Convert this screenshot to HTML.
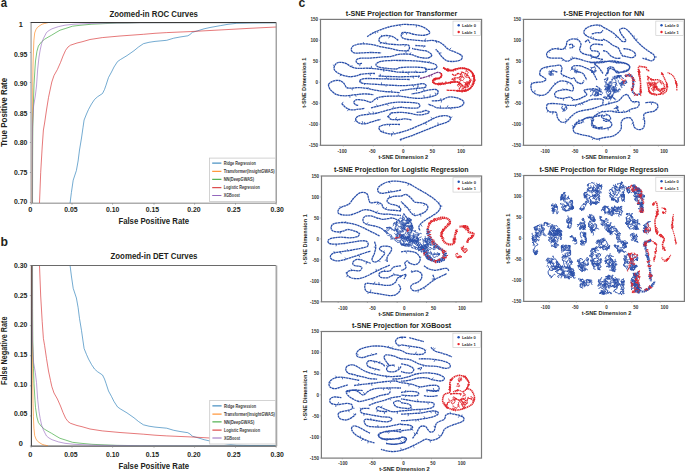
<!DOCTYPE html>
<html><head><meta charset="utf-8"><style>
html,body{margin:0;padding:0;background:#fff;width:685px;height:471px;overflow:hidden;}
svg{display:block;}
text{font-family:"Liberation Sans",sans-serif;}
</style></head><body>
<svg width="685" height="471" viewBox="0 0 685 471" font-family="Liberation Sans, sans-serif">
<rect width="685" height="471" fill="#fff"/>
<text transform="translate(0.7,6.9) scale(0.84,1)" font-size="13.6" font-weight="bold" fill="#231f20">a</text>
<text transform="translate(0.5,245.8) scale(0.9,1)" font-size="13.6" font-weight="bold" fill="#231f20">b</text>
<text transform="translate(298.4,7.0) scale(0.9,1)" font-size="13.6" font-weight="bold" fill="#231f20">c</text>
<line x1="31.1" y1="22.5" x2="31.1" y2="203.2" stroke="#b5b5b5" stroke-width="1.6"/>
<line x1="30.9" y1="203.2" x2="276.2" y2="203.2" stroke="#adadad" stroke-width="1.5"/>
<clipPath id="ca"><rect x="30.9" y="22.5" width="245.29999999999998" height="180.5"/></clipPath>
<g clip-path="url(#ca)">
<g>
<polyline points="69.0,215.0 70.1,202.8 71.4,192.5 73.2,180.2 76.4,170.5 78.1,161.0 79.5,150.0 81.5,138.0 83.0,127.5 84.1,120.0 86.5,114.0 88.5,109.5 91.5,104.0 94.5,99.5 97.5,96.8 102.5,93.5 104.5,89.5 106.0,85.2 108.5,77.5 111.5,72.0 114.0,67.0 117.5,61.6 120.5,59.5 127.0,55.6 134.0,50.7 138.5,47.0 143.4,43.7 149.0,42.3 155.0,41.4 166.7,40.3 173.7,38.2 180.0,37.0 187.8,35.8 190.0,34.5 192.4,32.3 197.0,31.0 204.1,28.8 210.0,27.5 220.5,25.6 228.0,24.3 236.8,23.3 250.0,23.0 276.5,22.8" fill="none" stroke="#1f77b4" stroke-width="1.0" stroke-linejoin="round" stroke-opacity="0.62"/>
<polyline points="32.2,215.0 32.4,150.0 32.7,87.8 33.0,65.0 33.4,52.0 33.9,40.3 34.7,32.9 36.0,29.5 37.5,27.3 40.0,25.5 42.1,24.2 44.5,23.5 46.6,23.0 48.0,22.6" fill="none" stroke="#ff7f0e" stroke-width="1.0" stroke-linejoin="round" stroke-opacity="0.62"/>
<polyline points="32.5,215.0 32.6,160.0 32.8,128.0 33.5,100.0 34.0,85.0 35.0,68.0 35.5,61.0 36.9,51.5 38.4,46.0 41.4,42.0 44.5,39.3 48.0,37.2 51.6,35.2 56.0,32.5 60.0,30.2 65.1,28.6 72.5,26.2 80.0,25.3 91.9,24.2 105.0,23.6 117.0,23.1 128.0,23.0 140.0,22.7 276.0,22.6" fill="none" stroke="#2ca02c" stroke-width="1.0" stroke-linejoin="round" stroke-opacity="0.62"/>
<polyline points="39.3,215.0 39.5,202.8 40.7,172.5 42.2,147.0 43.4,130.0 44.6,123.0 46.5,110.0 48.5,97.5 50.5,88.0 51.8,82.0 54.0,75.5 57.4,69.5 60.5,62.5 63.0,56.0 65.6,50.3 68.0,47.0 70.5,45.2 77.0,43.0 82.0,41.8 90.0,39.5 102.3,37.6 120.0,36.0 143.4,34.3 155.0,33.3 166.7,32.6 190.1,31.6 210.0,30.5 225.0,29.7 250.0,28.3 276.5,27.0" fill="none" stroke="#d62728" stroke-width="1.0" stroke-linejoin="round" stroke-opacity="0.62"/>
<polyline points="32.3,215.0 32.4,150.0 32.6,125.0 33.6,106.0 35.3,96.0 36.5,86.0 37.7,69.0 39.0,57.0 40.2,50.0 41.6,43.5 43.5,38.3 46.5,32.5 49.0,30.5 52.0,28.8 58.5,26.6 65.0,25.2 74.0,24.2 92.0,23.4 110.0,23.1 128.0,23.0 140.0,22.8 276.0,22.6" fill="none" stroke="#9467bd" stroke-width="1.0" stroke-linejoin="round" stroke-opacity="0.62"/>
</g></g>
<line x1="30.9" y1="22.5" x2="276.2" y2="22.5" stroke="#3a3a3a" stroke-width="1.1"/>
<line x1="276.2" y1="22.5" x2="276.2" y2="203.2" stroke="#858585" stroke-width="1.1"/>
<text x="153.7" y="17.2" font-size="8.6" font-weight="bold" text-anchor="middle" textLength="88.5" lengthAdjust="spacingAndGlyphs" fill="#231f20">Zoomed-in ROC Curves</text>
<text x="20.7" y="27.1" font-size="7.4" font-weight="bold" text-anchor="middle" fill="#231f20">1</text>
<line x1="29.9" y1="22.5" x2="30.9" y2="22.5" stroke="#888" stroke-width="0.8"/>
<text x="20.7" y="56.6" font-size="7.4" font-weight="bold" text-anchor="middle" textLength="13.4" lengthAdjust="spacingAndGlyphs" fill="#231f20">0.95</text>
<line x1="29.9" y1="52.5" x2="30.9" y2="52.5" stroke="#888" stroke-width="0.8"/>
<text x="20.7" y="86.1" font-size="7.4" font-weight="bold" text-anchor="middle" textLength="13.4" lengthAdjust="spacingAndGlyphs" fill="#231f20">0.90</text>
<line x1="29.9" y1="82.5" x2="30.9" y2="82.5" stroke="#888" stroke-width="0.8"/>
<text x="20.7" y="115.6" font-size="7.4" font-weight="bold" text-anchor="middle" textLength="13.4" lengthAdjust="spacingAndGlyphs" fill="#231f20">0.85</text>
<line x1="29.9" y1="112.5" x2="30.9" y2="112.5" stroke="#888" stroke-width="0.8"/>
<text x="20.7" y="145.1" font-size="7.4" font-weight="bold" text-anchor="middle" textLength="13.4" lengthAdjust="spacingAndGlyphs" fill="#231f20">0.80</text>
<line x1="29.9" y1="142.5" x2="30.9" y2="142.5" stroke="#888" stroke-width="0.8"/>
<text x="20.7" y="174.6" font-size="7.4" font-weight="bold" text-anchor="middle" textLength="13.4" lengthAdjust="spacingAndGlyphs" fill="#231f20">0.75</text>
<line x1="29.9" y1="172.5" x2="30.9" y2="172.5" stroke="#888" stroke-width="0.8"/>
<text x="20.7" y="204.1" font-size="7.4" font-weight="bold" text-anchor="middle" textLength="13.4" lengthAdjust="spacingAndGlyphs" fill="#231f20">0.70</text>
<line x1="29.9" y1="202.5" x2="30.9" y2="202.5" stroke="#888" stroke-width="0.8"/>
<text x="30.4" y="211.9" font-size="7.4" font-weight="bold" text-anchor="middle" fill="#231f20">0</text>
<line x1="31.1" y1="203.2" x2="31.1" y2="204.6" stroke="#888" stroke-width="0.8"/>
<text x="70.9" y="211.9" font-size="7.4" font-weight="bold" text-anchor="middle" textLength="13.4" lengthAdjust="spacingAndGlyphs" fill="#231f20">0.05</text>
<line x1="72.0" y1="203.2" x2="72.0" y2="204.6" stroke="#888" stroke-width="0.8"/>
<text x="112.6" y="211.9" font-size="7.4" font-weight="bold" text-anchor="middle" textLength="13.4" lengthAdjust="spacingAndGlyphs" fill="#231f20">0.10</text>
<line x1="112.6" y1="203.2" x2="112.6" y2="204.6" stroke="#888" stroke-width="0.8"/>
<text x="152.5" y="211.9" font-size="7.4" font-weight="bold" text-anchor="middle" textLength="13.4" lengthAdjust="spacingAndGlyphs" fill="#231f20">0.15</text>
<line x1="154.0" y1="203.2" x2="154.0" y2="204.6" stroke="#888" stroke-width="0.8"/>
<text x="194.0" y="211.9" font-size="7.4" font-weight="bold" text-anchor="middle" textLength="13.4" lengthAdjust="spacingAndGlyphs" fill="#231f20">0.20</text>
<line x1="194.6" y1="203.2" x2="194.6" y2="204.6" stroke="#888" stroke-width="0.8"/>
<text x="233.8" y="211.9" font-size="7.4" font-weight="bold" text-anchor="middle" textLength="13.4" lengthAdjust="spacingAndGlyphs" fill="#231f20">0.25</text>
<line x1="235.5" y1="203.2" x2="235.5" y2="204.6" stroke="#888" stroke-width="0.8"/>
<text x="277.1" y="211.9" font-size="7.4" font-weight="bold" text-anchor="middle" textLength="13.4" lengthAdjust="spacingAndGlyphs" fill="#231f20">0.30</text>
<line x1="276.2" y1="203.2" x2="276.2" y2="204.6" stroke="#888" stroke-width="0.8"/>
<text x="153.8" y="223.5" font-size="8.2" font-weight="bold" text-anchor="middle" textLength="70.8" lengthAdjust="spacingAndGlyphs" fill="#231f20">False Positive Rate</text>
<text transform="translate(7.0,112.3) rotate(-90)" font-size="8.2" font-weight="bold" text-anchor="middle" textLength="69" lengthAdjust="spacingAndGlyphs" fill="#231f20">True Positive Rate</text>
<rect x="209.5" y="158.1" width="66.0" height="43.30000000000001" fill="#fff" stroke="#c8c8c8" stroke-width="0.8"/>
<line x1="212.2" y1="163.1" x2="221.4" y2="163.1" stroke="#1f77b4" stroke-width="1.0"/>
<text x="223.7" y="164.75" font-size="4.7" font-weight="bold" text-anchor="start" textLength="32.1" lengthAdjust="spacingAndGlyphs" fill="#3a3a3a">Ridge Regression</text>
<line x1="212.2" y1="171.3" x2="221.4" y2="171.3" stroke="#ff7f0e" stroke-width="1.0"/>
<text x="223.7" y="172.95000000000002" font-size="4.7" font-weight="bold" text-anchor="start" textLength="51.0" lengthAdjust="spacingAndGlyphs" fill="#3a3a3a">Transformer(InsightGWAS)</text>
<line x1="212.2" y1="179.3" x2="221.4" y2="179.3" stroke="#2ca02c" stroke-width="1.0"/>
<text x="223.7" y="180.95000000000002" font-size="4.7" font-weight="bold" text-anchor="start" textLength="30.4" lengthAdjust="spacingAndGlyphs" fill="#3a3a3a">NN(DeepGWAS)</text>
<line x1="212.2" y1="187.7" x2="221.4" y2="187.7" stroke="#d62728" stroke-width="1.0"/>
<text x="223.7" y="189.35" font-size="4.7" font-weight="bold" text-anchor="start" textLength="36.1" lengthAdjust="spacingAndGlyphs" fill="#3a3a3a">Logistic Regression</text>
<line x1="212.2" y1="195.5" x2="221.4" y2="195.5" stroke="#9467bd" stroke-width="1.0"/>
<text x="223.7" y="197.15" font-size="4.7" font-weight="bold" text-anchor="start" textLength="16.1" lengthAdjust="spacingAndGlyphs" fill="#3a3a3a">XGBoost</text>
<line x1="31.4" y1="265.5" x2="31.4" y2="446.2" stroke="#444" stroke-width="1.1"/>
<line x1="30.9" y1="446.2" x2="276.2" y2="446.2" stroke="#555" stroke-width="1.3"/>
<clipPath id="cb"><rect x="30.9" y="265.5" width="245.29999999999998" height="180.5"/></clipPath>
<g clip-path="url(#cb)">
<g transform="translate(0,468.5) scale(1,-1)">
<polyline points="69.0,215.0 70.1,202.8 71.4,192.5 73.2,180.2 76.4,170.5 78.1,161.0 79.5,150.0 81.5,138.0 83.0,127.5 84.1,120.0 86.5,114.0 88.5,109.5 91.5,104.0 94.5,99.5 97.5,96.8 102.5,93.5 104.5,89.5 106.0,85.2 108.5,77.5 111.5,72.0 114.0,67.0 117.5,61.6 120.5,59.5 127.0,55.6 134.0,50.7 138.5,47.0 143.4,43.7 149.0,42.3 155.0,41.4 166.7,40.3 173.7,38.2 180.0,37.0 187.8,35.8 190.0,34.5 192.4,32.3 197.0,31.0 204.1,28.8 210.0,27.5 220.5,25.6 228.0,24.3 236.8,23.3 250.0,23.0 276.5,22.8" fill="none" stroke="#1f77b4" stroke-width="1.0" stroke-linejoin="round" stroke-opacity="0.62"/>
<polyline points="32.2,215.0 32.4,150.0 32.7,87.8 33.0,65.0 33.4,52.0 33.9,40.3 34.7,32.9 36.0,29.5 37.5,27.3 40.0,25.5 42.1,24.2 44.5,23.5 46.6,23.0 48.0,22.6" fill="none" stroke="#ff7f0e" stroke-width="1.0" stroke-linejoin="round" stroke-opacity="0.62"/>
<polyline points="32.5,215.0 32.6,160.0 32.8,128.0 33.5,100.0 34.0,85.0 35.0,68.0 35.5,61.0 36.9,51.5 38.4,46.0 41.4,42.0 44.5,39.3 48.0,37.2 51.6,35.2 56.0,32.5 60.0,30.2 65.1,28.6 72.5,26.2 80.0,25.3 91.9,24.2 105.0,23.6 117.0,23.1 128.0,23.0 140.0,22.7 276.0,22.6" fill="none" stroke="#2ca02c" stroke-width="1.0" stroke-linejoin="round" stroke-opacity="0.62"/>
<polyline points="39.3,215.0 39.5,202.8 40.7,172.5 42.2,147.0 43.4,130.0 44.6,123.0 46.5,110.0 48.5,97.5 50.5,88.0 51.8,82.0 54.0,75.5 57.4,69.5 60.5,62.5 63.0,56.0 65.6,50.3 68.0,47.0 70.5,45.2 77.0,43.0 82.0,41.8 90.0,39.5 102.3,37.6 120.0,36.0 143.4,34.3 155.0,33.3 166.7,32.6 190.1,31.6 210.0,30.5 225.0,29.7 250.0,28.3 276.5,27.0" fill="none" stroke="#d62728" stroke-width="1.0" stroke-linejoin="round" stroke-opacity="0.62"/>
<polyline points="32.3,215.0 32.4,150.0 32.6,125.0 33.6,106.0 35.3,96.0 36.5,86.0 37.7,69.0 39.0,57.0 40.2,50.0 41.6,43.5 43.5,38.3 46.5,32.5 49.0,30.5 52.0,28.8 58.5,26.6 65.0,25.2 74.0,24.2 92.0,23.4 110.0,23.1 128.0,23.0 140.0,22.8 276.0,22.6" fill="none" stroke="#9467bd" stroke-width="1.0" stroke-linejoin="round" stroke-opacity="0.62"/>
</g></g>
<line x1="30.9" y1="265.5" x2="276.2" y2="265.5" stroke="#6a6a6a" stroke-width="1.1"/>
<line x1="276.4" y1="265.5" x2="276.4" y2="446.2" stroke="#a8a8a8" stroke-width="1.8"/>
<text x="154.0" y="259.3" font-size="8.6" font-weight="bold" text-anchor="middle" textLength="87" lengthAdjust="spacingAndGlyphs" fill="#231f20">Zoomed-in DET Curves</text>
<text x="20.7" y="268.4" font-size="7.4" font-weight="bold" text-anchor="middle" textLength="13.4" lengthAdjust="spacingAndGlyphs" fill="#231f20">0.30</text>
<line x1="29.9" y1="265.5" x2="30.9" y2="265.5" stroke="#888" stroke-width="0.8"/>
<text x="20.7" y="297.92999999999995" font-size="7.4" font-weight="bold" text-anchor="middle" textLength="13.4" lengthAdjust="spacingAndGlyphs" fill="#231f20">0.25</text>
<line x1="29.9" y1="295.58" x2="30.9" y2="295.58" stroke="#888" stroke-width="0.8"/>
<text x="20.7" y="327.46" font-size="7.4" font-weight="bold" text-anchor="middle" textLength="13.4" lengthAdjust="spacingAndGlyphs" fill="#231f20">0.20</text>
<line x1="29.9" y1="325.65999999999997" x2="30.9" y2="325.65999999999997" stroke="#888" stroke-width="0.8"/>
<text x="20.7" y="356.99" font-size="7.4" font-weight="bold" text-anchor="middle" textLength="13.4" lengthAdjust="spacingAndGlyphs" fill="#231f20">0.15</text>
<line x1="29.9" y1="355.74" x2="30.9" y2="355.74" stroke="#888" stroke-width="0.8"/>
<text x="20.7" y="386.52" font-size="7.4" font-weight="bold" text-anchor="middle" textLength="13.4" lengthAdjust="spacingAndGlyphs" fill="#231f20">0.10</text>
<line x1="29.9" y1="385.82" x2="30.9" y2="385.82" stroke="#888" stroke-width="0.8"/>
<text x="20.7" y="416.04999999999995" font-size="7.4" font-weight="bold" text-anchor="middle" textLength="13.4" lengthAdjust="spacingAndGlyphs" fill="#231f20">0.05</text>
<line x1="29.9" y1="415.9" x2="30.9" y2="415.9" stroke="#888" stroke-width="0.8"/>
<text x="20.7" y="445.58" font-size="7.4" font-weight="bold" text-anchor="middle" fill="#231f20">0</text>
<line x1="29.9" y1="445.98" x2="30.9" y2="445.98" stroke="#888" stroke-width="0.8"/>
<text x="30.4" y="456.6" font-size="7.4" font-weight="bold" text-anchor="middle" fill="#231f20">0</text>
<line x1="31.1" y1="446.2" x2="31.1" y2="447.6" stroke="#888" stroke-width="0.8"/>
<text x="70.9" y="456.6" font-size="7.4" font-weight="bold" text-anchor="middle" textLength="13.4" lengthAdjust="spacingAndGlyphs" fill="#231f20">0.05</text>
<line x1="72.0" y1="446.2" x2="72.0" y2="447.6" stroke="#888" stroke-width="0.8"/>
<text x="112.6" y="456.6" font-size="7.4" font-weight="bold" text-anchor="middle" textLength="13.4" lengthAdjust="spacingAndGlyphs" fill="#231f20">0.10</text>
<line x1="112.6" y1="446.2" x2="112.6" y2="447.6" stroke="#888" stroke-width="0.8"/>
<text x="152.5" y="456.6" font-size="7.4" font-weight="bold" text-anchor="middle" textLength="13.4" lengthAdjust="spacingAndGlyphs" fill="#231f20">0.15</text>
<line x1="154.0" y1="446.2" x2="154.0" y2="447.6" stroke="#888" stroke-width="0.8"/>
<text x="194.0" y="456.6" font-size="7.4" font-weight="bold" text-anchor="middle" textLength="13.4" lengthAdjust="spacingAndGlyphs" fill="#231f20">0.20</text>
<line x1="194.6" y1="446.2" x2="194.6" y2="447.6" stroke="#888" stroke-width="0.8"/>
<text x="233.8" y="456.6" font-size="7.4" font-weight="bold" text-anchor="middle" textLength="13.4" lengthAdjust="spacingAndGlyphs" fill="#231f20">0.25</text>
<line x1="235.5" y1="446.2" x2="235.5" y2="447.6" stroke="#888" stroke-width="0.8"/>
<text x="277.1" y="456.6" font-size="7.4" font-weight="bold" text-anchor="middle" textLength="13.4" lengthAdjust="spacingAndGlyphs" fill="#231f20">0.30</text>
<line x1="276.2" y1="446.2" x2="276.2" y2="447.6" stroke="#888" stroke-width="0.8"/>
<text x="153.8" y="468.5" font-size="8.2" font-weight="bold" text-anchor="middle" textLength="70.8" lengthAdjust="spacingAndGlyphs" fill="#231f20">False Positive Rate</text>
<text transform="translate(7.0,350.7) rotate(-90)" font-size="8.2" font-weight="bold" text-anchor="middle" textLength="68.5" lengthAdjust="spacingAndGlyphs" fill="#231f20">False Negative Rate</text>
<rect x="209.7" y="400.4" width="65.80000000000001" height="43.60000000000002" fill="#fff" stroke="#c8c8c8" stroke-width="0.8"/>
<line x1="212.39999999999998" y1="405.9" x2="221.6" y2="405.9" stroke="#1f77b4" stroke-width="1.0"/>
<text x="223.89999999999998" y="407.54999999999995" font-size="4.7" font-weight="bold" text-anchor="start" textLength="32.1" lengthAdjust="spacingAndGlyphs" fill="#3a3a3a">Ridge Regression</text>
<line x1="212.39999999999998" y1="414.1" x2="221.6" y2="414.1" stroke="#ff7f0e" stroke-width="1.0"/>
<text x="223.89999999999998" y="415.75" font-size="4.7" font-weight="bold" text-anchor="start" textLength="51.0" lengthAdjust="spacingAndGlyphs" fill="#3a3a3a">Transformer(InsightGWAS)</text>
<line x1="212.39999999999998" y1="421.9" x2="221.6" y2="421.9" stroke="#2ca02c" stroke-width="1.0"/>
<text x="223.89999999999998" y="423.54999999999995" font-size="4.7" font-weight="bold" text-anchor="start" textLength="30.4" lengthAdjust="spacingAndGlyphs" fill="#3a3a3a">NN(DeepGWAS)</text>
<line x1="212.39999999999998" y1="430.1" x2="221.6" y2="430.1" stroke="#d62728" stroke-width="1.0"/>
<text x="223.89999999999998" y="431.75" font-size="4.7" font-weight="bold" text-anchor="start" textLength="36.1" lengthAdjust="spacingAndGlyphs" fill="#3a3a3a">Logistic Regression</text>
<line x1="212.39999999999998" y1="438.0" x2="221.6" y2="438.0" stroke="#9467bd" stroke-width="1.0"/>
<text x="223.89999999999998" y="439.65" font-size="4.7" font-weight="bold" text-anchor="start" textLength="16.1" lengthAdjust="spacingAndGlyphs" fill="#3a3a3a">XGBoost</text>
<path d="M367.1,36.6 C368.2,36.0 371.2,33.9 373.5,32.7 C375.8,31.5 378.6,30.6 381.1,29.6 C383.7,28.7 385.7,27.8 388.8,27.0 C391.9,26.2 396.9,25.2 400.0,24.8 C403.1,24.4 404.8,24.4 407.6,24.5 C410.4,24.6 413.8,24.6 416.6,25.1 C419.4,25.6 422.1,26.5 424.2,27.6 C426.3,28.7 428.6,30.4 429.3,31.5 C430.1,32.6 429.8,33.4 428.7,34.0 C427.6,34.6 425.1,35.2 422.9,35.3 C420.7,35.4 417.9,35.0 415.3,34.6 C412.8,34.2 409.7,33.0 407.6,32.7 C405.5,32.4 403.6,32.2 402.5,32.7 C401.4,33.2 401.1,34.9 401.3,35.9 C401.5,36.9 402.3,37.9 403.8,38.5 C405.3,39.1 407.9,39.4 410.2,39.7 C412.5,40.0 415.2,40.2 417.8,40.4 C420.4,40.6 423.2,41.0 425.5,41.0 C427.8,41.0 429.7,40.3 431.8,40.4 C433.9,40.5 436.3,41.0 438.2,41.7 C440.1,42.4 441.6,43.5 443.3,44.8 C445.0,46.1 446.3,48.0 448.4,49.3 C450.5,50.6 453.9,51.4 456.1,52.5 C458.3,53.6 461.0,54.5 461.8,55.7 C462.6,56.9 462.3,58.5 461.1,59.5 C459.9,60.5 457.1,61.2 454.8,61.4 C452.5,61.6 449.2,61.5 447.1,60.8 C445.0,60.0 443.5,58.4 442.0,56.9 C440.5,55.4 439.2,53.1 438.2,51.8 C437.1,50.5 436.1,49.7 435.7,49.3 M398.3,40.4 C397.4,39.8 394.6,37.4 392.6,36.6 C390.6,35.8 388.1,35.5 386.2,35.5 C384.3,35.5 382.3,35.9 381.1,36.6 C379.9,37.3 379.0,38.8 378.9,39.7 C378.8,40.7 379.3,41.6 380.5,42.3 C381.7,42.9 384.0,43.2 386.2,43.6 C388.4,44.0 391.6,44.3 393.9,44.5 C396.2,44.7 397.7,44.8 400.0,44.8 C402.3,44.8 406.0,44.4 407.6,44.8 C409.2,45.2 409.5,46.4 409.5,47.4 C409.5,48.4 409.2,50.1 407.6,50.6 C406.0,51.1 402.7,50.9 400.0,50.6 C397.3,50.3 394.4,49.3 391.3,48.7 C388.2,48.1 384.1,47.4 381.1,46.8 C378.1,46.1 376.0,45.3 373.5,44.8 C371.0,44.3 368.4,44.0 365.9,43.9 C363.3,43.8 360.3,43.8 358.2,44.2 C356.1,44.6 354.3,45.2 353.1,46.1 C351.9,47.0 351.0,48.8 351.2,49.9 C351.4,51.0 352.6,52.4 354.4,52.9 C356.2,53.4 359.2,53.0 362.0,52.9 C364.8,52.8 367.8,52.5 371.0,52.5 C374.2,52.5 379.4,52.8 381.1,52.9 M362.0,63.3 C361.5,63.4 359.8,64.1 358.9,63.9 C357.9,63.7 356.6,62.7 356.3,62.0 C356.0,61.3 356.1,60.1 356.9,59.5 C357.6,58.9 358.9,58.4 360.8,58.2 C362.7,58.0 365.8,58.3 368.4,58.2 C370.9,58.1 373.6,57.8 376.1,57.6 C378.7,57.4 381.2,57.1 383.7,56.9 C386.2,56.7 388.6,56.8 391.3,56.3 C394.0,55.8 396.9,54.5 400.0,54.2 C403.1,53.9 407.0,53.9 410.2,54.4 C413.4,54.9 416.1,56.6 419.1,57.2 C422.1,57.8 425.9,58.4 428.0,58.0 C430.1,57.6 432.0,56.1 431.8,55.0 C431.6,53.9 428.9,52.1 426.8,51.2 C424.7,50.4 421.6,50.4 419.1,49.9 C416.6,49.4 413.2,48.7 412.0,48.5 M415.3,45.5 L425.5,46.1 M425.0,69.5 C426.6,69.4 432.4,69.5 434.4,69.0 C436.4,68.5 436.9,67.3 436.9,66.5 C436.9,65.7 436.3,64.8 434.4,64.0 C432.5,63.2 429.1,62.5 425.5,62.0 C421.9,61.5 416.9,61.0 412.7,60.8 C408.4,60.5 403.6,60.5 400.0,60.5 C396.4,60.5 394.4,60.4 391.3,60.5 C388.2,60.6 383.5,60.9 381.1,61.4 C378.7,61.9 377.5,62.7 376.7,63.3 C375.9,63.9 375.8,64.6 376.1,65.2 C376.4,65.8 376.9,66.6 378.6,67.1 C380.3,67.6 383.2,67.9 386.2,68.2 C389.2,68.5 394.1,69.1 396.4,69.0 C398.7,68.9 397.3,67.9 400.0,67.6 C402.7,67.3 408.7,67.1 412.7,67.1 C416.7,67.1 421.8,67.4 424.2,67.8 C426.6,68.2 426.8,69.0 426.8,69.7 C426.8,70.4 426.6,71.8 424.2,72.2 C421.8,72.6 416.7,72.2 412.7,72.2 C408.7,72.2 403.6,72.4 400.0,72.2 C396.4,72.0 394.4,71.5 391.3,71.0 C388.2,70.5 384.1,69.9 381.1,69.5 C378.1,69.1 376.0,68.8 373.5,68.6 C371.0,68.4 368.4,68.2 365.9,68.2 C363.3,68.2 360.5,68.6 358.2,68.4 C355.9,68.2 353.7,67.8 351.8,67.1 C349.9,66.3 348.5,64.7 346.8,63.9 C345.1,63.1 343.4,62.4 341.7,62.3 C340.0,62.2 337.9,62.4 336.6,63.3 C335.3,64.2 334.1,66.4 334.0,67.8 C333.9,69.2 334.6,70.4 335.9,71.6 C337.2,72.8 339.5,73.9 341.7,74.8 C343.9,75.7 347.0,76.5 349.3,76.7 C351.6,76.9 353.6,76.4 355.7,76.0 C357.8,75.6 359.7,74.5 362.0,74.1 C364.3,73.7 367.5,73.6 369.7,73.5 C371.9,73.4 374.1,73.5 375.0,73.5 M378.6,76.0 C380.5,76.1 386.4,76.4 390.0,76.5 C393.6,76.6 396.3,76.8 400.0,76.8 C403.7,76.8 408.7,76.6 412.0,76.5 C415.3,76.4 418.7,76.2 420.0,76.2 M359.5,80.5 C360.4,80.2 361.2,78.9 364.6,78.6 C368.0,78.3 374.1,78.7 380.0,78.8 C385.9,78.9 395.0,79.2 400.0,79.3 C405.0,79.4 408.3,79.5 410.0,79.5 M359.5,80.5 C359.9,80.9 359.0,82.4 362.0,83.1 C365.0,83.8 371.0,84.0 377.3,84.4 C383.6,84.8 394.1,85.5 400.0,85.6 C405.9,85.7 408.9,85.3 412.7,85.0 C416.5,84.7 420.7,83.6 422.9,83.7 C425.1,83.8 425.9,84.9 426.1,85.6 C426.3,86.2 426.4,87.1 424.2,87.6 C422.0,88.1 416.7,88.3 412.7,88.8 C408.7,89.3 402.1,90.4 400.0,90.7 M328.3,84.4 C329.0,83.9 330.9,81.9 332.7,81.2 C334.5,80.5 337.3,80.2 339.1,80.5 C340.9,80.8 342.3,81.9 343.6,83.1 C344.9,84.3 345.4,86.8 346.8,87.6 C348.2,88.4 349.9,88.2 351.8,88.2 C353.7,88.2 355.9,87.6 358.2,87.6 C360.5,87.6 363.1,87.8 365.9,88.2 C368.7,88.6 371.8,89.6 374.8,90.1 C377.8,90.6 379.5,91.0 383.7,91.4 C387.9,91.8 397.3,92.4 400.0,92.6 M328.3,84.4 C328.6,85.2 328.8,87.8 330.2,89.5 C331.6,91.2 334.1,93.5 336.6,94.6 C339.2,95.6 342.3,95.8 345.5,95.8 C348.7,95.8 352.5,94.9 355.7,94.6 C358.9,94.3 361.6,93.9 364.6,93.9 C367.6,93.9 372.0,94.5 373.5,94.6 M358.2,105.4 C357.8,105.3 356.4,105.3 355.7,104.8 C355.0,104.3 353.6,103.0 353.8,102.2 C354.0,101.4 355.1,100.0 356.9,99.7 C358.7,99.4 362.2,99.9 364.6,100.3 C367.0,100.7 369.1,102.5 371.0,102.2 C372.9,101.9 374.0,99.4 376.1,98.4 C378.2,97.5 379.7,96.9 383.7,96.5 C387.7,96.1 395.6,96.0 400.0,96.2 C404.4,96.4 407.0,97.3 410.2,97.7 C413.4,98.1 415.9,98.5 419.1,98.4 C422.3,98.3 426.5,97.6 429.3,97.1 C432.1,96.6 434.2,96.0 435.7,95.2 C437.2,94.4 438.2,93.0 438.2,92.0 C438.2,91.0 437.4,89.8 435.7,89.5 C434.0,89.2 430.8,89.6 428.0,90.1 C425.2,90.6 421.9,92.0 419.1,92.6 C416.4,93.2 412.8,93.7 411.5,93.9 M341.7,103.5 C342.3,104.1 344.0,106.2 345.5,107.3 C347.0,108.3 348.5,109.5 350.6,109.8 C352.7,110.1 355.9,109.5 358.2,109.2 C360.5,109.0 363.5,108.5 364.6,108.3 M371.0,107.9 C372.7,107.5 377.7,106.2 381.1,105.4 C384.5,104.6 388.2,103.3 391.3,102.8 C394.4,102.3 396.0,102.2 400.0,102.2 C404.0,102.2 412.0,102.4 415.3,102.8 C418.6,103.2 419.3,103.9 419.7,104.8 C420.1,105.7 419.8,107.4 417.8,107.9 C415.8,108.4 410.6,108.0 407.6,107.9 C404.6,107.8 403.1,107.0 400.0,107.3 C396.9,107.6 392.6,108.8 388.8,109.8 C385.0,110.8 380.7,112.2 377.3,113.0 C373.9,113.8 371.4,113.9 368.4,114.3 C365.4,114.7 361.6,114.8 359.5,115.6 C357.4,116.3 355.9,117.6 355.7,118.8 C355.5,120.0 356.7,121.8 358.2,122.6 C359.7,123.4 362.1,124.1 364.6,123.9 C367.2,123.7 370.9,122.0 373.5,121.3 C376.1,120.5 379.3,119.7 380.5,119.4 M431.8,100.9 C433.3,100.8 438.0,100.9 440.8,100.3 C443.6,99.7 445.8,97.5 448.4,97.1 C450.9,96.7 453.8,97.2 456.1,97.7 C458.4,98.2 461.1,99.3 462.4,100.3 C463.7,101.3 464.1,102.4 463.7,103.5 C463.3,104.6 462.0,106.0 459.9,106.7 C457.8,107.4 454.6,107.7 451.0,107.9 C447.4,108.1 441.2,108.2 438.2,107.9 C435.2,107.6 434.8,106.6 433.1,106.0 C431.4,105.4 428.9,104.4 428.0,104.1 M387.3,117.0 C387.8,116.6 389.3,115.2 390.0,114.5 C390.7,113.8 389.6,113.3 391.3,113.0 C393.0,112.7 397.3,112.4 400.0,112.4 C402.7,112.4 404.4,112.6 407.6,113.0 C410.8,113.4 415.9,114.8 419.1,114.9 C422.3,115.0 425.1,114.2 426.8,113.7 C428.5,113.2 429.5,112.3 429.3,111.8 C429.1,111.3 426.8,110.5 425.5,110.5 C424.2,110.5 423.2,111.5 421.7,111.8 C420.2,112.1 417.5,112.3 416.6,112.4 M388.2,116.2 C388.7,116.7 389.3,118.9 391.3,119.4 C393.3,120.0 397.7,119.6 400.0,119.5 C402.3,119.4 403.2,118.7 405.1,118.8 C407.0,118.9 410.4,119.8 411.5,120.0 M400.0,124.5 C397.7,124.5 389.6,124.2 386.2,124.5 C382.8,124.8 381.1,125.7 379.9,126.4 C378.7,127.2 378.8,128.1 379.2,129.0 C379.6,129.9 380.4,131.3 382.4,132.1 C384.4,132.9 388.4,133.9 391.3,134.0 C394.2,134.1 396.9,133.3 400.0,132.5 C403.1,131.7 405.8,131.0 410.0,129.3 C414.2,127.7 421.2,124.6 425.5,122.6 C429.8,120.6 432.5,118.7 435.7,117.5 C438.9,116.3 442.3,115.7 444.6,115.6 C446.9,115.5 448.8,116.3 449.7,116.9 C450.6,117.5 450.7,118.6 450.3,119.4 C449.9,120.2 449.1,121.0 447.1,122.0 C445.1,123.0 441.8,123.7 438.2,125.1 C434.6,126.5 429.8,128.5 425.5,130.2 C421.2,131.9 416.1,134.0 412.7,135.3 C409.3,136.6 407.3,137.2 405.1,137.9 C402.9,138.7 400.4,139.5 399.5,139.8" fill="none" stroke="#2b50aa" stroke-width="1.3" stroke-dasharray="2.4 0.4" stroke-linecap="butt" stroke-linejoin="round"/>
<path d="M375.0,32.6 l0.3,0.8 M377.3,31.7 l0.4,0.8 M399.8,25.4 l0.6,0.8 M416.6,25.6 l-0.3,1.4 M406.5,33.2 l0.0,1.0 M403.3,33.2 l-0.6,1.2 M424.8,40.4 l0.8,-1.6 M436.4,41.8 l0.3,0.9 M449.7,49.3 l1.2,-1.2 M439.7,53.0 l1.4,-0.1 M389.6,36.6 l-0.8,1.4 M381.9,35.9 l-0.5,-0.7 M380.4,42.8 l-0.1,0.9 M386.0,43.0 l-0.1,-0.9 M405.3,45.3 l-0.4,1.0 M408.1,50.7 l0.8,0.5 M406.3,51.1 l-0.4,1.6 M363.2,43.5 l0.2,-1.0 M360.0,64.2 l-0.2,1.6 M410.1,53.9 l0.7,-1.1 M424.0,46.5 l-0.3,0.7 M428.8,62.2 l0.6,-0.9 M384.2,68.4 l-0.7,1.3 M416.0,71.7 l-0.2,-0.8 M407.7,72.7 l0.8,1.6 M403.1,71.7 l-0.1,-0.9 M383.4,70.3 l0.4,1.1 M371.4,68.0 l-0.0,-1.7 M351.7,66.4 l0.3,-0.9 M334.5,65.9 l-1.3,-0.8 M341.1,75.0 l-1.0,0.8 M370.0,74.0 l0.4,1.5 M380.5,75.6 l-0.3,-1.4 M413.0,77.0 l0.5,1.2 M418.1,76.8 l0.7,1.0 M360.5,80.7 l0.4,1.3 M386.3,78.5 l0.4,-1.4 M364.8,83.8 l-0.4,0.8 M381.4,84.1 l0.1,-1.3 M385.8,85.3 l0.2,0.9 M413.1,85.4 l0.5,1.4 M418.0,84.8 l-0.2,1.5 M417.5,87.8 l0.7,-1.6 M416.3,88.9 l0.3,1.7 M351.9,88.7 l0.4,1.2 M367.7,88.1 l0.6,-0.7 M391.0,91.4 l0.6,-0.9 M350.0,95.8 l-0.1,1.6 M355.6,95.1 l0.4,1.2 M377.1,98.7 l0.5,0.9 M398.3,95.7 l-0.0,-0.9 M424.2,97.2 l-0.3,-1.7 M430.0,96.4 l0.2,-1.6 M435.7,94.4 l-0.5,-1.4 M423.9,90.7 l-0.2,-1.7 M342.2,103.3 l0.8,-1.1 M348.6,109.4 l-1.0,1.4 M377.2,105.9 l-0.6,-1.1 M387.2,104.4 l0.9,1.2 M393.0,108.3 l0.4,-1.6 M373.5,113.0 l-0.4,-1.1 M369.9,113.6 l-1.0,-1.5 M355.9,120.0 l-1.0,1.4 M362.8,123.0 l-0.5,-1.5 M364.6,123.4 l0.0,-1.1 M440.2,99.8 l0.6,-1.3 M441.6,100.5 l-0.3,1.7 M450.5,108.4 l0.5,0.9 M447.0,107.4 l0.8,-1.6 M440.5,107.4 l-0.1,-1.5 M395.6,118.9 l0.8,-1.4 M397.9,120.0 l-0.5,0.8 M389.4,125.0 l0.2,1.0 M383.2,131.8 l-0.0,-1.0 M391.6,134.5 l0.0,1.4 M393.7,133.1 l-0.5,-1.1 M425.5,123.2 l0.8,1.4 M432.5,118.5 l-1.4,-1.0 M450.5,118.0 l1.5,-1.0 M438.2,124.6 l-0.3,-1.7 M400.9,139.9 l-0.1,0.8" fill="none" stroke="#2b50aa" stroke-width="0.8" stroke-linecap="round"/>
<path d="M420.0,78.4 C420.9,78.2 423.2,77.8 425.3,77.1 C427.4,76.4 430.3,75.2 432.3,74.4 C434.3,73.6 436.1,72.5 437.5,72.3 C438.9,72.1 440.4,73.0 441.0,73.1" fill="none" stroke="#7a3a8a" stroke-width="1.3" stroke-dasharray="2.4 0.4" stroke-linecap="butt" stroke-linejoin="round"/>
<path d="M429.1,76.2 l0.3,0.8 M431.2,75.4 l0.4,0.8" fill="none" stroke="#7a3a8a" stroke-width="0.8" stroke-linecap="round"/>
<path d="M443.2,67.4 C443.7,67.8 444.9,69.1 446.3,69.6 C447.7,70.1 449.8,70.6 451.5,70.5 C453.2,70.4 454.8,69.2 456.8,68.8 C458.9,68.4 461.6,68.0 463.8,68.3 C466.0,68.6 468.3,69.4 469.9,70.5 C471.5,71.6 472.7,73.3 473.4,74.9 C474.1,76.5 474.4,78.3 474.3,80.1 C474.2,81.8 473.5,83.8 472.5,85.4 C471.5,87.0 469.9,88.8 468.2,89.8 C466.4,90.8 463.9,91.0 462.0,91.1 C460.1,91.2 459.4,90.8 456.8,90.6 C454.2,90.4 448.1,90.3 446.3,90.2 M441.0,73.1 C441.1,73.5 441.8,74.9 441.5,75.8 C441.2,76.7 440.4,77.9 439.3,78.4 C438.2,78.9 436.0,78.4 434.9,78.8 C433.8,79.2 432.8,80.3 432.7,81.0 C432.6,81.7 432.9,82.7 434.0,83.2 C435.1,83.7 437.2,84.1 439.3,84.1 C441.4,84.1 444.3,83.5 446.3,83.2 C448.3,82.9 449.8,82.5 451.5,82.3 C453.2,82.1 455.3,81.7 456.8,81.9 C458.3,82.1 459.3,82.9 460.3,83.6 C461.3,84.3 462.1,85.2 463.0,86.0 C463.9,86.8 465.5,88.1 466.0,88.5 M452.0,74.0 C452.5,74.2 454.0,75.6 455.0,75.5 C456.0,75.4 457.0,73.6 458.0,73.5 C459.0,73.4 460.8,74.3 461.0,75.0 C461.2,75.7 460.0,77.0 459.0,77.5 C458.0,78.0 456.2,77.7 455.0,78.0 C453.8,78.3 451.8,79.2 452.0,79.5 C452.2,79.8 455.3,79.9 456.0,80.0 M462.0,72.0 C462.7,72.3 464.8,73.2 466.0,74.0 C467.2,74.8 468.3,75.8 469.0,77.0 C469.7,78.2 470.2,79.7 470.0,81.0 C469.8,82.3 468.8,84.0 468.0,85.0 C467.2,86.0 465.5,86.7 465.0,87.0 M458.0,84.0 C458.5,84.4 460.8,85.8 461.0,86.5 C461.2,87.2 459.3,88.2 459.0,88.5" fill="none" stroke="#e0242a" stroke-width="1.3" stroke-dasharray="2.4 0.4" stroke-linecap="butt" stroke-linejoin="round"/>
<path d="M453.1,70.5 l0.3,0.8 M455.5,69.8 l0.3,0.8 M473.7,79.8 l-0.8,0.6 M459.3,90.3 l0.0,-1.5 M442.5,83.2 l-0.1,-0.9 M445.5,82.8 l0.4,-1.3 M460.3,74.1 l1.3,-1.2 M453.8,80.2 l0.4,0.8 M469.0,84.1 l1.1,1.3" fill="none" stroke="#e0242a" stroke-width="0.8" stroke-linecap="round"/>
<path d="M467.4,82.9 L468.3,83.1 L469.6,83.4 L470.3,82.6 L470.6,81.8 L470.1,80.8 L469.2,80.7 L468.7,81.8 L468.3,82.7 L467.6,83.2 L467.1,82.8 L467.1,81.9 M465.5,71.7 L466.3,71.5 L466.2,70.3 L466.6,70.9 L467.3,71.2 L467.8,71.8 L468.3,72.9 L467.7,73.5 L467.2,74.3 L467.2,75.1 L466.6,75.2 L466.3,76.2 L466.9,76.7 M467.8,87.7 L468.1,86.8 L467.9,86.0 L467.0,85.3 L466.4,84.8 L466.7,83.7 L467.9,83.4 L468.5,82.3 L469.3,82.1 L470.0,81.4 L470.7,81.0 L471.7,80.3 M459.7,77.4 L460.4,78.5 L461.5,78.0 L461.8,77.2 L462.4,77.1 L462.7,76.3 L462.2,75.6 L462.3,74.6 L461.4,73.9 L461.8,72.9 L461.3,72.2 L461.3,71.4 M463.3,81.9 L464.3,82.4 L465.1,82.8 L466.2,83.3 L466.3,84.2 L465.9,84.7 L465.3,84.5 L465.5,83.2 L466.0,82.1 L466.5,81.8 L467.8,81.8 L468.4,82.3 M458.6,86.8 L457.9,85.8 L457.4,85.5 L457.6,84.6 L458.2,84.2 L459.3,83.6 L459.4,82.3 L459.8,81.3 L460.8,80.7 L460.9,79.7 L460.4,79.2 L459.2,78.8 M471.5,79.2 L470.7,79.4 L470.0,79.2 L469.3,78.2 L468.7,77.6 L468.0,77.7 L467.5,77.1 L466.5,77.5 L465.4,77.0 L465.2,76.3 L464.8,75.5 L464.5,74.4 M465.2,83.6 L466.2,84.2 L467.3,84.6 L467.1,85.7 L468.0,86.2 L468.7,86.6 L468.0,86.0 L467.6,85.0 L467.1,83.9 L466.7,83.3 L467.2,82.3 M465.8,85.5 L465.2,85.1 L465.1,84.4 L465.6,83.8 L466.4,84.3 L466.1,85.0 L465.3,84.9 L464.9,85.7 L464.7,86.6 L465.6,87.4 L466.5,87.2 L467.0,87.0 L467.8,87.0 M458.9,79.7 L460.1,79.6 L460.7,80.4 L461.6,80.3 L462.7,80.6 L463.2,79.9 L463.6,79.4 L464.2,78.3 L463.9,77.5 L462.9,77.3 L462.3,76.4 L461.2,76.6 M464.1,88.4 L463.0,88.7 L462.6,89.2 L461.6,89.2 L462.7,88.8 L463.0,87.6 L462.8,86.4 L463.0,85.6 L462.6,85.2 L461.8,84.9 L461.0,84.2 L460.7,83.2" fill="none" stroke="#e0242a" stroke-width="0.85" stroke-linejoin="round"/>
<path d="M443.2,67.4 C443.7,67.8 444.9,69.1 446.3,69.6 C447.7,70.1 449.8,70.6 451.5,70.5 C453.2,70.4 454.8,69.2 456.8,68.8 C458.9,68.4 461.6,68.0 463.8,68.3 C466.0,68.6 468.3,69.4 469.9,70.5 C471.5,71.6 472.7,73.3 473.4,74.9 C474.1,76.5 474.4,78.3 474.3,80.1 C474.2,81.8 473.5,83.8 472.5,85.4 C471.5,87.0 469.9,88.8 468.2,89.8 C466.4,90.8 463.9,91.0 462.0,91.1 C460.1,91.2 457.7,90.7 456.8,90.6" fill="none" stroke="#e0242a" stroke-width="1.87" stroke-dasharray="1.3 0.5" stroke-linejoin="round"/>
<path d="M457.3,91.2 L457.1,91.9 L457.3,90.8 L458.3,90.5 L459.1,90.9 L460.3,91.1 L461.2,90.3 L462.2,90.7 L462.9,91.2 L462.5,92.2 L461.4,92.0 M472.8,78.9 L474.0,78.3 L474.1,77.6 L474.2,77.0 L474.3,76.3 L474.3,75.0 L473.5,75.2 L472.9,75.1 L472.6,75.7 L472.2,76.4 L472.4,76.9 L472.3,76.3 L473.0,75.9 L473.6,76.1 M447.2,71.2 L448.1,71.1 L449.1,71.2 L449.1,70.3 L448.1,69.8 L448.2,69.2 L447.5,68.5 L447.8,69.5 L448.4,70.2 L448.1,70.8 L448.9,70.2 L449.1,69.6 L449.3,68.9 M466.2,91.3 L465.7,90.9 L464.7,91.3 L464.8,90.6 L465.4,90.2 L465.6,89.1 L465.6,89.8 L466.1,90.6 L467.1,90.4 L467.3,89.4 L468.1,88.6 L468.1,89.8 M474.2,79.3 L474.6,80.2 L475.5,80.1 L474.8,80.2 L474.7,81.1 L473.7,80.9 L473.5,81.5 L472.8,81.4 L473.4,82.0 L472.9,82.6 L472.4,83.6 L471.6,84.0 L472.2,84.6 M464.4,90.2 L464.0,89.6 L463.9,90.2 L464.4,90.9 L464.9,91.6 L465.1,90.7 L464.7,90.2 L464.0,90.7 L463.1,90.2 L463.9,90.6 L465.1,90.6 L465.9,89.9 L465.5,89.3 M469.3,70.2 L470.0,70.9 L470.6,71.5 L471.8,71.8 L472.3,72.3 L472.4,73.0 L472.8,73.6 L473.0,74.3 L472.3,74.8 L472.8,75.7 L473.9,76.4 L474.7,76.0 M448.1,70.4 L447.3,70.6 L448.3,69.7 L448.7,68.8 L447.6,68.7 L447.0,69.3 L446.9,70.6 L447.6,70.8 L446.9,70.1 L447.2,69.4 L446.7,68.8 L447.2,69.5" fill="none" stroke="#e0242a" stroke-width="0.85" stroke-linejoin="round"/>
<path d="M441.0,73.1 C441.1,73.5 441.8,74.9 441.5,75.8 C441.2,76.7 440.4,77.9 439.3,78.4 C438.2,78.9 436.0,78.4 434.9,78.8 C433.8,79.2 432.8,80.3 432.7,81.0 C432.6,81.7 432.9,82.7 434.0,83.2 C435.1,83.7 437.2,84.1 439.3,84.1 C441.4,84.1 444.3,83.5 446.3,83.2 C448.3,82.9 449.8,82.5 451.5,82.3 C453.2,82.1 455.3,81.7 456.8,81.9 C458.3,82.1 459.7,83.3 460.3,83.6" fill="none" stroke="#e0242a" stroke-width="1.73" stroke-dasharray="1.3 0.5" stroke-linejoin="round"/>
<path d="M435.5,79.0 L435.5,79.9 L434.7,80.0 L434.3,79.4 L434.4,78.6 L434.9,77.9 L434.3,78.9 L434.5,79.5 L434.5,80.2 L433.8,81.3 L434.0,82.0 L434.6,82.9 L434.1,83.4 M440.6,84.9 L439.6,84.8 L439.3,84.2 L438.7,84.4 L438.0,83.7 L438.7,82.7 L439.0,84.0 L439.7,84.3 L440.3,84.8 L440.0,84.0 L440.5,83.4 L439.9,82.8 L439.6,83.9 M435.1,79.8 L435.7,79.9 L436.4,79.5 L435.2,79.6 L435.2,78.5 L436.0,77.6 L436.6,78.2 L437.2,78.2 L438.1,78.0 L439.1,77.9 L439.8,78.1 L440.0,77.3 L440.4,76.4 M445.5,84.4 L444.6,84.0 L444.2,84.4 L443.3,83.9 L442.7,84.1 L442.2,83.5 L441.6,83.1 L440.6,82.9 L440.2,83.5 L439.5,84.3 L438.7,85.1 L438.1,84.7 L437.1,84.6 M454.5,81.9 L453.7,82.0 L452.8,82.3 L452.2,81.9 L451.3,81.4 L450.3,81.9 L450.1,83.0 L450.7,83.8 L450.4,83.1 L449.6,82.5 L449.0,82.1 L448.6,82.5 L448.0,82.9" fill="none" stroke="#e0242a" stroke-width="0.85" stroke-linejoin="round"/>
<text x="401.55" y="15.7" font-size="7.7" font-weight="bold" text-anchor="middle" textLength="111.5" lengthAdjust="spacingAndGlyphs" fill="#231f20">t-SNE Projection for Transformer</text>
<rect x="320.5" y="19.4" width="161.10000000000002" height="125.9" fill="none" stroke="#7a7a7a" stroke-width="1.2"/>
<text x="318.1" y="21.099999999999998" font-size="4.6" font-weight="bold" text-anchor="end" fill="#333">150</text>
<line x1="319.3" y1="19.4" x2="320.5" y2="19.4" stroke="#888" stroke-width="0.6"/>
<text x="318.1" y="42.083333333333336" font-size="4.6" font-weight="bold" text-anchor="end" fill="#333">100</text>
<line x1="319.3" y1="40.38333333333333" x2="320.5" y2="40.38333333333333" stroke="#888" stroke-width="0.6"/>
<text x="318.1" y="63.06666666666667" font-size="4.6" font-weight="bold" text-anchor="end" fill="#333">50</text>
<line x1="319.3" y1="61.36666666666667" x2="320.5" y2="61.36666666666667" stroke="#888" stroke-width="0.6"/>
<text x="318.1" y="84.05000000000001" font-size="4.6" font-weight="bold" text-anchor="end" fill="#333">0</text>
<line x1="319.3" y1="82.35000000000001" x2="320.5" y2="82.35000000000001" stroke="#888" stroke-width="0.6"/>
<text x="318.1" y="105.03333333333335" font-size="4.6" font-weight="bold" text-anchor="end" fill="#333">-50</text>
<line x1="319.3" y1="103.33333333333334" x2="320.5" y2="103.33333333333334" stroke="#888" stroke-width="0.6"/>
<text x="318.1" y="126.01666666666667" font-size="4.6" font-weight="bold" text-anchor="end" fill="#333">-100</text>
<line x1="319.3" y1="124.31666666666666" x2="320.5" y2="124.31666666666666" stroke="#888" stroke-width="0.6"/>
<text x="318.1" y="147.0" font-size="4.6" font-weight="bold" text-anchor="end" fill="#333">-150</text>
<line x1="319.3" y1="145.3" x2="320.5" y2="145.3" stroke="#888" stroke-width="0.6"/>
<text x="342.2" y="152.70000000000002" font-size="4.6" font-weight="bold" text-anchor="middle" fill="#333">-100</text>
<line x1="343.4" y1="145.3" x2="343.4" y2="146.5" stroke="#888" stroke-width="0.6"/>
<text x="372.3" y="152.70000000000002" font-size="4.6" font-weight="bold" text-anchor="middle" fill="#333">-50</text>
<line x1="373.4" y1="145.3" x2="373.4" y2="146.5" stroke="#888" stroke-width="0.6"/>
<text x="403.3" y="152.70000000000002" font-size="4.6" font-weight="bold" text-anchor="middle" fill="#333">0</text>
<line x1="403.3" y1="145.3" x2="403.3" y2="146.5" stroke="#888" stroke-width="0.6"/>
<text x="432.4" y="152.70000000000002" font-size="4.6" font-weight="bold" text-anchor="middle" fill="#333">50</text>
<line x1="432.8" y1="145.3" x2="432.8" y2="146.5" stroke="#888" stroke-width="0.6"/>
<text x="461.2" y="152.70000000000002" font-size="4.6" font-weight="bold" text-anchor="middle" fill="#333">100</text>
<line x1="463.2" y1="145.3" x2="463.2" y2="146.5" stroke="#888" stroke-width="0.6"/>
<text x="403.3" y="158.8" font-size="5.6" font-weight="bold" text-anchor="middle" textLength="49.8" lengthAdjust="spacingAndGlyphs" fill="#231f20">t-SNE Dimension 2</text>
<text transform="translate(306.4,82.65) rotate(-90)" font-size="5.6" font-weight="bold" text-anchor="middle" textLength="50.2" lengthAdjust="spacingAndGlyphs" fill="#231f20">t-SNE Dimension 1</text>
<rect x="453.0" y="21.099999999999998" width="27.5" height="14.4" fill="#fff" stroke="#cfcfcf" stroke-width="0.7"/>
<circle cx="458.70000000000005" cy="25.2" r="1.2" fill="#1f4fb4"/>
<circle cx="458.70000000000005" cy="32.0" r="1.2" fill="#e8232a"/>
<text x="462.0" y="26.9" font-size="4.4" font-weight="bold" text-anchor="start" textLength="14.0" lengthAdjust="spacingAndGlyphs" fill="#333">Lable 0</text>
<text x="462.0" y="33.7" font-size="4.4" font-weight="bold" text-anchor="start" textLength="14.0" lengthAdjust="spacingAndGlyphs" fill="#333">Lable 1</text>
<path d="M603.0,40.4 C601.5,40.2 597.0,39.9 594.3,39.1 C591.6,38.4 588.4,37.0 586.7,35.9 C585.0,34.8 584.1,33.9 583.9,32.7 C583.7,31.5 584.1,30.1 585.4,28.9 C586.7,27.7 589.5,26.3 591.8,25.7 C594.1,25.1 597.5,24.9 599.4,25.1 C601.3,25.3 601.6,26.2 603.0,27.0 C604.4,27.8 606.3,28.6 608.0,29.6 C609.7,30.6 611.5,31.7 613.2,33.0 C614.9,34.3 616.8,36.1 618.3,37.5 C619.8,38.9 621.2,41.0 622.5,41.5 C623.8,42.0 626.0,41.4 625.9,40.4 C625.8,39.4 623.1,37.0 622.1,35.3 C621.1,33.6 619.6,31.4 619.6,30.2 C619.6,29.0 621.1,28.5 622.1,28.3 C623.1,28.1 624.4,27.9 625.9,28.9 C627.4,29.8 629.3,32.1 631.0,34.0 C632.7,35.9 634.4,38.5 636.1,40.4 C637.8,42.3 639.3,43.8 641.2,45.5 C643.1,47.2 645.6,49.1 647.6,50.6 C649.6,52.1 652.1,53.1 653.3,54.4 C654.5,55.7 654.9,57.1 654.6,58.2 C654.3,59.3 653.0,60.7 651.4,60.8 C649.8,60.9 646.5,59.3 645.0,58.9 C643.5,58.5 642.9,58.3 642.5,58.2 M591.8,34.0 C592.6,33.8 595.4,32.9 596.9,32.7 C598.4,32.5 599.7,33.1 600.7,32.7 C601.7,32.3 602.6,30.6 603.0,30.2 M603.0,59.5 C602.0,59.3 599.0,58.8 596.9,58.2 C594.8,57.6 593.0,56.6 590.5,55.7 C588.0,54.9 584.0,54.2 582.2,53.1 C580.4,52.0 579.9,50.8 579.7,49.3 C579.5,47.8 581.3,45.8 581.0,44.2 C580.7,42.6 579.4,40.6 577.8,39.7 C576.2,38.9 573.2,38.8 571.4,39.1 C569.6,39.4 567.9,40.6 567.0,41.7 C566.1,42.8 567.0,44.2 566.3,45.5 C565.5,46.8 564.4,48.8 562.5,49.3 C560.6,49.8 557.1,48.4 554.8,48.7 C552.5,49.0 549.9,50.2 548.5,51.2 C547.1,52.2 546.6,53.3 546.6,54.4 C546.6,55.5 547.1,57.0 548.5,57.6 C549.9,58.2 552.7,58.1 554.8,58.2 C556.9,58.3 559.5,57.8 561.2,58.2 C562.9,58.6 563.7,60.4 565.0,60.8 C566.3,61.2 567.4,61.2 568.9,60.8 C570.4,60.4 572.1,58.4 574.0,58.2 C575.9,58.0 578.2,59.0 580.3,59.5 C582.4,60.0 584.4,60.9 586.7,61.4 C589.0,61.9 591.6,62.5 594.3,62.7 C597.0,62.9 600.3,62.8 603.0,62.5 C605.7,62.2 607.8,60.9 610.6,60.8 C613.4,60.7 616.8,61.5 619.6,62.0 C622.4,62.5 625.5,63.0 627.2,63.9 C628.9,64.8 629.8,65.9 629.8,67.1 C629.8,68.3 628.7,70.2 627.2,71.0 C625.7,71.8 622.7,72.2 620.8,72.2 C618.9,72.2 617.4,71.6 615.7,71.0 C614.0,70.4 611.9,68.4 610.6,68.4 C609.3,68.4 609.0,69.7 608.1,71.0 C607.2,72.3 605.9,75.2 605.5,76.0 M568.9,44.8 C569.4,44.7 571.4,43.8 572.0,44.2 C572.6,44.6 573.1,46.8 572.7,47.4 C572.3,48.0 570.0,47.9 569.5,48.0 M603.0,39.1 C603.9,39.5 606.4,40.6 608.1,41.7 C609.8,42.8 611.5,44.5 613.2,45.5 C614.9,46.5 617.0,46.7 618.3,48.0 C619.6,49.3 619.9,51.6 620.8,53.1 C621.6,54.6 623.0,56.3 623.4,56.9 M603.0,44.8 C601.5,44.7 596.4,43.9 594.3,44.2 C592.2,44.5 590.9,45.7 590.5,46.8 C590.1,47.9 590.7,49.9 591.8,50.6 C592.9,51.3 595.6,50.7 596.9,51.2 C598.2,51.7 599.4,52.8 599.4,53.8 C599.4,54.8 598.2,56.4 596.9,56.9 C595.6,57.4 592.9,57.3 591.8,56.9 C590.7,56.5 590.7,54.8 590.5,54.4 M623.4,48.7 C624.2,48.8 626.8,48.8 628.5,49.3 C630.2,49.8 632.4,50.8 633.6,51.8 C634.8,52.8 635.7,54.0 635.5,55.0 C635.3,56.0 633.7,57.3 632.3,57.6 C630.9,57.9 628.7,57.2 627.2,56.9 C625.7,56.6 624.0,55.9 623.4,55.7 M603.0,50.6 C603.6,50.8 605.5,50.9 606.8,51.8 C608.1,52.6 609.1,54.6 610.6,55.7 C612.1,56.8 614.0,57.8 615.7,58.2 C617.4,58.6 619.9,58.2 620.8,58.2 M539.6,74.8 C539.8,74.0 539.8,71.0 540.8,69.7 C541.8,68.4 543.8,67.7 545.9,67.1 C548.0,66.5 551.3,66.2 553.6,65.9 C555.9,65.6 558.5,64.8 559.9,65.2 C561.3,65.6 561.7,67.0 561.9,68.4 C562.1,69.8 560.7,72.2 561.2,73.5 C561.7,74.8 563.3,75.2 565.0,76.0 C566.7,76.8 569.9,78.3 571.4,78.6 C572.9,78.9 573.1,77.5 574.0,78.0 C574.9,78.5 575.2,80.8 576.5,81.8 C577.8,82.8 580.3,83.9 581.6,83.7 C582.9,83.5 583.7,81.0 584.1,80.5 M549.8,72.2 C550.4,72.0 552.3,71.0 553.6,71.0 C554.9,71.0 556.8,72.0 557.4,72.2 M571.4,68.4 C571.8,68.0 572.5,66.3 574.0,65.9 C575.5,65.5 578.2,65.5 580.3,65.9 C582.4,66.3 584.8,67.6 586.7,68.4 C588.6,69.2 590.5,69.9 591.8,71.0 C593.1,72.1 593.4,73.3 594.3,74.8 C595.1,76.3 596.5,79.1 596.9,80.0 M571.4,68.4 C572.2,68.8 574.6,70.2 576.5,71.0 C578.4,71.8 581.2,72.0 582.9,73.5 C584.6,75.0 586.1,78.9 586.7,80.0 M594.3,63.3 C595.1,64.2 597.9,66.7 599.4,68.4 C600.9,70.1 602.4,72.7 603.0,73.5 M539.6,74.8 C540.6,75.5 545.5,78.1 545.9,79.3 C546.3,80.5 543.8,81.3 542.1,81.8 C540.4,82.3 537.5,82.1 535.7,82.5 C533.9,82.9 531.9,83.0 531.3,84.4 C530.7,85.8 530.9,89.0 531.9,90.7 C532.9,92.4 535.1,93.8 537.0,94.6 C538.9,95.3 541.5,95.6 543.4,95.2 C545.3,94.8 546.8,93.6 548.5,92.0 C550.2,90.4 551.7,87.4 553.6,85.6 C555.5,83.8 557.6,81.8 559.9,81.2 C562.2,80.6 565.5,81.1 567.6,81.8 C569.7,82.5 571.9,84.1 572.7,85.6 C573.6,87.1 573.8,90.0 572.7,90.7 C571.6,91.4 568.6,89.5 566.3,89.5 C564.0,89.5 560.6,90.1 558.7,90.7 C556.8,91.3 555.2,92.2 554.8,93.3 C554.4,94.4 554.8,96.2 556.1,97.1 C557.4,97.9 560.2,98.4 562.5,98.4 C564.8,98.4 568.2,96.9 570.1,97.1 C572.0,97.3 572.5,99.4 574.0,99.7 C575.5,100.0 577.5,99.4 579.0,99.0 C580.5,98.6 581.6,97.8 582.9,97.1 C584.2,96.4 586.5,95.7 586.7,94.6 C586.9,93.5 584.1,91.5 584.1,90.7 C584.1,89.9 585.3,89.8 587.0,89.5 C588.7,89.2 592.2,88.6 594.3,88.8 C596.4,89.0 597.9,90.0 599.4,90.7 C600.9,91.5 602.4,92.9 603.0,93.3 M547.2,104.1 C548.1,104.0 550.0,103.5 552.3,103.5 C554.6,103.5 558.4,103.8 561.2,104.1 C564.0,104.4 566.4,105.3 568.9,105.4 C571.4,105.5 574.0,105.3 576.5,104.8 C579.0,104.3 581.8,103.0 584.1,102.2 C586.4,101.4 588.4,100.2 590.5,99.7 C592.6,99.2 594.8,99.0 596.9,99.0 C599.0,99.0 602.0,98.7 603.0,99.7 C604.0,100.7 601.9,104.2 603.0,104.8 C604.1,105.4 606.9,104.2 609.4,103.5 C611.9,102.8 616.0,102.2 618.3,100.9 C620.6,99.6 621.9,96.8 623.4,95.8 C624.9,94.8 626.1,94.2 627.2,94.6 C628.3,95.0 628.9,97.2 629.8,98.4 C630.6,99.6 631.0,101.1 632.3,101.6 C633.6,102.1 636.2,101.3 637.4,101.6 C638.6,101.9 639.3,102.5 639.3,103.5 C639.3,104.5 638.8,106.3 637.4,107.3 C636.0,108.2 632.9,108.5 631.0,109.2 C629.1,110.0 628.0,111.3 625.9,111.8 C623.8,112.3 620.8,112.5 618.3,112.4 C615.8,112.3 613.1,111.2 610.6,111.1 C608.1,111.0 604.3,111.7 603.0,111.8 M547.2,104.1 C547.1,104.8 546.2,107.3 546.6,108.6 C547.0,109.9 548.2,111.2 549.8,111.8 C551.4,112.4 554.8,111.5 556.1,112.4 C557.4,113.4 556.5,115.9 557.4,117.5 C558.2,119.1 559.7,121.4 561.2,122.0 C562.7,122.6 564.6,122.3 566.3,121.3 C568.0,120.3 569.7,117.7 571.4,116.2 C573.1,114.7 574.6,113.4 576.5,112.4 C578.4,111.5 580.6,111.0 582.9,110.5 C585.2,110.0 588.2,109.7 590.5,109.2 C592.8,108.7 594.8,108.0 596.9,107.3 C599.0,106.6 602.0,105.2 603.0,104.8 M603.0,111.1 C602.4,111.4 600.9,112.2 599.4,113.0 C597.9,113.8 595.6,114.8 594.3,116.2 C593.0,117.6 591.8,119.6 591.8,121.3 C591.8,123.0 593.0,125.3 594.3,126.4 C595.6,127.5 597.9,127.6 599.4,127.7 C600.9,127.8 602.4,127.1 603.0,127.0 M603.0,114.9 C602.0,115.1 599.0,115.8 596.9,116.2 C594.8,116.6 592.6,117.1 590.5,117.5 C588.4,117.9 585.6,118.0 584.1,118.8 C582.6,119.6 582.9,121.8 581.6,122.6 C580.3,123.4 577.8,123.1 576.5,123.9 C575.2,124.8 574.6,127.0 574.0,127.7 C573.4,128.4 573.0,127.3 573.1,128.1 C573.2,128.9 573.1,131.4 574.6,132.5 C576.1,133.6 579.5,134.1 581.9,134.7 C584.3,135.3 586.8,135.5 589.2,136.2 C591.6,136.9 594.1,138.9 596.5,139.1 C598.9,139.3 601.1,138.1 603.8,137.6 C606.5,137.1 610.2,137.0 612.6,136.2 C615.0,135.3 617.0,133.8 618.4,132.5 C619.8,131.2 620.8,129.8 621.3,128.1 C621.8,126.4 620.8,123.9 621.3,122.3 C621.8,120.7 622.7,119.3 624.2,118.6 C625.7,117.9 628.6,117.3 630.1,117.9 C631.6,118.5 632.3,120.7 633.0,122.3 C633.7,123.9 633.5,126.2 634.5,127.4 C635.5,128.6 637.3,129.5 638.8,129.6 C640.2,129.7 642.2,129.3 643.2,128.1 C644.2,126.9 644.6,124.5 644.7,122.3 C644.8,120.1 643.3,116.6 643.8,114.9 C644.3,113.2 645.9,113.0 647.6,112.4 C649.3,111.8 652.3,111.9 654.0,111.1 C655.7,110.2 657.4,108.6 657.8,107.3 C658.2,106.0 657.6,104.3 656.5,103.5 C655.4,102.7 653.3,102.3 651.4,102.2 C649.5,102.1 646.1,102.7 645.0,102.8 M573.1,128.1 C573.6,127.2 574.4,124.5 576.1,123.0 C577.8,121.5 581.2,120.4 583.4,119.4 C585.6,118.4 587.5,117.2 589.2,117.2 C590.9,117.2 593.2,118.3 593.6,119.4 C594.0,120.5 591.4,122.5 591.4,123.8 C591.4,125.1 592.0,126.6 593.6,127.4 C595.2,128.2 598.2,128.9 600.9,128.9 C603.6,128.9 607.8,128.2 609.6,127.4 C611.4,126.6 612.0,125.0 611.8,123.8 C611.6,122.6 609.8,121.1 608.2,120.1 C606.6,119.1 603.4,118.8 602.3,117.9 C601.2,117.1 601.7,115.5 601.6,115.0 M603.0,116.2 C603.9,116.0 606.8,114.5 608.1,114.9 C609.4,115.3 610.8,117.7 610.6,118.8 C610.4,119.9 608.1,121.1 606.8,121.3 C605.5,121.5 603.6,120.2 603.0,120.0 M590.0,62.6 C591.5,62.5 595.9,62.0 598.8,61.8 C601.7,61.6 604.6,61.2 607.5,61.3 C610.4,61.4 613.4,62.2 616.3,62.6 C619.2,63.0 622.8,62.9 625.0,63.5 C627.2,64.1 628.8,65.1 629.4,66.1 C630.0,67.1 629.5,68.7 628.5,69.6 C627.5,70.5 625.0,70.8 623.3,71.4 C621.5,72.0 619.3,73.1 618.0,73.1 C616.7,73.1 616.1,72.3 615.4,71.4 C614.7,70.5 614.5,68.6 613.6,67.9 C612.7,67.2 611.1,66.8 610.1,67.0 C609.1,67.2 607.8,67.9 607.5,68.8 C607.2,69.7 608.7,71.3 608.4,72.3 C608.1,73.3 606.2,74.5 605.8,74.9 M604.0,80.0 C604.7,79.7 607.7,77.5 608.0,78.0 C608.3,78.5 605.7,81.7 606.0,83.0 C606.3,84.3 609.8,84.8 610.0,86.0 C610.2,87.2 606.8,89.0 607.0,90.0 C607.2,91.0 610.8,91.0 611.0,92.0 C611.2,93.0 609.0,94.8 608.0,96.0 C607.0,97.2 605.5,98.5 605.0,99.0 M596.0,86.0 C596.7,86.5 599.7,87.8 600.0,89.0 C600.3,90.2 597.7,92.0 598.0,93.0 C598.3,94.0 601.3,94.7 602.0,95.0 M612.8,86.3 C613.1,87.0 614.5,89.1 614.5,90.6 C614.5,92.0 613.4,93.7 612.8,95.0 C612.2,96.3 611.3,97.9 611.0,98.5 M603.0,97.0 C603.8,97.3 606.5,99.0 608.0,99.0 C609.5,99.0 610.7,96.8 612.0,97.0 C613.3,97.2 615.3,99.5 616.0,100.0 M585.0,42.0 C585.5,41.7 587.2,39.8 588.0,40.0 C588.8,40.2 589.7,42.5 590.0,43.0" fill="none" stroke="#2b50aa" stroke-width="1.3" stroke-dasharray="2.4 0.4" stroke-linecap="butt" stroke-linejoin="round"/>
<path d="M593.1,38.1 l0.3,-0.8 M590.9,37.1 l0.3,-0.8 M599.1,25.6 l0.5,0.8 M616.4,36.5 l-0.9,1.2 M633.8,36.7 l0.7,-0.6 M635.9,39.4 l1.3,-0.3 M654.7,56.9 l1.8,0.1 M646.3,58.8 l-0.2,-0.9 M601.5,59.7 l-0.9,1.4 M576.5,39.1 l0.8,-1.1 M564.9,47.6 l0.7,1.5 M558.3,48.5 l-0.2,-0.8 M552.5,49.1 l-0.5,-0.8 M548.9,51.6 l0.6,0.7 M563.0,60.0 l-0.9,0.6 M571.1,59.1 l-0.4,-0.9 M572.6,58.4 l-0.4,-1.6 M617.3,62.2 l-0.4,1.0 M573.0,46.2 l1.6,0.1 M591.9,57.4 l-0.7,1.2 M547.1,67.4 l-0.2,0.8 M563.9,75.9 l-0.8,0.7 M571.8,69.2 l-1.1,1.0 M532.1,83.5 l-0.5,-0.7 M534.7,92.2 l0.3,-1.7 M539.4,95.3 l-0.0,0.9 M555.5,83.6 l-1.1,-0.5 M567.2,82.3 l-0.0,1.7 M563.3,89.5 l-0.4,-0.9 M563.2,98.8 l0.2,1.5 M573.4,99.9 l-1.1,0.7 M592.2,89.5 l0.6,1.4 M599.2,90.1 l0.1,-1.5 M575.0,105.4 l0.6,1.2 M579.9,104.2 l0.9,0.8 M582.5,103.3 l0.4,1.3 M608.8,103.1 l0.1,-1.4 M635.2,102.1 l-0.4,0.8 M629.2,110.7 l0.5,1.2 M624.0,111.4 l-0.3,-0.8 M548.1,110.8 l-0.8,1.3 M553.1,112.6 l-0.5,1.4 M566.1,121.8 l-0.7,1.6 M566.7,120.2 l-1.3,-1.2 M599.1,112.6 l-0.9,-0.9 M594.4,125.5 l0.9,0.1 M583.1,121.2 l0.5,1.0 M593.2,138.3 l-0.8,1.3 M598.9,139.1 l0.5,1.2 M632.8,123.3 l-0.9,0.6 M643.8,119.2 l-0.9,0.1 M651.3,102.7 l0.2,1.7 M573.3,126.8 l-0.9,-1.3 M578.7,121.2 l0.1,-1.5 M592.3,120.9 l-1.4,-1.0 M601.0,128.4 l-0.4,-1.3 M608.2,128.2 l-0.0,1.8 M606.7,114.7 l-0.6,-1.0 M607.8,120.1 l-1.2,-0.9 M615.7,71.0 l1.7,-0.0 M605.9,82.0 l-1.2,-0.2 M608.3,85.3 l-0.3,1.7 M606.2,97.1 l-1.6,-0.7 M600.0,90.0 l1.6,-0.1 M599.4,91.3 l0.8,0.7 M609.3,97.8 l0.1,-1.4 M610.7,98.2 l-0.1,1.8" fill="none" stroke="#2b50aa" stroke-width="0.8" stroke-linecap="round"/>
<path d="M550.7,75.6 L549.8,74.9 L550.1,74.2 L551.0,73.9 L551.2,72.8 L550.4,71.9 L549.4,72.2 L548.6,71.9 L549.5,71.1 L550.4,71.5 L551.2,72.0 M553.7,73.9 L552.6,73.6 L551.5,72.9 L550.8,73.1 L550.3,73.3 L549.6,73.6 L550.3,74.0 L550.8,74.6 L551.0,75.2 L551.7,75.1 L552.5,75.1 L552.8,74.7 L553.5,74.9 L552.8,74.5 M552.8,69.6 L551.8,70.2 L551.7,70.8 L552.0,71.6 L551.6,72.2 L551.6,73.1 L551.8,74.2 L551.4,74.8 L550.5,75.0 L549.5,75.0 L549.1,74.3 L549.0,73.4 L549.0,74.0" fill="none" stroke="#2b50aa" stroke-width="0.85" stroke-linejoin="round"/>
<path d="M594.1,66.6 L595.0,67.5 L595.5,68.4 L595.2,69.4 L594.8,70.0 L595.3,71.0 L596.5,70.8 L595.9,71.4 L595.1,71.0 L594.0,71.2 L593.3,71.5 M594.4,64.4 L595.0,64.2 L595.3,65.3 L595.1,66.1 L594.6,66.5 L594.2,67.6 L593.1,67.4 L591.9,67.7 L590.7,67.5 L591.5,68.0 L591.6,68.8 L591.0,69.8 M592.5,70.6 L592.4,71.9 L592.4,72.7 L592.8,72.1 L592.6,71.5 L591.5,71.2 L591.3,70.5 L591.7,71.2 L592.4,71.1 L593.1,71.5 L593.5,71.9 L592.5,71.4 L591.8,71.3 M596.0,70.6 L595.3,70.7 L594.6,71.8 L595.0,72.3 L594.1,72.3 L593.5,72.4 L592.3,72.0 L591.1,72.2 L592.2,72.2 L592.5,71.3 L591.6,70.8 L592.5,70.8" fill="none" stroke="#2b50aa" stroke-width="0.85" stroke-linejoin="round"/>
<path d="M595.7,93.0 L596.2,91.9 L597.2,91.8 L597.2,91.0 L597.3,89.7 L596.2,89.4 L596.9,89.4 L597.7,89.1 L597.2,89.5 L596.7,89.7 L595.9,90.8 L594.7,90.6 M596.4,91.6 L596.7,92.5 L597.5,92.4 L598.3,92.0 L597.7,92.4 L598.1,93.4 L597.7,94.0 L597.9,95.0 L598.4,95.6 L597.3,95.5 L596.5,95.9 L596.0,96.0 L595.0,95.8 M595.9,94.7 L596.3,95.9 L596.9,95.3 L597.7,94.9 L598.5,94.3 L597.3,94.7 L596.6,95.3 L595.6,95.0 L595.9,93.8 L596.5,93.2 L596.6,92.5 L595.9,91.5 M595.4,91.5 L595.4,92.2 L595.7,93.4 L595.2,94.3 L595.1,95.0 L594.5,95.4 L594.9,96.0 L593.9,95.6 L594.2,94.4 L595.2,93.7 L596.1,93.7 L596.7,93.5 M595.6,89.3 L594.8,89.4 L594.7,90.4 L594.3,91.4 L593.7,91.6 L593.4,90.8 L592.7,89.9 L591.4,89.7 L591.5,90.4 L590.4,90.7 L590.6,91.3 L590.3,92.0 M598.7,94.9 L598.0,95.1 L597.1,96.0 L598.0,95.2 L597.5,94.6 L597.3,93.3 L598.2,92.5 L597.9,93.0 L598.2,93.6 L598.6,94.2 L598.0,94.9 L598.2,95.5 M591.4,95.8 L590.2,96.1 L590.8,95.3 L591.7,95.1 L592.5,94.8 L592.7,93.8 L592.5,93.2 L593.1,92.6 L592.7,92.0 L593.4,91.4 L593.8,90.5 L594.6,90.8 L594.9,91.5" fill="none" stroke="#2b50aa" stroke-width="0.85" stroke-linejoin="round"/>
<path d="M565.9,107.0 L566.3,105.9 L566.1,106.6 L566.6,107.6 L567.1,108.2 L566.5,108.1 L565.6,107.6 L564.7,107.8 L564.5,108.9 L564.6,109.9 L564.4,110.5 L564.6,111.4 M561.7,106.1 L562.7,106.2 L562.0,107.1 L561.4,108.0 L562.3,108.8 L562.9,109.4 L563.5,110.5 L562.9,111.6 L563.3,110.8 L563.4,110.1 L563.7,109.6 L564.4,109.5 M565.6,107.0 L566.6,107.1 L566.8,108.2 L566.5,109.4 L565.8,110.2 L564.7,110.5 L563.9,109.9 L563.1,109.7 L563.3,108.7 L562.9,108.2 L561.8,108.6" fill="none" stroke="#2b50aa" stroke-width="0.85" stroke-linejoin="round"/>
<path d="M615.7,110.5 L616.3,111.4 L616.9,110.9 L617.9,110.2 L618.9,110.5 L617.9,111.2 L618.7,110.9 L618.0,110.2 L617.2,109.5 L616.3,108.6 L616.6,107.6 M618.1,109.5 L617.8,108.7 L617.4,107.5 L617.2,106.4 L616.7,105.6 L617.1,106.5 L618.2,106.9 L617.1,107.2 L616.9,108.4 L616.1,108.7 L615.4,107.8 M613.7,108.7 L614.9,108.5 L615.5,107.9 L616.4,108.1 L617.5,107.9 L618.4,107.3 L617.9,106.7 L617.0,106.5 L616.5,107.6 L615.8,107.6 L615.0,108.5" fill="none" stroke="#2b50aa" stroke-width="0.85" stroke-linejoin="round"/>
<path d="M575.2,67.5 L575.0,68.2 L575.0,69.4 L575.3,70.6 L576.0,70.7 L576.0,71.3 L576.5,71.9 L577.6,71.3 L578.4,72.2 L578.0,72.9 L578.0,71.7 L577.6,71.2 M575.3,72.6 L574.3,72.0 L574.8,71.1 L575.8,71.0 L576.2,71.8 L576.0,72.6 L576.3,73.2 L576.1,71.9 L576.9,71.3 L576.9,70.2 L577.2,69.5 L577.6,69.0" fill="none" stroke="#2b50aa" stroke-width="0.85" stroke-linejoin="round"/>
<path d="M617.3,76.6 L617.8,75.8 L618.4,76.2 L619.2,77.0 L620.3,76.8 L620.7,76.1 L620.9,75.3 L620.3,75.8 L619.1,75.9 L618.2,75.5 L617.6,75.9 L617.8,76.8 M617.1,84.1 L616.2,83.2 L615.9,82.3 L615.9,81.3 L615.8,80.1 L614.8,79.3 L614.0,78.9 L614.2,78.3 L615.3,78.3 L615.8,77.7 L616.5,77.5 L616.7,76.7 M617.4,85.5 L616.7,85.2 L615.9,84.2 L616.4,83.8 L616.0,82.6 L614.7,82.6 L613.8,82.3 L613.4,82.7 L612.5,83.0 L611.6,83.1 L610.8,82.3 L610.4,81.5 M620.3,90.3 L620.2,89.4 L619.2,89.3 L618.6,90.4 L619.0,91.2 L618.3,92.1 L617.6,91.7 L616.4,92.1 L615.6,91.7 L615.0,90.7 L613.8,90.7 M614.4,89.2 L614.0,88.1 L613.9,87.3 L613.2,87.3 L612.1,87.5 L611.5,87.0 L610.4,87.2 L610.1,87.7 L609.4,88.1 L609.3,89.3 L608.6,89.4 L608.1,88.8 L607.3,89.0 M610.8,86.3 L609.8,86.1 L608.6,86.0 L608.1,87.1 L608.3,88.1 L607.9,89.0 L607.0,89.6 L606.1,89.8 L605.7,88.7 L605.2,88.0 L606.1,88.3 M613.4,89.1 L614.2,89.2 L614.6,89.8 L614.5,90.9 L614.4,92.1 L614.8,92.6 L615.6,92.6 L615.9,91.7 L616.4,91.1 L615.9,90.1 L616.0,89.4 L615.9,88.6 L616.6,88.1 M615.5,78.5 L615.8,77.8 L617.1,77.7 L617.7,77.5 L618.1,76.8 L617.9,75.9 L618.8,75.3 L618.5,76.1 L618.5,77.2 L617.9,77.7 L617.4,78.2 L616.9,78.7 L616.2,78.4 M606.8,85.6 L606.2,86.6 L606.7,87.4 L607.6,87.9 L608.7,88.1 L609.0,87.0 L608.8,86.4 L607.9,86.5 L607.8,87.3 L608.4,87.5 L609.1,86.4 L610.1,86.3 M615.6,87.1 L615.0,86.7 L614.3,87.4 L614.7,88.0 L615.3,89.0 L615.9,89.9 L616.4,90.3 L617.6,90.4 L618.6,89.9 L618.4,89.3 L619.2,88.8 L620.3,89.3 M627.3,82.4 L626.1,82.3 L625.3,81.2 L624.5,81.6 L623.9,81.3 L623.2,81.3 L622.1,81.9 L621.5,82.9 L620.3,83.2 L620.1,83.8 L619.0,83.9 M619.5,77.7 L619.8,77.0 L618.9,76.3 L617.7,76.4 L617.0,75.4 L616.9,76.3 L617.8,76.8 L618.5,76.0 L618.7,75.4 L617.9,76.3 L617.1,77.3 M612.4,85.0 L611.7,84.9 L611.3,85.8 L610.5,85.7 L609.7,86.7 L609.1,87.1 L608.2,87.3 L607.1,87.6 L607.0,88.5 L608.2,88.9 L608.5,90.2 M623.3,82.3 L622.5,82.4 L621.8,82.3 L621.1,82.9 L621.5,83.5 L621.8,84.4 L622.2,85.3 L621.7,86.0 L620.9,86.0 L620.7,84.7 L621.2,83.8 L620.3,83.1 M617.1,77.8 L617.3,76.7 L617.6,75.6 L618.6,75.7 L619.3,76.0 L620.3,75.5 L621.3,75.5 L621.5,76.5 L622.0,77.7 L623.2,78.1 L623.8,78.9 M611.6,87.7 L611.5,88.5 L612.4,89.1 L613.5,89.8 L614.3,89.9 L615.3,90.3 L616.3,89.6 L616.9,89.6 L617.0,90.9 L617.9,91.4 L618.6,90.5 M611.8,91.5 L611.0,90.6 L610.2,90.4 L609.5,90.8 L609.1,90.3 L608.5,89.6 L609.1,88.4 L608.7,87.4 L608.8,86.5 L608.8,85.5 L607.8,85.2 L607.2,84.6 M612.4,77.0 L613.2,77.6 L613.9,76.8 L614.6,76.8 L615.1,75.8 L614.8,77.0 L614.8,77.9 L614.2,78.3 L612.9,78.3 L612.8,79.4 L612.3,79.7 L611.2,79.7 M609.4,90.2 L609.7,89.1 L609.5,88.4 L609.8,87.3 L609.3,86.3 L609.9,85.9 L610.4,85.4 L611.1,84.7 L611.2,83.9 L611.0,83.0 L610.0,82.3 L609.2,83.3 M620.0,79.1 L620.0,78.4 L619.5,77.3 L619.4,76.3 L619.6,75.6 L619.0,76.5 L617.7,76.4 L617.2,77.1 L615.9,77.0 L614.8,76.8 L614.3,76.3 L613.6,76.9 M607.9,85.4 L608.4,84.5 L608.8,83.4 L609.1,82.2 L609.7,81.8 L610.3,81.6 L611.1,82.2 L611.9,81.7 L611.8,80.9 L612.4,80.2 L612.5,79.4 L611.8,79.1 M622.6,82.4 L623.4,82.8 L623.3,83.5 L622.2,83.9 L621.2,84.0 L620.3,83.6 L619.4,83.7 L619.1,82.9 L618.8,82.4 L618.3,81.5 L618.4,80.6 L617.5,79.7 M609.4,82.7 L609.8,83.3 L609.8,84.1 L608.8,84.5 L608.7,85.3 L608.1,86.0 L607.8,86.6 L607.1,87.5 L606.6,88.4 L606.2,89.2 L605.3,89.8 L606.3,89.6 M624.9,86.0 L624.1,85.1 L622.9,84.9 L622.3,83.8 L623.1,82.9 L623.7,82.9 L623.8,82.1 L623.2,81.2 L622.1,81.2 L621.7,82.4 L622.3,83.1 M622.4,87.4 L621.7,87.7 L621.3,86.9 L621.1,86.3 L620.9,85.5 L621.3,84.6 L621.9,84.6 L622.7,83.6 L623.6,84.0 L624.1,83.6 L624.7,83.2 L625.2,83.4 L626.3,83.1 L626.7,82.4 M607.8,83.8 L607.2,84.2 L606.6,84.8 L605.8,84.6 L605.0,85.3 L604.6,86.6 L605.8,86.4 L606.3,86.8 L606.0,87.9 L605.4,88.7 L604.8,89.1 L604.9,90.3 M613.2,88.6 L613.3,89.6 L613.7,90.1 L613.7,91.1 L612.7,91.5 L612.2,90.6 L613.1,90.0 L613.9,90.6 L614.4,90.2 L613.8,89.3 L612.8,88.9 L611.7,88.8 M611.7,94.7 L611.9,95.6 L612.2,96.3 L612.7,97.0 L611.6,96.3 L610.8,97.2 L609.5,97.2 L610.7,97.8 L610.2,97.0 L609.9,96.3 L608.7,96.6 M615.9,88.3 L616.2,87.7 L615.5,86.6 L615.7,85.7 L616.3,84.9 L615.6,84.2 L615.0,84.6 L615.5,85.5 L615.4,86.3 L614.6,86.7 L614.0,86.9 L613.4,86.5 L613.0,85.9 M608.0,87.0 L609.1,87.6 L609.6,88.7 L610.8,89.1 L612.0,89.5 L612.6,89.7 L612.9,90.9 L613.9,91.1 L614.9,90.9 L615.7,90.4 L616.8,91.1 M608.8,96.7 L608.1,96.5 L607.7,95.8 L607.3,94.6 L607.1,93.8 L607.0,93.2 L606.4,92.7 L606.0,92.1 L606.3,91.4 L607.0,91.3 L607.7,91.4 L608.8,91.9 L608.6,92.5 L608.1,92.7 M613.2,96.1 L612.2,96.5 L611.6,95.9 L610.6,96.4 L609.7,96.9 L609.6,95.8 L609.9,94.7 L609.5,94.0 L608.7,94.3 L608.3,94.7 L608.6,95.3 L608.3,96.3 M621.8,82.6 L622.5,82.1 L623.6,81.8 L624.2,81.2 L625.0,81.2 L626.0,80.4 L626.6,80.9 L626.3,82.1 L626.2,83.1 L625.6,83.5 L624.9,83.2 L625.0,82.4" fill="none" stroke="#2b50aa" stroke-width="0.85" stroke-linejoin="round"/>
<path d="M650.9,88.4 L652.1,88.8 L652.9,89.5 L653.8,89.8 L654.8,89.0 L654.4,88.1 L655.0,87.3 L654.5,86.9 L654.6,86.1 L655.7,86.0 L656.4,86.4 L656.4,87.2 M662.4,90.2 L663.0,89.7 L662.5,88.9 L663.2,88.0 L664.1,88.1 L663.5,88.4 L662.4,88.6 L661.3,89.3 L661.4,89.9 L660.7,90.8 L660.4,91.8 L661.2,92.8 M654.6,81.8 L654.6,82.5 L655.5,83.3 L655.5,84.0 L655.2,84.9 L653.9,84.8 L653.7,85.4 L653.1,85.6 L651.9,86.0 L651.5,85.3 L651.0,84.7 L650.1,84.3 L649.1,84.3 M653.5,91.8 L653.7,90.6 L654.3,90.3 L654.9,89.9 L655.8,90.1 L656.2,89.5 L657.2,89.9 L657.7,90.5 L658.8,90.6 L659.0,89.8 L659.8,89.7 L660.1,88.9 L659.8,88.4 M650.0,85.6 L650.9,84.8 L652.0,84.5 L653.1,85.1 L653.7,84.4 L653.8,83.4 L653.6,82.5 L654.6,82.0 L655.4,82.9 L655.0,83.5 L654.1,83.9 M650.6,86.7 L650.7,86.0 L650.0,85.8 L649.4,85.2 L649.9,84.5 L650.3,83.8 L651.1,84.2 L651.5,83.6 L652.1,83.2 L652.9,84.2 L653.6,84.7 L654.8,85.0 L655.5,84.9 M657.5,89.5 L657.2,88.3 L657.8,87.9 L658.6,88.8 L658.8,90.0 L658.8,91.0 L659.7,91.4 L660.4,90.5 L661.2,89.7 L661.4,88.9 L662.7,88.7 M650.8,85.4 L650.1,84.9 L649.7,84.0 L649.7,83.2 L648.9,82.9 L649.8,83.3 L650.8,83.9 L650.8,84.6 L651.2,85.7 L650.6,86.5 L649.8,86.7 L649.6,87.9 M661.6,84.5 L661.7,83.6 L660.6,83.2 L660.4,81.9 L659.6,81.7 L659.0,82.2 L658.4,82.0 L657.2,82.3 L657.3,83.0 L657.0,83.6 L656.1,84.4 L655.3,85.2 M649.1,83.9 L648.5,83.7 L648.5,82.8 L648.1,82.2 L649.4,82.2 L650.5,82.6 L651.6,82.1 L652.6,82.4 L652.6,83.2 L651.9,84.0 L650.9,84.1 L650.0,83.9 M656.7,89.1 L656.6,88.0 L656.2,87.4 L655.9,86.6 L654.7,86.3 L654.1,87.2 L654.2,87.8 L653.8,88.2 L653.8,89.1 L653.9,89.8 L653.2,90.0 L652.3,90.4 L651.6,89.7 M653.2,88.2 L653.3,87.3 L654.2,87.3 L654.9,87.3 L655.3,86.1 L654.7,85.7 L654.2,85.3 L653.7,84.3 L654.2,83.8 L654.9,83.2 L655.4,83.6 L656.4,83.5 L656.7,82.8 M659.3,91.1 L660.1,91.1 L660.8,91.0 L661.0,90.4 L661.8,89.8 L662.6,89.7 L663.6,89.0 L663.5,88.4 L662.6,88.3 L661.5,88.6 L661.3,89.6 L662.2,90.5 M654.0,86.5 L652.9,86.7 L652.8,87.7 L653.7,88.0 L654.3,87.7 L654.6,87.0 L655.3,87.1 L655.3,87.8 L656.4,88.2 L657.3,87.4 L657.1,86.8 L656.2,86.5 L656.0,85.2 M654.5,87.5 L655.6,87.4 L656.9,87.4 L657.3,86.7 L656.3,85.9 L655.7,86.0 L655.8,86.7 L655.6,87.7 L656.5,88.3 L657.0,89.1 L658.0,89.3 L658.4,90.0 M648.1,78.1 L649.0,77.4 L648.5,76.8 L648.4,77.6 L648.3,78.3 L647.7,78.6 L647.8,79.8 L648.1,80.4 L648.0,79.2 L648.3,78.6 L648.2,77.6 L647.9,76.8 L648.7,77.5" fill="none" stroke="#e0242a" stroke-width="0.85" stroke-linejoin="round"/>
<path d="M624.5,84.1 L623.5,83.2 L623.6,82.0 L624.5,81.7 L624.9,80.7 L625.5,79.8 L624.5,80.2 L623.5,80.4 L622.8,80.3 L621.7,79.7 L622.0,78.5" fill="none" stroke="#e0242a" stroke-width="0.85" stroke-linejoin="round"/>
<path d="M647.1,76.1 C647.9,76.7 650.2,79.2 652.1,79.8 C654.0,80.4 656.4,79.2 658.3,79.8 C660.2,80.4 662.3,81.8 663.3,83.5 C664.3,85.2 664.9,88.0 664.5,89.7 C664.1,91.4 662.4,92.7 660.8,93.5 C659.1,94.3 656.5,94.9 654.6,94.7 C652.7,94.5 650.6,93.4 649.6,92.2 C648.6,91.0 648.8,89.0 648.4,87.3 C648.0,85.6 647.3,83.1 647.1,82.3" fill="none" stroke="#e0242a" stroke-width="1.44" stroke-dasharray="1.3 0.5" stroke-linejoin="round"/>
<path d="M655.1,94.7 L654.4,94.3 L653.9,93.6 L653.2,93.2 L652.4,93.8 L651.5,93.9 L651.2,93.2 L650.2,92.4 L649.5,92.0 L649.1,91.2 L648.3,91.4 L648.7,90.7 L648.6,89.5 M654.2,80.3 L653.5,79.5 L652.9,79.7 L652.2,79.4 L651.6,80.2 L650.5,79.8 L650.6,78.8 L651.7,78.7 L652.0,79.8 L652.3,80.3 L653.0,79.6 L653.8,79.5 M649.3,87.8 L649.3,88.6 L648.3,88.5 L648.3,89.2 L649.1,90.0 L649.8,90.9 L650.0,91.6 L649.5,92.6 L649.7,93.2 L650.9,93.2 L651.2,94.0 L652.3,93.7 M660.1,94.6 L661.0,94.3 L660.0,94.1 L659.3,94.7 L660.2,94.1 L660.6,94.5 L661.3,94.0 L661.2,92.8 L661.9,91.7 L663.1,91.7 L663.8,91.4 L664.3,90.8 M656.6,94.8 L656.6,95.4 L655.9,94.8 L656.2,94.2 L655.6,93.9 L654.9,93.6 L654.3,93.4 L653.5,93.6 L652.9,94.1 L652.3,93.9 L651.7,93.7 L651.7,92.9 L651.1,92.4 L649.9,92.1 L648.7,92.1" fill="none" stroke="#e0242a" stroke-width="0.85" stroke-linejoin="round"/>
<path d="M624.8,76.1 C625.3,75.9 627.0,75.1 628.0,75.0 C629.0,74.9 630.1,74.7 631.0,75.5 C631.9,76.3 633.2,78.0 633.5,79.8 C633.8,81.5 633.1,84.1 632.9,86.0 C632.7,87.9 631.8,89.5 632.3,91.0 C632.8,92.5 634.6,94.3 636.0,94.7 C637.4,95.1 640.1,93.7 640.9,93.5" fill="none" stroke="#2b50aa" stroke-width="1.87" stroke-dasharray="1.3 0.5" stroke-linejoin="round"/>
<path d="M633.0,87.8 L633.6,86.7 L633.9,85.8 L633.3,85.1 L633.5,84.4 L634.4,84.4 L633.3,84.3 L632.4,83.6 L632.7,82.9 L633.3,82.7 L633.5,82.1 L632.8,81.7 L632.1,81.8 M630.0,76.5 L629.5,75.3 L628.9,74.8 L628.2,74.3 L627.6,75.3 L627.2,76.4 L626.1,76.4 L625.0,76.7 L626.1,76.2 L627.0,75.8 L627.8,75.2 M632.3,78.5 L633.3,79.3 L632.8,80.4 L633.3,79.4 L632.6,78.4 L633.1,77.6 L632.3,76.9 L631.5,76.2 L630.7,75.8 L630.1,76.5 L629.0,76.0" fill="none" stroke="#2b50aa" stroke-width="0.85" stroke-linejoin="round"/>
<path d="M626.4,75.9 l0.3,0.9 M630.3,76.1 l0.5,-1.2 M635.3,94.3 l-0.2,-0.6 M632.4,89.6 l0.4,-1.1 M632.4,78.9 l-0.6,-0.4 M633.6,77.6 l-0.9,0.1 M635.0,94.9 l-0.8,0.7 M631.4,89.7 l0.3,1.1 M634.4,80.3 l0.9,1.0 M640.6,94.6 l0.2,1.1 M634.1,92.3 l0.6,1.1 M633.0,83.4 l0.8,0.6 M626.8,75.7 l0.8,-0.4 M629.8,74.3 l-0.8,-1.1 M634.1,78.8 l0.5,0.6 M631.9,76.8 l-0.7,0.7 M633.3,83.7 l-0.6,-0.6 M633.2,86.6 l0.3,0.9 M632.3,80.1 l0.6,-1.1 M631.8,89.1 l-0.8,-0.7 M632.5,81.0 l1.1,-0.5 M637.0,95.5 l0.5,-1.2 M633.1,89.8 l-1.3,-0.6 M637.3,95.2 l-0.6,-0.4 M628.7,76.2 l-0.6,-0.3 M625.7,74.6 l-0.3,0.5 M632.9,84.7 l0.1,-1.1" fill="none" stroke="#e0242a" stroke-width="0.95" stroke-linecap="round"/>
<path d="M640.9,93.5 C640.8,91.2 640.7,84.1 640.3,79.8 C639.9,75.5 638.2,69.6 638.5,67.4 C638.8,65.2 641.0,66.8 642.2,66.8 C643.4,66.8 645.1,66.9 645.9,67.4 C646.7,67.9 646.5,69.3 647.1,69.9 C647.7,70.5 649.2,70.9 649.6,71.1" fill="none" stroke="#e0242a" stroke-width="1.58" stroke-dasharray="1.3 0.5" stroke-linejoin="round"/>
<path d="M639.9,71.3 L639.3,70.2 L638.8,69.4 L638.0,69.6 L638.9,70.5 L639.0,71.3 L638.4,71.5 L638.3,72.1 L639.0,72.6 L639.7,72.2 L638.5,72.5 L638.0,71.9 L638.0,71.2 M638.8,73.0 L638.6,72.4 L638.1,71.3 L638.7,70.7 L639.6,71.0 L639.5,72.1 L639.0,72.7 L638.3,72.8 L638.9,72.5 L639.6,72.7 L640.4,72.3 L639.5,72.7 L638.4,73.4 M639.6,92.6 L640.2,93.1 L640.7,92.7 L641.1,91.6 L640.0,91.0 L640.2,90.0 L640.0,88.7 L640.1,87.9 L640.8,87.5 L639.8,87.1 L640.7,86.2 M640.1,91.1 L640.8,90.7 L641.4,90.4 L640.3,90.3 L641.0,91.2 L641.5,91.6 L641.8,92.2 L640.8,91.7 L639.6,91.4 L640.0,92.3 L641.0,91.9 L640.5,91.2 M640.3,75.0 L639.2,74.2 L638.6,75.0 L638.6,74.3 L638.8,75.3 L638.9,76.3 L639.5,77.4 L639.2,78.0 L639.7,78.4 L639.8,79.5 L639.2,80.3 L639.9,79.9" fill="none" stroke="#e0242a" stroke-width="0.85" stroke-linejoin="round"/>
<path d="M661.4,72.4 C661.9,73.4 663.6,76.5 664.5,78.6 C665.4,80.7 666.7,82.7 667.0,84.8 C667.3,86.9 667.2,89.3 666.4,91.0 C665.6,92.7 662.7,94.1 662.0,94.7" fill="none" stroke="#e0242a" stroke-width="1.30" stroke-dasharray="1.3 0.5" stroke-linejoin="round"/>
<path d="M667.3,83.5 L666.6,84.2 L665.8,84.2 L666.3,83.8 L667.5,84.1 L666.5,84.7 L666.9,85.7 L667.8,86.1 L667.7,87.4 L667.1,86.2 L666.7,85.5 M666.5,91.6 L666.2,91.0 L666.6,89.8 L666.2,89.0 L665.7,88.3 L666.1,87.5 L666.8,86.6 L667.8,86.4 L667.1,86.6 L666.5,86.6 L666.2,85.6 L666.9,85.1 L666.8,83.9 M661.4,73.2 L661.8,73.9 L661.4,74.4 L662.5,74.5 L663.2,74.2 L662.6,74.2 L662.5,73.5 L661.6,73.3 L662.5,73.4 L662.8,74.3 L663.4,74.5 L662.2,74.5 L662.1,73.8" fill="none" stroke="#e0242a" stroke-width="0.85" stroke-linejoin="round"/>
<path d="M667.6,72.4 C668.5,73.0 671.8,74.2 673.2,76.1 C674.7,77.9 675.7,81.0 676.3,83.5 C676.9,86.0 676.8,89.8 676.9,91.0" fill="none" stroke="#e0242a" stroke-width="1.15" stroke-dasharray="1.3 0.5" stroke-linejoin="round"/>
<path d="M676.3,82.1 L675.7,82.1 L676.3,81.4 L675.9,82.2 L676.2,83.3 L677.0,83.3 L676.3,84.1 L677.1,85.0 L676.7,84.3 L675.9,83.9 L676.1,82.6 L676.4,81.8 M676.9,85.8 L676.5,86.6 L677.1,86.1 L677.2,85.5 L676.8,84.5 L677.1,83.6 L675.9,83.5 L675.6,84.0 L676.2,83.7 L675.7,82.6 L675.9,81.7 L675.4,81.3 L675.3,80.1" fill="none" stroke="#e0242a" stroke-width="0.85" stroke-linejoin="round"/>
<text x="603.9" y="15.5" font-size="7.7" font-weight="bold" text-anchor="middle" textLength="80.8" lengthAdjust="spacingAndGlyphs" fill="#231f20">t-SNE Projection for NN</text>
<rect x="523.5" y="19.4" width="160.89999999999998" height="125.9" fill="none" stroke="#7a7a7a" stroke-width="1.2"/>
<text x="521.1" y="21.099999999999998" font-size="4.6" font-weight="bold" text-anchor="end" fill="#333">150</text>
<line x1="522.3" y1="19.4" x2="523.5" y2="19.4" stroke="#888" stroke-width="0.6"/>
<text x="521.1" y="42.083333333333336" font-size="4.6" font-weight="bold" text-anchor="end" fill="#333">100</text>
<line x1="522.3" y1="40.38333333333333" x2="523.5" y2="40.38333333333333" stroke="#888" stroke-width="0.6"/>
<text x="521.1" y="63.06666666666667" font-size="4.6" font-weight="bold" text-anchor="end" fill="#333">50</text>
<line x1="522.3" y1="61.36666666666667" x2="523.5" y2="61.36666666666667" stroke="#888" stroke-width="0.6"/>
<text x="521.1" y="84.05000000000001" font-size="4.6" font-weight="bold" text-anchor="end" fill="#333">0</text>
<line x1="522.3" y1="82.35000000000001" x2="523.5" y2="82.35000000000001" stroke="#888" stroke-width="0.6"/>
<text x="521.1" y="105.03333333333335" font-size="4.6" font-weight="bold" text-anchor="end" fill="#333">-50</text>
<line x1="522.3" y1="103.33333333333334" x2="523.5" y2="103.33333333333334" stroke="#888" stroke-width="0.6"/>
<text x="521.1" y="126.01666666666667" font-size="4.6" font-weight="bold" text-anchor="end" fill="#333">-100</text>
<line x1="522.3" y1="124.31666666666666" x2="523.5" y2="124.31666666666666" stroke="#888" stroke-width="0.6"/>
<text x="521.1" y="147.0" font-size="4.6" font-weight="bold" text-anchor="end" fill="#333">-150</text>
<line x1="522.3" y1="145.3" x2="523.5" y2="145.3" stroke="#888" stroke-width="0.6"/>
<text x="545.2" y="153.0" font-size="4.6" font-weight="bold" text-anchor="middle" fill="#333">-100</text>
<line x1="545.8" y1="145.3" x2="545.8" y2="146.5" stroke="#888" stroke-width="0.6"/>
<text x="575.0" y="153.0" font-size="4.6" font-weight="bold" text-anchor="middle" fill="#333">-50</text>
<line x1="573.8" y1="145.3" x2="573.8" y2="146.5" stroke="#888" stroke-width="0.6"/>
<text x="606.4" y="153.0" font-size="4.6" font-weight="bold" text-anchor="middle" fill="#333">0</text>
<line x1="602.4" y1="145.3" x2="602.4" y2="146.5" stroke="#888" stroke-width="0.6"/>
<text x="635.7" y="153.0" font-size="4.6" font-weight="bold" text-anchor="middle" fill="#333">50</text>
<line x1="630.4" y1="145.3" x2="630.4" y2="146.5" stroke="#888" stroke-width="0.6"/>
<text x="664.1" y="153.0" font-size="4.6" font-weight="bold" text-anchor="middle" fill="#333">100</text>
<line x1="658.4" y1="145.3" x2="658.4" y2="146.5" stroke="#888" stroke-width="0.6"/>
<text x="606.2" y="158.60000000000002" font-size="5.6" font-weight="bold" text-anchor="middle" textLength="48.8" lengthAdjust="spacingAndGlyphs" fill="#231f20">t-SNE Dimension 2</text>
<text transform="translate(509.4,82.65) rotate(-90)" font-size="5.6" font-weight="bold" text-anchor="middle" textLength="50.2" lengthAdjust="spacingAndGlyphs" fill="#231f20">t-SNE Dimension 1</text>
<rect x="655.8" y="21.099999999999998" width="27.5" height="14.4" fill="#fff" stroke="#cfcfcf" stroke-width="0.7"/>
<circle cx="661.5" cy="25.2" r="1.2" fill="#1f4fb4"/>
<circle cx="661.5" cy="32.0" r="1.2" fill="#e8232a"/>
<text x="664.8" y="26.9" font-size="4.4" font-weight="bold" text-anchor="start" textLength="14.0" lengthAdjust="spacingAndGlyphs" fill="#333">Lable 0</text>
<text x="664.8" y="33.7" font-size="4.4" font-weight="bold" text-anchor="start" textLength="14.0" lengthAdjust="spacingAndGlyphs" fill="#333">Lable 1</text>
<path d="M401.0,190.0 C400.0,190.2 397.2,190.9 394.9,191.3 C392.6,191.7 389.5,192.3 387.2,192.6 C384.9,192.9 382.5,193.5 380.9,193.2 C379.3,192.9 378.0,191.7 377.7,190.6 C377.4,189.5 377.8,188.1 379.0,186.8 C380.2,185.5 382.5,183.9 384.7,183.0 C386.9,182.1 389.6,181.3 392.3,181.1 C395.0,180.9 398.3,181.3 401.0,181.7 C403.7,182.1 405.8,182.4 408.6,183.6 C411.4,184.8 414.6,187.0 417.6,188.7 C420.6,190.4 423.8,192.1 426.5,193.8 C429.2,195.5 432.0,197.2 434.1,198.9 C436.2,200.6 438.1,202.6 439.2,204.0 C440.3,205.4 440.7,205.9 440.5,207.2 C440.3,208.5 439.2,210.3 437.9,211.7 C436.6,213.1 434.7,214.2 432.8,215.5 C430.9,216.8 428.4,218.0 426.5,219.3 C424.6,220.6 422.7,221.8 421.4,223.1 C420.1,224.4 419.0,225.7 418.8,227.0 C418.6,228.3 419.9,230.2 420.1,230.8 M401.0,210.4 C400.8,210.0 400.8,208.7 400.0,207.8 C399.2,207.0 397.8,205.9 396.2,205.3 C394.6,204.7 391.9,204.6 390.4,204.0 C388.9,203.4 387.5,202.4 387.2,201.5 C386.9,200.6 387.4,199.2 388.5,198.3 C389.6,197.5 391.5,196.8 393.6,196.4 C395.7,196.0 398.9,196.3 401.0,196.0 C403.1,195.7 404.4,194.1 406.1,194.5 C407.8,194.9 409.7,197.0 411.2,198.3 C412.7,199.6 413.3,201.3 415.0,202.1 C416.7,202.8 419.5,202.4 421.4,202.8 C423.3,203.2 425.4,203.9 426.5,204.7 C427.6,205.5 428.0,206.6 427.8,207.8 C427.6,209.0 426.5,210.6 425.2,211.7 C423.9,212.8 421.8,213.6 420.1,214.2 C418.4,214.8 416.5,215.7 415.0,215.5 C413.5,215.3 412.5,214.2 411.2,212.9 C409.9,211.6 408.7,209.3 407.4,207.8 C406.1,206.3 404.6,205.1 403.5,204.0 C402.4,202.9 401.4,201.9 401.0,201.5 M401.0,211.0 C400.0,210.9 397.0,210.6 394.9,210.4 C392.8,210.2 390.4,210.2 388.5,209.8 C386.6,209.4 384.6,208.8 383.4,207.8 C382.2,206.8 382.6,204.9 381.5,204.0 C380.4,203.1 378.9,202.3 377.1,202.1 C375.3,201.9 372.1,203.2 370.7,202.8 C369.3,202.4 369.4,201.1 368.8,199.6 C368.2,198.1 368.3,195.0 366.9,193.8 C365.5,192.6 362.6,191.9 360.5,192.6 C358.4,193.2 356.0,195.8 354.1,197.7 C352.2,199.6 350.9,202.5 349.0,204.0 C347.1,205.5 344.4,205.8 342.7,206.6 C341.0,207.4 339.6,208.0 338.8,209.1 C338.1,210.2 337.6,211.9 338.2,212.9 C338.8,213.9 340.7,214.6 342.7,214.9 C344.7,215.2 347.8,215.3 350.3,214.9 C352.8,214.5 355.6,213.2 357.9,212.3 C360.2,211.5 362.2,210.1 364.3,209.8 C366.4,209.5 368.6,209.9 370.7,210.4 C372.8,210.9 375.0,212.3 377.1,212.9 C379.2,213.5 381.5,214.0 383.4,214.2 C385.3,214.4 386.6,214.1 388.5,214.2 C390.4,214.3 392.8,214.7 394.9,214.9 C397.0,215.1 400.0,215.4 401.0,215.5 M397.4,220.0 C396.5,219.7 394.6,218.1 392.3,218.0 C390.0,217.9 385.9,219.3 383.4,219.3 C380.9,219.3 379.0,218.5 377.1,218.0 C375.2,217.5 373.9,216.4 372.0,216.1 C370.1,215.8 367.1,215.6 365.6,216.1 C364.1,216.6 363.2,218.1 363.0,219.3 C362.8,220.5 363.2,222.2 364.3,223.1 C365.4,224.0 367.5,224.5 369.4,225.0 C371.3,225.5 373.9,225.8 375.8,226.3 C377.7,226.8 379.2,227.2 380.9,228.2 C382.6,229.1 385.1,231.4 386.0,232.0 M379.6,236.0 C378.8,235.6 376.2,234.2 374.5,233.3 C372.8,232.4 371.3,231.8 369.4,230.8 C367.5,229.9 365.1,228.6 363.0,227.6 C360.9,226.6 359.0,225.8 356.7,225.0 C354.4,224.2 351.6,223.5 349.0,223.1 C346.4,222.7 343.9,222.4 341.4,222.5 C338.8,222.6 335.4,223.1 333.7,223.8 C332.0,224.6 331.4,225.8 331.2,227.0 C331.0,228.2 331.2,230.0 332.5,230.8 C333.8,231.6 336.9,232.0 338.8,232.0 C340.7,232.0 342.4,231.2 343.9,230.8 C345.4,230.4 346.1,229.5 347.8,229.5 C349.5,229.5 352.2,230.2 354.1,230.8 C356.0,231.4 358.4,232.8 359.2,233.3 C360.0,233.8 359.4,233.5 359.2,234.0 C359.0,234.5 359.4,235.9 357.9,236.5 C356.4,237.1 353.1,237.7 350.3,237.8 C347.6,237.9 344.2,237.2 341.4,237.2 C338.6,237.2 335.8,237.4 333.7,237.8 C331.6,238.2 329.5,238.8 328.6,239.7 C327.8,240.5 327.8,242.2 328.6,242.9 C329.5,243.7 331.4,244.1 333.7,244.2 C336.0,244.3 339.7,243.9 342.7,243.6 C345.7,243.3 348.9,242.7 351.6,242.3 C354.4,241.9 356.9,241.2 359.2,241.0 C361.5,240.8 364.1,240.6 365.6,241.0 C367.1,241.4 367.9,242.7 368.1,243.6 C368.3,244.5 368.4,245.9 366.9,246.7 C365.4,247.5 362.2,247.9 359.2,248.6 C356.2,249.2 352.2,250.1 349.0,250.6 C345.8,251.1 342.7,251.4 340.1,251.8 C337.6,252.2 335.3,252.4 333.7,253.1 C332.1,253.8 331.0,254.8 330.6,255.7 C330.2,256.6 330.2,257.9 331.2,258.8 C332.1,259.7 334.4,260.6 336.3,260.8 C338.2,261.0 340.6,260.5 342.7,260.1 C344.8,259.7 346.7,258.9 349.0,258.2 C351.3,257.5 354.1,256.6 356.7,255.7 C359.2,254.8 362.0,253.8 364.3,253.1 C366.6,252.3 369.6,251.5 370.7,251.2 M374.5,241.6 C374.7,242.4 375.8,244.8 375.8,246.7 C375.8,248.6 375.1,251.0 374.5,253.1 C373.9,255.2 372.0,258.0 372.0,259.5 C372.0,261.0 373.4,261.8 374.5,262.0 C375.6,262.2 377.0,261.7 378.3,260.8 C379.6,259.9 381.0,258.2 382.1,256.9 C383.2,255.6 384.9,254.1 384.7,253.1 C384.5,252.1 381.8,251.4 380.9,250.6 C380.0,249.8 379.2,248.8 379.6,248.0 C380.0,247.2 381.7,246.3 383.4,246.1 C385.1,245.9 388.4,246.2 389.8,246.7 C391.2,247.2 391.7,248.2 391.7,249.3 C391.7,250.4 390.6,251.8 389.8,253.1 C389.1,254.4 387.6,255.4 387.2,256.9 C386.8,258.4 387.2,261.1 387.2,262.0 M370.7,263.3 C368.8,262.7 362.0,259.9 359.2,259.5 C356.4,259.1 355.2,260.1 354.1,260.8 C353.0,261.5 352.6,263.1 352.8,263.9 C353.0,264.7 354.1,265.4 355.4,265.8 C356.7,266.2 359.4,266.1 360.5,266.5 C361.6,266.9 362.0,267.7 361.8,268.4 C361.6,269.1 360.7,270.6 359.2,270.9 C357.7,271.2 354.7,270.2 352.8,270.3 C350.9,270.4 348.8,270.9 347.8,271.6 C346.9,272.4 346.5,273.7 347.1,274.8 C347.7,275.9 349.6,277.4 351.6,278.0 C353.6,278.6 356.6,278.9 359.2,278.6 C361.8,278.3 364.3,277.1 366.9,276.0 C369.4,274.9 372.0,273.5 374.5,272.2 C377.0,270.9 379.6,269.6 382.1,268.4 C384.7,267.2 388.5,265.7 389.8,265.2 M401.0,265.8 C399.8,266.0 395.5,266.2 393.6,267.1 C391.7,268.0 391.7,270.1 389.8,270.9 C387.9,271.6 383.9,271.1 382.1,271.6 C380.3,272.1 379.2,273.2 379.0,274.1 C378.8,275.1 379.5,276.7 380.9,277.3 C382.3,277.9 385.5,278.1 387.2,277.9 C388.9,277.7 389.8,276.5 391.1,276.0 C392.4,275.5 393.2,274.8 394.9,274.8 C396.5,274.8 400.0,275.8 401.0,276.0 M401.6,276.1 C400.9,276.5 398.5,277.2 397.5,278.2 C396.5,279.2 396.8,281.1 395.4,282.3 C394.0,283.5 392.4,285.0 389.3,285.3 C386.2,285.6 380.8,284.6 377.0,284.3 C373.2,284.0 368.8,283.0 366.8,283.3 C364.8,283.6 364.8,285.0 364.8,286.4 C364.8,287.8 364.8,290.3 366.8,291.5 C368.8,292.7 372.9,292.8 377.0,293.5 C381.1,294.2 387.9,295.6 391.3,295.6 C394.7,295.6 395.9,294.7 397.5,293.5 C399.1,292.3 400.4,289.9 400.6,288.4 C400.8,286.9 398.9,285.0 398.5,284.3 M401.0,251.8 C402.3,251.7 406.1,251.0 408.6,251.2 C411.2,251.4 414.4,251.9 416.3,253.1 C418.2,254.3 419.7,256.6 420.1,258.2 C420.5,259.8 419.7,261.6 418.8,262.7 C417.9,263.8 416.5,264.5 415.0,264.6 C413.5,264.7 411.2,263.9 409.9,263.3 C408.6,262.7 408.2,260.8 407.4,260.8 C406.5,260.8 405.0,262.2 404.8,263.3 C404.6,264.4 406.3,266.0 406.1,267.1 C405.9,268.2 404.4,269.2 403.5,269.7 C402.6,270.2 401.4,270.2 401.0,270.3 M411.2,272.2 C412.1,272.0 414.6,270.7 416.3,270.9 C418.0,271.1 420.5,272.2 421.4,273.5 C422.2,274.8 422.0,277.1 421.4,278.6 C420.8,280.1 419.1,281.4 417.6,282.4 C416.1,283.3 413.7,283.4 412.5,284.3 C411.3,285.2 410.4,286.4 410.6,287.5 C410.8,288.6 412.3,290.3 413.7,290.7 C415.1,291.1 417.1,290.5 418.8,290.0 C420.5,289.5 422.2,288.6 423.9,287.5 C425.6,286.4 427.3,285.0 429.0,283.7 C430.7,282.4 432.4,281.0 434.1,279.9 C435.8,278.8 437.5,278.1 439.2,277.3 C440.9,276.5 443.0,275.4 444.3,274.8 C445.6,274.2 446.5,273.7 446.9,273.5 M423.9,265.8 C424.8,266.3 427.1,268.2 429.0,269.0 C430.9,269.8 433.3,270.3 435.4,270.3 C437.5,270.3 439.9,269.3 441.8,269.0 C443.7,268.7 445.7,268.1 446.9,268.4 C448.1,268.7 448.5,270.5 448.8,270.9 M432.8,274.8 C433.0,275.4 434.1,277.6 434.1,278.6 C434.1,279.7 433.0,280.7 432.8,281.1 M401.0,276.0 C401.8,275.8 405.5,274.0 406.0,274.5 C406.5,275.0 404.3,278.2 404.0,279.0 M403.4,213.5 C404.1,214.4 406.2,217.0 407.6,218.8 C409.0,220.6 411.2,223.2 411.9,224.1" fill="none" stroke="#2b50aa" stroke-width="1.3" stroke-dasharray="2.4 0.4" stroke-linecap="butt" stroke-linejoin="round"/>
<path d="M390.9,191.5 l-0.1,-0.8 M388.6,191.9 l-0.2,-0.9 M389.5,182.3 l0.6,0.7 M408.5,184.1 l-0.6,1.3 M438.6,202.7 l0.7,-0.7 M440.5,206.0 l1.4,0.1 M420.9,224.7 l1.0,1.5 M399.4,206.8 l0.0,-0.9 M389.5,197.4 l0.0,-1.7 M424.8,204.6 l-1.1,0.8 M420.6,214.5 l0.2,1.7 M414.1,214.3 l0.2,-0.8 M409.7,210.1 l0.6,-0.6 M405.3,206.5 l-0.4,0.8 M385.9,208.2 l0.7,-0.8 M379.2,203.6 l-0.4,0.8 M377.9,203.0 l-1.0,1.3 M340.4,207.5 l-0.4,-1.0 M376.6,212.2 l1.0,-1.2 M367.0,223.6 l1.0,-0.8 M345.4,222.3 l0.3,-0.7 M340.3,232.2 l-0.1,1.1 M336.5,244.5 l-0.4,1.4 M347.7,250.3 l-0.3,-0.8 M340.2,252.3 l1.0,1.5 M334.3,252.5 l-0.3,-0.9 M345.9,258.6 l-0.9,-0.8 M359.0,255.4 l0.6,1.5 M375.2,247.1 l-1.0,0.0 M379.1,260.7 l1.0,1.1 M383.4,251.7 l1.1,-0.7 M386.7,259.8 l-1.5,0.4 M366.3,262.4 l-0.1,1.5 M351.7,270.1 l-0.7,-1.1 M347.1,272.3 l-1.1,0.4 M347.5,275.7 l-0.8,1.1 M376.4,270.7 l-0.3,-1.4 M384.3,270.9 l0.3,-0.9 M394.0,274.6 l-0.3,-1.3 M400.1,276.3 l0.1,0.9 M379.1,284.0 l-0.2,-1.5 M374.3,283.5 l0.5,-1.4 M369.0,292.4 l-1.2,1.3 M370.6,291.7 l0.2,-1.8 M406.1,251.9 l0.4,1.2 M420.0,257.3 l0.9,-0.1 M411.3,271.6 l0.3,-1.0 M418.2,290.6 l-0.1,1.6 M423.9,288.0 l0.8,1.0 M433.2,279.2 l-1.0,-0.2 M409.8,220.7 l0.7,-0.6" fill="none" stroke="#2b50aa" stroke-width="0.8" stroke-linecap="round"/>
<path d="M400.6,243.0 L400.7,243.9 L401.5,244.4 L402.3,244.2 L403.1,244.9 L404.1,245.1 L404.9,245.0 L405.7,245.7 L405.2,246.3 L404.5,245.9 L405.3,245.0 L405.8,245.4 M408.7,220.6 L409.1,220.1 L410.1,220.1 L411.0,220.1 L410.8,219.1 L410.7,219.8 L410.9,220.5 L410.1,221.1 L409.4,221.2 L408.7,222.1 L408.1,222.8 L407.3,223.4 L406.3,223.5 M396.3,227.8 L395.7,228.2 L394.7,228.6 L393.9,229.4 L394.7,230.4 L395.2,230.0 L396.4,230.4 L396.7,229.6 L397.8,229.4 L397.9,228.4 L398.0,227.4 M408.5,246.6 L409.3,246.6 L409.5,245.5 L410.0,245.1 L410.7,244.9 L411.3,246.0 L411.1,246.5 L411.4,247.2 L411.8,247.9 L412.9,247.5 L413.3,248.3 L412.4,247.8 L411.8,247.3 M402.9,224.0 L403.0,223.4 L403.8,223.2 L404.9,222.9 L405.2,223.4 L405.6,224.0 L405.0,224.7 L405.0,225.7 L404.2,225.9 L403.7,226.3 L403.5,227.3 L403.8,228.3 L404.7,229.1 M424.2,251.9 L423.9,252.5 L424.0,253.3 L424.9,252.6 L425.0,251.9 L424.0,251.6 L424.1,250.6 L424.4,249.7 L424.3,248.6 L424.2,248.0 L423.5,247.2 L422.7,246.7 M399.5,226.9 L399.0,226.2 L398.3,226.4 L397.9,225.3 L397.2,224.9 L397.2,224.1 L396.5,223.4 L396.8,222.9 L397.1,221.8 L396.4,221.5 L396.5,222.4 L397.5,222.9 L398.7,223.2 M432.3,255.0 L433.4,255.1 L434.1,254.2 L435.3,254.0 L436.4,254.4 L437.5,254.1 L438.6,254.0 L438.6,253.3 L437.8,253.6 L437.5,252.8 L437.3,252.1 M388.1,226.9 L388.0,227.5 L387.4,227.5 L386.2,227.6 L387.5,227.6 L388.4,227.8 L388.9,227.1 L389.9,227.4 L391.1,227.4 L391.6,228.5 L392.1,229.2 L391.7,230.3 M410.1,232.5 L411.1,231.8 L411.6,231.4 L411.6,230.3 L410.9,229.7 L410.2,229.1 L409.3,228.5 L408.7,228.1 L408.7,227.0 L409.0,226.4 L410.2,226.1 L411.1,225.4 M396.4,229.8 L395.5,229.1 L394.5,229.8 L394.8,230.8 L394.1,231.1 L393.5,230.1 L392.5,229.8 L392.2,228.8 L391.1,228.8 L390.1,228.2 L389.2,228.2 M427.1,252.7 L426.0,252.8 L425.2,252.6 L424.5,253.1 L425.5,252.4 L426.3,253.1 L426.7,253.7 L427.9,253.6 L428.2,254.7 L428.8,255.5 L429.5,255.6 L430.6,255.3 M431.7,244.7 L431.1,244.6 L430.0,244.9 L429.3,244.6 L428.6,244.8 L427.7,244.9 L426.8,244.2 L425.6,244.3 L425.3,244.9 L425.4,245.5 L426.2,245.9 L425.9,246.5 L425.0,246.3 M386.8,232.6 L386.7,231.4 L385.8,230.5 L385.3,230.0 L385.5,230.7 L385.3,231.3 L386.3,231.1 L386.7,231.8 L387.1,232.9 L386.6,233.9 L387.4,233.3 L388.1,234.0 M418.5,247.4 L418.1,248.3 L417.2,248.1 L416.7,247.4 L415.6,248.0 L415.0,248.4 L415.3,249.3 L415.3,248.1 L416.0,247.7 L415.8,246.8 L414.9,246.9 L413.6,246.7 M409.6,218.1 L410.3,219.0 L410.7,219.5 L411.3,219.6 L411.4,220.5 L410.6,220.4 L409.6,221.0 L408.5,220.6 L407.6,220.5 L407.4,219.5 L408.3,218.8 L409.3,219.0 M433.4,253.5 L434.2,252.8 L435.1,253.5 L434.7,254.1 L433.8,254.5 L432.7,255.2 L431.9,254.3 L431.8,253.6 L431.3,253.3 L431.3,252.5 L430.8,251.6 L430.2,251.3 M398.1,219.5 L399.2,219.3 L399.9,218.6 L399.8,218.0 L400.7,217.9 L401.4,218.1 L402.1,218.8 L403.1,218.8 L403.3,219.8 L402.5,220.7 L401.6,220.7 L400.8,221.4 M439.2,254.7 L439.7,254.1 L439.6,253.5 L438.9,254.4 L438.6,255.6 L437.8,256.3 L436.5,256.1 L435.6,256.6 L435.1,257.5 L434.2,257.3 L433.4,257.2 L433.0,256.1 M409.8,218.4 L409.0,218.3 L408.2,217.8 L407.5,218.4 L407.1,219.3 L406.2,220.1 L406.3,220.9 L407.4,221.5 L407.3,222.5 L406.4,222.6 L405.8,222.4 L405.2,222.2 M428.3,249.8 L427.1,249.9 L426.4,249.8 L425.4,249.5 L424.7,248.8 L425.1,248.1 L426.1,247.8 L426.2,246.9 L425.7,246.4 L425.1,245.6 L424.5,245.3 L424.6,244.7 L423.6,244.5 M429.8,252.5 L429.9,253.4 L430.5,254.1 L431.8,254.1 L431.9,253.4 L430.9,252.6 L430.1,252.9 L429.3,253.2 L428.7,252.5 L427.9,252.1 L427.1,251.9 L426.3,251.9 M399.5,234.8 L400.2,233.8 L400.6,233.1 L401.1,232.3 L401.9,231.7 L402.5,231.0 L402.7,230.1 L403.5,229.9 L403.9,229.5 L404.7,229.5 L404.8,228.5 L404.9,227.6 L405.6,227.4 M403.3,240.3 L403.4,241.1 L403.6,242.0 L403.9,243.1 L403.6,244.2 L404.2,244.8 L404.3,245.6 L403.1,245.4 L403.0,244.5 L402.2,244.1 L401.2,244.8 L402.2,245.1 M414.7,248.5 L414.9,247.6 L414.4,247.1 L414.2,246.4 L413.6,245.8 L413.1,245.5 L412.3,244.8 L411.6,245.2 L410.8,245.2 L410.1,244.6 L409.1,244.5 L408.0,243.8 L407.2,244.7 M412.3,240.6 L411.5,241.2 L410.9,241.4 L409.9,241.8 L409.9,243.0 L409.9,244.1 L409.7,245.1 L408.8,245.9 L407.6,245.7 L407.1,245.1 L407.2,244.0 M401.1,227.8 L401.8,227.6 L402.3,228.1 L403.0,227.6 L404.1,227.9 L404.7,228.1 L404.5,229.2 L405.4,229.8 L406.1,230.6 L406.9,230.6 L407.3,231.3 L407.6,232.5 M412.4,226.6 L411.8,227.3 L411.2,227.2 L411.0,227.9 L410.4,228.9 L409.5,229.0 L409.4,228.2 L409.7,227.4 L409.6,226.8 L410.3,226.2 L411.1,226.0 L412.0,226.3 L413.1,226.3 M397.2,229.3 L396.4,229.9 L395.7,229.1 L395.6,228.4 L395.2,227.7 L395.4,226.8 L396.2,225.8 L396.3,224.9 L396.1,223.7 L396.2,222.6 L396.9,222.2 L397.4,222.9 M397.7,236.2 L396.8,236.5 L396.7,237.4 L397.1,238.0 L398.0,237.7 L398.1,236.7 L397.6,235.8 L396.8,235.6 L396.6,236.2 L397.5,236.8 L397.1,237.7 L396.7,238.8 M393.8,237.6 L394.3,237.9 L395.1,238.9 L394.9,239.9 L395.1,240.7 L396.3,240.9 L396.9,241.9 L397.9,242.7 L398.7,242.4 L399.7,241.7 L400.5,241.8 M396.4,235.0 L396.1,234.4 L396.8,233.6 L398.0,233.2 L399.2,232.8 L399.6,232.3 L398.9,231.4 L398.2,230.6 L397.6,230.2 L396.7,231.1 L396.3,232.3 M410.3,225.9 L410.8,226.5 L410.4,227.4 L409.2,227.1 L408.4,226.4 L407.8,225.9 L406.6,226.4 L405.6,226.0 L405.1,225.2 L405.0,224.6 L405.8,224.0 L406.7,223.9 M439.9,254.8 L438.8,254.6 L438.8,253.7 L439.6,253.6 L439.5,254.4 L439.1,255.0 L438.3,254.4 L437.6,254.5 L436.8,254.1 L435.9,253.9 L435.2,254.6 L434.3,254.6 L434.0,254.0 M431.9,245.8 L431.6,245.3 L430.9,244.5 L431.0,243.6 L430.9,242.8 L430.1,242.7 L429.2,242.5 L428.6,243.1 L427.4,242.7 L426.4,242.3 L426.2,241.6 L425.4,241.4 L424.4,242.1 M406.2,237.3 L405.6,237.7 L404.8,237.8 L403.8,237.6 L403.4,236.8 L402.9,235.7 L402.0,235.6 L401.4,235.2 L400.5,236.2 L400.4,237.1 L400.4,238.0 L399.1,238.2 M402.7,230.4 L402.1,230.2 L401.8,231.0 L401.0,231.5 L399.8,231.2 L399.1,230.5 L398.3,229.6 L397.6,228.9 L396.8,229.2 L396.4,230.4 L396.9,231.0 L397.3,232.1 M398.0,220.0 L399.2,220.4 L400.1,221.0 L400.1,221.8 L399.7,222.5 L399.9,223.7 L401.0,224.1 L401.8,224.4 L403.0,224.6 L404.2,224.8 L405.1,225.1 M404.6,237.4 L404.8,238.0 L403.9,238.7 L403.3,238.3 L402.7,238.7 L401.9,237.7 L401.3,237.2 L400.0,237.2 L399.5,236.4 L399.7,235.3 L400.9,234.9 L401.6,234.2 M430.5,242.2 L429.8,242.4 L429.4,241.9 L429.9,241.3 L429.6,240.6 L429.9,240.0 L429.2,239.1 L428.1,238.5 L428.3,237.7 L427.3,238.2 L427.5,239.0 L427.5,239.7 L428.4,239.8 M420.4,249.4 L420.0,248.4 L419.4,248.0 L418.4,248.5 L418.5,249.7 L419.0,250.7 L419.6,249.7 L420.2,249.9 L421.4,249.8 L422.3,248.9 L422.0,248.3 M404.7,244.9 L405.3,244.3 L404.8,243.6 L404.1,243.6 L403.2,243.8 L403.0,244.6 L402.9,245.3 L403.1,244.6 L402.5,244.3 L401.5,244.7 L400.8,243.8 L400.6,242.6 L399.4,242.6 M412.0,241.5 L411.3,241.3 L411.5,240.1 L411.0,239.6 L410.0,239.8 L409.5,240.9 L409.9,241.9 L409.4,242.9 L408.5,242.6 L408.0,242.9 L408.1,244.2 L408.7,244.5 M404.0,225.1 L402.8,225.0 L402.4,224.5 L402.9,224.0 L403.1,223.3 L402.2,222.3 L401.3,221.5 L401.4,220.3 L402.6,220.0 L403.6,219.7 L404.1,219.3 L404.9,218.6 M396.1,238.2 L396.6,239.3 L397.0,239.8 L397.7,240.7 L398.7,240.8 L399.8,240.9 L400.3,240.3 L401.0,239.5 L402.1,239.9 L402.6,240.8 L403.4,240.7 M416.9,243.1 L416.9,242.4 L416.8,241.6 L416.8,240.7 L416.7,239.5 L417.7,239.1 L418.5,238.9 L418.9,239.9 L418.4,240.2 L417.8,240.7 L418.2,241.8 L418.6,242.9 M405.1,230.3 L405.5,229.1 L405.0,228.7 L404.1,227.9 L403.0,228.1 L402.5,229.0 L402.0,229.6 L401.1,229.0 L400.7,228.1 L399.7,227.3 L400.0,226.2 M425.6,242.2 L426.7,242.7 L427.4,242.9 L427.9,243.6 L427.3,244.5 L427.5,245.1 L428.0,246.0 L428.4,246.9 L427.9,247.4 L427.1,247.2 L426.0,246.7 L426.0,245.5 M415.5,234.3 L414.9,234.7 L414.3,234.0 L413.9,233.5 L413.3,233.6 L413.3,234.8 L414.3,235.6 L415.4,235.1 L416.2,235.0 L417.3,234.5 L417.9,234.8 L418.7,235.6 M405.5,223.5 L406.2,223.4 L407.2,223.6 L407.6,223.1 L408.7,223.1 L408.8,222.5 L408.0,222.2 L407.7,222.9 L408.0,223.7 L409.0,223.7 L409.5,223.2 L410.0,222.6 L410.3,221.9 L411.3,221.8 M402.0,244.9 L403.3,244.9 L403.4,244.2 L402.8,244.0 L402.2,244.6 L401.9,245.4 L401.0,244.4 L401.5,243.8 L401.3,242.9 L400.9,242.3 L400.5,241.6 L400.6,240.3 M403.7,220.9 L402.6,220.3 L402.7,219.4 L402.7,218.2 L402.6,217.1 L402.6,216.4 L403.0,215.5 L402.9,216.5 L403.5,217.1 L403.8,218.1 L405.0,218.2 M414.9,231.6 L414.4,231.2 L413.3,230.7 L412.2,230.1 L411.3,230.4 L410.6,230.3 L410.0,230.9 L409.0,231.0 L407.9,231.0 L407.2,230.0 L407.2,229.2 L407.8,228.4 M403.8,239.3 L404.2,238.7 L405.3,239.2 L406.5,239.1 L406.6,238.4 L406.9,237.4 L406.9,236.6 L407.8,236.3 L408.1,236.9 L408.1,237.6 L408.1,238.4 L407.2,238.7 L406.1,238.1 M424.7,249.3 L424.2,248.9 L423.9,248.3 L422.9,247.5 L422.2,247.7 L421.7,248.3 L420.9,248.9 L420.7,249.5 L420.0,249.5 L418.8,249.9 L417.9,249.2 L416.8,249.4 L415.8,249.3 M415.0,240.5 L415.4,241.3 L416.7,241.3 L417.3,241.3 L418.0,240.5 L418.8,240.2 L418.7,239.0 L418.2,238.5 L417.6,238.4 L416.7,238.6 L416.4,237.7 L417.0,237.4 L418.1,238.1 M423.3,247.5 L422.3,246.8 L422.2,246.1 L423.4,245.8 L424.3,246.0 L425.2,246.3 L425.9,247.1 L425.7,248.0 L424.9,248.5 L425.1,249.4 L425.8,250.5 M420.6,239.0 L420.4,240.1 L419.7,240.4 L419.0,239.7 L418.4,239.8 L417.6,239.9 L417.2,241.0 L416.4,241.5 L415.8,241.2 L414.8,241.7 L414.1,241.1 L414.3,239.8 M410.2,230.3 L410.4,229.1 L411.3,228.9 L411.7,227.7 L412.3,227.0 L412.6,225.9 L412.4,225.2 L412.1,225.9 L411.2,226.4 L410.6,226.6 L409.5,226.8 L409.1,228.0 M391.1,236.5 L390.7,237.4 L391.3,238.2 L392.3,238.8 L393.4,238.8 L394.7,238.8 L395.3,238.6 L396.6,238.7 L397.5,237.8 L398.6,238.2 L399.5,237.4 M400.6,225.3 L401.7,225.0 L402.8,225.5 L404.0,225.7 L404.2,224.5 L404.4,223.7 L405.1,223.8 L406.4,223.9 L406.7,222.9 L407.8,222.9 L408.3,223.5 M401.8,240.8 L402.6,240.8 L403.2,241.1 L403.7,241.7 L404.8,242.1 L405.5,241.5 L406.2,241.0 L406.4,239.9 L406.9,239.0 L406.5,237.8 L405.4,238.0 L405.4,238.6 M409.8,237.8 L409.4,236.9 L408.4,237.1 L407.8,236.3 L408.2,235.5 L408.8,234.5 L409.2,233.5 L408.9,232.8 L408.1,232.7 L407.3,233.7 L407.0,234.6 L406.4,234.9 M409.2,244.3 L408.0,244.1 L407.7,244.8 L408.2,245.8 L407.9,246.5 L408.0,245.7 L408.2,244.7 L407.5,244.4 L407.0,244.8 L406.1,244.3 L405.5,244.5 L404.7,245.2 L404.0,245.2 M435.6,249.1 L434.6,248.4 L434.0,247.7 L434.4,246.8 L434.9,246.3 L434.9,247.4 L433.9,247.8 L432.9,248.3 L433.1,249.5 L434.2,249.7 L435.0,248.9 M425.4,247.8 L424.4,247.3 L424.5,246.4 L425.4,246.4 L425.9,246.9 L426.6,247.8 L427.2,248.1 L427.9,248.7 L428.8,248.1 L429.7,247.6 L430.9,247.5 L431.7,248.3 M410.5,226.0 L411.4,226.2 L412.1,225.8 L412.2,224.9 L411.1,225.2 L410.4,224.9 L409.4,225.4 L408.2,225.6 L407.1,226.1 L406.6,226.5 L405.7,225.8 L405.0,225.6 M417.9,248.9 L417.6,248.4 L418.3,247.4 L419.3,247.6 L420.0,247.3 L420.6,248.1 L421.3,247.7 L421.4,247.0 L422.3,246.3 L423.3,246.9 L423.4,247.6 L423.8,248.2 L424.8,248.4 M420.6,251.4 L421.6,251.4 L421.7,252.4 L421.8,251.6 L420.9,251.1 L421.3,249.9 L421.0,249.1 L420.2,249.3 L419.8,249.9 L419.4,250.5 L418.3,250.8 L418.9,250.4 M423.0,245.3 L422.8,246.4 L423.0,247.1 L423.5,247.5 L424.1,247.2 L424.4,246.2 L424.4,245.5 L425.2,244.8 L426.2,244.8 L426.4,244.1 L426.9,243.8 L428.0,244.5 L428.7,244.8 M423.8,241.1 L423.5,242.2 L423.2,243.2 L423.3,244.4 L423.9,245.3 L425.1,245.6 L425.9,245.6 L426.6,245.4 L427.2,244.6 L427.2,243.4 L427.6,242.5 M400.8,224.4 L401.3,223.6 L402.0,223.1 L402.8,223.1 L403.5,222.6 L402.9,221.7 L402.2,221.8 L401.0,222.4 L400.4,221.9 L399.5,221.1 L398.6,220.6 L397.7,221.1 M390.3,239.1 L391.3,239.0 L391.9,239.2 L392.6,238.6 L393.1,237.6 L392.5,237.1 L391.4,237.1 L390.5,236.4 L389.6,235.7 L388.9,235.9 L388.6,235.3 L387.4,235.3 M430.4,245.8 L430.4,245.0 L430.2,244.3 L429.8,243.6 L429.5,242.5 L428.6,241.8 L427.9,241.0 L427.3,241.3 L426.3,241.5 L425.2,241.4 L424.8,240.8 L424.2,240.2 M430.7,240.2 L429.9,240.0 L429.6,238.9 L428.8,239.5 L427.7,240.1 L426.9,240.5 L426.4,239.8 L425.9,239.4 L424.9,239.0 L425.0,237.9 L425.5,237.3 L425.1,236.2 M415.2,231.9 L414.4,231.5 L414.9,230.4 L415.6,230.5 L415.6,231.3 L415.4,232.0 L416.2,232.9 L417.3,232.8 L418.3,233.0 L418.2,234.1 L418.7,235.1 L418.2,236.1 M400.3,226.4 L401.3,226.7 L401.9,226.4 L402.8,226.1 L403.4,225.7 L404.4,226.4 L404.9,227.3 L405.1,227.9 L404.2,228.6 L403.5,228.7 L402.7,228.0 L402.1,227.4 L401.3,226.6 M404.9,239.4 L404.3,239.9 L403.4,239.1 L402.2,238.8 L401.7,237.8 L402.1,237.0 L401.5,236.0 L401.1,235.4 L400.4,235.8 L399.3,235.2 L399.3,234.6 L400.3,234.1 M430.5,247.9 L431.3,248.4 L431.4,249.0 L430.6,249.7 L429.8,249.4 L428.6,249.9 L428.5,250.6 L427.4,250.5 L426.3,250.6 L425.2,251.3 L424.4,251.2 L423.8,250.5 M385.0,232.0 L385.7,232.3 L386.1,232.7 L386.9,233.1 L387.8,232.7 L388.1,233.2 L388.7,233.7 L389.3,234.3 L390.0,234.2 L390.5,234.9 L391.5,235.1 L391.3,236.3 L392.1,236.6 M395.4,236.0 L396.3,236.3 L397.0,235.8 L397.7,235.0 L397.9,234.1 L397.7,233.3 L398.2,232.7 L397.5,231.9 L397.3,231.1 L396.8,230.2 L396.0,230.2 L395.9,229.3 M408.7,226.5 L407.9,226.4 L406.9,225.7 L406.2,225.0 L404.9,225.0 L404.1,225.2 L403.1,225.6 L402.8,226.2 L403.3,227.0 L404.2,226.7 L404.9,226.8 L405.5,225.9 M404.7,241.4 L405.0,240.6 L405.6,239.8 L406.7,239.4 L407.4,238.4 L408.1,238.4 L409.0,237.7 L409.3,236.6 L409.9,235.8 L409.8,234.9 L410.6,234.2 M427.8,243.4 L426.9,242.7 L426.3,243.1 L425.6,242.5 L425.4,241.8 L425.8,241.1 L425.1,240.3 L425.4,239.2 L426.5,238.7 L427.2,238.2 L426.3,238.6 L425.2,238.7 M403.9,230.6 L403.6,231.2 L403.3,232.1 L402.7,232.1 L402.2,231.7 L402.7,230.8 L403.0,229.7 L403.0,228.5 L401.7,228.5 L401.5,227.7 L401.1,227.1 L400.8,226.4 L401.6,225.7 M404.3,234.1 L405.6,233.7 L405.5,232.9 L405.8,232.2 L406.2,231.6 L406.1,230.7 L406.6,230.3 L407.4,230.4 L408.0,230.7 L409.0,230.4 L409.2,229.8 L409.9,229.3 L410.7,228.9 M433.5,247.7 L433.6,246.5 L433.0,245.7 L433.6,245.0 L433.5,243.8 L433.9,244.7 L434.9,245.3 L434.4,245.9 L434.8,247.0 L434.9,247.9 L435.6,247.8 L436.1,248.5 M410.2,240.0 L411.2,240.1 L411.6,241.0 L412.2,240.9 L412.7,241.5 L413.6,241.0 L413.2,239.8 L413.6,239.2 L413.2,238.1 L413.2,237.0 L413.9,236.0 L413.1,235.3 M413.4,235.4 L412.7,236.4 L413.2,237.2 L412.9,237.9 L412.2,238.7 L411.9,239.2 L412.5,240.2 L412.4,241.2 L413.2,242.1 L413.2,243.0 L412.4,243.8 L411.8,244.7 M405.8,242.9 L406.2,243.5 L406.2,244.3 L407.0,244.8 L406.7,245.5 L406.4,246.4 L405.6,245.9 L404.4,245.4 L405.4,245.4 L405.6,244.2 L406.3,243.8 L407.2,244.4 M389.6,227.6 L389.3,228.6 L389.1,229.4 L388.9,230.1 L387.7,230.4 L386.8,229.6 L387.0,228.9 L387.3,228.2 L387.9,228.0 L389.0,227.7 L389.4,227.2 L390.5,227.9 M406.7,232.3 L407.2,231.9 L407.7,232.3 L408.7,232.5 L409.9,232.8 L410.7,232.3 L411.2,231.5 L411.5,230.6 L412.1,229.9 L412.3,229.2 L413.0,228.4 L413.3,227.4 M410.2,236.6 L409.7,237.1 L410.2,237.9 L411.3,238.3 L411.6,237.7 L410.9,237.2 L410.3,236.5 L409.5,236.2 L409.4,235.6 L408.4,234.9 L408.4,234.3 L408.0,233.4 L407.7,232.8 M421.7,233.8 L420.9,233.3 L419.7,233.5 L419.5,234.3 L418.4,234.6 L417.3,235.3 L417.4,236.3 L417.5,237.2 L417.3,238.0 L416.3,238.7 L415.4,239.6 M416.3,238.8 L416.9,238.2 L417.0,237.0 L416.6,236.4 L415.6,236.3 L414.4,236.7 L413.6,236.9 L413.6,237.9 L413.8,238.6 L414.2,239.1 L415.0,239.9 L415.0,240.8 M400.9,230.7 L400.0,231.5 L400.2,232.6 L399.8,233.3 L399.4,233.8 L399.3,234.9 L398.4,235.1 L397.2,235.3 L396.6,234.4 L395.9,234.6 L395.2,234.2 L394.4,233.3 M410.1,234.9 L409.9,234.3 L409.1,234.2 L409.0,235.1 L409.5,235.6 L410.3,235.6 L411.1,236.1 L411.6,235.7 L412.3,235.6 L413.2,236.0 L414.0,235.8 L414.9,236.8 L414.9,237.4 L414.1,237.7 M415.9,243.4 L416.9,242.9 L416.9,241.7 L417.5,241.0 L417.0,240.0 L417.8,239.0 L418.7,238.2 L419.8,237.6 L420.9,237.2 L421.6,236.8 M404.4,219.4 L404.8,220.6 L405.5,220.7 L405.8,220.1 L406.9,220.5 L407.6,220.2 L408.1,219.5 L409.2,219.1 L409.5,218.2 L409.8,219.4 L409.2,220.1 L408.8,220.8 M412.3,231.1 L412.0,229.8 L411.6,228.9 L411.9,228.2 L412.1,227.3 L412.6,226.7 L411.9,227.1 L411.2,227.0 L410.8,226.0 L411.3,225.4 L412.0,224.6 L411.0,224.9 M394.3,223.8 L394.8,224.2 L395.5,224.8 L396.3,224.1 L396.2,223.0 L396.3,222.1 L396.9,221.0 L398.1,220.6 L398.8,221.0 L399.7,221.9 L400.2,222.6 M407.7,237.9 L407.2,237.2 L406.6,237.4 L405.9,237.8 L405.3,237.2 L404.9,236.4 L405.0,235.3 L404.0,234.9 L403.3,234.1 L402.5,234.5 L402.2,235.4 L403.2,236.0 M428.0,254.2 L428.1,253.4 L427.6,252.5 L428.0,251.6 L428.4,250.5 L428.0,249.8 L427.2,249.5 L426.6,250.1 L426.4,251.4 L425.9,252.4 L425.3,252.2 L424.0,252.1 M427.9,245.7 L427.1,246.2 L426.2,246.7 L426.8,247.8 L426.0,248.4 L425.2,248.4 L424.7,247.9 L423.5,247.9 L423.4,249.2 L423.1,250.2 L423.3,251.5 M422.4,238.5 L422.2,239.1 L423.2,239.8 L423.9,239.7 L424.6,239.0 L425.5,239.0 L425.8,240.0 L425.5,240.7 L426.5,241.3 L427.4,240.4 L427.5,239.5 L428.2,239.4 M395.9,226.9 L396.4,225.8 L396.1,224.5 L395.3,224.0 L394.4,223.1 L395.0,222.3 L394.9,223.0 L393.7,223.1 L393.4,224.4 L393.5,225.5 L392.7,226.1 M430.0,240.3 L430.1,241.0 L430.1,241.7 L429.7,242.7 L429.1,242.7 L428.8,243.5 L428.0,244.1 L428.2,245.0 L428.1,245.6 L428.2,246.7 L427.3,247.6 L426.5,248.3 L426.2,249.0 M413.4,241.6 L413.0,241.1 L413.2,240.3 L412.3,239.6 L413.0,238.6 L413.5,237.6 L414.4,237.7 L415.0,238.0 L415.9,238.1 L417.0,238.2 L418.2,238.1 L418.5,238.6 M422.3,241.1 L423.2,240.5 L424.0,240.5 L424.7,241.0 L425.7,241.0 L426.4,241.1 L426.7,241.6 L427.3,241.7 L428.0,240.8 L428.0,239.9 L428.6,238.8 L429.3,238.7 L430.1,239.6 M398.2,231.1 L397.7,232.1 L397.9,233.1 L398.3,234.0 L399.3,234.6 L400.4,234.5 L401.3,234.6 L402.2,235.0 L401.9,235.6 L401.5,236.1 L401.6,237.3 L400.7,237.9 M406.4,216.8 L406.7,217.8 L407.2,218.3 L407.6,219.0 L407.6,219.9 L407.2,220.5 L406.5,221.3 L407.1,222.2 L408.1,221.8 L409.3,221.6 L409.9,221.3 L410.1,220.4 M410.8,234.2 L410.8,233.2 L411.8,232.4 L411.7,231.3 L411.4,230.4 L411.7,229.3 L412.6,228.9 L412.7,227.9 L412.7,226.9 L412.1,226.0 L411.1,225.6 M414.8,239.3 L415.4,240.1 L415.7,241.0 L416.7,240.7 L417.7,241.5 L418.4,241.4 L418.9,242.0 L419.5,242.4 L420.5,242.9 L420.5,243.6 L421.0,244.6 L421.9,244.4 M421.5,248.7 L421.5,247.8 L422.5,247.6 L423.0,248.7 L422.8,249.6 L422.1,249.8 L421.2,249.2 L421.3,248.0 L422.0,247.0 L422.1,246.4 L422.5,245.8 L423.6,245.8" fill="none" stroke="#2b50aa" stroke-width="0.85" stroke-linejoin="round"/>
<path d="M399.9,234.4 L400.0,235.2 L399.5,236.4 L399.1,237.6 L398.1,237.6 L397.0,238.1 L396.4,237.2 L395.4,237.7 L395.7,238.6 L395.9,237.7 L396.8,237.6 M406.7,231.4 L407.9,231.3 L408.3,230.5 L407.9,230.0 L406.8,229.7 L406.9,228.6 L407.6,228.0 L408.2,228.5 L408.7,229.5 L408.4,230.1 L407.9,230.6 L407.1,230.8" fill="none" stroke="#e0242a" stroke-width="0.85" stroke-linejoin="round"/>
<path d="M462.3,250.1 L462.6,250.9 L463.0,250.4 L462.2,249.6 L461.5,249.4 L461.7,250.0 L462.2,249.0 L462.8,247.9 L462.2,247.4 L461.7,247.1 L461.0,247.8 L461.4,248.4 L461.1,249.0 M461.6,248.7 L462.3,248.3 L462.4,247.1 L463.5,246.7 L463.4,245.8 L463.6,246.6 L463.0,247.3 L462.9,248.0 L463.8,248.4 L463.9,249.3 L463.6,250.1 L463.2,250.6 L462.6,251.2 M467.2,251.1 L466.6,250.2 L466.0,249.5 L465.1,250.0 L464.2,250.2 L463.7,250.6 L463.3,251.2 L463.5,251.9 L464.5,252.1 L465.2,252.4 L464.6,252.8 L464.1,252.2 L463.3,251.4 M465.6,251.8 L465.0,252.0 L465.5,252.3 L464.5,252.5 L465.3,252.1 L466.1,251.9 L466.9,250.9 L467.2,249.9 L467.0,249.3 L466.5,248.4 L465.4,248.6 L464.2,248.9" fill="none" stroke="#e0242a" stroke-width="0.85" stroke-linejoin="round"/>
<path d="M459.2,257.1 L458.8,255.9 L459.3,255.5 L459.8,255.9 L460.8,255.8 L461.1,256.4 L460.7,257.4 L459.6,257.2 L458.3,257.1 L458.1,258.2 L457.3,257.5 L457.9,257.4 M459.7,256.0 L459.4,256.6 L458.6,257.3 L457.5,257.7 L457.5,256.9 L458.0,256.7 L458.6,256.9 L459.4,257.4 L460.3,257.0 L460.9,256.3 L461.9,256.9 L460.7,257.1 M458.8,256.4 L458.0,256.9 L457.0,257.1 L456.1,257.0 L456.1,256.2 L456.1,255.4 L455.7,254.8 L456.1,253.6 L457.3,253.4 L457.8,253.0 L457.4,253.8 L458.1,254.9" fill="none" stroke="#e0242a" stroke-width="0.85" stroke-linejoin="round"/>
<path d="M466.0,226.0 L465.7,227.1 L465.2,227.5 L464.6,227.7 L464.6,228.6 L465.3,228.2 L465.9,228.4 L465.9,229.3 L465.3,229.8 L466.5,229.7 L467.0,229.3 L467.4,228.2 L468.1,227.6 M465.1,225.9 L464.3,226.3 L463.0,226.4 L462.9,227.0 L463.5,227.1 L464.6,227.4 L465.2,227.2 L465.8,227.2 L466.5,228.2 L467.3,228.4 L467.4,229.2 L467.9,228.1 L468.7,228.2" fill="none" stroke="#e0242a" stroke-width="0.85" stroke-linejoin="round"/>
<path d="M427.6,229.1 C427.8,230.2 428.0,233.4 428.9,235.5 C429.8,237.6 431.2,239.9 432.7,241.8 C434.2,243.7 436.1,245.4 437.8,246.9 C439.5,248.4 441.6,249.5 442.9,250.8 C444.2,252.1 445.5,253.1 445.5,254.6 C445.5,256.1 444.2,258.5 442.9,259.7 C441.6,260.9 439.7,261.6 437.8,261.6 C435.9,261.6 433.2,260.4 431.5,259.7 C429.8,258.9 428.9,258.6 427.6,257.1 C426.4,255.7 424.8,252.5 424.0,251.0 C423.2,249.5 422.9,248.5 422.7,248.0" fill="none" stroke="#2b50aa" stroke-width="2.88" stroke-dasharray="1.3 0.5" stroke-linejoin="round"/>
<path d="M425.4,254.7 L425.1,256.0 L426.0,255.9 L427.1,256.5 L428.2,256.7 L428.8,257.3 L429.9,257.3 L430.9,257.3 L430.5,256.7 L429.8,256.4 L429.0,257.3 M431.1,257.8 L430.6,257.2 L429.8,257.7 L428.7,258.3 L429.0,259.2 L429.4,259.7 L430.2,259.2 L431.2,259.3 L431.8,260.2 L432.4,261.0 L433.5,261.5 L434.6,261.7 M438.1,259.3 L438.9,259.5 L439.7,259.8 L440.7,260.4 L441.8,260.2 L442.5,259.6 L442.6,258.4 L443.5,258.3 L444.0,258.8 L444.5,259.6 L444.5,260.9 M429.4,256.5 L429.8,257.4 L430.8,257.2 L431.1,257.8 L431.8,257.9 L432.7,258.7 L432.7,259.5 L432.0,259.8 L431.9,260.8 L431.2,261.1 L430.5,260.6 L430.3,259.8 L429.5,259.5 M429.1,260.3 L428.9,259.5 L428.2,259.0 L427.7,259.6 L428.9,259.5 L429.7,259.0 L430.1,259.6 L430.8,259.9 L431.4,259.2 L430.8,258.3 L430.1,257.8 L430.0,257.1 L429.3,256.4 M442.6,256.1 L442.9,257.3 L442.7,258.2 L441.6,258.5 L440.8,259.0 L440.9,259.7 L440.0,259.9 L439.1,260.4 L438.0,260.3 L437.4,260.1 L436.5,260.9 L435.4,260.7 M426.4,256.9 L427.5,256.8 L428.0,256.3 L428.2,255.6 L427.6,254.9 L427.0,253.9 L427.4,253.2 L426.8,253.1 L425.7,253.0 L425.4,252.4 L424.2,252.7 L424.1,253.4 L423.2,253.9 M430.3,232.5 L429.2,232.5 L428.4,232.0 L427.4,232.5 L426.7,233.3 L426.8,234.2 L427.3,233.1 L427.9,232.6 L428.6,232.1 L429.3,231.5 L429.9,231.6 L430.0,232.5 M429.2,257.2 L428.4,257.9 L427.5,258.2 L426.7,258.0 L426.1,257.3 L426.4,256.6 L427.1,256.1 L427.8,256.7 L427.9,257.3 L427.2,257.5 L427.3,258.3 L427.2,259.1 L427.1,258.4 L426.2,257.9 M441.8,260.4 L442.5,259.7 L443.2,259.0 L442.7,258.0 L441.6,257.7 L440.7,258.3 L439.5,258.7 L439.3,259.4 L439.7,259.9 L439.3,260.8 L438.4,261.4 M444.7,254.8 L443.8,255.1 L443.3,254.2 L442.7,253.5 L443.4,253.7 L443.8,254.7 L443.1,255.4 L444.2,254.9 L445.0,254.2 L445.9,253.8 L446.9,253.3 M438.9,247.7 L438.2,248.6 L438.7,249.5 L439.4,248.8 L439.0,248.2 L438.2,247.8 L437.1,247.8 L436.2,247.4 L436.7,246.3 L437.5,246.4 L438.2,246.3 L438.8,246.5" fill="none" stroke="#2b50aa" stroke-width="0.85" stroke-linejoin="round"/>
<path d="M426.0,252.4 l0.6,-0.4 M438.8,260.5 l-0.7,-1.2 M432.2,239.7 l0.9,-0.1 M439.9,249.7 l0.7,-0.8 M431.0,259.9 l0.0,-0.9 M442.5,251.2 l-0.0,1.1 M446.7,256.1 l1.1,-0.8 M444.4,258.3 l0.6,-0.3 M443.5,253.7 l-0.7,-0.7 M445.1,257.8 l0.7,-0.7 M432.8,244.7 l-0.0,-0.9 M433.3,241.8 l-0.5,0.5 M429.0,232.1 l-1.2,0.6 M443.7,256.7 l-0.7,0.5 M429.5,234.5 l1.3,-0.0 M433.8,261.4 l0.3,-0.7 M424.1,253.7 l0.7,-0.7 M428.4,255.9 l-1.4,0.0 M444.3,252.4 l-1.2,0.1 M436.7,244.1 l0.7,0.4 M434.9,261.8 l0.8,-0.8 M424.2,252.6 l-0.3,0.6 M423.5,249.4 l-0.8,0.3 M443.9,250.5 l0.8,0.0 M435.2,261.8 l0.4,0.6 M443.5,250.8 l0.8,-0.3 M444.6,258.0 l-0.5,-0.8 M445.4,257.1 l1.2,0.7 M436.3,246.1 l-0.6,1.0 M439.7,260.2 l-0.4,-1.3 M433.0,241.7 l-0.6,-0.5 M429.1,257.8 l-0.4,0.8 M424.2,253.9 l-0.2,1.3 M436.2,260.8 l-1.1,-0.4 M427.8,235.6 l1.1,-0.2 M429.9,231.0 l1.3,-0.4 M437.2,260.4 l-1.1,0.1 M428.0,231.8 l-0.1,-1.0 M432.1,242.1 l-0.2,1.1 M439.2,248.3 l-0.5,-0.5 M442.2,251.6 l0.8,0.0 M430.4,237.1 l-0.6,-0.2 M431.5,259.2 l-0.3,1.1 M431.1,236.9 l0.0,1.3 M442.3,250.5 l0.3,-1.3 M442.8,255.6 l0.9,-0.9 M434.6,243.7 l0.1,0.7 M434.1,241.4 l0.6,0.8 M433.6,240.9 l0.6,-0.4 M445.0,251.5 l1.1,-0.3 M442.0,257.6 l1.3,0.1 M444.4,258.7 l-0.6,-0.3 M435.8,263.0 l-0.1,-0.9 M431.6,241.3 l0.6,-0.4" fill="none" stroke="#e0242a" stroke-width="0.95" stroke-linecap="round"/>
<path d="M422.7,248.0 C421.6,247.2 418.4,244.5 416.0,243.0 C413.6,241.5 410.5,240.1 408.0,239.0 C405.5,237.9 402.2,236.9 401.0,236.5" fill="none" stroke="#2b50aa" stroke-width="3.60" stroke-dasharray="1.3 0.5" stroke-linejoin="round"/>
<path d="M408.1,237.2 L409.1,236.5 L408.4,236.6 L407.5,236.3 L408.2,237.1 L407.6,238.0 L406.9,238.6 L406.5,239.3 L407.3,240.2 L407.4,241.5 L408.4,242.1 M412.1,243.7 L411.6,243.0 L410.8,243.4 L410.3,242.9 L410.3,242.0 L409.9,241.2 L410.4,240.1 L409.8,239.5 L409.9,238.9 L409.2,238.6 L408.8,237.6 L409.4,236.6 L409.3,237.7 M401.6,237.3 L402.0,236.5 L402.9,235.8 L403.4,235.3 L403.8,234.8 L403.2,234.3 L402.8,235.3 L401.9,236.0 L402.3,236.5 L401.5,237.3 L401.4,238.5 L401.6,239.1 L400.7,238.9 M415.9,243.6 L416.2,242.6 L415.9,242.0 L416.4,240.9 L415.6,240.0 L414.6,240.2 L414.0,240.7 L413.2,241.3 L412.0,241.0 L411.0,240.5 L410.8,239.3 M416.5,245.1 L417.5,245.6 L418.6,246.3 L418.3,247.3 L417.9,248.0 L418.6,247.4 L418.6,246.8 L419.2,246.0 L419.3,245.3 L418.3,244.8 L417.2,245.0 L417.1,246.1 M414.7,241.6 L414.7,240.3 L413.6,240.2 L412.9,239.6 L412.4,239.8 L411.6,240.1 L410.4,239.8 L409.5,239.6 L408.9,239.7 L408.6,241.0 L407.9,240.9 L407.2,241.3" fill="none" stroke="#2b50aa" stroke-width="0.85" stroke-linejoin="round"/>
<path d="M427.6,229.1 C428.0,228.0 428.9,224.3 430.2,222.7 C431.5,221.1 433.4,220.4 435.3,219.6 C437.2,218.8 439.6,217.7 441.7,217.6 C443.8,217.5 446.6,218.1 448.0,218.9 C449.4,219.8 450.1,221.4 449.9,222.7 C449.7,224.0 448.0,225.3 446.8,226.6 C445.6,227.9 443.8,228.9 442.9,230.4 C442.0,231.9 441.5,233.6 441.7,235.5 C441.9,237.4 442.9,240.3 444.2,241.8 C445.5,243.3 447.7,244.2 449.3,244.4 C450.9,244.6 452.9,244.6 453.8,243.1 C454.8,241.6 454.5,237.8 455.0,235.5 C455.5,233.2 456.6,230.2 456.9,229.1" fill="none" stroke="#e0242a" stroke-width="2.16" stroke-dasharray="1.3 0.5" stroke-linejoin="round"/>
<path d="M431.9,221.0 L431.2,220.6 L430.6,220.8 L431.2,220.6 L431.6,221.7 L431.0,222.1 L430.7,222.7 L430.2,223.3 L429.0,223.1 L428.2,223.3 L429.1,223.1 L430.3,223.3 L431.0,224.1 M444.0,238.6 L443.7,237.7 L442.7,237.9 L442.4,237.2 L442.1,236.3 L441.6,235.2 L441.1,234.1 L440.7,233.0 L441.0,232.0 L441.9,231.5 L442.7,232.0 M441.7,231.8 L442.2,232.2 L442.6,233.3 L442.1,233.8 L441.4,233.9 L441.4,234.6 L441.3,235.5 L441.5,236.4 L441.2,237.0 L440.8,236.1 L440.1,235.6 L440.8,236.7 L441.4,237.1 M435.8,220.5 L437.0,220.7 L437.6,219.9 L438.7,219.4 L439.3,219.7 L440.4,219.7 L440.8,219.2 L441.7,219.3 L442.2,218.4 L443.0,218.7 L444.3,218.6 L444.5,217.4 M454.8,238.3 L455.4,238.3 L456.0,238.5 L456.0,239.5 L455.2,239.1 L454.5,238.8 L454.0,239.2 L452.8,239.1 L453.5,239.3 L454.1,239.7 L454.7,239.5 L454.7,238.6 L453.6,238.5 L454.7,239.1 M434.4,220.4 L434.3,219.6 L433.3,219.0 L433.8,219.4 L434.4,219.1 L434.7,218.2 L435.0,219.2 L434.8,220.1 L434.5,220.6 L434.3,221.2 L434.1,221.8 L434.1,220.9 L433.6,220.0 M450.7,221.4 L450.3,222.1 L450.2,223.2 L450.3,224.0 L449.7,224.4 L449.0,225.0 L448.4,224.5 L447.6,223.6 L447.1,224.6 L448.0,224.0 L447.9,223.3 L448.7,222.7 M443.7,230.8 L443.8,230.0 L443.0,229.5 L442.5,229.2 L443.0,229.9 L443.0,230.8 L443.6,231.3 L442.7,230.9 L441.7,231.7 L441.1,232.2 L441.9,232.6 L442.4,233.0 L442.9,233.6 M455.9,233.4 L456.6,233.5 L455.6,233.0 L455.5,232.1 L456.4,231.4 L457.0,231.9 L457.8,231.6 L456.9,231.5 L456.8,230.8 L455.6,230.4 L456.2,230.7 L456.7,231.1 L456.2,232.2 M455.0,241.5 L455.2,242.3 L454.1,242.5 L453.3,242.6 L453.1,241.6 L453.8,240.8 L454.4,240.9 L454.6,242.0 L454.0,240.8 L452.9,240.6 L453.4,240.0 L453.0,239.3 M446.1,226.3 L444.8,226.5 L445.2,227.6 L445.3,228.3 L444.8,228.8 L444.2,229.3 L443.5,230.2 L442.8,229.8 L442.3,229.3 L443.4,229.7 L443.5,230.4 L444.6,230.3" fill="none" stroke="#e0242a" stroke-width="0.85" stroke-linejoin="round"/>
<path d="M459.5,226.6 C460.8,226.6 465.6,225.8 467.1,226.6 C468.6,227.4 467.3,230.5 468.4,231.7 C469.5,232.9 472.9,232.8 473.5,233.6 C474.1,234.4 473.1,235.9 472.2,236.8 C471.3,237.8 469.2,238.2 468.4,239.3 C467.5,240.4 467.3,242.5 467.1,243.1" fill="none" stroke="#e0242a" stroke-width="2.16" stroke-dasharray="1.3 0.5" stroke-linejoin="round"/>
<path d="M464.4,225.5 L464.7,226.6 L464.5,227.8 L463.8,227.7 L463.0,227.5 L462.7,226.3 L462.9,225.6 L463.8,226.3 L464.4,225.8 L465.5,225.6 L466.2,225.7 L465.0,225.8 M463.7,225.7 L463.8,226.7 L464.6,227.2 L465.3,227.0 L466.1,227.5 L466.7,227.1 L467.4,227.8 L468.3,228.0 L469.1,228.9 L469.0,229.6 L468.5,230.7 L468.1,231.3 M471.7,237.9 L471.4,237.2 L471.6,236.2 L471.4,235.4 L472.3,235.5 L472.9,236.6 L472.7,235.7 L471.7,235.5 L471.1,235.7 L471.8,236.6 L471.8,237.6 L472.3,238.1 M468.7,242.0 L468.0,241.8 L467.4,241.9 L466.7,241.3 L467.8,241.2 L468.4,240.9 L468.1,240.0 L467.4,240.0 L468.5,239.8 L469.0,239.4 L469.9,239.2 L470.6,238.7 L471.1,238.1 L472.0,238.7" fill="none" stroke="#e0242a" stroke-width="0.85" stroke-linejoin="round"/>
<text x="401.25" y="172.0" font-size="7.7" font-weight="bold" text-anchor="middle" textLength="134.7" lengthAdjust="spacingAndGlyphs" fill="#231f20">t-SNE Projection for Logistic Regression</text>
<rect x="321.5" y="176.0" width="160.10000000000002" height="125.80000000000001" fill="none" stroke="#7a7a7a" stroke-width="1.2"/>
<text x="319.1" y="177.7" font-size="4.6" font-weight="bold" text-anchor="end" fill="#333">150</text>
<line x1="320.3" y1="176.0" x2="321.5" y2="176.0" stroke="#888" stroke-width="0.6"/>
<text x="319.1" y="198.66666666666666" font-size="4.6" font-weight="bold" text-anchor="end" fill="#333">100</text>
<line x1="320.3" y1="196.96666666666667" x2="321.5" y2="196.96666666666667" stroke="#888" stroke-width="0.6"/>
<text x="319.1" y="219.63333333333333" font-size="4.6" font-weight="bold" text-anchor="end" fill="#333">50</text>
<line x1="320.3" y1="217.93333333333334" x2="321.5" y2="217.93333333333334" stroke="#888" stroke-width="0.6"/>
<text x="319.1" y="240.6" font-size="4.6" font-weight="bold" text-anchor="end" fill="#333">0</text>
<line x1="320.3" y1="238.9" x2="321.5" y2="238.9" stroke="#888" stroke-width="0.6"/>
<text x="319.1" y="261.56666666666666" font-size="4.6" font-weight="bold" text-anchor="end" fill="#333">-50</text>
<line x1="320.3" y1="259.8666666666667" x2="321.5" y2="259.8666666666667" stroke="#888" stroke-width="0.6"/>
<text x="319.1" y="282.5333333333333" font-size="4.6" font-weight="bold" text-anchor="end" fill="#333">-100</text>
<line x1="320.3" y1="280.8333333333333" x2="321.5" y2="280.8333333333333" stroke="#888" stroke-width="0.6"/>
<text x="319.1" y="303.5" font-size="4.6" font-weight="bold" text-anchor="end" fill="#333">-150</text>
<line x1="320.3" y1="301.8" x2="321.5" y2="301.8" stroke="#888" stroke-width="0.6"/>
<text x="342.9" y="309.5" font-size="4.6" font-weight="bold" text-anchor="middle" fill="#333">-100</text>
<line x1="338.2" y1="301.8" x2="338.2" y2="303.0" stroke="#888" stroke-width="0.6"/>
<text x="372.6" y="309.5" font-size="4.6" font-weight="bold" text-anchor="middle" fill="#333">-50</text>
<line x1="367.4" y1="301.8" x2="367.4" y2="303.0" stroke="#888" stroke-width="0.6"/>
<text x="404.2" y="309.5" font-size="4.6" font-weight="bold" text-anchor="middle" fill="#333">0</text>
<line x1="397.2" y1="301.8" x2="397.2" y2="303.0" stroke="#888" stroke-width="0.6"/>
<text x="433.5" y="309.5" font-size="4.6" font-weight="bold" text-anchor="middle" fill="#333">50</text>
<line x1="426.5" y1="301.8" x2="426.5" y2="303.0" stroke="#888" stroke-width="0.6"/>
<text x="462.0" y="309.5" font-size="4.6" font-weight="bold" text-anchor="middle" fill="#333">100</text>
<line x1="456.0" y1="301.8" x2="456.0" y2="303.0" stroke="#888" stroke-width="0.6"/>
<text x="403.55" y="315.8" font-size="5.6" font-weight="bold" text-anchor="middle" textLength="50.3" lengthAdjust="spacingAndGlyphs" fill="#231f20">t-SNE Dimension 2</text>
<text transform="translate(307.4,239.20000000000002) rotate(-90)" font-size="5.6" font-weight="bold" text-anchor="middle" textLength="50.2" lengthAdjust="spacingAndGlyphs" fill="#231f20">t-SNE Dimension 1</text>
<rect x="453.0" y="177.7" width="27.5" height="14.4" fill="#fff" stroke="#cfcfcf" stroke-width="0.7"/>
<circle cx="458.70000000000005" cy="181.8" r="1.2" fill="#1f4fb4"/>
<circle cx="458.70000000000005" cy="188.6" r="1.2" fill="#e8232a"/>
<text x="462.0" y="183.5" font-size="4.4" font-weight="bold" text-anchor="start" textLength="14.0" lengthAdjust="spacingAndGlyphs" fill="#333">Lable 0</text>
<text x="462.0" y="190.3" font-size="4.4" font-weight="bold" text-anchor="start" textLength="14.0" lengthAdjust="spacingAndGlyphs" fill="#333">Lable 1</text>
<path d="M571.8,206.8 L571.5,207.7 L571.4,208.8 L571.9,209.6 L571.7,208.8 L572.2,207.9 L571.9,206.7 L573.0,206.3 L573.5,206.9 L573.6,208.2 L573.1,209.0 M561.3,200.2 L561.8,199.0 L562.1,197.8 L561.6,196.8 L561.5,196.2 L561.8,195.3 L562.9,195.1 L562.7,194.2 L563.4,193.7 L563.9,192.7 L565.1,193.0 M571.2,200.4 L572.2,200.4 L572.4,201.1 L572.6,202.1 L572.6,203.3 L572.4,204.6 L572.0,205.5 L571.8,206.5 L571.8,207.5 L572.3,208.0 L573.4,207.9 L572.6,208.8 M571.8,209.6 L572.6,209.3 L572.2,208.2 L572.9,207.5 L573.7,208.1 L573.1,208.3 L572.2,208.3 L571.1,207.8 L570.0,208.2 L570.0,209.0 L569.3,209.5 L568.7,209.3 M562.0,205.5 L563.0,206.1 L563.9,206.7 L564.6,206.0 L565.5,205.5 L566.1,204.9 L566.6,205.3 L567.5,204.3 L567.4,203.7 L566.4,203.1 L566.5,202.5 L566.5,201.8 M563.6,195.8 L562.9,195.5 L562.4,195.2 L561.4,196.0 L561.4,196.9 L560.7,197.8 L561.5,198.8 L562.5,198.3 L563.2,198.7 L564.2,198.6 L564.9,198.3 L565.7,197.9 M567.9,201.7 L568.0,202.9 L568.7,203.6 L569.5,202.9 L569.8,202.3 L569.6,201.5 L570.3,201.1 L570.7,200.4 L571.7,200.6 L572.7,201.2 L572.2,200.8 L571.4,201.0 L570.8,201.9 M565.2,209.2 L564.4,209.0 L563.7,208.4 L563.5,207.8 L563.2,207.1 L562.2,207.0 L561.2,207.0 L561.8,207.6 L562.7,208.3 L562.4,209.4 L563.3,210.4 L563.7,209.2 M565.6,205.1 L566.0,206.1 L567.1,205.7 L567.8,205.5 L567.9,204.5 L568.7,204.3 L569.0,204.9 L568.5,205.6 L568.9,206.2 L569.7,207.0 L569.5,207.7 L569.1,208.7 M564.8,209.1 L565.4,209.3 L566.0,210.0 L565.3,211.0 L564.7,210.9 L564.1,209.9 L564.1,208.8 L565.0,208.4 L565.7,207.7 L565.5,206.7 L564.8,206.7 L563.8,207.3 M570.0,198.2 L569.4,198.6 L568.9,198.0 L568.0,197.5 L567.1,197.6 L566.7,198.1 L567.0,199.1 L567.9,199.1 L568.6,198.6 L568.5,197.4 L568.2,196.2 L569.0,196.0 M566.7,205.6 L566.1,206.5 L564.9,206.4 L564.1,206.0 L564.5,205.0 L564.0,204.6 L563.8,204.0 L563.0,204.1 L562.0,204.1 L561.0,204.2 L560.2,203.8 L561.1,203.1 M566.0,198.6 L566.1,199.7 L565.2,200.1 L564.6,200.0 L563.8,200.2 L563.9,201.5 L564.4,201.9 L565.2,201.7 L565.9,201.7 L566.2,203.0 L567.0,203.2 L567.8,204.2 M566.9,210.0 L566.5,210.9 L565.9,211.3 L566.8,210.4 L567.9,210.9 L568.3,210.3 L568.1,209.2 L568.9,208.6 L570.1,208.6 L570.3,207.9 L570.9,207.8 L571.2,207.3 M564.6,194.6 L564.8,195.8 L565.0,197.1 L565.1,198.0 L564.7,199.1 L563.5,199.6 L562.3,199.2 L561.5,199.7 L560.3,200.0 L561.1,199.4 M571.9,207.6 L571.3,207.9 L570.6,208.3 L570.9,209.5 L570.1,209.8 L569.3,210.6 L568.5,210.7 L568.1,210.1 L567.3,210.5 L566.2,211.0 L565.2,210.8 L565.6,209.9 M565.4,192.3 L565.1,192.8 L564.5,193.6 L564.9,194.5 L565.6,195.0 L565.8,196.0 L564.9,196.5 L564.1,197.1 L563.8,197.7 L562.9,198.3 L562.2,198.1 L562.2,197.0 M572.8,209.1 L573.3,208.3 L572.6,207.7 L572.4,206.8 L572.8,206.3 L572.0,205.3 L571.2,204.4 L571.9,203.5 L572.4,203.0 L572.0,201.9 L572.8,201.1 M569.7,199.9 L570.4,200.5 L571.1,201.5 L570.5,202.2 L571.1,203.2 L571.0,203.8 L571.0,204.9 L572.2,205.1 L572.2,206.2 L572.8,206.4 L573.4,206.4 L572.6,205.5 M562.8,195.5 L563.3,195.0 L562.8,194.3 L561.9,194.8 L561.3,194.4 L561.8,194.9 L561.3,195.6 L560.9,196.3 L561.4,196.8 L561.1,197.3 L560.5,197.8 L560.7,198.6 L561.6,199.2 L562.5,199.2 M560.9,199.9 L560.6,199.3 L561.4,198.9 L562.3,197.9 L561.8,197.2 L560.9,196.5 L561.8,196.1 L562.5,197.0 L563.4,197.3 L564.2,198.1 L564.9,198.7 L565.0,199.6 M563.4,200.6 L563.5,199.6 L564.0,198.8 L563.7,198.3 L564.0,197.2 L563.2,197.0 L562.7,196.1 L562.5,195.4 L562.8,194.5 L563.6,193.7 L563.7,192.6 L564.9,192.4 M567.3,203.2 L567.5,203.9 L568.4,204.6 L568.1,205.6 L569.2,206.1 L570.0,206.0 L570.8,206.0 L571.0,206.7 L571.4,207.3 L571.9,208.2 L572.1,209.2 L571.3,208.3" fill="none" stroke="#2b50aa" stroke-width="0.95" stroke-linejoin="round"/>
<path d="M556.9,205.1 L555.8,205.3 L555.3,204.8 L554.4,205.6 L553.8,206.5 L554.5,207.1 L554.6,207.9 L553.5,208.4 L553.6,209.0 L553.8,210.2 L554.2,210.9 L554.6,211.4 M552.7,207.6 L552.2,208.2 L552.3,209.1 L552.7,209.6 L552.4,210.5 L551.9,211.1 L552.7,210.7 L553.8,210.8 L553.9,211.7 L553.0,212.4 L552.8,213.4 L553.8,213.2 L553.8,212.5 M557.1,207.3 L557.5,208.3 L557.3,209.2 L557.3,210.1 L556.6,210.8 L556.2,211.6 L556.6,212.0 L557.0,213.2 L557.0,214.1 L557.5,213.1 L558.2,212.1 L557.9,211.1 M554.5,205.3 L554.6,204.7 L555.6,204.0 L556.5,204.6 L556.6,205.5 L556.5,206.4 L557.7,206.8 L556.9,206.3 L556.0,206.2 L555.0,206.0 L554.3,205.5 L553.8,206.1 M552.4,209.7 L553.5,209.7 L554.0,210.4 L553.5,211.3 L554.0,211.7 L554.8,211.0 L554.9,210.3 L555.3,209.6 L554.8,209.1 L554.3,208.6 L553.2,208.4 L552.4,208.4 L551.8,208.4 M554.0,207.4 L555.2,207.4 L556.0,207.4 L557.1,207.8 L557.3,207.3 L556.7,206.4 L555.6,206.4 L554.8,205.9 L553.6,206.3 L552.8,205.8 L551.7,206.1 M554.0,209.6 L553.6,210.0 L553.3,211.2 L552.5,211.4 L551.9,210.8 L552.6,209.9 L552.9,209.1 L551.8,208.6 L552.7,209.0 L553.7,208.4 L554.4,209.3 L554.9,210.0 M553.7,204.4 L553.2,203.8 L552.2,204.1 L551.6,204.9 L551.4,206.1 L551.8,205.3 L552.9,205.7 L553.6,205.6 L554.7,206.0 L554.6,206.8 L553.6,207.2 L552.4,207.7" fill="none" stroke="#2b50aa" stroke-width="0.95" stroke-linejoin="round"/>
<path d="M599.7,198.9 L598.8,198.4 L598.1,197.7 L597.2,197.9 L596.3,198.5 L595.5,197.4 L595.1,196.6 L594.5,196.4 L594.0,197.2 L594.0,198.0 L593.2,198.4 L592.4,198.6 M585.6,193.4 L586.3,193.8 L586.1,195.0 L585.2,195.8 L584.1,195.7 L584.5,196.3 L584.3,197.4 L584.3,196.2 L584.4,195.0 L583.9,193.9 L584.6,193.2 M594.3,203.4 L594.2,202.6 L593.4,201.8 L592.2,202.0 L591.4,203.0 L591.2,204.2 L590.6,204.9 L591.3,204.5 L591.5,203.6 L592.5,203.5 L592.8,202.4 M597.5,203.1 L597.3,203.7 L596.7,204.2 L595.8,203.8 L595.7,203.1 L594.7,202.4 L593.7,202.0 L593.2,202.7 L593.7,203.7 L595.0,203.5 L595.0,202.4 L594.2,202.3 M599.2,184.9 L599.1,185.8 L600.3,186.2 L600.8,185.8 L601.2,184.9 L601.8,184.6 L601.3,185.6 L600.1,186.0 L599.0,185.5 L598.6,184.7 L597.5,184.5 M589.3,183.6 L588.8,183.1 L589.1,183.7 L588.5,184.2 L587.6,184.5 L587.9,185.5 L588.5,185.6 L588.8,185.0 L588.1,184.2 L587.4,185.3 L587.6,186.2 L588.4,186.8 L589.1,187.7 M597.2,187.3 L596.6,187.5 L596.8,188.4 L597.9,188.6 L598.4,188.2 L598.5,187.5 L597.7,186.8 L597.1,186.3 L596.7,185.7 L597.5,184.7 L598.4,184.6 L599.4,184.4 L599.5,183.5 M593.5,185.5 L593.5,186.3 L593.5,187.6 L593.3,188.3 L592.4,188.2 L592.1,189.2 L592.7,189.7 L592.6,190.8 L593.4,191.0 L594.4,191.0 L595.0,190.2 L594.6,189.6 M590.4,203.7 L590.6,204.4 L590.7,205.3 L590.4,204.7 L591.1,203.9 L590.5,203.1 L590.6,202.0 L590.8,201.2 L590.8,200.0 L590.2,199.2 L589.4,198.3 L589.6,197.1 M599.7,188.3 L599.8,189.1 L600.2,190.1 L599.4,190.7 L598.8,190.5 L597.5,190.7 L597.2,191.6 L597.7,191.9 L597.4,193.2 L597.0,193.7 L596.9,194.5 L596.3,195.4 M591.7,193.8 L592.6,194.7 L592.6,195.4 L592.5,196.5 L593.2,197.4 L594.0,198.2 L595.1,198.9 L595.3,199.8 L596.2,200.1 L596.6,199.2 L597.4,199.2 M593.2,192.8 L591.9,192.7 L591.2,192.2 L591.5,191.4 L592.5,191.0 L593.6,191.5 L594.6,191.1 L595.4,190.4 L596.2,191.1 L596.8,190.5 L598.1,190.4 M596.0,200.8 L596.1,201.9 L595.9,203.2 L595.2,203.3 L594.4,202.6 L593.3,202.8 L592.5,202.7 L592.2,202.1 L591.9,201.3 L591.1,200.7 L590.4,200.4 L590.6,199.7 L589.8,199.4 M599.7,197.0 L599.7,196.0 L599.3,195.3 L599.0,194.7 L597.9,194.9 L597.5,196.0 L596.6,196.3 L595.5,196.0 L595.3,195.4 L594.5,195.1 L593.7,195.0 L593.4,195.9 M593.7,190.4 L593.1,189.8 L592.8,188.9 L592.5,187.7 L591.3,187.7 L590.4,188.2 L589.4,187.9 L588.2,187.8 L587.8,188.8 L587.8,189.8 L586.7,190.3 M595.5,188.6 L595.7,189.3 L596.7,190.1 L597.7,189.5 L598.3,188.9 L598.4,188.2 L598.4,187.5 L598.3,186.7 L599.4,186.1 L600.2,185.4 L600.9,185.9 L601.5,185.5 M586.7,197.5 L586.3,198.6 L586.8,199.7 L586.9,200.5 L588.0,201.1 L588.9,201.6 L588.7,202.7 L589.5,203.5 L590.4,202.9 L590.9,202.1 L590.4,201.0 M590.0,192.6 L590.0,191.4 L589.4,191.1 L588.5,191.1 L588.1,190.0 L588.5,189.2 L588.9,188.5 L589.8,188.5 L590.6,187.9 L590.5,187.1 L591.1,186.8 L591.2,186.1 L590.6,185.4 M587.9,189.4 L588.7,190.1 L589.5,190.3 L589.8,190.9 L591.0,190.9 L592.1,190.7 L592.4,189.8 L593.2,189.6 L594.1,190.1 L595.3,190.4 L596.3,190.3 L597.0,190.5 M599.7,195.6 L598.7,194.8 L599.4,193.8 L599.7,192.9 L600.0,192.4 L599.2,191.4 L598.0,191.7 L596.8,191.3 L596.3,191.9 L595.7,192.0 L595.5,192.7 M596.4,183.3 L597.0,183.5 L597.1,184.3 L597.2,185.2 L598.1,185.5 L598.5,184.9 L599.7,185.2 L600.7,185.6 L600.8,186.3 L600.8,187.0 L601.5,187.1 L602.0,186.8 L602.1,185.9 L601.1,185.8 M593.1,203.3 L594.3,203.1 L595.0,203.3 L595.8,203.2 L596.6,202.8 L597.5,202.1 L598.5,202.4 L599.3,202.6 L598.2,202.4 L597.4,201.6 L596.7,202.2 L596.6,202.9 M594.6,196.7 L594.5,195.6 L594.4,195.0 L595.2,194.1 L596.2,194.2 L596.4,193.5 L595.6,192.8 L595.1,192.3 L595.9,191.3 L596.8,191.5 L597.5,191.2 L598.3,191.8 M594.3,191.1 L593.4,191.0 L592.9,190.6 L592.6,189.8 L593.2,189.4 L593.5,188.4 L593.6,187.5 L594.3,187.3 L595.2,187.9 L595.3,188.8 L595.6,189.6 L595.8,190.3 L596.7,190.6 M586.8,192.5 L586.0,192.5 L584.9,192.3 L584.0,192.9 L584.8,193.2 L585.8,192.7 L586.1,192.1 L586.9,192.1 L587.6,191.7 L587.9,190.7 L587.7,189.8 L587.3,188.7 M595.1,190.2 L596.1,191.0 L596.5,191.8 L596.0,192.9 L596.4,193.6 L595.5,194.5 L595.7,195.6 L594.8,196.1 L593.8,196.0 L593.3,196.6 L593.8,197.5 M585.7,196.1 L584.9,197.1 L584.5,198.0 L585.6,197.9 L585.7,196.8 L585.6,195.9 L584.6,195.7 L585.6,196.2 L585.9,196.9 L586.8,196.7 L586.9,196.0 L586.7,195.1 M595.3,196.7 L595.3,195.8 L594.3,195.4 L593.6,195.3 L592.6,195.7 L591.5,196.3 L591.0,197.0 L590.0,196.6 L589.3,197.5 L588.9,198.7 L588.1,199.5 M600.9,193.4 L600.9,192.6 L601.4,192.2 L600.3,191.6 L599.6,192.3 L598.8,192.6 L597.8,193.3 L597.9,193.9 L597.6,195.2 L596.6,195.6 L596.0,196.6 L596.5,197.1 M598.7,202.8 L598.2,202.4 L597.8,201.8 L597.1,201.8 L596.9,202.6 L596.7,203.4 L596.3,203.9 L595.7,204.7 L595.1,204.0 L594.5,203.4 L595.1,202.6 L595.6,201.8 L596.2,200.7 M599.0,196.8 L599.1,197.4 L599.5,197.9 L599.7,199.2 L599.4,200.1 L599.7,201.0 L599.0,200.7 L598.5,199.6 L598.9,198.7 L598.3,198.2 L598.4,196.9 L598.6,195.9 M596.7,187.1 L596.0,186.1 L595.2,185.4 L594.7,184.5 L593.9,183.6 L593.9,182.7 L593.2,183.4 L592.6,183.0 L592.0,182.2 L591.5,182.9 L590.5,183.6 M596.9,189.9 L596.8,189.2 L597.1,188.2 L597.2,187.2 L598.4,187.2 L599.5,186.8 L600.4,186.7 L601.5,187.1 L601.6,188.2 L601.2,189.0 L601.9,189.5 M590.2,195.7 L589.1,195.2 L588.5,195.2 L587.6,194.9 L587.6,194.0 L587.0,193.8 L586.6,194.7 L586.0,195.0 L585.5,195.7 L584.2,195.4 L584.0,194.4 L584.0,193.6 L584.3,193.0 M589.0,201.2 L588.6,200.4 L587.7,200.0 L587.1,199.5 L587.3,198.2 L586.7,197.7 L586.8,196.6 L586.2,195.8 L585.0,195.7 L584.1,195.4 L584.7,194.8 L584.6,194.1" fill="none" stroke="#2b50aa" stroke-width="0.95" stroke-linejoin="round"/>
<path d="M581.4,206.5 L580.5,207.0 L580.7,207.6 L580.1,208.1 L580.1,209.4 L580.0,208.4 L580.1,209.3 L581.1,209.0 L581.9,209.7 L581.5,210.5 L582.2,209.5 M583.4,207.4 L583.2,208.2 L583.3,209.2 L583.1,210.4 L582.5,210.0 L582.8,208.7 L583.8,208.6 L584.5,209.0 L584.0,208.5 L584.5,207.3 L583.6,206.5 L582.9,206.2 M582.0,209.0 L581.4,208.2 L580.4,208.6 L581.2,209.1 L580.8,209.8 L581.6,210.5 L582.2,210.1 L582.8,209.3 L582.6,208.7 L583.1,208.1 L584.2,208.7 L583.2,208.5 M585.1,206.6 L585.5,205.8 L585.9,204.7 L585.5,204.0 L586.3,203.5 L586.8,203.2 L587.6,202.5 L587.0,201.7 L586.8,201.0 L586.3,201.7 L585.2,201.9 L585.3,202.6 L584.7,203.7 M581.6,205.4 L582.3,205.0 L583.1,204.8 L584.0,204.2 L583.6,203.3 L584.2,204.3 L585.0,204.4 L586.0,204.4 L586.4,203.7 L586.2,202.5 L585.9,201.3 L586.8,202.2" fill="none" stroke="#2b50aa" stroke-width="0.95" stroke-linejoin="round"/>
<path d="M567.8,215.6 L567.9,216.3 L568.4,217.4 L567.9,218.4 L568.2,219.3 L568.8,219.7 L569.4,219.3 L570.3,220.0 L570.3,221.2 L571.0,221.7 L571.5,222.6 L570.9,223.7 M566.9,222.7 L567.2,223.2 L567.8,222.7 L568.7,223.3 L568.5,224.4 L568.4,225.3 L568.0,226.1 L568.5,226.8 L568.2,227.4 L569.1,228.0 L570.1,227.9 L570.9,227.8 L570.5,227.1 M570.3,218.1 L569.5,218.2 L568.3,218.2 L568.1,218.8 L568.5,219.8 L568.6,220.6 L569.0,221.2 L569.4,221.7 L569.6,222.9 L568.5,223.2 L568.2,222.7 L567.0,222.2 M571.3,219.9 L570.7,220.4 L570.2,220.9 L569.6,222.0 L569.7,222.6 L570.4,222.7 L570.9,223.4 L571.5,223.7 L571.3,224.5 L571.7,225.0 L571.0,225.0 L570.7,225.9 L571.2,227.0 M567.1,221.6 L566.9,220.3 L566.8,219.6 L567.3,220.2 L566.7,221.2 L567.4,221.5 L567.5,222.2 L568.7,222.5 L569.9,223.0 L571.1,223.1 L572.1,223.7 M571.1,221.1 L572.2,220.8 L571.3,220.3 L571.0,219.3 L571.6,218.6 L571.1,219.7 L570.4,219.5 L570.6,218.3 L570.9,217.7 L571.6,217.9 L571.5,219.0 L572.2,219.2 M570.4,222.2 L571.1,221.9 L570.8,220.7 L569.6,220.9 L569.3,222.0 L568.1,222.5 L567.0,222.8 L566.8,221.6 L567.5,220.9 L567.9,220.5 L567.3,219.6 M569.4,226.3 L568.6,226.6 L567.8,226.3 L567.2,227.3 L568.0,227.3 L568.6,228.0 L569.5,228.1 L568.5,227.7 L568.5,226.8 L568.1,225.6 L568.5,225.1 L569.2,225.2" fill="none" stroke="#2b50aa" stroke-width="0.95" stroke-linejoin="round"/>
<path d="M582.9,228.4 L584.0,228.4 L584.1,229.0 L584.2,227.8 L583.4,227.4 L582.5,227.6 L581.9,227.7 L581.4,228.3 L580.3,227.9 L579.4,228.6 L579.6,229.6 L580.2,229.8 M583.4,220.9 L584.7,221.1 L584.8,221.9 L584.2,222.0 L583.4,222.6 L584.0,223.5 L584.7,223.9 L584.9,224.8 L585.5,225.5 L585.5,226.2 L584.9,226.3 L583.9,225.7 L583.2,226.6 M580.2,226.1 L580.4,225.4 L581.2,225.4 L582.0,226.4 L581.5,227.1 L581.4,228.0 L580.8,228.4 L579.7,228.2 L579.5,227.6 L580.0,227.3 L580.6,226.4 L581.4,226.6 L581.5,227.5 M579.7,222.4 L580.4,222.3 L581.6,222.9 L582.1,222.5 L582.7,223.2 L583.4,223.7 L584.1,224.6 L584.8,225.1 L585.2,226.0 L584.8,226.6 L583.6,227.0 L582.5,226.8 M577.6,224.1 L577.3,224.8 L578.5,224.5 L579.4,224.1 L580.3,224.4 L581.1,224.1 L581.3,223.3 L582.5,223.4 L583.4,223.8 L584.1,223.8 L584.9,223.0 L584.6,221.9 M583.6,227.3 L583.2,226.3 L582.4,225.8 L582.2,224.7 L581.3,223.8 L580.9,222.9 L580.0,223.2 L579.4,224.1 L578.9,225.1 L578.0,225.8 L577.5,226.8 M584.0,229.6 L582.8,229.5 L581.8,228.7 L582.2,227.8 L582.6,227.2 L583.8,227.2 L584.9,227.1 L585.9,227.7 L584.8,227.9 L583.9,228.3 L582.9,227.9 M583.8,218.4 L582.8,218.4 L583.5,218.6 L583.5,219.3 L584.0,219.7 L583.4,218.9 L582.1,218.9 L582.0,219.7 L582.4,220.5 L583.6,220.4 L584.2,220.1 L583.3,220.1 L582.1,219.8 M584.8,223.9 L585.1,224.9 L585.2,226.1 L584.2,226.4 L583.2,227.1 L583.6,227.7 L584.0,228.6 L585.0,228.7 L585.3,229.5 L584.1,229.0 L582.9,228.9 M585.8,226.3 L584.9,226.4 L584.1,226.7 L583.7,225.8 L582.9,225.4 L582.0,226.0 L581.5,226.6 L580.3,226.5 L580.2,227.5 L580.8,228.6 L580.6,229.3 L580.8,230.0" fill="none" stroke="#2b50aa" stroke-width="0.95" stroke-linejoin="round"/>
<path d="M556.4,233.5 L556.0,233.9 L555.1,234.2 L554.4,233.8 L554.1,233.1 L554.8,232.2 L555.1,231.2 L555.7,230.8 L556.7,230.2 L557.1,229.1 L558.0,228.4 L558.3,227.8 M556.6,233.2 L556.6,234.0 L556.3,234.7 L555.3,234.5 L554.5,235.2 L555.5,235.3 L556.4,235.9 L555.6,235.8 L554.8,235.6 L554.2,235.2 L554.4,234.2 L553.6,233.6 M542.3,224.7 L542.1,225.4 L541.0,225.5 L541.0,226.6 L541.8,226.7 L542.0,227.7 L542.6,228.3 L543.3,228.6 L543.0,229.2 L542.9,230.3 L543.1,231.6 L544.1,232.4 M559.3,231.4 L560.1,230.5 L559.0,230.5 L558.4,230.7 L557.7,230.4 L556.6,230.0 L556.1,230.3 L556.3,231.3 L556.7,232.0 L557.5,232.9 L558.4,233.0 L558.7,234.0 M541.1,228.6 L540.7,229.4 L541.0,230.5 L541.7,231.3 L541.0,232.3 L540.7,233.3 L540.9,234.1 L541.2,235.2 L540.5,235.7 L539.9,235.8 L539.4,235.4 L539.1,234.6 M560.7,233.9 L559.8,234.1 L558.9,233.4 L558.1,232.8 L557.4,233.3 L557.5,234.3 L557.3,235.0 L556.9,235.6 L556.2,234.6 L555.9,233.5 L554.7,233.3 L554.2,234.2 M559.9,234.7 L560.6,233.9 L561.3,234.0 L561.6,235.2 L561.2,234.5 L561.3,233.8 L560.8,235.0 L561.7,235.8 L560.5,236.0 L561.3,235.4 L561.9,235.1 L561.3,233.9 M553.7,226.7 L554.0,227.4 L554.2,228.3 L554.4,228.9 L555.3,228.9 L555.5,228.0 L554.9,227.5 L554.0,227.8 L553.4,228.3 L553.3,229.2 L552.5,229.5 L552.2,230.3 L552.7,231.2 M556.2,229.9 L556.9,230.5 L557.7,230.9 L557.3,231.8 L556.5,232.5 L555.3,232.7 L554.5,233.4 L554.0,232.9 L553.6,232.1 L553.0,232.2 L552.5,231.8 L552.2,231.1 L551.8,230.7 M549.1,233.0 L549.0,234.2 L549.6,235.0 L548.7,234.4 L548.1,234.7 L547.8,234.1 L548.5,233.2 L549.5,232.8 L550.3,232.9 L551.0,232.8 L551.7,233.8 L551.5,234.5 M550.6,225.5 L551.6,224.8 L552.7,224.8 L553.1,225.3 L553.4,225.9 L553.9,226.4 L553.6,226.9 L552.3,226.6 L551.2,226.6 L551.0,227.3 L551.6,227.5 L552.1,226.4 L551.4,225.7 M541.2,223.8 L541.1,225.0 L541.3,226.0 L541.4,227.1 L541.4,227.9 L542.6,228.3 L543.4,227.8 L544.3,228.2 L544.1,229.3 L544.0,230.0 L543.6,230.8 M558.4,229.4 L559.0,228.6 L558.3,229.7 L557.1,229.5 L556.4,229.8 L556.3,230.7 L555.5,231.0 L555.8,231.8 L556.8,231.8 L557.7,232.7 L558.5,232.3 L558.5,231.1 M557.7,229.2 L558.8,229.0 L559.7,228.7 L560.1,229.9 L560.2,231.1 L559.7,232.1 L560.3,232.6 L559.6,232.5 L558.9,232.4 L558.1,231.6 L556.9,232.3 M543.5,224.1 L544.1,223.8 L544.3,222.8 L545.4,222.4 L544.4,222.5 L544.5,223.8 L544.2,225.0 L544.4,225.5 L543.9,226.0 L543.2,225.4 L542.6,225.9 L541.7,225.8 M557.7,227.2 L557.1,226.2 L556.6,225.5 L555.8,226.0 L555.2,225.7 L554.6,225.5 L553.9,226.1 L554.3,226.7 L554.1,227.9 L552.9,227.8 L552.1,228.0 L551.3,228.0 L550.1,227.9 M546.5,235.7 L545.3,235.7 L544.4,235.2 L545.0,234.4 L544.7,233.8 L544.0,234.1 L543.5,234.6 L544.2,235.5 L543.4,234.8 L543.0,234.3 L543.4,233.5 L543.1,232.9 L543.6,232.4 M544.5,229.6 L543.9,229.9 L543.0,230.5 L542.0,230.7 L541.5,231.6 L540.6,231.2 L539.9,230.3 L539.1,230.2 L539.1,229.4 L538.9,228.5 L539.8,228.2 L540.3,228.7 M541.3,231.1 L540.6,231.6 L540.8,232.3 L541.3,233.1 L542.1,233.2 L542.2,232.4 L541.8,231.6 L541.7,230.4 L542.2,229.4 L542.1,228.5 L542.7,227.4 L542.5,226.9 M534.7,229.2 L534.4,228.1 L534.6,226.9 L535.2,226.7 L535.8,227.2 L536.5,226.7 L537.1,226.4 L537.4,225.8 L538.0,225.4 L537.1,225.9 L536.4,226.3 L535.7,226.4 L535.4,227.0 L534.9,227.5 M539.7,226.9 L539.1,226.1 L538.7,225.4 L539.5,224.7 L539.1,225.2 L537.9,225.6 L537.3,226.3 L537.2,227.5 L537.5,228.3 L537.3,229.2 L536.4,229.2 L535.6,229.0 M550.5,228.6 L550.3,229.2 L549.8,230.2 L549.5,231.0 L549.2,232.2 L550.3,232.7 L551.1,233.2 L551.5,234.2 L550.9,235.3 L551.1,234.1 L551.1,233.4 M550.4,223.5 L549.5,224.0 L548.4,224.5 L547.1,224.6 L546.6,224.0 L546.7,223.1 L547.8,223.0 L548.1,223.5 L547.3,223.8 L546.7,223.1 L545.5,222.9 L545.1,223.5 M539.7,235.7 L540.0,234.6 L540.5,233.9 L540.1,232.8 L540.1,231.9 L539.0,231.2 L538.0,230.4 L537.6,229.4 L536.4,229.7 L536.0,229.2 L535.0,229.7 M552.8,224.6 L552.6,225.4 L551.9,226.1 L550.8,226.1 L550.7,226.9 L550.5,227.7 L550.2,228.2 L550.8,229.0 L551.6,229.0 L552.6,228.8 L553.5,229.1 L554.4,229.3 L554.7,230.5 M559.5,235.2 L558.4,235.0 L557.7,235.4 L557.3,235.8 L557.1,234.9 L557.7,234.0 L557.7,232.9 L557.5,232.1 L557.1,231.4 L555.8,231.4 L554.8,231.1 L554.0,230.6 M535.1,229.4 L535.2,230.2 L536.0,231.2 L535.8,231.8 L535.9,232.6 L536.6,233.0 L536.1,234.1 L536.5,235.2 L537.5,235.3 L538.0,234.4 L538.9,233.5 M550.1,234.8 L549.9,235.5 L550.1,234.7 L551.1,234.4 L551.9,233.8 L552.5,234.0 L553.4,234.9 L553.8,235.8 L554.1,234.7 L553.7,234.1 L553.9,233.2 L552.9,232.6 M534.4,227.2 L533.7,227.6 L534.7,227.8 L535.7,227.7 L536.5,227.8 L536.7,228.4 L535.9,228.9 L535.3,229.2 L534.6,229.7 L534.7,229.0 L535.5,228.9 L536.5,229.3 L536.7,229.8 L536.7,231.0 M559.1,231.7 L559.6,230.8 L559.4,230.1 L558.3,230.4 L557.1,230.1 L556.5,230.4 L555.7,231.4 L555.8,232.6 L555.5,233.7 L556.3,234.5 L557.4,234.9 M549.8,225.7 L549.3,226.4 L548.6,226.8 L548.1,226.1 L547.2,225.9 L546.6,225.3 L547.0,224.7 L547.9,223.9 L548.1,223.1 L546.9,223.5 L546.3,223.3 L546.3,222.6 L545.4,222.5" fill="none" stroke="#2b50aa" stroke-width="0.95" stroke-linejoin="round"/>
<path d="M534.4,235.2 L533.5,235.6 L533.0,236.0 L532.5,236.4 L532.1,236.9 L532.6,237.7 L532.3,238.3 L532.8,239.2 L532.0,239.9 L532.7,240.0 L533.1,239.3 L533.9,239.3 L534.9,239.6 L535.8,239.4 M532.4,232.9 L532.1,233.7 L532.4,234.7 L532.8,235.4 L532.3,236.4 L532.6,237.4 L532.9,238.5 L532.6,239.3 L531.9,239.0 L532.4,238.3 L532.4,239.3 L533.4,239.4 M536.4,243.2 L537.2,243.5 L537.7,244.0 L537.8,245.0 L536.7,245.3 L536.1,246.0 L535.6,246.2 L534.9,246.5 L535.0,247.2 L534.5,247.7 L534.5,248.6 L534.0,248.9 L533.2,249.4 L533.1,250.2 M535.1,240.7 L535.7,241.1 L536.4,240.8 L536.8,240.0 L537.3,239.4 L536.7,238.8 L535.8,238.4 L536.0,237.3 L536.2,236.3 L536.7,235.8 L537.7,236.3 L537.8,237.4 M534.9,241.7 L535.2,242.3 L536.0,242.1 L536.2,241.3 L535.7,241.0 L535.1,241.3 L534.7,241.8 L533.7,241.6 L533.2,242.2 L533.0,243.0 L533.9,243.8 L533.4,244.5 L533.0,245.1 L533.5,245.8 M533.9,252.9 L535.1,252.4 L535.8,252.2 L536.4,252.1 L537.6,251.9 L536.8,251.7 L536.0,252.5 L535.1,253.2 L534.8,253.9 L535.5,254.7 L535.0,253.9 L534.5,253.6 M532.1,238.6 L532.7,237.5 L533.9,237.9 L534.6,237.9 L535.1,237.4 L534.9,236.3 L536.0,235.7 L536.8,235.1 L537.5,235.3 L538.3,236.2 L538.3,237.3 M535.6,236.0 L535.3,234.8 L536.1,234.5 L537.0,233.7 L537.8,233.6 L538.1,233.0 L539.2,233.1 L538.3,232.6 L537.3,232.6 L537.0,233.2 L536.0,232.9 L534.8,232.4 M535.2,254.1 L534.9,253.3 L534.3,252.9 L533.8,252.4 L533.2,252.0 L533.4,251.2 L533.5,250.1 L534.4,249.9 L534.9,250.7 L535.3,251.6 L536.2,251.3 L536.3,250.7 L537.0,250.4 L538.0,249.9 M536.2,239.8 L535.1,239.5 L534.5,240.3 L534.5,241.1 L533.9,241.8 L533.0,242.5 L532.2,242.0 L532.9,242.8 L533.5,243.5 L534.4,244.4 L534.7,245.6 M539.2,238.1 L539.3,236.9 L538.8,236.5 L538.2,236.2 L537.5,236.4 L536.4,236.2 L536.3,235.6 L536.7,234.6 L536.0,233.6 L536.5,233.1 L537.3,233.5 L538.4,234.2 M538.3,235.5 L537.5,235.8 L537.3,236.6 L536.8,237.0 L536.0,237.4 L536.3,238.2 L536.3,239.1 L537.5,239.5 L538.0,240.7 L538.8,240.7 L539.0,239.5 L538.6,238.9 M535.2,255.1 L534.9,254.4 L535.8,253.8 L536.4,253.8 L536.7,252.8 L536.7,252.1 L537.7,251.9 L537.8,251.3 L537.1,252.0 L536.4,251.6 L535.7,252.2 L535.6,252.8 L536.0,253.3 L536.8,253.1 M534.2,251.1 L534.1,251.8 L534.2,252.4 L534.7,252.8 L534.9,253.7 L535.8,254.1 L535.7,254.7 L536.8,254.2 L537.4,253.5 L536.5,254.3 L535.5,254.4 L535.4,253.7 L534.3,253.6 M533.9,235.6 L533.9,236.8 L533.5,237.5 L533.7,238.2 L534.0,238.9 L534.4,239.6 L533.5,240.4 L532.9,240.9 L532.3,240.3 L533.2,240.3 L533.9,240.3 L534.6,240.3 L535.1,239.9" fill="none" stroke="#2b50aa" stroke-width="0.95" stroke-linejoin="round"/>
<path d="M550.3,243.0 L551.5,242.8 L552.0,241.8 L552.3,241.0 L552.6,240.3 L553.2,240.1 L553.5,239.6 L553.4,238.7 L554.1,238.3 L554.0,237.5 L554.7,237.4 L555.5,237.5 L556.2,238.0 M558.2,239.2 L558.7,238.4 L558.4,237.8 L559.1,237.2 L559.0,235.9 L559.2,234.8 L560.0,234.6 L560.9,233.8 L560.6,232.7 L559.6,232.6 L558.6,231.7 M560.3,239.3 L561.3,239.5 L561.1,238.6 L561.5,237.9 L561.3,237.3 L560.7,236.7 L560.0,236.3 L560.0,235.1 L559.3,234.6 L558.3,235.0 L557.9,234.3 L558.1,233.6 L557.0,233.2 M553.3,233.1 L553.0,234.0 L552.8,234.9 L552.4,235.6 L552.9,236.1 L553.8,235.7 L554.6,234.9 L555.4,234.1 L555.9,234.5 L556.4,234.1 L556.9,233.2 L557.6,232.8 L558.0,233.3 M560.2,233.9 L559.5,232.8 L559.7,231.6 L560.0,230.9 L560.8,231.1 L561.4,230.3 L561.7,230.9 L561.9,231.8 L561.2,230.9 L560.6,230.3 L560.8,231.4 L560.3,232.3 M548.8,236.7 L548.9,238.0 L549.6,237.8 L550.1,237.0 L551.1,236.6 L550.8,235.6 L551.8,235.0 L552.7,235.8 L553.5,235.7 L554.8,235.7 L556.0,235.2 M560.4,239.6 L561.0,238.6 L561.0,237.4 L560.3,236.9 L560.8,235.8 L560.7,235.0 L561.0,233.9 L561.8,232.9 L561.0,232.8 L560.1,232.8 L558.9,232.7 M552.3,231.3 L551.6,230.6 L550.5,231.1 L550.1,231.8 L549.2,231.9 L549.6,231.2 L550.7,231.5 L551.1,232.2 L550.6,233.1 L549.8,233.2 L548.9,232.5 L549.4,233.7 M550.4,241.3 L549.5,241.4 L548.9,240.3 L549.3,239.8 L550.4,239.2 L551.2,239.2 L551.3,237.9 L552.3,237.6 L553.2,236.7 L554.3,236.9 L555.0,237.3 M552.7,236.6 L552.3,237.2 L551.5,237.5 L551.4,238.3 L551.5,239.2 L551.1,239.7 L551.2,240.5 L552.2,241.0 L552.7,240.6 L553.6,240.0 L554.5,240.4 L555.7,240.3 L556.5,240.9 M556.4,247.3 L555.7,246.7 L554.6,247.0 L554.9,246.0 L554.9,244.7 L555.2,243.5 L556.3,243.5 L556.5,244.4 L557.1,245.4 L557.5,246.1 L556.5,245.6 M555.5,248.0 L555.5,247.2 L554.7,246.6 L554.6,245.4 L554.8,244.7 L554.8,244.1 L554.4,242.9 L553.6,242.2 L553.3,241.6 L553.4,240.9 L552.6,240.2 L551.4,240.7 M554.5,241.7 L554.7,240.4 L553.7,240.0 L552.9,239.1 L551.7,238.6 L551.1,237.9 L550.3,238.0 L549.6,238.4 L548.9,239.3 L548.6,240.3 L549.3,240.6 M552.9,230.6 L553.3,231.3 L553.6,232.1 L553.5,233.2 L552.6,233.9 L551.8,234.2 L551.2,233.7 L551.3,232.8 L551.8,232.0 L552.6,231.5 L553.6,231.2 L554.4,230.5 M554.9,238.7 L554.0,239.3 L554.0,240.0 L553.4,240.4 L552.3,240.1 L551.5,240.6 L551.1,241.8 L551.6,242.4 L552.5,241.9 L552.7,241.1 L553.8,241.2 L554.5,241.9 M557.5,230.2 L557.9,231.4 L559.2,231.0 L559.2,230.0 L558.4,231.0 L557.6,230.8 L557.1,231.3 L555.8,231.4 L555.0,231.1 L554.2,230.5 L553.1,230.6 M551.3,230.5 L552.3,230.9 L553.1,230.5 L553.9,230.6 L554.9,230.8 L555.6,230.7 L556.6,231.3 L557.6,230.8 L558.8,230.8 L559.5,231.5 L559.5,232.3 L559.2,232.9 M553.3,239.4 L554.6,239.2 L555.3,240.2 L555.6,241.2 L555.9,241.9 L555.4,242.8 L555.7,243.5 L556.8,243.7 L557.4,244.1 L557.9,245.0 L558.7,245.3 L558.3,244.4 M554.1,244.2 L555.2,244.7 L555.8,245.4 L556.1,246.3 L556.4,247.5 L555.7,247.7 L554.5,247.3 L553.8,246.6 L552.9,246.3 L552.1,245.8 L551.0,246.5 M552.4,240.1 L552.3,240.8 L552.7,241.6 L553.5,242.1 L554.3,241.7 L555.3,242.1 L554.9,243.4 L554.7,244.3 L553.7,244.9 L552.7,245.4 L551.8,245.2 L550.9,245.1 M554.8,238.8 L554.3,238.2 L554.9,237.4 L556.0,237.0 L557.0,237.3 L556.9,238.3 L556.9,239.0 L557.9,239.6 L557.9,240.4 L557.6,241.5 L557.3,242.2 L556.3,242.0" fill="none" stroke="#2b50aa" stroke-width="0.95" stroke-linejoin="round"/>
<path d="M558.8,264.5 L558.6,265.1 L558.1,266.2 L558.8,266.9 L559.1,267.4 L560.0,268.1 L560.9,268.7 L561.6,268.4 L561.5,267.4 L562.5,267.1 L563.3,267.5 L563.5,268.1 L564.4,268.7 M547.4,262.0 L548.3,262.7 L549.5,262.4 L549.9,262.9 L550.7,263.4 L551.3,262.7 L551.9,262.9 L552.5,263.3 L553.3,264.2 L553.9,264.2 L554.1,263.2 L553.5,263.0 L552.4,262.5 M557.5,265.1 L556.6,265.5 L556.3,266.5 L555.7,266.4 L554.7,266.2 L554.2,266.8 L553.1,266.0 L552.2,266.6 L551.7,266.0 L551.4,265.4 L550.7,264.6 L550.1,263.6 M547.3,263.9 L548.1,263.4 L548.9,262.4 L549.4,262.0 L550.2,262.2 L550.9,262.2 L551.8,262.1 L552.0,261.1 L551.0,260.4 L550.2,261.3 L549.3,261.2 L548.7,260.7 M556.9,264.5 L557.2,263.5 L556.5,262.6 L555.9,262.5 L555.9,261.8 L557.1,261.5 L557.7,261.5 L557.7,262.6 L556.9,262.7 L556.5,263.6 L557.0,264.1 L557.6,265.0 M546.7,266.4 L547.1,265.7 L547.8,265.7 L548.7,266.5 L548.4,267.4 L548.9,267.8 L549.4,268.3 L549.7,268.9 L549.4,269.6 L550.0,270.0 L550.9,270.3 L551.6,270.4 L552.9,270.4 M561.0,278.3 L561.2,277.3 L561.6,276.2 L560.8,275.6 L560.2,275.0 L560.0,273.9 L558.9,273.7 L558.0,273.6 L557.4,273.4 L556.8,272.7 L557.1,272.0 L558.2,271.8 M563.8,276.7 L564.7,277.2 L565.1,278.0 L565.8,277.8 L566.5,277.9 L566.8,277.1 L567.1,276.1 L566.0,275.7 L564.9,275.8 L564.9,277.0 L564.5,278.3 M574.8,275.7 L574.4,275.0 L573.8,274.9 L573.0,275.9 L572.2,275.5 L571.9,274.6 L571.7,273.8 L571.8,273.0 L571.3,272.2 L570.3,272.1 L570.2,271.5 L569.1,271.3 L568.8,272.0 M570.7,270.1 L571.5,270.2 L572.5,269.6 L573.2,270.5 L572.6,271.6 L571.3,271.5 L571.3,270.8 L570.8,270.2 L570.5,269.3 L569.7,268.4 L569.0,268.1 L568.1,268.3 M563.3,269.3 L563.1,270.1 L563.3,270.8 L563.4,271.5 L562.9,272.5 L563.5,273.3 L564.3,273.8 L565.1,274.6 L564.6,275.6 L565.1,276.5 L565.6,276.8 L566.3,277.5 M570.1,267.9 L570.4,268.7 L570.5,269.3 L571.7,269.2 L571.8,268.5 L571.3,268.1 L570.8,268.9 L569.9,268.8 L569.3,269.7 L569.2,270.5 L569.5,271.3 L570.5,271.5 L570.7,272.5 M571.1,271.9 L571.9,272.0 L572.5,271.3 L573.2,271.1 L573.9,270.2 L573.4,271.4 L574.1,271.8 L574.3,272.8 L573.5,273.4 L572.8,273.1 L571.8,273.5 L570.9,274.1 M575.2,278.2 L575.0,277.5 L574.4,278.4 L573.5,278.0 L573.7,276.7 L572.9,276.4 L572.9,275.3 L573.6,275.1 L572.5,275.1 L572.5,274.4 L571.3,274.2 L570.6,273.9 M548.7,262.7 L549.8,262.6 L551.1,262.4 L551.1,261.7 L550.2,261.2 L549.2,261.6 L548.2,261.9 L547.4,261.2 L547.6,260.5 L547.7,259.3 L547.5,258.5 M570.6,270.9 L570.2,271.8 L570.5,272.7 L569.8,273.2 L570.1,273.9 L571.1,273.7 L571.9,272.9 L571.9,272.3 L571.8,271.6 L571.3,271.0 L570.2,271.2 L569.9,270.4 L569.9,269.5 M572.6,268.9 L573.1,269.5 L573.6,269.2 L572.6,269.1 L572.2,268.6 L571.6,268.9 L570.7,269.1 L570.1,268.5 L570.7,269.2 L570.4,269.7 L569.6,269.5 L568.9,269.3 L568.4,268.5 L568.6,267.8 M571.6,275.4 L570.8,275.1 L570.2,275.0 L570.1,274.1 L570.8,274.0 L572.0,274.2 L572.7,274.7 L573.3,274.0 L573.8,272.9 L573.9,272.1 L573.1,271.9 L572.9,272.5 L572.5,273.2 M550.4,276.9 L549.8,276.4 L549.6,275.2 L548.8,274.8 L548.2,274.0 L548.4,273.0 L547.9,272.0 L548.3,271.2 L548.9,270.3 L549.3,269.8 L549.7,268.7 L550.2,268.3 M559.3,269.7 L558.6,270.5 L557.6,270.8 L557.2,269.9 L556.4,270.2 L555.8,270.0 L555.8,269.0 L556.3,268.5 L555.6,267.5 L555.1,266.8 L554.5,265.8 L553.5,265.1 M559.3,276.8 L558.2,277.4 L557.7,276.8 L557.9,275.8 L558.5,275.5 L559.2,274.9 L560.0,275.1 L560.4,274.5 L561.6,274.3 L562.2,274.3 L563.0,275.3 L563.9,275.5 M553.6,256.8 L553.0,256.5 L553.0,255.8 L552.9,256.7 L553.6,257.5 L552.9,258.4 L552.3,259.1 L551.8,260.1 L552.0,260.9 L551.7,261.6 L550.7,261.4 L550.2,261.8 L549.6,262.1 M559.9,270.0 L560.0,269.0 L560.6,268.7 L561.1,267.6 L561.2,266.4 L560.6,266.1 L559.6,266.2 L558.9,266.5 L557.9,267.1 L557.1,266.5 L556.1,266.5 L555.8,267.0 M549.6,275.3 L550.3,275.3 L550.7,276.3 L551.4,276.4 L551.5,277.1 L551.0,278.1 L551.4,277.4 L551.9,277.0 L552.5,276.5 L553.1,275.4 L553.8,274.6 L554.3,274.3 L555.4,274.8 M567.5,268.1 L568.2,268.4 L568.9,267.9 L568.5,267.3 L567.9,267.4 L567.4,267.7 L566.4,268.3 L565.7,268.3 L565.2,267.7 L565.3,266.7 L564.6,266.6 L565.3,266.7 L565.9,267.5 L566.8,267.7 M568.7,268.8 L568.1,269.3 L568.7,270.2 L568.1,271.2 L567.0,271.7 L566.3,271.0 L565.3,271.1 L564.3,271.5 L563.9,272.0 L564.0,272.7 L563.4,273.6 L563.0,274.3 M558.4,266.9 L557.6,266.7 L556.7,266.0 L555.6,266.6 L555.8,267.3 L555.3,267.8 L555.2,268.7 L553.9,268.8 L553.3,269.7 L552.3,269.6 L551.7,270.0 L551.8,270.6 M557.3,264.3 L558.4,263.9 L558.8,262.9 L558.1,263.2 L557.5,262.6 L556.8,262.6 L556.6,263.5 L556.7,264.2 L556.7,265.0 L557.6,265.1 L558.1,264.5 L559.0,264.4 L559.8,263.8 M567.1,270.7 L567.9,270.9 L567.8,271.6 L568.3,272.0 L569.1,272.4 L570.1,272.4 L571.0,272.1 L572.2,272.2 L572.3,273.1 L572.8,274.3 L572.1,275.3 L572.5,276.0 M557.6,263.0 L557.3,262.2 L556.9,261.5 L556.7,260.5 L556.1,260.2 L555.7,259.1 L555.1,258.6 L554.2,259.1 L553.0,259.5 L552.0,259.2 L551.0,258.5 L551.2,257.8 M548.4,258.6 L549.0,259.8 L549.4,260.8 L549.4,261.8 L549.7,263.1 L550.2,263.5 L551.2,262.8 L552.3,263.1 L552.7,263.8 L553.3,264.3 L553.1,264.9 L553.5,265.9 M548.1,259.6 L548.2,260.2 L547.6,260.8 L546.7,261.1 L546.2,260.6 L546.5,259.9 L546.8,258.9 L547.5,258.3 L548.1,258.2 L549.1,258.3 L549.7,258.5 L550.1,259.1 L550.7,258.9 L551.0,259.5 M563.0,273.4 L562.6,272.3 L562.0,272.5 L561.5,273.3 L560.9,273.5 L560.5,274.3 L560.6,275.0 L561.0,275.4 L562.0,274.7 L562.4,273.7 L562.0,272.7 L562.4,272.2 L563.5,271.7 M567.0,273.8 L567.1,274.8 L568.1,275.4 L568.0,276.1 L568.0,277.1 L569.0,277.2 L569.1,278.0 L569.3,279.2 L569.0,278.0 L568.4,277.4 L567.2,277.6 M562.7,266.6 L561.7,266.6 L561.1,267.5 L561.2,268.1 L560.6,268.4 L559.6,267.8 L558.6,267.5 L557.9,267.8 L557.1,267.1 L557.0,266.2 L555.9,266.1 L555.8,265.3 M574.0,272.7 L574.6,273.6 L574.1,274.7 L573.2,275.5 L572.2,276.1 L571.3,275.8 L570.6,275.7 L569.7,275.0 L569.1,274.8 L568.5,273.9 L568.4,273.2 L569.3,272.6 M553.0,268.4 L553.1,269.1 L554.1,269.6 L555.1,269.2 L555.8,269.3 L556.1,268.2 L557.3,268.0 L557.4,267.2 L557.5,266.6 L558.6,266.2 L559.2,267.3 L558.8,268.0 M564.6,276.6 L565.0,275.4 L564.1,274.6 L563.3,274.4 L562.1,274.4 L561.5,274.2 L561.3,273.4 L562.0,272.7 L562.9,272.9 L564.2,272.7 L564.5,273.7 M560.6,270.1 L559.5,269.6 L558.2,269.4 L557.1,268.9 L557.1,268.1 L556.2,267.8 L555.4,267.4 L554.6,267.4 L554.3,268.2 L553.9,269.0 L553.0,269.1 L552.1,268.4 M560.1,266.8 L559.6,267.8 L558.5,267.5 L558.6,266.5 L558.6,265.2 L558.9,264.6 L560.0,264.6 L560.4,265.4 L560.5,266.4 L560.2,267.6 L560.3,268.7 M570.8,272.2 L571.0,273.1 L571.7,273.4 L572.6,273.8 L572.5,274.8 L571.7,275.4 L572.1,276.2 L573.2,276.1 L574.0,275.5 L574.2,274.9 L573.7,273.7 L573.2,272.8 M561.2,266.7 L561.9,265.9 L562.8,266.0 L562.2,266.3 L561.8,267.2 L561.8,267.9 L562.1,269.1 L562.1,270.2 L561.1,270.3 L560.7,269.3 L561.3,268.4 L562.2,268.9 M555.0,271.3 L556.1,271.8 L556.8,271.2 L557.1,270.2 L557.9,270.0 L558.5,270.0 L559.1,269.4 L560.3,268.9 L561.0,269.6 L562.1,269.7 L562.7,270.7 M565.1,270.8 L564.3,271.1 L563.1,271.0 L562.1,271.4 L562.1,272.1 L562.8,272.5 L563.6,272.8 L563.6,273.5 L562.9,273.8 L562.4,274.6 L562.1,275.5 L562.9,276.1 L563.4,275.5 M553.3,267.9 L552.7,267.9 L551.9,268.0 L550.9,267.6 L550.9,266.3 L551.7,266.2 L552.4,266.2 L553.5,266.5 L554.5,267.2 L555.4,267.4 L555.5,268.6 L556.3,269.0 M569.6,277.2 L568.6,277.4 L568.2,278.5 L568.5,279.1 L568.9,278.5 L568.3,277.8 L567.6,277.1 L568.1,276.4 L568.8,276.4 L570.0,276.5 L570.5,277.5 L571.8,277.3" fill="none" stroke="#2b50aa" stroke-width="0.95" stroke-linejoin="round"/>
<path d="M567.8,256.0 L566.7,256.5 L565.8,255.9 L564.9,256.3 L564.5,256.9 L563.3,256.4 L562.6,257.4 L561.9,257.9 L562.1,256.9 L562.5,256.3 L563.7,256.1 M572.3,261.2 L571.5,261.1 L570.4,261.4 L569.7,262.2 L569.4,262.7 L568.5,263.6 L568.7,264.3 L569.0,264.8 L569.6,265.9 L569.6,266.8 L569.0,267.2 L568.2,267.5 L567.5,267.5 M570.1,246.7 L569.6,247.9 L569.5,248.7 L569.9,249.4 L570.0,250.1 L569.3,250.9 L568.2,250.7 L567.3,250.6 L566.7,250.6 L566.0,250.2 L565.4,250.2 L564.4,250.3 L563.3,250.9 M568.9,250.8 L568.8,249.8 L568.9,249.2 L568.9,248.3 L568.8,247.4 L568.8,246.4 L568.8,245.7 L569.1,246.3 L570.0,245.9 L569.9,245.3 L569.7,246.2 L569.7,247.1 L569.6,248.0 M569.6,269.1 L569.0,268.2 L569.4,267.7 L569.3,266.7 L569.8,265.7 L570.5,264.8 L571.2,263.9 L572.0,264.3 L571.3,263.5 L572.0,262.4 L572.0,261.4 M562.8,260.7 L562.9,259.8 L562.3,259.5 L562.9,260.6 L563.5,261.5 L563.5,262.5 L563.8,263.5 L563.9,264.3 L564.3,265.2 L564.4,265.9 L564.2,267.1 L564.2,266.2 M562.2,245.5 L562.3,246.7 L562.1,247.4 L561.4,248.1 L561.9,247.4 L562.9,247.3 L563.7,247.0 L564.7,246.5 L565.9,246.9 L567.0,246.8 L567.3,248.1 M569.5,245.8 L570.1,245.9 L569.1,245.6 L568.4,245.9 L568.3,246.5 L567.2,247.2 L567.0,248.3 L566.3,248.3 L565.4,248.1 L565.4,246.9 L564.7,246.7 L564.4,245.8 M567.2,266.7 L568.0,266.6 L568.1,265.5 L567.2,265.2 L567.0,264.3 L567.1,263.6 L566.3,263.0 L566.6,261.7 L565.4,261.3 L564.6,260.9 L563.6,260.8 L563.0,261.1 M571.2,263.8 L570.9,262.5 L569.8,262.1 L569.6,261.3 L569.6,260.3 L568.8,259.8 L567.7,260.3 L567.5,261.4 L567.0,262.5 L566.1,262.8 L565.6,263.2 M561.8,252.7 L561.7,252.0 L562.0,251.2 L561.2,250.2 L561.9,249.6 L561.9,248.9 L561.6,247.9 L561.2,246.8 L561.7,246.3 L562.7,246.6 L563.6,246.7 L563.9,247.5 M562.6,247.0 L562.0,246.4 L561.7,245.2 L562.1,246.2 L562.2,246.8 L563.3,247.0 L563.7,247.5 L564.0,248.4 L564.1,249.3 L564.8,249.7 L564.5,250.4 L563.5,250.4 L563.2,251.6 M569.6,254.0 L570.0,253.5 L569.8,252.7 L570.4,252.1 L570.4,251.1 L570.6,250.2 L569.8,251.1 L569.3,250.7 L568.7,250.6 L567.6,250.5 L566.5,250.0 L566.0,249.6 L565.1,249.5 M565.1,245.0 L565.7,245.2 L566.4,245.0 L566.5,245.9 L567.1,246.1 L567.9,245.3 L569.1,245.5 L570.0,245.8 L570.1,246.9 L569.7,247.8 L570.0,248.5 L569.9,249.4 M571.1,254.5 L570.3,254.5 L569.9,254.0 L569.7,253.4 L569.8,252.4 L570.9,252.1 L570.6,251.5 L570.1,250.8 L569.7,250.1 L568.7,250.1 L567.8,249.6 L568.1,248.6 L567.4,247.8 M562.7,256.8 L563.5,256.2 L564.1,255.3 L565.3,255.1 L565.9,255.4 L565.4,256.6 L565.1,257.6 L564.0,258.0 L563.3,257.8 L562.9,258.5 L562.5,259.2 L563.3,258.6 M564.0,248.4 L563.0,248.0 L562.3,247.1 L561.2,246.4 L561.7,245.5 L562.8,245.1 L563.5,245.1 L564.3,245.4 L564.4,246.1 L565.1,246.1 L565.6,245.4 L565.6,246.1 M566.8,254.0 L567.6,254.5 L567.8,255.6 L568.9,255.7 L570.1,255.6 L570.5,254.4 L570.6,253.8 L570.6,252.6 L569.7,252.3 L569.4,252.8 L568.4,252.8 L567.2,252.5 M569.9,267.8 L569.9,267.2 L571.0,267.2 L569.9,267.2 L569.1,267.3 L568.2,267.4 L567.4,268.1 L566.5,267.6 L565.9,268.3 L566.2,267.7 L566.3,266.9 L566.8,266.6 L567.9,266.1 M561.6,248.6 L562.5,247.9 L562.1,247.1 L561.3,247.3 L561.5,248.4 L561.7,249.2 L562.3,250.1 L562.9,250.3 L563.5,249.4 L564.1,249.0 L565.2,248.4 L566.2,247.8 M565.2,259.5 L565.9,258.7 L566.0,258.1 L566.2,257.0 L565.8,255.9 L565.6,255.3 L565.4,254.4 L564.9,253.8 L565.6,253.1 L566.3,253.0 L566.9,253.4 L567.6,253.8 L568.8,254.0 M571.0,257.8 L570.0,258.6 L568.9,258.5 L568.9,257.4 L568.1,256.6 L567.3,256.8 L566.6,256.5 L565.9,256.4 L565.1,256.5 L564.1,255.9 L563.1,255.4 L562.7,254.3 M570.4,262.4 L571.0,261.6 L571.7,261.6 L572.6,262.2 L571.6,262.8 L570.8,262.4 L570.9,261.2 L571.2,260.0 L570.5,259.1 L569.6,259.0 L568.7,258.9" fill="none" stroke="#2b50aa" stroke-width="0.95" stroke-linejoin="round"/>
<path d="M572.2,241.0 L573.0,240.4 L573.7,240.2 L574.7,239.9 L575.3,240.3 L575.9,240.3 L576.6,241.2 L576.0,240.3 L575.8,239.6 L574.8,239.8 L574.7,240.5 L575.1,241.0 L575.8,241.6 M576.2,240.4 L575.5,239.6 L574.9,239.1 L575.7,238.1 L575.1,238.4 L574.7,239.0 L573.9,239.2 L573.3,238.6 L573.9,237.6 L573.3,237.1 L572.5,237.0 L572.0,237.9 M575.5,237.3 L575.2,238.4 L575.8,239.1 L576.3,239.6 L576.4,240.3 L576.2,241.0 L576.1,241.7 L576.9,242.8 L576.7,243.5 L575.9,243.6 L574.8,244.2 L574.0,243.4 M571.0,237.6 L571.7,236.9 L571.7,235.9 L570.9,236.4 L569.8,236.7 L570.9,236.7 L571.4,236.2 L572.7,236.1 L571.7,235.9 L571.0,236.0 L570.9,237.2 M573.7,237.6 L573.6,238.2 L574.1,239.0 L573.7,239.9 L574.0,241.1 L574.5,241.4 L575.4,241.2 L575.4,240.5 L575.1,239.5 L574.2,239.5 L573.8,238.2 L574.0,237.2" fill="none" stroke="#2b50aa" stroke-width="0.95" stroke-linejoin="round"/>
<path d="M582.5,267.6 L581.9,267.7 L581.2,268.0 L580.3,267.4 L579.6,266.7 L579.4,266.0 L579.1,265.4 L579.6,264.9 L580.2,265.0 L580.8,265.6 L581.9,266.1 L582.3,265.6 L583.2,265.8 L583.9,264.7 M588.5,258.7 L588.5,259.5 L588.3,260.1 L587.8,260.5 L587.8,261.7 L588.1,262.5 L588.1,263.5 L588.4,264.0 L588.0,265.3 L587.0,265.1 L586.2,265.4 L585.1,265.1 M577.9,260.7 L577.2,261.5 L578.0,261.7 L578.8,261.8 L579.7,261.8 L580.1,262.3 L580.5,262.9 L580.6,263.5 L581.1,264.1 L581.3,264.7 L581.6,265.4 L582.4,265.9 L582.1,266.8 L581.4,266.7 M588.2,262.8 L587.8,264.0 L588.5,264.3 L588.0,264.0 L587.3,264.8 L586.2,264.1 L585.7,263.8 L584.6,263.8 L584.0,262.9 L583.1,262.6 L582.0,262.5 L581.0,263.1 M587.9,259.5 L587.1,259.6 L586.7,258.8 L586.8,257.7 L587.9,257.8 L588.4,258.3 L588.2,259.1 L588.6,259.9 L587.8,260.5 L586.5,260.8 L586.1,259.7 L585.5,258.9 M587.9,269.8 L587.1,269.8 L586.4,269.1 L585.5,269.8 L584.5,269.2 L584.7,268.0 L585.0,266.9 L584.9,266.2 L584.4,265.5 L585.2,264.7 L586.0,264.1 M578.1,265.6 L577.6,265.0 L577.9,265.6 L578.7,265.6 L579.6,266.3 L580.3,267.4 L580.7,267.7 L581.5,268.3 L582.5,267.9 L583.0,267.3 L583.3,266.1 L582.5,265.8 M580.1,260.1 L579.7,261.3 L579.3,262.3 L579.9,263.0 L580.4,264.2 L581.2,264.5 L581.3,265.7 L582.1,266.3 L582.1,267.2 L581.7,268.2 L580.8,267.9 M585.1,262.6 L584.6,261.8 L583.9,261.4 L583.2,261.8 L582.5,262.2 L582.8,263.3 L583.8,264.1 L584.3,264.8 L583.6,265.9 L583.7,266.6 L583.2,267.7 L582.4,268.5 M581.7,267.0 L581.9,267.8 L582.4,268.6 L582.1,269.3 L582.5,269.9 L581.7,270.5 L582.2,271.6 L582.5,270.5 L582.3,269.9 L583.1,269.0 L583.0,267.8 L582.2,267.8 M578.6,268.6 L579.0,269.2 L580.1,269.6 L580.6,270.1 L581.0,271.0 L580.9,269.8 L580.9,268.8 L580.8,267.7 L580.4,266.9 L580.0,265.9 L578.9,265.3 M582.7,270.9 L583.6,270.3 L584.3,269.7 L585.3,269.2 L585.9,269.5 L586.3,269.1 L586.1,268.5 L585.3,268.8 L585.3,269.8 L584.8,271.0 L583.7,270.8 L583.7,270.1 L582.8,269.3 M582.5,260.2 L582.4,259.2 L581.8,258.7 L580.9,259.1 L580.1,258.0 L580.3,258.8 L579.5,259.3 L578.9,259.4 L578.2,260.1 L577.1,260.2 L578.2,260.6 L578.1,261.5 M579.0,267.1 L578.2,267.2 L578.1,266.3 L579.2,265.9 L579.7,265.2 L579.0,264.3 L578.8,263.6 L578.7,262.6 L578.8,261.7 L578.4,261.0 L579.1,260.5 L579.9,260.1 M578.7,263.4 L579.3,264.0 L580.5,264.4 L581.3,264.1 L582.2,264.3 L583.2,264.5 L583.7,263.5 L583.2,262.9 L583.5,261.7 L584.0,261.2 L584.5,260.5 L585.2,260.5 M579.0,267.3 L578.6,266.5 L579.3,265.9 L580.0,266.5 L580.7,266.9 L581.1,268.0 L582.0,268.4 L582.4,269.3 L582.4,270.3 L581.9,271.0 L581.8,271.6 L582.8,270.8" fill="none" stroke="#2b50aa" stroke-width="0.95" stroke-linejoin="round"/>
<path d="M581.8,285.4 L582.2,284.8 L582.1,284.1 L581.1,283.5 L580.3,284.0 L580.2,284.8 L580.2,286.0 L580.0,286.6 L580.3,287.2 L581.5,287.3 L582.3,288.2 L583.2,287.9 M589.4,284.2 L588.8,284.8 L588.6,285.5 L587.6,286.0 L587.0,285.1 L586.6,284.1 L585.5,284.0 L584.8,284.0 L584.3,284.9 L584.4,285.8 L584.3,286.6 L585.0,287.2 M581.4,280.8 L581.8,281.3 L582.2,282.5 L582.9,283.4 L582.5,283.9 L582.9,285.0 L582.3,285.8 L582.7,286.6 L581.9,287.6 L581.2,287.5 L580.8,286.8 L580.9,286.1 M588.9,280.6 L588.3,279.7 L589.1,279.8 L589.5,280.4 L590.5,280.2 L591.5,280.1 L591.7,280.7 L591.6,281.5 L592.1,282.4 L591.1,283.1 L591.6,283.8 L592.2,284.9 M585.7,283.2 L585.1,283.0 L584.0,282.4 L583.7,281.7 L583.9,280.5 L583.4,279.7 L582.7,279.2 L582.0,279.3 L581.4,279.6 L581.0,280.1 L580.0,280.1 L579.9,281.3 L580.7,281.9 M586.3,281.8 L586.2,282.5 L585.6,282.8 L585.0,282.4 L584.1,282.4 L584.0,283.1 L584.3,284.0 L583.3,284.8 L583.8,285.7 L585.0,285.6 L586.0,284.9 L586.6,284.6 L586.3,283.9 M591.1,279.9 L590.3,280.3 L589.7,280.1 L589.0,280.7 L588.2,280.3 L587.4,279.7 L588.0,280.0 L588.9,280.8 L589.5,281.3 L589.0,282.0 L589.4,282.5 L590.4,282.0 L590.3,280.9 M590.2,282.7 L590.4,281.6 L589.9,280.6 L589.1,280.6 L589.0,279.7 L589.5,280.1 L589.2,281.3 L589.7,282.3 L589.3,283.1 L588.2,282.6 L587.5,282.2 L586.4,281.9 M586.0,280.4 L585.5,280.9 L585.0,281.3 L584.3,281.1 L583.7,281.8 L583.5,283.0 L583.4,284.0 L582.7,284.3 L581.7,284.0 L580.5,283.9 L580.2,285.1 L581.1,285.9 M580.2,278.9 L580.5,279.9 L581.3,280.4 L581.8,279.6 L582.7,279.4 L581.9,279.8 L581.1,279.0 L579.9,279.5 L579.2,278.6 L578.3,279.2 L579.1,278.5 M585.6,286.3 L586.1,285.2 L586.5,284.3 L586.8,283.1 L586.8,281.8 L586.3,280.9 L587.0,280.1 L587.3,279.5 L586.2,279.8 L586.8,280.6 L586.8,281.3 M581.1,279.9 L581.3,281.2 L582.3,281.8 L583.1,281.8 L583.2,282.4 L583.9,282.6 L584.3,281.8 L584.0,281.1 L583.0,281.4 L583.0,282.2 L582.8,283.4 L582.2,284.3" fill="none" stroke="#2b50aa" stroke-width="0.95" stroke-linejoin="round"/>
<path d="M584.0,245.6 L583.9,244.8 L584.3,244.0 L584.9,243.8 L585.4,242.7 L585.5,241.9 L586.3,241.3 L586.1,240.3 L586.4,239.6 L586.2,240.2 L585.2,239.4 L584.3,238.9 M585.7,241.4 L586.3,242.3 L585.9,241.4 L585.0,241.2 L584.1,241.9 L583.5,242.3 L582.9,242.1 L582.3,242.3 L581.7,242.0 L581.1,241.7 L580.1,241.3 L580.9,241.7 L581.4,242.1 M582.7,233.9 L583.2,234.2 L584.1,233.6 L584.7,233.4 L585.9,233.7 L584.7,233.4 L584.0,233.8 L583.8,234.8 L583.8,235.6 L584.0,236.2 L585.0,237.0 L585.4,237.7 M586.2,235.9 L585.6,236.4 L584.9,236.1 L584.0,236.5 L583.5,235.9 L583.5,235.0 L583.8,234.0 L585.0,234.1 L586.2,234.2 L585.7,233.3 L585.9,232.6 L585.0,233.4 M582.6,235.6 L583.3,236.0 L583.6,236.6 L584.5,236.8 L585.3,237.2 L585.5,238.0 L586.0,238.7 L585.7,239.7 L586.4,240.5 L585.7,240.1 L585.9,239.1 L586.1,238.5 L586.1,237.7 M582.6,245.5 L582.0,244.6 L582.6,243.9 L582.1,242.8 L581.2,241.8 L581.7,240.8 L582.3,240.8 L582.7,241.5 L583.6,241.4 L584.2,241.5 L585.3,241.6 L586.3,241.6 M580.9,241.3 L581.2,240.0 L582.4,239.9 L582.9,240.7 L583.5,241.3 L583.1,241.8 L583.8,242.9 L583.4,243.9 L582.4,243.7 L582.1,242.8 L582.6,242.4 L583.2,241.6 M585.1,237.0 L585.9,236.5 L585.9,235.9 L585.2,236.5 L585.4,237.3 L586.1,237.6 L586.2,238.4 L585.6,238.1 L585.0,237.2 L584.9,236.0 L584.6,235.3 L585.0,234.4 L585.6,234.0 M581.9,241.5 L581.0,241.9 L580.2,241.6 L580.9,241.4 L581.6,241.5 L581.9,242.3 L581.1,242.9 L581.2,243.8 L580.9,244.7 L581.5,245.1 L581.4,244.5 L580.5,244.1 L580.6,243.2 M582.1,237.9 L581.3,237.7 L581.0,236.8 L580.2,235.9 L580.8,235.3 L580.3,234.6 L580.6,234.0 L580.2,232.9 L580.8,232.3 L581.3,232.0 L582.2,232.2 L582.7,233.2 M585.3,234.0 L584.4,234.3 L583.6,233.9 L583.0,233.6 L583.1,232.5 L583.7,232.2 L584.3,232.4 L585.0,232.7 L585.0,233.3 L585.0,234.3 L585.3,234.8 L585.2,236.1 L585.6,237.3" fill="none" stroke="#2b50aa" stroke-width="0.95" stroke-linejoin="round"/>
<path d="M621.2,184.5 L621.2,183.3 L621.9,182.3 L622.6,182.7 L621.9,183.1 L621.8,184.3 L620.7,184.7 L620.2,185.9 L619.9,186.5 L619.6,187.4 L620.4,188.0 M614.5,193.5 L615.4,193.5 L616.0,194.6 L616.6,195.7 L617.3,195.4 L617.5,194.2 L618.3,193.4 L618.4,192.5 L619.1,192.3 L619.1,191.7 L619.2,190.5 L619.4,189.6 M617.0,185.0 L617.6,184.5 L617.9,183.3 L618.5,184.0 L619.6,183.4 L620.5,183.7 L621.1,183.0 L621.6,182.0 L621.1,182.3 L622.0,182.0 L622.1,182.6 L621.4,183.3 M616.3,198.0 L616.0,197.3 L615.4,197.3 L614.5,197.9 L614.0,198.6 L613.1,199.2 L612.3,199.4 L611.4,198.7 L611.8,197.5 L610.8,197.1 L609.9,197.2 L610.8,196.3 M614.0,200.9 L613.3,200.4 L612.7,199.6 L612.1,199.3 L611.0,199.9 L611.6,199.6 L612.3,198.7 L613.0,198.1 L613.8,198.4 L613.9,199.0 L613.5,199.6 L612.5,200.2 L611.5,200.3 M617.9,197.4 L617.9,198.4 L617.9,199.1 L617.8,200.0 L618.7,200.7 L618.8,201.5 L617.7,202.2 L616.8,202.3 L617.0,201.0 L615.8,200.5 L615.2,199.6 M609.9,195.1 L609.6,196.2 L610.3,196.6 L611.3,196.0 L611.0,195.1 L610.4,194.1 L609.6,193.5 L608.9,192.9 L609.5,193.6 L610.5,194.3 L610.1,195.0 M614.0,200.6 L614.3,199.7 L613.5,199.3 L612.4,198.9 L611.3,198.8 L611.9,199.2 L611.6,200.0 L612.0,199.2 L611.8,198.5 L612.2,197.6 L613.0,196.9 L613.8,196.8 M623.5,190.9 L622.7,191.9 L623.3,192.9 L623.3,193.7 L622.9,194.9 L623.6,195.7 L624.3,195.7 L624.6,197.0 L624.3,198.1 L624.3,199.0 L623.9,200.1 M620.6,191.3 L619.6,190.7 L619.6,189.6 L619.2,188.8 L619.9,188.3 L620.6,188.2 L620.8,187.5 L621.4,187.0 L622.0,186.9 L623.1,187.2 L623.8,186.9 L624.2,186.1 L623.8,185.4 M622.4,201.4 L623.2,200.8 L624.1,200.1 L623.1,199.4 L622.3,200.2 L622.3,201.1 L622.2,200.1 L621.7,199.4 L621.5,198.1 L621.2,197.6 L621.9,196.6 M623.1,194.9 L623.4,196.1 L623.7,196.7 L623.7,197.4 L624.1,198.3 L623.7,199.0 L624.0,199.8 L623.7,200.4 L624.1,201.1 L624.6,201.5 L623.9,200.6 L623.2,199.8 L623.1,198.8 M615.0,186.3 L616.3,185.9 L616.9,186.9 L617.1,187.8 L618.2,188.2 L619.2,187.4 L619.9,187.7 L619.8,188.8 L619.3,189.2 L619.1,189.9 L618.3,189.8 L617.2,189.9 M615.2,194.8 L614.0,194.3 L613.4,193.4 L613.4,192.4 L612.4,191.6 L612.7,191.0 L612.7,190.3 L611.8,189.8 L611.1,189.7 L610.0,189.4 L609.4,190.3 L609.9,191.3 M614.0,184.8 L613.3,185.3 L613.6,186.0 L614.6,186.4 L615.6,186.5 L615.9,187.6 L615.3,188.2 L615.7,188.9 L615.2,189.5 L615.5,190.1 L614.9,190.4 L615.1,191.3 L616.2,191.2 M620.4,190.3 L619.2,190.3 L618.2,189.9 L617.2,190.7 L616.5,190.0 L615.6,189.8 L615.0,189.1 L614.3,188.0 L614.3,187.1 L615.4,186.8 L615.3,185.9 M613.5,187.7 L612.5,187.5 L611.9,187.9 L612.0,188.7 L611.9,189.7 L612.0,190.6 L612.9,191.6 L613.7,191.6 L614.8,192.2 L615.8,192.4 L616.3,192.1 L616.7,192.6 M621.7,181.8 L621.2,182.9 L620.5,183.2 L620.7,184.3 L620.1,185.4 L620.7,186.3 L620.9,187.5 L620.1,188.2 L619.5,188.0 L619.7,187.0 L620.3,186.9 M617.3,200.4 L618.5,200.5 L618.7,199.8 L618.1,198.8 L618.3,197.9 L619.2,197.7 L619.7,196.5 L620.8,195.9 L621.7,196.2 L621.7,196.9 L622.5,197.0 L622.6,197.6 M621.6,192.8 L622.7,192.7 L623.8,192.3 L623.7,191.3 L624.3,190.8 L624.5,189.8 L623.8,189.1 L624.2,188.3 L623.6,187.3 L622.5,187.5 L621.4,188.1 M619.8,194.0 L620.4,194.5 L620.6,195.3 L621.2,195.7 L621.8,195.5 L622.5,194.8 L623.6,195.0 L624.8,194.7 L623.9,195.3 L623.0,195.8 L622.9,196.6 L623.3,197.4 M612.6,193.4 L613.5,193.6 L614.1,194.0 L614.6,194.8 L614.1,195.3 L613.7,196.4 L612.5,196.2 L612.3,195.3 L611.6,194.9 L611.0,194.1 L610.4,193.6 L610.6,192.8 L610.0,191.8 M621.9,195.7 L622.5,194.8 L622.8,194.2 L623.4,194.2 L624.0,194.8 L623.9,196.0 L623.5,196.4 L622.8,196.1 L621.5,196.4 L621.0,196.0 L621.2,195.2 L621.9,194.2 L621.4,193.7 M613.7,199.5 L614.9,199.5 L615.3,200.6 L615.9,200.6 L616.7,201.1 L617.5,201.8 L617.6,202.6 L617.2,202.1 L616.6,201.7 L615.7,201.8 L615.0,201.0 L615.6,200.4 L615.1,199.4 M623.8,192.1 L623.6,192.8 L623.5,193.8 L622.8,194.7 L623.3,195.5 L623.7,196.2 L624.4,196.0 L624.0,195.4 L623.8,194.7 L623.0,194.6 L621.8,194.7 L620.8,195.4 M622.0,189.8 L622.1,189.2 L622.1,188.1 L622.4,187.6 L621.6,187.0 L621.9,186.1 L622.6,185.8 L622.7,184.9 L623.3,184.8 L623.2,186.0 L624.0,186.8 L624.3,187.4 L625.1,187.6 M615.6,183.9 L615.4,184.8 L615.1,185.5 L615.2,186.2 L615.5,186.8 L616.8,186.5 L617.0,187.1 L616.5,187.7 L615.7,188.3 L616.1,189.1 L616.7,189.8 L617.1,190.6 L617.4,191.2" fill="none" stroke="#2b50aa" stroke-width="0.95" stroke-linejoin="round"/>
<path d="M630.6,221.6 L629.9,222.1 L629.1,222.3 L628.5,222.2 L627.8,222.5 L627.6,223.6 L628.2,224.6 L627.6,225.1 L626.5,224.5 L626.2,224.0 L625.6,223.2 L626.3,223.0 L627.0,223.4 M631.5,224.4 L631.8,223.9 L632.9,224.5 L633.1,225.4 L633.7,225.8 L634.6,225.8 L634.9,224.7 L635.4,224.3 L636.3,224.7 L636.2,225.6 L635.5,226.1 L634.5,226.4 L634.6,227.1 M628.7,220.2 L627.9,220.9 L627.4,221.6 L626.7,222.7 L625.7,222.8 L626.3,222.5 L626.3,221.9 L626.9,220.8 L626.2,220.0 L626.8,219.1 L626.4,218.1 L625.7,217.8 M625.5,222.4 L625.7,222.9 L626.3,223.9 L626.7,224.3 L627.4,224.0 L628.6,223.9 L629.3,223.9 L629.9,223.3 L629.6,222.6 L628.8,221.7 L627.6,221.6 L627.3,220.7 L626.7,220.4 M635.0,227.7 L634.9,226.8 L634.1,226.8 L633.5,227.3 L634.0,228.5 L634.8,229.0 L635.4,229.7 L635.1,229.1 L634.9,228.1 L635.2,227.3 L635.6,226.2 L636.2,225.9 L636.6,225.3 M635.7,220.2 L635.6,221.1 L634.9,221.9 L635.1,222.7 L634.9,223.4 L634.3,223.4 L633.6,223.3 L633.7,222.2 L633.0,221.5 L633.3,220.3 L634.0,219.6 L635.3,219.4 M632.8,224.0 L633.0,223.2 L633.5,222.5 L634.6,222.1 L635.0,222.7 L636.1,222.0 L637.3,222.2 L638.0,223.3 L638.7,223.3 L639.7,223.7 L639.8,224.4 L639.9,225.2 M626.6,214.4 L627.3,213.6 L628.5,213.6 L629.6,213.3 L629.6,214.0 L630.0,214.7 L629.7,215.5 L630.4,215.8 L631.2,214.8 L631.7,213.8 L632.3,213.1 L632.2,214.4 M630.4,224.6 L629.9,224.1 L629.4,224.3 L628.5,225.2 L627.7,226.2 L628.3,227.3 L629.5,227.5 L630.2,226.8 L631.4,226.3 L632.3,225.5 L631.7,224.4 M632.9,222.6 L633.6,221.9 L634.3,221.5 L634.4,220.6 L633.7,219.7 L633.2,219.3 L632.8,218.2 L632.8,217.4 L632.1,216.3 L631.4,215.5 L630.3,216.0 M629.8,224.6 L630.3,224.9 L631.3,224.2 L632.1,223.2 L632.7,222.2 L632.3,221.0 L632.1,220.4 L631.5,220.3 L630.2,220.2 L630.0,219.0 L629.6,217.9 M636.1,227.8 L636.9,228.6 L637.6,228.8 L638.4,228.8 L638.9,229.3 L638.3,229.2 L638.2,228.6 L638.0,227.7 L637.4,227.8 L636.8,228.5 L637.2,229.3 L637.1,228.5 L636.5,228.1 L635.2,227.8 M634.7,226.6 L635.7,226.9 L636.2,226.3 L637.3,226.8 L637.3,227.6 L636.5,228.4 L636.1,229.1 L635.7,230.0 L636.1,229.2 L636.3,228.2 L636.6,227.2 L636.8,226.6 M625.9,217.7 L627.0,217.1 L627.4,216.3 L628.2,215.6 L628.3,214.7 L627.1,214.4 L626.9,213.3 L627.5,213.5 L626.6,213.8 L626.4,214.8 L627.1,213.7 M629.3,221.2 L630.1,221.3 L630.8,221.1 L630.7,220.2 L630.0,219.9 L629.9,219.2 L629.2,219.1 L628.6,218.7 L627.6,218.9 L626.5,218.3 L625.9,218.9 L626.5,219.5 L626.6,220.4 M631.6,218.4 L632.4,219.3 L632.9,220.4 L632.9,221.1 L634.0,221.7 L634.9,222.4 L635.8,223.2 L636.5,223.2 L637.1,222.3 L637.9,221.7 L638.0,220.8 M629.5,214.7 L630.5,215.4 L631.6,215.7 L631.9,216.4 L631.0,217.0 L631.2,217.7 L632.3,217.6 L632.6,217.0 L631.9,216.4 L630.9,216.3 L630.2,217.2 L629.4,217.6 M639.4,223.5 L638.7,223.9 L637.9,223.8 L637.4,224.6 L637.1,225.2 L637.4,226.4 L636.8,227.1 L635.8,227.3 L635.3,228.1 L636.0,228.9 L636.5,229.4 L636.9,230.0 L637.4,229.6 M634.0,222.8 L634.3,222.2 L634.3,221.4 L635.3,220.7 L636.4,220.5 L637.1,220.1 L638.0,219.5 L637.8,220.2 L637.4,221.4 L637.5,222.2 L637.6,223.5 L636.8,224.2 M628.9,223.9 L628.1,223.5 L627.0,224.1 L626.0,224.1 L626.9,224.6 L627.7,223.9 L628.2,223.1 L629.0,223.0 L629.7,222.0 L629.6,220.8 L630.3,220.6 M633.5,229.8 L633.3,229.1 L632.9,228.0 L631.9,228.4 L631.4,229.0 L630.5,228.9 L629.2,228.8 L629.7,227.9 L628.8,227.0 L628.0,226.4 L628.5,225.6" fill="none" stroke="#2b50aa" stroke-width="0.95" stroke-linejoin="round"/>
<path d="M612.0,214.8 L612.8,213.9 L613.8,213.6 L613.9,213.0 L613.6,211.9 L612.9,211.4 L611.7,211.3 L611.5,210.4 L612.2,210.3 L613.1,211.0 L614.1,210.7 L615.4,210.4 M604.3,211.7 L605.0,211.5 L605.0,210.2 L604.9,208.9 L603.8,208.4 L603.6,207.2 L602.7,207.3 L602.6,208.4 L602.9,209.6 L603.7,210.5 M620.7,208.2 L620.8,207.3 L620.6,206.5 L619.9,207.1 L619.3,207.5 L618.0,207.5 L617.3,208.0 L616.5,207.3 L615.9,207.4 L615.3,206.8 L614.7,206.3 L615.2,206.6 L614.8,207.8 M616.1,210.1 L617.1,209.8 L617.7,209.4 L617.8,208.7 L617.2,208.3 L617.3,207.3 L618.3,206.6 L618.9,206.8 L618.9,207.5 L618.0,208.3 L617.1,208.5 L617.1,209.1 L616.8,209.8 M612.3,208.6 L613.3,209.0 L614.1,209.3 L615.1,209.6 L615.9,210.0 L615.7,211.1 L616.1,211.8 L617.0,211.8 L617.2,210.7 L617.6,209.9 L618.4,209.9 L619.6,210.2 M612.9,212.5 L612.0,211.9 L611.2,211.8 L610.3,211.5 L609.6,211.2 L608.7,210.5 L608.6,209.6 L608.3,208.7 L608.1,207.8 L607.4,207.8 L607.2,206.7 L607.9,207.0 M611.9,213.5 L613.2,213.7 L614.4,214.2 L615.2,213.3 L615.8,213.5 L616.9,213.8 L617.8,213.3 L618.8,214.0 L619.4,214.2 L620.1,214.5 L620.7,214.9 L621.7,215.1 M619.5,216.7 L618.5,216.1 L618.6,215.5 L619.1,214.9 L619.2,214.0 L619.4,213.3 L619.6,212.5 L619.0,212.0 L618.8,211.2 L618.0,210.9 L616.9,211.6 L616.2,211.3 L615.3,211.6 M612.2,210.0 L611.8,209.4 L611.5,208.8 L611.2,208.0 L611.8,207.0 L612.6,207.3 L613.2,207.7 L613.5,208.8 L613.8,209.6 L613.5,210.6 L612.7,210.9 L612.4,211.6 L612.7,212.2 M602.1,211.2 L601.4,210.6 L601.4,209.8 L602.1,209.2 L602.9,209.9 L604.1,209.9 L604.4,210.9 L605.0,211.1 L605.4,212.2 L605.3,213.3 L604.7,213.8 L605.5,213.4 M605.8,206.4 L605.2,206.0 L604.5,205.9 L605.2,206.6 L605.8,207.0 L607.1,207.0 L607.4,208.1 L608.0,208.4 L609.2,208.5 L609.4,209.2 L609.2,210.0 L609.2,210.8 L608.4,211.6 M622.5,211.1 L621.8,211.0 L621.4,210.0 L620.6,209.6 L619.5,209.2 L619.0,208.6 L619.8,207.6 L620.7,207.8 L621.6,208.0 L621.6,208.9 L620.9,209.0 L620.9,210.0 M604.0,208.5 L604.5,207.7 L604.1,207.1 L603.9,206.3 L604.9,206.4 L605.3,206.8 L605.8,207.7 L605.1,208.5 L605.1,209.5 L603.9,210.0 L603.3,209.7 L602.4,209.6 M607.2,214.2 L607.1,213.6 L607.6,213.1 L608.1,212.6 L608.5,211.7 L609.1,211.9 L609.8,211.8 L610.4,212.2 L611.5,212.0 L611.5,210.7 L610.6,209.8 L610.0,210.0 L609.2,210.3 M615.1,209.0 L615.6,209.4 L616.2,208.7 L617.2,208.9 L618.1,208.7 L619.1,209.3 L619.9,208.6 L620.3,207.4 L621.1,206.8 L622.2,206.7 L621.6,206.4 L620.5,206.6 M605.6,208.2 L604.9,208.4 L603.8,207.9 L603.7,206.9 L604.3,207.2 L605.2,206.8 L605.4,205.9 L605.2,206.6 L605.8,206.8 L606.8,206.5 L607.5,207.0 L608.3,206.4 L608.8,206.8 M607.1,212.3 L607.7,211.8 L608.6,212.0 L609.5,212.6 L609.4,213.6 L608.7,213.8 L608.8,214.5 L609.4,214.3 L609.1,213.4 L609.3,212.6 L608.9,211.9 L609.1,210.9 L609.9,210.8 M616.5,208.5 L616.3,207.9 L615.4,207.8 L614.7,208.1 L613.9,208.0 L612.9,207.9 L612.8,209.1 L613.1,209.7 L613.5,210.3 L614.2,210.1 L614.0,209.3 L613.6,208.7 L612.4,208.8 M613.4,212.5 L613.5,213.1 L613.0,214.0 L612.8,214.8 L612.4,215.7 L611.7,215.8 L611.3,214.9 L610.8,214.5 L611.0,213.7 L610.6,212.7 L611.6,211.9 L612.2,212.4 L613.1,212.3 M619.7,213.0 L619.6,212.2 L619.6,211.3 L620.4,211.0 L621.4,210.7 L622.4,211.1 L622.8,211.8 L622.3,212.1 L621.4,212.1 L621.1,212.9 L621.6,213.4 L620.9,214.4 L620.6,215.3 M614.0,209.2 L614.9,209.9 L614.4,210.8 L613.5,211.0 L612.6,210.2 L612.9,209.5 L613.1,208.9 L613.6,208.2 L614.4,207.6 L614.7,206.9 L614.6,205.8 L614.4,206.6 M610.3,214.7 L610.9,215.4 L611.1,214.7 L610.7,213.8 L610.7,212.9 L610.1,212.3 L609.4,212.1 L608.6,212.5 L607.4,212.2 L606.2,212.3 L605.1,212.8 L604.1,212.4" fill="none" stroke="#2b50aa" stroke-width="0.95" stroke-linejoin="round"/>
<path d="M608.7,222.3 L607.8,222.4 L607.0,222.6 L606.4,223.5 L606.3,224.5 L605.3,225.2 L604.7,224.7 L603.6,224.8 L602.9,224.7 L601.9,223.9 L602.0,223.2 L601.7,222.6 M620.1,233.2 L619.2,232.5 L618.7,231.8 L617.8,232.0 L617.5,231.4 L617.5,230.3 L616.9,229.9 L616.6,229.1 L616.0,228.3 L614.9,228.7 L614.0,228.7 L612.9,229.3 M601.6,220.7 L602.6,220.4 L603.3,220.3 L603.8,221.2 L603.4,222.3 L602.6,222.9 L602.2,222.4 L601.9,221.2 L601.6,220.1 L600.7,219.8 L599.9,220.1 L601.1,219.8 M607.7,220.0 L608.4,220.1 L607.5,220.8 L606.6,221.0 L605.7,221.2 L605.0,221.5 L604.0,220.9 L603.2,220.7 L602.4,220.2 L601.2,219.9 L601.2,219.2 L600.2,218.6 M623.0,245.8 L623.9,244.8 L624.8,244.0 L624.9,243.3 L625.9,242.9 L626.5,243.2 L627.5,243.1 L626.8,243.7 L625.5,243.8 L625.4,245.0 L624.9,245.4 M606.4,224.8 L607.1,225.0 L607.7,225.7 L608.8,225.3 L609.4,225.8 L609.3,227.0 L609.1,227.6 L608.2,228.4 L607.1,227.9 L606.0,228.6 L606.2,229.4 L606.4,230.5 M621.5,243.5 L621.1,243.0 L620.9,241.7 L619.8,241.1 L619.3,241.8 L618.2,242.1 L617.4,242.1 L618.0,241.9 L618.2,240.8 L618.2,240.2 L617.9,239.0 L617.7,238.2 M606.0,224.8 L606.9,225.5 L607.7,226.2 L609.0,226.4 L610.0,225.7 L609.6,224.7 L610.2,224.0 L610.1,223.3 L611.4,222.9 L610.2,223.0 M606.2,218.7 L605.9,218.0 L606.2,218.8 L607.3,219.1 L606.4,218.8 L605.9,219.9 L605.1,219.7 L604.3,220.7 L604.4,222.0 L604.7,223.2 L604.1,223.6 M608.7,229.8 L608.1,230.2 L607.9,230.9 L608.8,231.7 L609.8,231.5 L610.1,230.4 L611.3,229.8 L611.0,228.8 L611.4,228.0 L612.1,227.6 L613.3,227.3 M611.1,227.7 L610.6,228.4 L609.5,228.9 L608.8,229.2 L608.5,229.9 L608.9,230.6 L609.9,231.3 L610.1,232.5 L610.3,233.3 L610.2,234.3 L611.2,235.2 M610.4,232.7 L610.6,233.3 L610.1,234.3 L610.3,233.1 L611.2,232.2 L612.1,232.5 L612.2,233.3 L611.1,233.5 L610.4,232.9 L609.9,232.3 L610.1,231.4 L609.5,230.4 M615.9,229.7 L616.0,228.6 L616.2,229.6 L616.8,229.9 L616.3,230.9 L616.3,232.2 L617.4,232.7 L617.6,233.8 L617.5,234.6 L616.7,234.6 L616.0,234.1 M599.9,218.8 L600.4,217.9 L599.8,216.8 L599.8,216.2 L600.6,216.7 L600.6,217.7 L599.7,217.9 L600.5,218.4 L601.1,217.7 L600.9,216.5 L601.1,217.1 L602.1,217.1 M620.6,239.5 L619.5,240.0 L619.2,239.4 L619.2,238.8 L618.5,238.4 L618.7,237.5 L619.2,236.4 L619.3,235.6 L618.6,235.3 L617.7,234.5 L618.2,233.8 L618.9,233.5 L619.5,233.3 M626.0,241.0 L625.0,241.1 L624.3,240.7 L623.3,241.3 L623.1,241.9 L623.2,242.8 L623.8,243.1 L624.1,244.0 L624.6,245.0 L625.5,244.8 L625.7,244.1 L625.7,243.2 L625.1,242.7 M608.6,231.1 L608.0,231.6 L608.7,231.1 L609.7,231.4 L610.5,231.7 L610.4,232.3 L609.6,232.5 L609.3,232.0 L609.3,231.0 L609.6,230.4 L609.6,229.6 L609.8,228.5 L610.6,228.5 L610.8,227.8 M624.6,243.2 L623.9,243.4 L623.2,243.6 L622.6,244.0 L623.0,245.1 L622.5,246.0 L623.5,245.6 L623.4,244.9 L623.7,244.0 L623.5,242.9 L623.1,242.0 L623.9,241.5 M618.3,239.8 L617.1,239.6 L616.5,238.8 L616.5,238.0 L616.7,236.8 L617.7,236.0 L617.3,235.4 L616.1,235.1 L616.0,234.3 L615.2,234.1 L614.7,233.1 M621.2,243.8 L621.3,243.2 L621.3,242.6 L622.4,242.3 L623.4,242.5 L624.4,242.8 L625.0,242.6 L625.9,243.4 L626.8,243.4 L627.9,243.1 L627.4,242.4 L627.0,241.9 L626.2,242.2 M611.7,233.5 L612.1,232.5 L612.3,231.8 L611.6,230.8 L610.6,231.4 L609.8,231.7 L609.0,232.1 L607.9,231.9 L607.8,231.0 L608.0,230.3 L608.4,229.9 L609.6,230.3 M613.7,229.0 L613.1,228.3 L612.8,227.4 L612.3,226.5 L611.3,226.5 L611.1,227.2 L611.8,227.6 L612.6,226.6 L613.2,226.9 L614.2,226.1 L615.1,226.9 L614.6,227.7 M607.7,231.9 L607.4,230.9 L606.6,230.0 L605.7,229.7 L606.3,229.6 L607.4,230.0 L607.9,229.4 L608.6,228.9 L608.2,228.2 L607.0,227.8 L606.7,227.2 L606.1,226.2 M610.3,224.2 L610.8,225.3 L609.7,226.0 L609.2,225.6 L608.6,224.7 L608.0,224.8 L607.2,224.9 L606.6,223.9 L605.7,223.2 L605.0,223.9 L604.9,224.7 L604.6,225.7 M623.2,243.6 L622.9,244.7 L623.7,245.2 L624.7,244.9 L625.9,244.4 L624.8,244.3 L624.4,243.1 L624.2,242.3 L623.2,241.8 L622.0,241.9 L621.8,240.8 M620.2,235.5 L619.6,234.9 L618.7,235.4 L618.9,236.3 L619.6,237.3 L619.7,238.5 L619.5,239.4 L619.9,240.1 L620.6,240.8 L621.1,241.2 L622.3,241.1 L623.0,241.3 M607.6,226.4 L608.1,227.2 L608.8,228.1 L609.1,229.1 L608.3,229.8 L608.8,230.9 L607.8,231.6 L608.1,230.7 L608.9,230.1 L609.9,230.5 L610.3,231.5 M615.6,231.6 L615.6,230.6 L614.9,230.2 L613.8,230.8 L613.9,231.5 L612.9,231.7 L611.7,231.2 L611.1,232.0 L611.0,233.2 L611.6,233.5 L612.2,234.6 M611.5,227.0 L610.5,227.4 L609.8,226.8 L609.0,225.9 L607.9,225.5 L607.2,226.0 L606.3,225.9 L605.4,226.0 L604.9,226.8 L604.9,227.4 L604.7,228.4 L605.2,228.8 M603.4,220.8 L603.2,221.7 L603.8,222.5 L603.5,223.6 L602.6,224.0 L601.7,224.5 L600.7,224.0 L601.8,224.7 L602.2,225.5 L602.8,226.0 L603.1,225.1 M620.4,233.1 L620.4,234.1 L619.8,234.2 L619.4,233.5 L618.4,233.5 L618.3,234.1 L617.2,234.6 L616.9,235.5 L616.7,236.2 L617.1,236.7 L617.2,237.4 L618.1,237.6 L618.9,238.3" fill="none" stroke="#2b50aa" stroke-width="0.95" stroke-linejoin="round"/>
<path d="M595.4,230.9 L594.5,230.7 L594.6,229.9 L593.9,229.5 L593.1,229.6 L592.7,230.1 L592.5,230.9 L592.2,231.5 L592.7,232.0 L593.3,232.7 L593.3,233.9 L593.5,234.5 L593.1,235.5 M592.2,228.1 L591.0,228.1 L590.1,227.1 L589.2,227.1 L589.8,227.4 L590.3,227.9 L590.4,228.5 L590.6,229.4 L591.6,229.5 L592.4,229.6 L592.7,230.8 L592.1,231.2 M590.6,216.4 L590.7,217.5 L590.9,218.3 L590.7,218.9 L591.2,219.9 L591.1,220.5 L591.9,221.0 L592.3,221.5 L592.8,222.0 L593.5,221.7 L593.9,220.9 L593.2,220.1 L593.6,219.1 M592.0,228.0 L592.6,228.8 L593.0,230.0 L593.9,230.3 L594.6,229.4 L595.2,229.1 L595.4,228.1 L596.0,227.7 L596.3,226.8 L596.0,225.7 L596.4,224.5 M595.0,228.6 L594.8,229.5 L594.6,230.1 L594.0,230.3 L592.9,230.9 L591.8,231.4 L591.4,232.3 L591.4,233.1 L592.2,232.1 L591.6,231.2 L591.3,230.4 L590.4,230.6 M591.2,221.7 L590.5,221.5 L589.3,222.1 L588.4,223.1 L588.7,224.1 L588.8,225.2 L588.8,226.4 L588.7,227.0 L588.7,225.9 L589.4,225.5 L589.3,224.7 M594.4,223.4 L595.3,223.7 L596.0,224.1 L596.2,225.2 L596.9,225.7 L596.6,226.4 L596.4,227.2 L595.9,228.2 L596.4,228.8 L597.0,228.5 L597.9,228.2 L598.4,229.0 L598.7,229.5 M590.2,220.4 L589.5,221.0 L589.8,222.0 L590.5,222.1 L591.0,222.5 L591.2,223.4 L592.3,223.5 L592.4,224.6 L591.5,225.4 L591.3,226.3 L590.5,226.8 L589.9,226.2 M587.9,215.7 L588.2,216.7 L588.6,217.3 L589.2,217.4 L589.3,218.0 L590.4,218.1 L590.5,219.1 L591.2,219.1 L591.7,220.1 L592.8,220.7 L593.5,220.6 L593.7,221.2 L594.2,221.8 M595.0,224.4 L594.7,225.0 L593.6,224.7 L592.8,225.2 L592.5,226.2 L592.7,226.9 L592.9,227.5 L591.8,228.0 L591.4,228.9 L591.8,229.5 L592.7,230.2 L593.7,229.4 M590.5,217.2 L590.1,216.4 L589.7,215.2 L589.5,214.4 L590.2,215.1 L590.8,215.0 L591.1,216.0 L590.4,216.9 L590.0,217.6 L588.8,217.2 L588.2,218.0 L589.0,217.3 M592.7,219.2 L593.5,219.1 L594.5,219.8 L595.5,220.1 L594.2,219.9 L594.1,219.2 L594.5,218.4 L594.0,217.3 L593.4,217.3 L592.8,217.7 L592.0,218.4 L591.1,219.3 M593.2,216.8 L592.7,217.7 L593.2,218.5 L594.1,219.4 L594.8,219.2 L594.3,220.4 L593.1,220.2 L592.1,219.6 L591.6,219.0 L590.9,219.2 L590.0,218.6 M588.5,225.1 L588.7,224.2 L589.2,223.9 L590.2,224.2 L590.5,224.9 L591.5,225.5 L591.3,226.3 L591.3,227.1 L592.0,228.2 L592.4,229.0 L591.8,229.8 L590.8,229.4 M592.7,215.3 L591.7,215.3 L591.3,214.5 L590.3,215.2 L589.9,216.3 L589.3,216.8 L588.3,217.5 L589.4,217.8 L590.2,217.1 L591.2,217.3 L591.2,218.1 M592.6,220.6 L593.2,220.8 L594.0,221.7 L594.9,221.5 L594.8,220.6 L594.9,219.5 L594.4,218.6 L594.1,217.8 L593.6,216.8 L594.1,216.0 L593.3,216.2 L592.7,216.3 M591.7,232.4 L591.1,231.4 L590.8,230.2 L589.9,229.6 L590.2,228.8 L591.4,228.3 L592.5,228.1 L592.7,227.5 L593.8,227.1 L594.0,226.0 L593.1,225.2" fill="none" stroke="#2b50aa" stroke-width="0.95" stroke-linejoin="round"/>
<path d="M607.3,245.0 L608.1,244.8 L607.8,243.9 L606.9,243.6 L607.1,243.0 L606.6,241.8 L606.3,241.1 L605.2,240.5 L604.3,240.5 L603.2,240.0 L602.6,239.8 L602.1,239.4 L601.5,239.8 M604.3,240.0 L603.6,239.9 L603.3,240.9 L602.5,241.1 L602.2,241.5 L601.5,242.0 L601.5,243.0 L601.3,243.9 L602.0,244.6 L602.5,245.4 L603.8,245.3 L604.3,246.2 M603.1,242.9 L602.5,241.9 L601.3,242.0 L601.3,243.0 L601.9,244.0 L601.2,244.7 L600.5,244.7 L599.9,244.3 L599.2,244.0 L598.5,244.9 L598.9,245.5 L599.9,245.3 M601.9,238.2 L602.4,238.8 L603.1,239.1 L603.8,238.8 L604.3,238.0 L603.7,238.0 L603.1,238.8 L602.7,240.0 L601.9,239.9 L601.1,240.3 L600.5,240.2 L599.4,240.8 L598.6,241.8 M600.0,246.9 L599.9,247.9 L599.7,246.9 L600.6,246.5 L601.3,247.4 L602.1,247.4 L602.6,247.0 L603.6,247.1 L602.7,247.1 L602.2,247.4 L601.0,247.6 L600.0,248.2 M600.0,239.7 L600.7,239.7 L601.0,240.4 L600.7,241.2 L599.9,240.9 L599.4,241.3 L599.5,241.9 L599.0,242.3 L599.2,243.1 L600.3,243.3 L600.7,242.3 L600.5,241.6 L599.7,241.0 L598.9,241.2 M599.9,243.1 L599.1,242.5 L598.8,241.8 L599.2,241.2 L599.6,240.4 L598.9,239.6 L599.0,240.8 L597.9,240.9 L596.9,240.9 L597.7,241.7 L597.7,242.7 L597.7,243.6 M597.4,242.8 L597.2,243.5 L596.5,243.6 L596.0,242.7 L596.8,241.8 L596.6,241.0 L597.6,240.6 L597.6,239.9 L598.2,240.5 L598.3,241.5 L597.9,242.5 L598.6,243.3 M601.5,241.7 L602.5,241.3 L603.4,241.7 L604.0,241.3 L604.2,240.6 L604.3,240.0 L605.2,239.2 L604.6,240.4 L603.5,240.4 L603.2,239.7 L602.4,239.3 L601.6,239.0 M597.8,246.6 L598.6,246.5 L599.1,247.7 L599.7,247.7 L600.6,248.1 L601.2,247.1 L602.2,247.2 L602.5,246.5 L603.6,246.4 L604.8,246.1 L604.7,245.0 L605.7,244.3" fill="none" stroke="#2b50aa" stroke-width="0.95" stroke-linejoin="round"/>
<path d="M635.2,237.7 L634.4,238.6 L633.8,239.4 L633.9,240.0 L634.3,240.9 L635.5,240.6 L635.9,240.0 L635.0,239.1 L634.8,237.9 L635.0,237.3 L634.8,236.4 L633.5,236.2 M632.9,234.3 L632.1,233.4 L633.0,233.6 L633.5,233.2 L634.2,233.5 L634.4,234.2 L633.3,234.8 L632.2,234.5 L631.3,233.9 L630.5,234.4 L630.4,235.7 L630.6,236.5 M633.6,236.8 L634.2,236.5 L634.1,235.4 L635.1,235.3 L636.0,235.2 L636.7,235.6 L637.3,236.4 L637.5,237.1 L637.5,236.3 L636.6,236.2 L636.5,235.0 L636.7,233.8 M633.9,236.6 L633.3,237.0 L633.5,238.1 L632.9,238.9 L632.3,238.8 L631.7,239.3 L631.2,239.8 L631.7,240.5 L632.6,240.3 L633.3,239.2 L634.0,238.4 L633.5,237.8 L633.8,236.7 M637.3,239.0 L636.1,239.3 L635.4,240.0 L635.3,241.1 L636.4,241.3 L636.4,241.9 L637.4,241.7 L637.9,241.0 L637.3,241.4 L637.6,242.0 L637.9,242.6 L637.4,241.7 L636.6,241.3 M631.6,234.4 L632.4,235.2 L632.7,235.7 L632.7,236.9 L631.9,237.7 L632.4,238.5 L633.5,238.0 L633.7,237.0 L633.2,236.0 L632.6,235.7 L631.8,235.6 L631.6,234.8 M634.0,238.5 L634.1,237.4 L634.1,236.3 L635.0,236.3 L635.8,236.7 L636.3,237.1 L636.2,238.4 L636.6,239.2 L636.0,239.5 L636.1,240.1 L635.3,240.9 L634.7,241.8" fill="none" stroke="#2b50aa" stroke-width="0.95" stroke-linejoin="round"/>
<path d="M591.0,249.2 L592.2,248.8 L592.9,248.0 L593.8,248.4 L593.7,249.5 L594.8,250.0 L595.5,250.4 L596.6,250.1 L597.9,250.0 L598.8,250.9 M596.8,263.3 L595.5,263.3 L594.5,264.0 L593.8,263.2 L592.6,263.6 L591.9,263.4 L592.7,264.0 L593.7,264.3 L593.7,265.1 L594.1,266.1 L594.9,266.7 M596.4,256.8 L596.1,256.2 L596.9,255.8 L597.6,255.3 L598.6,256.0 L599.3,256.5 L600.4,255.8 L600.4,254.9 L600.0,254.1 L599.5,253.6 L598.7,254.3 L597.7,254.0 M591.2,263.2 L592.4,263.3 L592.6,264.2 L592.0,264.8 L592.8,265.6 L593.6,266.3 L594.0,267.1 L593.6,268.1 L593.8,268.9 L594.9,269.2 L595.7,269.3 M593.5,249.1 L594.5,249.8 L595.2,249.5 L595.3,248.6 L594.6,248.1 L594.2,248.5 L593.6,249.5 L594.2,250.0 L594.9,250.5 L595.1,251.6 L595.3,252.3 L596.0,252.7 L596.7,251.9 M598.0,247.6 L597.4,247.4 L596.8,247.2 L596.5,246.7 L595.8,247.2 L595.3,247.5 L594.6,248.6 L594.0,248.6 L593.1,249.0 L592.8,250.2 L591.9,250.4 L590.9,251.1 L590.3,251.5 M592.4,250.1 L593.0,249.2 L594.3,249.2 L594.8,248.4 L595.9,248.6 L596.9,248.4 L597.3,247.8 L596.6,247.2 L595.7,247.3 L595.8,248.5 L595.5,249.5 M600.4,266.4 L600.9,266.0 L600.2,265.5 L599.5,264.6 L598.4,264.1 L598.6,263.0 L599.7,262.8 L600.5,263.0 L601.2,262.7 L601.0,261.5 L600.6,261.0 L600.0,260.8 M594.9,254.3 L595.4,255.1 L596.3,255.8 L597.3,255.8 L597.8,256.9 L598.3,257.4 L597.8,258.2 L598.0,258.8 L598.7,259.2 L599.2,258.9 L600.0,259.8 L600.9,259.6 M600.3,258.6 L601.2,258.5 L601.5,259.5 L602.0,260.4 L601.2,259.7 L600.4,259.6 L600.2,260.2 L600.8,260.9 L600.7,261.6 L600.6,262.7 L600.4,263.2 L599.4,263.1 L598.7,263.4 M598.6,269.1 L598.4,270.0 L598.9,269.2 L599.6,269.1 L600.2,270.1 L599.5,269.4 L599.1,268.7 L598.8,267.9 L599.3,267.2 L600.2,267.6 L601.0,267.2 L601.1,266.1 M592.9,265.2 L593.1,266.3 L593.7,266.7 L594.7,266.8 L595.3,266.5 L596.1,265.7 L595.9,264.5 L595.8,263.8 L594.9,263.6 L594.2,263.5 L593.8,264.4 L594.0,265.2 M595.0,263.3 L594.3,263.5 L593.9,263.1 L593.3,263.3 L592.4,262.8 L592.7,261.8 L592.6,260.9 L592.9,260.2 L593.8,260.1 L593.8,259.3 L594.0,258.6 L595.2,258.4 L596.5,258.3 M598.6,259.4 L597.7,260.3 L597.2,261.0 L597.8,261.8 L597.5,262.6 L597.7,263.6 L597.3,264.2 L597.2,265.2 L598.4,265.5 L599.5,265.1 L600.1,264.7 L599.9,264.1 M592.1,264.8 L592.6,264.1 L593.7,263.7 L594.1,263.2 L594.6,262.6 L594.4,261.8 L593.1,261.7 L592.1,262.5 L591.5,262.4 L591.2,261.3 L590.9,260.1 L590.8,259.5 M590.5,253.8 L591.1,253.9 L591.8,253.6 L592.1,252.9 L592.2,252.2 L592.7,251.5 L593.6,251.7 L594.7,251.7 L595.4,251.4 L595.4,250.6 L594.6,249.8 L593.5,249.5 L592.9,249.7 M592.8,255.8 L592.9,255.1 L592.3,254.6 L592.8,253.5 L592.6,252.9 L592.2,252.0 L591.3,252.0 L590.9,251.5 L590.8,250.5 L591.4,249.8 L592.0,249.0 L592.8,249.3 L593.1,248.7 M591.8,259.8 L591.3,260.3 L590.3,260.8 L590.9,261.0 L592.0,260.7 L592.6,260.3 L593.3,259.4 L593.0,258.8 L592.4,257.7 L591.9,257.2 L591.8,256.6 L591.2,255.7 L591.7,254.6 M593.1,252.7 L593.4,253.4 L593.0,254.6 L593.2,255.3 L592.7,256.4 L591.8,256.7 L590.8,256.2 L590.4,255.3 L591.5,254.8 L591.7,253.9 L591.1,253.4 L591.1,252.5 M596.1,265.3 L597.0,265.4 L598.1,265.5 L598.3,266.6 L598.4,267.7 L598.2,269.0 L597.9,269.9 L598.5,269.4 L599.5,269.9 L599.9,269.1 L599.0,268.5 M599.5,263.9 L598.5,263.7 L597.7,264.0 L597.0,263.5 L596.5,263.1 L595.8,263.4 L595.5,264.3 L596.0,264.7 L596.9,263.9 L597.7,264.7 L598.2,265.2 L598.2,265.9 L599.1,266.2 M601.2,253.8 L600.3,254.5 L599.4,253.7 L598.5,253.8 L597.4,253.8 L596.7,254.5 L596.6,255.2 L596.6,256.3 L596.5,257.2 L597.0,257.9 L597.6,258.3 L598.4,258.3 M592.6,262.7 L592.1,261.6 L592.2,260.9 L592.0,259.9 L592.5,259.1 L591.9,258.4 L591.7,257.2 L591.4,256.5 L590.5,256.7 L589.9,256.4 L589.1,255.8 L589.6,255.5 L590.3,254.5 M600.6,260.5 L599.5,260.7 L598.9,261.2 L598.0,260.7 L597.2,260.5 L596.7,261.4 L595.7,261.6 L594.7,261.2 L593.7,261.3 L593.4,260.2 L592.4,259.9 M597.9,265.2 L599.0,264.4 L599.0,263.5 L597.8,263.2 L597.2,263.9 L596.5,264.3 L596.4,265.3 L597.1,266.0 L597.3,266.8 L597.6,267.7 L597.8,268.9" fill="none" stroke="#2b50aa" stroke-width="0.95" stroke-linejoin="round"/>
<path d="M612.8,260.4 L612.3,261.0 L612.0,261.6 L611.8,262.2 L612.6,262.9 L613.5,263.3 L613.9,264.1 L615.0,263.9 L616.0,264.0 L617.2,264.5 L616.3,264.9 L615.4,264.8 M605.7,261.4 L605.8,260.5 L606.1,259.8 L605.7,259.1 L606.1,258.4 L605.7,257.9 L605.0,258.3 L605.6,257.7 L605.7,256.9 L606.5,256.4 L606.7,255.7 L607.7,255.2 L608.3,255.6 L609.3,256.4 M612.8,270.7 L612.3,271.1 L613.4,271.1 L614.3,270.8 L613.3,270.0 L612.6,269.8 L612.1,270.6 L612.7,270.2 L612.5,269.2 L611.6,268.9 L611.4,268.1 L610.9,267.0 M610.7,258.8 L611.9,259.1 L612.5,259.8 L612.7,260.9 L612.5,261.7 L612.8,262.5 L612.4,263.4 L611.7,264.4 L612.3,265.2 L613.1,265.7 L613.2,266.5 L612.6,266.7 M612.4,262.7 L612.3,263.7 L612.4,264.8 L613.2,264.8 L613.7,265.3 L613.4,266.0 L612.8,266.4 L612.1,267.0 L612.6,268.0 L613.2,269.0 L613.5,269.9 L613.8,270.6 L613.3,271.1 M611.5,267.4 L611.3,266.6 L610.8,265.9 L609.6,265.6 L608.7,265.8 L607.7,266.3 L606.8,266.8 L606.2,266.3 L606.9,266.3 L607.6,266.2 L608.5,266.2 L608.8,266.9 L608.4,267.6 M608.4,259.2 L608.1,259.8 L607.4,260.2 L606.5,260.2 L606.1,261.3 L605.6,261.8 L604.6,261.1 L605.3,261.1 L606.0,261.7 L606.2,262.7 L605.5,263.7 L605.8,263.0 M607.4,260.4 L606.7,261.1 L605.8,260.9 L604.8,261.0 L606.0,261.1 L606.1,262.4 L606.9,262.7 L607.4,263.8 L608.2,263.6 L609.2,264.1 L609.8,264.5 M610.2,253.2 L610.0,254.3 L609.6,255.1 L609.8,255.9 L609.6,256.8 L610.4,257.6 L611.1,258.7 L611.5,259.7 L612.1,260.5 L611.4,261.5 L610.6,262.0 M610.0,259.6 L610.4,258.8 L611.5,259.2 L612.0,260.1 L612.7,260.4 L613.2,260.8 L613.8,261.5 L614.2,262.1 L615.1,261.9 L615.3,260.8 L615.0,259.9 L615.4,258.9 M611.9,255.9 L611.2,255.5 L610.3,255.7 L609.2,255.8 L608.1,256.5 L608.7,257.5 L609.1,258.7 L610.1,258.9 L610.1,260.0 L611.3,260.5 L611.1,261.2 M614.6,271.0 L614.1,270.4 L613.5,269.2 L613.4,268.0 L612.5,267.4 L612.3,266.7 L612.8,266.2 L612.7,265.5 L612.9,264.9 L613.5,265.0 L614.0,266.0 L614.2,267.0 L613.6,267.8 M609.5,263.6 L609.2,262.7 L609.7,262.2 L609.9,261.2 L610.6,260.2 L610.3,259.1 L610.7,258.5 L610.2,257.6 L611.1,257.0 L611.7,256.3 L612.7,256.4 L613.7,256.6 M612.9,268.3 L614.0,267.8 L614.1,266.8 L613.8,266.2 L613.3,265.0 L613.6,264.3 L613.3,263.5 L614.0,262.9 L613.8,261.9 L613.3,261.6 L612.4,260.6 L612.6,259.5 M606.6,263.1 L606.7,262.2 L605.5,261.8 L606.5,261.3 L606.9,260.7 L607.2,259.8 L608.0,259.6 L608.9,259.7 L609.3,260.2 L608.8,261.4 L609.8,262.0 L610.0,263.1 M615.3,264.4 L615.8,265.3 L615.3,265.8 L615.1,266.8 L614.7,268.0 L614.0,268.8 L612.9,269.4 L612.2,270.2 L611.4,270.7 L610.8,270.1 L610.1,270.1 L609.3,270.1 M613.8,268.8 L614.7,269.3 L615.9,269.0 L615.7,269.6 L615.0,270.5 L615.0,271.7 L613.9,271.5 L613.3,270.5 L612.4,270.1 L611.5,269.3 L610.8,269.8 M608.9,267.7 L609.5,267.3 L609.3,266.4 L610.0,265.9 L609.7,264.9 L609.0,264.1 L609.0,263.2 L609.7,262.4 L610.8,262.6 L611.0,263.7 L611.7,264.3 L611.8,265.5 M614.7,268.7 L615.3,267.8 L614.7,267.2 L614.5,265.9 L615.3,265.4 L615.4,264.2 L615.9,263.6 L615.0,262.7 L614.7,262.1 L615.5,261.5 L616.6,261.7 M608.1,262.3 L608.2,263.2 L607.8,263.7 L607.9,264.6 L608.8,264.5 L609.1,265.7 L610.2,266.1 L610.9,265.7 L611.7,265.7 L612.1,265.1 L611.8,264.4 L612.3,264.0 L612.9,263.6" fill="none" stroke="#2b50aa" stroke-width="0.95" stroke-linejoin="round"/>
<path d="M607.6,249.9 L607.0,250.2 L606.3,250.2 L605.8,249.7 L605.6,248.6 L606.2,247.9 L607.4,248.1 L608.0,247.3 L609.0,247.7 L609.0,247.0 L609.9,246.2 L609.7,245.4 M603.8,248.1 L602.7,247.7 L602.7,247.1 L603.3,246.1 L604.6,246.0 L605.0,246.7 L604.8,247.9 L605.6,248.4 L606.2,248.1 L607.1,247.5 L607.6,248.0 L608.4,249.0 M608.1,248.1 L607.8,248.8 L607.1,249.6 L607.3,248.7 L608.0,248.3 L608.2,247.4 L608.2,246.2 L607.6,245.5 L606.8,245.9 L606.4,246.7 L605.8,246.9 L605.4,245.9 M608.5,248.1 L607.7,247.9 L607.0,248.4 L606.8,249.2 L605.6,249.2 L605.0,249.0 L604.1,249.3 L603.2,249.1 L602.3,248.3 L602.9,248.9 L603.0,249.7 L603.9,249.7 M608.9,248.1 L608.9,247.2 L608.4,246.8 L608.5,246.1 L609.5,245.9 L610.0,246.2 L609.4,245.9 L608.6,246.4 L609.0,247.5 L609.3,248.6 L608.4,248.2 L607.1,248.1" fill="none" stroke="#2b50aa" stroke-width="0.95" stroke-linejoin="round"/>
<path d="M619.1,253.6 L618.8,252.5 L618.8,251.8 L619.6,251.8 L620.3,251.2 L621.0,251.0 L622.1,251.2 L623.3,251.4 L624.2,252.0 L625.0,251.7 L625.6,251.4 L626.2,252.3 M619.6,246.8 L620.0,247.3 L620.5,248.1 L621.7,248.1 L621.8,247.4 L622.5,247.0 L623.2,246.4 L623.8,245.7 L624.5,246.6 L625.1,246.8 L626.3,246.8 L625.6,246.6 L624.9,246.0 M614.7,246.2 L615.2,247.3 L615.9,247.6 L616.7,248.3 L617.3,248.9 L618.2,249.1 L619.3,249.2 L620.1,249.2 L620.3,249.8 L619.8,250.6 L618.7,250.7 L617.7,250.5 M617.0,245.1 L616.8,246.1 L617.7,246.5 L618.7,245.7 L618.3,246.3 L618.0,247.5 L617.4,248.0 L617.0,248.7 L617.7,249.4 L617.8,250.2 L617.8,251.4 L617.7,250.1 M618.4,246.5 L617.9,245.5 L617.9,246.3 L617.2,246.8 L616.9,247.9 L617.2,248.8 L617.4,249.3 L618.3,250.0 L617.9,250.7 L617.7,251.3 L618.0,250.6 L617.8,249.3 M624.7,248.3 L625.1,247.8 L624.7,246.9 L624.4,246.3 L625.1,245.5 L626.3,245.3 L626.0,246.4 L627.0,246.9 L625.7,247.0 L625.6,247.6 L624.6,247.6 L624.1,248.4 M622.5,247.5 L623.4,247.5 L624.0,247.2 L624.4,247.9 L623.7,248.6 L623.2,249.1 L622.7,249.5 L621.9,250.2 L621.3,249.9 L620.3,250.5 L620.3,251.2 L620.4,252.1 L619.7,252.2 L619.2,251.5 M615.7,247.2 L615.8,246.3 L614.8,246.1 L614.1,245.3 L614.5,245.9 L614.8,246.6 L615.3,246.2 L615.8,245.0 L615.1,245.1 L614.3,245.1 L615.0,245.0 L615.9,245.5 L616.3,246.0 M622.8,250.8 L623.6,251.8 L624.1,252.6 L623.5,251.5 L622.9,250.4 L622.1,250.2 L620.8,250.0 L619.7,250.3 L619.4,251.4 L619.2,252.7" fill="none" stroke="#2b50aa" stroke-width="0.95" stroke-linejoin="round"/>
<path d="M617.5,278.7 L617.5,279.3 L616.7,280.1 L617.2,281.0 L617.7,281.9 L616.8,282.8 L616.1,283.8 L614.8,283.9 L614.8,285.2 L615.3,285.7 L615.9,286.7 M623.1,282.3 L622.1,281.5 L621.1,281.4 L620.9,282.0 L621.7,282.6 L622.6,283.4 L622.4,284.2 L621.7,284.4 L621.1,283.9 L621.6,283.1 L622.0,282.2 L621.5,281.9 L620.7,281.1 M598.7,283.2 L599.1,282.3 L598.2,281.5 L598.7,280.5 L599.2,280.1 L598.8,279.4 L599.1,280.2 L598.2,280.9 L598.9,281.5 L599.6,282.0 L600.0,281.6 L600.8,281.0 L601.5,281.8 M619.4,284.7 L619.4,284.1 L618.5,284.1 L617.7,284.6 L618.0,285.3 L619.0,285.3 L619.1,284.7 L619.7,284.0 L618.9,283.1 L618.1,282.1 L617.8,281.2 L617.4,280.6 L618.1,280.0 M605.7,277.4 L606.1,276.6 L607.2,276.5 L608.2,276.3 L609.3,277.0 L609.8,276.5 L609.8,275.9 L609.2,275.1 L608.3,275.1 L608.1,276.3 L607.6,276.8 L607.7,277.9 M601.3,290.4 L602.2,291.0 L603.1,291.8 L602.5,293.0 L603.2,293.6 L604.2,293.1 L604.4,292.4 L603.8,292.1 L603.1,292.3 L602.0,292.4 L601.2,292.0 L600.1,292.3 M604.9,288.5 L605.8,288.6 L606.0,287.8 L606.7,287.9 L606.9,286.9 L606.6,285.9 L606.0,285.6 L604.9,285.8 L604.3,285.7 L603.7,284.7 L603.2,284.2 L602.2,285.0 L602.3,285.6 M624.3,291.0 L623.2,290.8 L622.4,290.1 L622.2,289.4 L621.6,288.3 L621.5,287.6 L621.0,286.4 L620.4,286.1 L620.3,285.1 L619.8,284.3 L618.7,283.9 L617.8,284.2 M622.2,288.7 L622.6,289.6 L623.7,289.3 L623.1,290.2 L622.7,291.0 L623.0,291.6 L623.7,291.5 L623.1,291.7 L622.6,292.6 L622.7,293.5 L623.9,293.8 L624.2,292.9 M604.9,289.3 L606.1,289.4 L606.9,289.6 L607.4,290.0 L606.9,290.8 L607.6,291.3 L608.1,292.4 L607.5,293.0 L606.7,292.6 L605.7,292.0 L605.3,291.0 L604.5,291.2 M617.4,283.4 L617.7,284.2 L617.4,285.0 L617.4,286.0 L617.4,287.2 L617.1,288.0 L616.6,289.1 L616.1,289.3 L614.9,289.7 L614.3,290.0 L614.2,291.0 L613.3,291.6 M608.0,275.4 L607.5,276.1 L607.2,276.8 L607.1,277.5 L606.7,278.1 L607.2,279.2 L608.0,279.0 L608.7,278.8 L609.6,278.0 L610.4,278.0 L611.2,277.8 L611.8,278.4 L611.8,279.6 M605.2,288.1 L605.8,287.1 L605.6,286.1 L605.2,285.5 L605.6,285.0 L606.1,283.8 L605.7,282.8 L606.2,282.2 L606.1,281.2 L605.1,281.0 L604.8,279.8 M621.8,284.9 L622.9,285.1 L623.8,284.5 L623.7,285.7 L623.4,286.2 L623.6,286.8 L623.8,287.9 L624.2,288.5 L623.7,288.9 L622.5,289.3 L621.9,289.3 L621.1,289.3 L620.3,289.2 M607.2,284.0 L608.0,283.9 L608.4,283.3 L609.7,283.4 L610.6,283.8 L611.1,283.4 L611.3,282.8 L612.3,282.2 L613.0,282.6 L613.6,282.9 L614.8,283.2 L615.6,282.6 L616.3,282.3 M605.4,276.5 L606.5,276.5 L606.7,277.1 L607.5,277.2 L608.1,276.3 L608.8,275.8 L609.2,276.2 L609.9,276.2 L610.1,275.4 L609.5,275.9 L608.8,276.5 L608.8,277.6 L607.9,278.1 M600.5,286.6 L601.2,287.0 L602.4,286.7 L603.2,285.7 L604.1,286.2 L604.9,285.6 L605.5,285.3 L605.2,284.4 L605.0,283.8 L605.4,282.9 L605.1,281.8 L605.1,280.9 M614.8,277.0 L615.4,277.7 L616.2,278.1 L616.7,278.7 L616.9,279.3 L616.2,279.7 L615.2,280.0 L615.1,280.7 L613.8,280.9 L613.1,279.9 L613.5,279.2 L613.3,278.6 L612.8,278.1 M607.9,290.3 L607.5,291.4 L607.9,292.6 L608.5,292.5 L609.3,291.9 L610.2,292.4 L610.2,293.1 L610.8,293.8 L611.4,293.8 L611.6,293.1 L611.1,292.5 L610.2,292.9 L609.3,292.4 M604.9,285.1 L604.9,284.0 L604.6,283.3 L603.9,282.4 L604.0,281.7 L604.8,280.9 L605.4,280.6 L606.1,281.2 L606.9,281.8 L607.5,281.8 L607.8,282.8 L608.4,282.8 L608.9,283.3 M623.7,284.1 L624.0,282.9 L624.1,281.7 L624.1,280.8 L624.0,280.0 L623.2,279.2 L623.5,278.6 L622.8,279.4 L621.8,279.6 L621.8,280.8 L622.3,281.3 L621.8,282.4 M608.5,284.9 L607.6,285.0 L607.1,283.9 L606.1,283.5 L605.2,283.0 L604.7,283.4 L604.7,284.3 L604.5,285.5 L604.1,286.1 L603.6,287.3 L604.1,287.8 L605.1,288.5 M605.4,292.6 L604.7,292.9 L603.8,292.5 L603.0,292.9 L602.2,293.0 L601.9,292.1 L601.1,292.0 L600.8,292.8 L600.6,293.7 L600.4,292.8 L601.1,292.6 L602.0,292.5 L602.2,293.2 M623.9,281.8 L624.0,280.6 L623.4,281.1 L622.9,282.2 L623.5,282.9 L623.7,282.1 L624.2,281.4 L623.1,281.7 L622.8,282.5 L621.7,282.7 L621.2,281.6 M609.8,287.9 L608.8,287.7 L608.6,286.9 L608.7,286.1 L608.5,285.5 L607.4,285.1 L606.5,284.3 L605.3,284.5 L604.2,284.3 L603.2,284.9 L602.6,286.0 M602.5,293.3 L602.5,293.9 L601.7,294.2 L601.1,293.5 L600.9,292.9 L599.9,293.1 L599.0,293.1 L599.6,293.5 L600.6,293.0 L601.4,292.3 L601.8,291.6 L601.4,290.6 L600.7,290.7 M624.2,293.2 L623.2,292.4 L622.3,291.7 L621.1,291.3 L620.2,292.1 L620.9,293.1 L621.0,294.2 L622.1,294.7 L621.1,294.0 L620.6,293.6 M614.3,286.2 L613.2,285.7 L612.5,286.0 L611.5,286.6 L611.0,286.9 L609.7,286.6 L609.5,285.4 L608.8,285.4 L607.9,286.1 L608.1,286.9 L608.7,287.3 L608.8,288.5 M601.8,277.2 L601.4,278.0 L600.7,279.0 L600.7,280.1 L600.0,280.3 L599.2,281.1 L598.8,281.7 L599.3,282.7 L600.3,283.1 L601.3,283.6 L602.2,282.9 M603.6,293.3 L603.3,294.3 L602.6,293.3 L602.3,292.6 L602.1,292.0 L602.4,291.0 L603.0,290.7 L603.1,289.8 L603.7,289.7 L604.6,289.9 L605.0,290.7 L604.2,291.3 L604.5,292.1 M610.9,284.7 L610.5,285.7 L611.1,286.4 L612.0,286.3 L612.1,285.6 L613.1,285.5 L614.1,286.2 L615.2,286.4 L615.1,287.3 L614.2,287.4 L613.9,286.7 L614.4,286.0 M610.2,286.1 L610.4,285.2 L609.9,284.2 L610.4,283.3 L610.2,282.1 L610.3,281.3 L611.3,281.2 L611.2,280.5 L610.5,279.6 L609.6,278.9 L609.0,278.5 L609.5,277.5 M619.9,283.9 L620.5,284.3 L621.0,284.8 L622.3,285.0 L622.9,284.7 L623.4,285.0 L624.3,284.5 L623.2,284.2 L622.3,285.0 L622.5,285.8 L623.1,286.6 L622.5,287.3 L621.4,287.3 M614.8,285.3 L614.9,284.3 L615.7,283.8 L615.8,283.1 L616.0,282.0 L615.4,281.7 L614.8,282.3 L613.5,282.3 L613.3,281.5 L613.1,280.9 L613.7,280.2 L614.9,279.8 M614.8,279.1 L615.6,279.5 L615.4,280.5 L614.4,280.6 L614.0,281.3 L614.5,281.9 L615.0,282.4 L614.9,283.0 L614.7,283.7 L614.3,284.2 L614.2,285.4 L615.0,286.3 L615.7,286.8 M603.7,282.3 L603.3,281.5 L602.0,281.6 L601.9,282.4 L601.3,283.4 L600.3,283.3 L599.3,283.3 L599.0,284.1 L598.5,285.3 L597.7,285.4 L598.3,285.7 L598.1,286.7 M608.2,281.8 L607.7,281.5 L606.8,281.2 L606.3,280.5 L605.3,280.3 L605.4,279.3 L606.1,279.2 L606.3,278.5 L607.3,278.5 L607.7,279.2 L608.7,278.9 L609.5,279.1 L610.0,278.0 M621.4,291.5 L620.9,292.2 L620.0,292.9 L619.9,293.8 L618.7,293.8 L617.8,293.4 L617.1,292.5 L616.5,292.6 L615.3,292.3 L615.0,291.1 L614.4,290.5 M605.2,283.0 L604.9,283.6 L604.0,284.0 L603.1,284.1 L602.8,284.6 L602.2,285.0 L601.3,284.8 L600.2,284.3 L599.7,283.8 L598.7,284.5 L598.9,285.2 L600.1,285.2 L601.1,285.0 M618.2,280.3 L617.2,280.2 L616.9,281.4 L617.1,282.1 L616.0,282.6 L615.6,282.2 L615.0,282.0 L614.8,281.0 L614.9,280.4 L613.8,279.8 L613.0,280.2 L612.6,281.0 M598.6,288.6 L599.1,287.9 L599.9,288.1 L600.5,287.4 L601.3,287.9 L601.9,288.6 L602.6,288.5 L602.9,287.8 L603.8,287.8 L604.3,287.4 L604.1,286.2 L605.0,285.6 L605.6,286.0 M609.1,279.4 L609.4,278.3 L608.3,277.7 L607.4,278.4 L606.7,278.7 L605.9,278.9 L605.0,278.9 L604.2,279.3 L603.9,279.9 L604.0,280.9 L604.0,281.6 L604.6,281.9 L605.5,281.3 M614.8,279.0 L614.2,280.1 L613.5,280.1 L612.7,279.5 L611.9,278.9 L612.1,278.3 L612.3,277.1 L612.5,276.5 L612.9,275.9 L613.1,275.2 L612.2,275.2 L612.0,275.8 L611.6,276.4 M603.7,292.2 L603.5,292.9 L602.9,293.9 L602.1,293.5 L603.1,293.8 L604.0,294.1 L604.9,294.0 L605.7,293.6 L606.7,293.8 L607.5,293.2 L608.2,293.4 L608.9,294.1 M619.4,279.2 L619.0,280.2 L618.6,280.8 L618.2,281.6 L617.7,282.5 L618.1,283.1 L617.6,283.8 L617.3,284.4 L616.8,285.1 L616.3,286.1 L616.7,287.2 L616.2,288.2 M610.3,276.6 L611.3,276.4 L611.7,277.7 L612.4,277.8 L613.1,278.5 L613.8,278.7 L614.8,279.4 L615.9,279.0 L617.0,279.5 L617.8,279.4 L618.4,279.1 L619.3,278.7 M611.8,285.0 L612.8,285.5 L612.8,286.7 L613.8,286.8 L614.2,287.6 L614.9,287.4 L615.4,286.8 L616.3,286.0 L616.4,285.3 L616.6,284.3 L616.0,283.3 L615.1,283.0 M602.8,294.3 L602.6,293.5 L602.9,292.9 L603.7,293.3 L604.8,293.4 L605.1,294.0 L604.2,293.8 L603.0,294.2 L603.3,293.6 L603.6,292.5 L603.4,291.8 L603.5,291.1 L603.1,290.6" fill="none" stroke="#2b50aa" stroke-width="0.95" stroke-linejoin="round"/>
<path d="M640.3,208.3 L640.0,207.1 L639.9,206.5 L639.6,205.9 L640.7,205.2 L641.0,204.4 L641.7,204.2 L641.9,203.5 L641.8,202.5 L642.5,202.2 L643.0,203.1 L642.3,204.0 L642.7,205.0 M636.2,191.3 L636.9,191.5 L638.0,191.6 L638.2,192.2 L638.3,193.5 L638.1,194.6 L637.3,195.0 L636.9,196.0 L636.5,196.7 L635.6,196.7 L634.5,196.8 L633.7,195.9 M637.9,193.3 L639.0,193.6 L639.4,194.4 L639.9,195.3 L641.0,195.3 L641.4,195.9 L641.1,196.9 L641.6,197.4 L642.0,198.0 L642.9,198.4 L643.6,199.3 L644.0,200.0 M639.3,191.8 L638.6,191.3 L638.3,190.3 L638.4,189.4 L638.8,188.4 L638.0,187.5 L638.4,188.2 L639.1,188.1 L639.7,188.3 L639.5,189.2 L639.3,190.0 L639.3,190.8 L639.1,191.5 M627.7,191.8 L626.9,191.1 L627.4,190.4 L627.3,189.3 L626.2,188.6 L626.9,188.3 L627.8,189.2 L628.2,189.9 L628.8,189.6 L629.3,188.7 L630.2,187.9 M641.4,196.6 L640.7,195.7 L639.4,195.7 L639.3,196.7 L639.7,197.8 L640.9,198.1 L641.2,197.0 L641.9,196.4 L641.8,195.5 L641.6,194.8 L640.4,194.4 M635.9,193.9 L635.6,193.2 L635.5,192.2 L634.7,192.0 L634.5,191.0 L633.7,190.6 L632.7,190.1 L632.7,189.5 L631.8,189.4 L631.6,190.0 L632.1,190.4 L632.5,191.0 L632.9,192.2 M636.6,190.5 L637.4,190.9 L637.4,191.5 L636.4,192.2 L636.6,193.4 L635.8,194.4 L635.7,195.5 L635.1,196.0 L635.4,196.6 L635.9,197.4 L636.9,197.4 L637.1,196.4 M635.1,191.6 L635.1,192.8 L635.0,193.4 L634.7,194.7 L633.7,195.2 L634.0,196.1 L635.2,196.7 L635.6,196.1 L636.3,196.2 L637.0,195.8 L637.8,196.5 L637.5,197.2 M640.3,205.4 L640.9,205.5 L641.6,205.3 L642.2,204.4 L642.6,203.3 L641.5,202.8 L640.5,203.3 L640.0,203.0 L638.9,202.2 L638.3,202.9 L637.9,203.7 L638.2,204.3 M630.1,192.1 L628.8,192.2 L628.4,192.7 L627.6,192.0 L627.6,191.0 L627.2,189.9 L626.9,189.1 L626.9,188.1 L628.0,188.0 L629.1,187.4 L629.4,186.4 M639.7,196.2 L640.1,195.5 L640.4,194.9 L640.1,194.3 L639.1,194.3 L638.4,193.4 L637.2,193.3 L636.2,193.7 L635.2,193.8 L634.1,193.2 L633.6,192.4 L634.2,191.5 M632.9,186.2 L633.3,187.1 L633.0,188.1 L634.0,188.8 L634.6,189.9 L635.1,190.6 L634.9,191.5 L634.3,191.7 L633.1,191.3 L632.5,191.7 L631.7,192.4 L630.8,192.6 M641.7,211.1 L642.2,210.3 L642.8,210.5 L643.7,210.6 L642.8,210.7 L641.8,210.4 L641.7,209.5 L640.8,209.0 L640.2,208.9 L639.5,209.0 L638.3,208.6 L639.5,208.5 M640.2,192.9 L639.9,193.6 L639.4,194.4 L639.3,195.4 L638.8,196.0 L637.9,196.7 L638.5,197.7 L639.3,197.3 L639.8,196.9 L639.3,196.0 L638.5,195.5 L637.6,196.1 M643.7,209.8 L643.0,209.4 L642.1,209.5 L641.9,208.7 L641.1,208.0 L640.6,207.0 L640.8,206.0 L640.7,205.0 L641.6,204.8 L642.3,205.3 L642.9,204.6 L643.5,203.9 M629.0,190.2 L629.5,191.0 L629.2,192.2 L628.2,192.7 L627.2,191.9 L627.3,190.7 L626.9,189.5 L627.7,188.7 L628.8,189.0 L629.6,189.5 M643.6,194.4 L643.9,195.2 L644.4,196.0 L643.8,196.7 L644.1,197.5 L643.5,197.0 L643.9,196.3 L644.7,196.5 L644.0,196.0 L643.9,195.0 L644.3,195.7 L644.2,196.8 L643.1,196.8 M628.8,186.9 L628.7,186.0 L628.7,186.9 L628.3,187.7 L627.6,188.5 L627.2,188.8 L625.9,188.6 L626.6,187.8 L626.2,187.3 L625.6,186.5 L626.3,186.9 L626.7,187.4 L626.7,188.1 M639.8,201.4 L639.6,202.5 L639.4,203.6 L639.8,204.2 L640.6,203.9 L641.3,203.7 L641.6,202.9 L640.6,202.4 L639.5,203.0 L638.8,203.3 L638.8,204.3 L639.6,204.5 M639.1,204.2 L639.0,203.0 L637.8,202.7 L638.0,201.7 L637.7,201.1 L637.3,200.7 L636.9,199.7 L637.4,198.6 L637.2,197.5 L637.7,196.6 L636.9,195.8 M635.9,200.3 L635.6,199.7 L635.6,198.6 L635.6,197.7 L636.6,196.9 L637.6,196.7 L638.3,196.5 L638.8,196.9 L639.8,196.6 L640.7,195.8 L641.0,194.9 L640.2,194.0 M639.6,199.8 L639.3,200.3 L638.6,200.4 L637.7,200.6 L636.8,201.1 L635.7,201.0 L635.0,200.0 L634.4,198.8 L635.2,199.1 L636.0,198.4 L636.8,198.9 L637.9,199.6 M636.3,194.1 L635.6,193.3 L634.9,193.4 L634.5,192.3 L633.8,192.2 L633.3,191.2 L632.6,190.2 L633.0,189.1 L634.2,189.1 L634.3,188.1 L633.2,187.5 M641.4,205.0 L640.6,204.8 L639.7,204.0 L639.0,204.5 L638.3,204.3 L637.1,204.5 L638.0,204.3 L639.2,204.0 L639.7,203.3 L640.6,203.5 L641.6,204.2 L642.2,203.8 M627.6,190.8 L628.7,190.3 L629.5,191.1 L630.2,191.9 L629.7,192.5 L629.1,192.7 L628.3,193.2 L628.9,192.9 L629.6,192.0 L629.6,191.2 L629.7,190.5 L630.5,190.3" fill="none" stroke="#2b50aa" stroke-width="0.95" stroke-linejoin="round"/>
<path d="M639.1,189.6 L639.1,189.0 L639.0,188.3 L638.2,188.4 L637.4,188.5 L636.9,187.9 L636.8,187.1 L636.0,186.8 L635.3,186.1 L636.0,186.2 L634.9,186.5 L634.7,187.2 L633.9,188.1 M640.8,189.7 L639.8,190.3 L638.8,190.6 L637.7,189.9 L636.6,189.3 L635.4,189.5 L635.1,190.6 L634.1,190.8 L633.1,191.4 L632.1,191.0 M637.8,196.9 L638.5,196.2 L639.4,196.9 L640.6,196.7 L640.9,196.1 L641.4,195.4 L640.6,194.4 L639.8,194.2 L639.5,194.8 L638.3,194.5 L637.7,194.2 L637.1,194.5 M633.9,185.9 L633.9,186.8 L633.9,187.5 L633.4,187.9 L632.6,188.7 L632.9,189.3 L631.9,189.8 L631.8,190.9 L632.8,191.5 L633.3,190.9 L633.1,189.9 L633.8,189.5 L634.6,189.7 M631.7,190.1 L631.3,189.6 L632.0,188.8 L632.6,187.8 L633.2,187.6 L633.2,186.7 L633.0,185.6 L632.3,185.4 L631.0,185.4 L630.9,186.7 L630.6,187.5 L631.3,188.1 M633.5,186.7 L632.5,186.0 L632.3,185.1 L631.2,185.3 L630.8,186.1 L630.7,187.2 L630.4,187.9 L629.5,188.1 L628.8,187.6 L628.0,187.5 L627.2,188.3 L626.4,188.7 M638.8,211.6 L639.6,211.2 L640.7,210.9 L642.0,211.2 L642.8,211.3 L643.5,210.4 L642.6,209.6 L642.6,208.6 L641.9,207.9 L641.0,207.6 L641.2,206.6 M641.1,204.9 L640.3,204.2 L639.4,204.0 L638.6,203.1 L638.0,203.4 L637.2,203.5 L637.7,202.9 L638.5,203.4 L638.9,202.8 L638.4,201.7 L638.5,200.6 L639.0,199.7 M635.7,187.8 L636.1,188.4 L636.9,189.4 L637.2,190.4 L637.2,191.2 L637.9,191.6 L638.6,191.3 L639.5,190.9 L640.4,191.3 L641.0,190.6 L641.2,189.9 L640.7,189.4 L640.2,188.9" fill="none" stroke="#e0242a" stroke-width="0.85" stroke-linejoin="round"/>
<path d="M647.7,223.3 L648.1,224.1 L648.2,224.9 L648.8,225.4 L649.0,226.1 L648.4,226.4 L648.2,227.0 L647.5,227.5 L646.9,228.0 L646.0,228.2 L645.6,229.0 L645.7,229.7 L644.9,230.4 L643.7,230.6 M646.0,225.9 L645.2,226.7 L645.8,227.4 L646.3,228.1 L647.3,227.6 L646.9,226.7 L646.3,226.6 L645.9,227.0 L646.1,228.1 L645.8,228.8 L645.0,229.4 L644.1,230.2 M645.3,232.8 L645.4,232.2 L644.8,231.9 L643.6,231.8 L643.1,230.7 L643.9,231.6 L643.8,232.3 L643.7,231.1 L643.3,229.9 L643.5,230.7 L644.5,230.8 L645.1,231.3 M649.8,221.9 L650.1,221.2 L649.8,221.9 L650.0,221.4 L649.4,222.1 L648.6,222.1 L647.8,222.8 L646.9,223.2 L646.2,224.3 L646.3,225.3 L645.5,225.7 L645.6,226.4 L646.3,226.5 M643.6,225.4 L644.5,224.9 L645.2,224.1 L645.8,223.7 L646.5,223.2 L647.6,223.2 L648.2,222.5 L648.7,221.9 L648.2,221.4 L647.7,222.3 L647.9,223.4 L646.8,223.8 M646.2,226.9 L645.8,227.5 L644.7,227.9 L644.8,229.0 L645.5,229.8 L645.8,231.0 L645.2,231.7 L644.5,231.8 L643.7,231.4 L643.0,231.6 L643.7,231.5 L644.5,232.1 M648.4,233.2 L648.3,232.1 L649.2,231.7 L649.5,230.8 L650.4,230.8 L650.4,229.9 L649.8,229.6 L649.2,230.4 L647.9,230.7 L646.6,230.6 L645.9,230.8 L645.9,231.6 M647.2,234.4 L646.5,233.7 L647.0,233.1 L646.5,232.5 L646.9,231.7 L646.6,231.0 L645.7,230.9 L645.5,229.7 L646.2,228.8 L645.9,227.7 L645.0,227.3 L644.3,228.3 M643.6,228.9 L643.5,227.8 L644.4,228.6 L645.3,227.9 L645.0,226.9 L644.2,226.0 L644.0,225.4 L643.3,225.5 L644.5,225.4 L645.1,225.9 L644.7,226.9 L644.0,227.3" fill="none" stroke="#2b50aa" stroke-width="0.95" stroke-linejoin="round"/>
<path d="M649.2,230.3 L648.4,229.8 L648.5,228.8 L647.7,228.2 L646.8,227.8 L645.8,228.1 L645.6,228.9 L646.0,229.6 L647.1,229.7 L647.6,230.1 L648.0,230.6 L648.3,231.5 L648.4,232.6 M649.4,230.2 L650.2,230.8 L650.5,230.1 L650.5,229.0 L650.3,227.7 L649.4,227.8 L648.6,226.8 L648.2,226.1 L647.9,225.4 L648.1,224.6 L647.5,223.8 L647.6,222.8 M647.8,228.6 L647.6,229.4 L646.6,229.6 L645.6,228.9 L644.8,229.6 L644.4,230.0 L644.4,231.0 L644.6,232.2 L645.3,233.1 L645.7,232.5 L646.3,232.5 L647.4,231.8" fill="none" stroke="#e0242a" stroke-width="0.85" stroke-linejoin="round"/>
<path d="M631.6,284.9 L631.5,286.0 L631.7,287.0 L631.7,287.6 L631.6,288.6 L631.5,289.8 L631.5,289.1 L632.4,288.5 L633.2,288.2 L634.0,288.0 L634.7,287.9 L635.7,288.1 M637.4,277.2 L638.5,277.3 L639.6,277.4 L639.3,276.7 L638.3,276.5 L637.6,275.9 L636.9,275.3 L636.6,274.1 L635.9,275.1 L635.4,276.0 L634.3,276.0 M634.3,287.6 L634.6,286.6 L635.1,285.4 L635.5,284.7 L636.8,284.9 L637.2,284.5 L638.4,284.9 L639.2,284.9 L640.2,285.5 L639.5,285.4 L638.8,285.5 L638.1,285.6 M630.9,280.2 L631.6,280.0 L632.3,279.7 L633.2,279.9 L633.8,279.5 L634.3,278.5 L633.9,277.7 L634.4,276.6 L634.8,275.5 L635.3,274.9 L635.0,274.3 L635.4,273.5 L635.0,274.5 M637.7,291.4 L636.7,292.0 L637.7,291.3 L637.5,290.6 L638.1,290.3 L637.2,291.1 L636.6,290.6 L635.4,291.1 L634.8,291.6 L634.8,292.2 L635.2,291.0 L635.6,289.7 M630.3,282.6 L631.6,282.6 L632.1,283.6 L631.3,284.2 L631.7,285.2 L632.8,285.2 L633.4,285.6 L634.0,285.2 L634.0,283.9 L633.2,283.1 L632.4,283.3 M635.2,279.5 L635.7,278.7 L635.5,278.1 L635.7,277.3 L635.9,276.2 L635.4,275.9 L634.8,274.7 L633.9,275.0 L633.5,273.9 L634.3,273.5 L634.7,274.0 L635.5,274.8 M634.3,281.3 L633.4,282.0 L632.8,281.5 L631.7,281.2 L631.0,280.3 L631.2,279.7 L632.4,279.4 L632.8,280.1 L632.6,281.3 L633.1,281.8 L633.8,281.7 L634.9,282.1 M639.0,286.5 L639.3,287.3 L638.4,288.0 L638.1,288.9 L638.8,289.6 L638.7,290.2 L638.4,289.6 L638.2,288.8 L637.3,288.7 L636.7,288.4 L636.7,287.7 L636.5,286.9 L637.4,286.1 M638.1,278.2 L637.2,278.3 L636.1,278.0 L635.4,278.5 L634.8,278.0 L634.9,277.3 L634.0,277.0 L633.0,277.3 L632.5,277.1 L632.4,278.2 L631.3,278.6 L632.0,278.1 M633.2,285.6 L633.3,284.8 L632.7,284.2 L632.0,284.0 L631.4,283.4 L631.5,282.6 L632.5,281.8 L632.4,280.9 L633.2,280.7 L633.7,280.2 L634.5,280.3 L634.8,281.3 L636.0,281.7 M636.6,287.8 L636.9,287.1 L637.7,286.7 L638.3,287.7 L638.6,288.3 L638.8,289.3 L638.8,288.1 L639.0,287.4 L639.7,287.2 L639.0,287.2 L638.2,286.7 L637.1,286.5 M633.7,274.7 L633.5,273.5 L634.8,273.2 L634.3,274.0 L634.9,275.0 L635.8,275.6 L636.7,275.4 L637.5,275.6 L636.8,276.1 L635.8,276.5 L635.1,275.8 M637.6,286.6 L638.0,287.8 L638.5,288.5 L638.9,289.5 L638.6,290.1 L637.3,290.3 L637.0,289.1 L636.9,287.9 L637.1,286.7 L638.0,286.8 L638.6,285.8 M635.1,281.4 L634.9,282.2 L635.4,282.6 L635.0,283.4 L634.4,283.6 L633.3,284.0 L632.7,283.6 L631.6,283.1 L631.7,282.5 L632.1,281.3 L632.9,280.5 L633.0,279.5" fill="none" stroke="#2b50aa" stroke-width="0.95" stroke-linejoin="round"/>
<path d="M638.4,285.5 L638.3,286.6 L637.4,286.7 L637.1,286.1 L636.7,285.5 L636.2,284.6 L636.7,283.8 L637.5,283.9 L638.0,283.1 L639.0,282.6 L638.9,281.9 L638.1,281.3 L638.2,280.6 M631.9,291.2 L632.7,291.0 L633.3,291.3 L633.0,292.1 L632.4,292.6 L633.2,292.7 L633.8,292.5 L634.1,291.7 L634.5,290.8 L634.5,290.1 L634.6,289.3 L634.2,288.0 L634.2,287.4 L635.4,287.1 M634.3,292.6 L635.4,292.4 L635.5,291.2 L634.9,290.8 L634.4,290.3 L633.9,290.6 L633.4,291.5 L632.9,292.5 L632.4,292.0 L631.9,292.4 L632.5,292.2 L633.0,291.2 L633.7,291.0 M635.9,287.9 L635.4,287.3 L635.2,286.4 L635.3,285.7 L635.2,284.7 L634.5,284.1 L633.8,284.6 L633.0,284.0 L632.0,283.3 L631.7,282.4 L630.8,281.5 L631.4,282.0 M632.1,284.7 L631.6,283.9 L630.9,283.2 L631.7,283.5 L632.8,283.9 L632.6,285.0 L631.5,285.3 L630.8,285.9 L631.7,285.4 L632.5,285.7 L632.3,286.8 L632.0,287.5" fill="none" stroke="#e0242a" stroke-width="0.85" stroke-linejoin="round"/>
<path d="M634.1,267.4 L635.1,267.5 L635.5,266.8 L636.7,266.9 L637.0,266.3 L636.7,265.2 L636.0,265.3 L635.8,266.0 L635.6,266.7 L635.5,267.8 L634.9,268.5 L633.9,268.5 M635.7,257.2 L634.6,257.9 L633.7,258.1 L633.3,258.8 L633.6,260.0 L632.6,260.8 L631.7,261.4 L631.4,262.3 L631.9,263.0 L632.6,263.1 L632.7,263.7 L632.0,264.5 M624.6,262.2 L624.7,263.2 L624.0,264.0 L624.0,265.0 L623.7,265.8 L624.2,266.1 L624.8,266.3 L625.7,267.2 L626.3,267.9 L626.6,268.6 L627.2,269.4 L627.4,270.3 M630.4,258.9 L629.9,258.3 L629.7,257.1 L629.6,255.8 L628.9,254.8 L628.1,254.8 L627.7,254.3 L626.8,254.8 L626.3,255.5 L625.8,255.9 L626.3,257.0 L626.3,257.7 M629.7,258.1 L629.8,257.0 L630.4,256.4 L630.5,255.5 L630.3,254.5 L629.5,253.6 L629.0,253.2 L628.6,254.1 L627.3,254.2 L627.3,255.1 L628.1,255.2 L628.9,254.7 M633.4,270.1 L632.9,269.2 L632.3,269.3 L631.9,268.4 L632.6,267.5 L633.8,267.4 L634.2,266.8 L634.8,265.8 L635.9,265.5 L636.8,265.6 L635.9,266.0 L634.7,265.6 M637.4,254.3 L636.9,255.2 L637.0,256.4 L637.2,257.5 L638.0,257.6 L637.7,258.8 L637.2,259.5 L637.1,260.3 L637.6,260.8 L637.1,259.8 L636.3,259.5 L635.4,259.5 M633.3,254.1 L633.5,255.1 L634.5,256.0 L635.3,256.6 L636.1,257.4 L636.4,258.5 L637.1,258.4 L637.7,259.0 L637.2,259.9 L636.1,259.9 L635.8,258.9 M637.4,260.9 L637.5,259.9 L636.9,259.7 L635.9,259.5 L635.3,259.6 L634.6,260.6 L633.5,260.9 L632.8,261.7 L633.1,262.5 L632.4,262.9 L632.1,263.5 L631.0,263.5 M632.1,269.9 L631.5,268.9 L630.8,268.6 L630.0,268.1 L629.9,267.1 L630.4,266.2 L630.2,265.1 L631.2,264.8 L631.9,265.1 L632.6,264.4 L633.6,263.9 L634.4,263.3 M625.0,258.7 L625.8,259.1 L627.0,259.0 L627.3,260.3 L627.1,260.8 L627.6,262.0 L627.3,263.2 L627.8,263.8 L628.7,263.5 L629.4,262.9 L629.3,262.3 L628.6,261.2 M633.1,264.0 L633.9,264.2 L634.6,264.7 L634.7,265.5 L634.3,265.9 L634.9,267.0 L634.4,267.7 L634.8,268.9 L634.8,269.5 L633.8,269.7 L633.1,270.3 L633.2,269.4 L633.9,268.9 M635.7,267.7 L636.0,266.5 L636.5,266.0 L637.3,266.4 L636.7,265.5 L635.5,265.2 L635.1,266.2 L634.2,267.0 L633.2,266.6 L633.1,265.6 L634.0,265.3 M634.2,267.8 L633.2,267.4 L632.4,268.0 L631.6,268.7 L632.2,269.6 L633.0,270.3 L633.6,270.3 L632.8,269.7 L633.0,269.0 L632.3,268.4 L631.9,267.4 L630.9,267.5 M628.5,263.1 L629.4,262.7 L630.3,261.7 L630.8,261.1 L630.6,260.1 L630.5,259.4 L631.4,259.0 L632.3,259.5 L632.4,260.2 L631.4,260.5 L631.1,261.4 L631.9,261.9 M630.0,269.6 L631.1,269.4 L632.1,269.5 L632.2,270.2 L631.0,270.1 L630.3,269.6 L630.3,268.6 L630.9,267.8 L631.8,268.0 L632.4,267.0 L632.1,266.0 L633.0,265.4 M627.0,261.7 L626.6,262.8 L625.9,263.4 L625.2,263.3 L625.0,262.1 L624.8,261.4 L624.5,260.8 L624.3,260.1 L624.1,259.3 L623.5,258.5 L624.2,259.2 L624.3,259.9 L624.3,260.7 M630.7,262.7 L631.2,263.3 L631.0,264.1 L631.5,265.0 L632.6,265.6 L632.5,266.2 L631.2,266.2 L630.7,267.1 L630.3,267.7 L629.7,267.8 L629.0,268.5 L628.1,268.3 M627.5,261.9 L626.9,261.9 L626.5,261.3 L625.7,261.3 L625.6,260.6 L625.8,259.6 L625.2,258.7 L624.5,258.7 L624.3,259.7 L625.3,260.1 L625.7,260.6 L625.3,261.2 L625.1,262.3 M627.2,268.4 L627.6,267.6 L627.4,266.7 L627.5,266.1 L626.8,265.7 L626.0,266.6 L625.2,266.0 L624.3,266.0 L623.9,265.0 L623.7,264.0 L624.6,263.4 L624.7,262.2 M623.9,254.9 L624.5,255.7 L624.3,256.4 L625.0,257.4 L625.4,258.2 L626.2,258.3 L626.9,257.8 L626.3,256.6 L625.9,256.1 L625.0,256.3 L624.9,257.4 L625.4,258.3 M628.3,260.2 L629.1,259.2 L630.2,258.8 L631.1,259.2 L632.2,259.0 L632.2,258.2 L633.1,257.4 L632.5,256.5 L632.0,255.9 L632.6,255.0 L632.3,253.8" fill="none" stroke="#2b50aa" stroke-width="0.95" stroke-linejoin="round"/>
<path d="M632.3,256.5 L632.8,255.4 L633.6,254.6 L634.4,254.7 L634.9,253.6 L634.3,252.8 L634.3,253.7 L635.1,254.4 L635.8,254.5 L636.5,254.8 L637.0,254.5 L637.8,254.8 M632.3,262.1 L631.7,261.2 L632.1,260.5 L632.3,259.7 L631.9,258.5 L630.9,258.0 L630.2,258.9 L630.8,259.8 L631.5,259.6 L632.0,258.9 L632.9,258.7 L632.9,258.0 M629.5,266.9 L628.7,266.1 L629.4,265.0 L630.5,265.6 L630.1,266.6 L629.3,267.2 L628.6,268.2 L628.3,269.4 L628.2,270.0 L627.3,270.3 L627.7,271.5 M630.2,255.5 L630.3,256.6 L630.3,257.4 L631.3,258.1 L630.7,259.2 L630.3,259.7 L630.6,260.7 L629.8,261.4 L630.2,262.6 L630.1,263.5 L629.4,264.0 M631.3,252.5 L631.2,253.4 L630.4,253.8 L630.0,254.3 L629.2,254.0 L628.9,253.4 L628.4,253.0 L628.4,254.1 L629.3,255.0 L630.0,254.7 L631.1,254.5 L631.8,253.8 L631.5,253.2 M629.6,264.1 L630.5,263.2 L631.7,263.1 L632.5,263.6 L633.1,264.6 L633.8,264.7 L634.7,264.5 L634.7,263.6 L633.6,263.1 L632.6,262.8 L632.0,263.4 M637.0,255.4 L637.8,255.5 L637.4,256.1 L636.6,256.7 L636.0,257.3 L634.9,257.4 L633.7,257.8 L633.2,258.4 L633.1,259.0 L632.8,259.9 L633.2,260.8 L633.7,261.6 M631.4,259.2 L630.8,259.0 L630.7,258.3 L629.9,257.9 L630.1,257.2 L629.2,256.6 L628.6,256.2 L628.8,255.3 L629.2,254.7 L629.8,254.4 L630.1,253.5 L631.3,253.8 L632.3,253.0" fill="none" stroke="#e0242a" stroke-width="0.85" stroke-linejoin="round"/>
<path d="M639.7,291.0 L639.0,290.5 L638.7,289.4 L638.0,289.5 L637.6,288.9 L637.6,288.1 L638.0,287.0 L638.5,286.3 L638.5,285.2 L638.9,284.4 L639.2,283.5 L639.0,282.8 L638.9,282.2 M637.0,289.4 L636.8,288.5 L637.5,288.1 L637.9,288.7 L637.7,289.3 L636.8,290.0 L635.9,290.5 L634.9,289.7 L634.8,288.9 L635.3,289.3 L635.9,289.2 L636.5,289.7 L637.3,289.1 M637.9,285.4 L636.9,285.0 L635.7,285.2 L634.6,284.7 L634.6,283.5 L634.7,282.5 L635.4,281.8 L634.6,280.8 L633.7,280.8 L634.7,280.9 L635.2,281.8 M634.8,283.9 L636.0,284.0 L636.3,283.0 L635.8,282.4 L635.2,282.1 L634.7,282.6 L634.7,283.4 L634.2,283.8 L634.2,284.5 L634.2,285.2 L634.1,286.0 L634.8,286.6 L635.9,286.0 M636.7,279.9 L636.8,279.0 L636.6,278.2 L636.0,277.3 L635.8,276.5 L636.3,276.1 L636.9,275.1 L637.8,275.3 L638.1,274.3 L638.1,273.7 L637.7,272.6 L637.0,272.7 L636.6,273.8 M634.8,286.7 L634.9,285.5 L634.9,284.6 L635.9,284.0 L635.7,283.3 L635.0,282.8 L634.3,282.3 L634.7,281.4 L635.7,281.6 L636.5,281.0 L636.5,280.0 L635.3,279.4 M634.2,275.5 L633.2,276.2 L633.6,275.6 L634.7,275.3 L634.5,274.5 L634.5,273.8 L633.4,273.3 L632.8,273.5 L633.3,273.8 L634.4,274.0 L635.1,273.5 L636.2,273.7 M638.7,292.8 L638.7,292.2 L638.8,291.1 L639.7,290.9 L639.1,291.2 L638.5,291.7 L637.4,291.9 L637.3,292.7 L638.1,293.1 L639.0,292.8 L639.7,292.9 L639.9,292.3 L639.1,291.8 M639.6,284.1 L639.3,285.0 L638.4,285.0 L637.7,284.5 L637.0,284.8 L636.6,285.2 L635.8,284.9 L634.8,285.5 L635.2,286.5 L635.5,287.1 L636.5,288.0 L637.1,287.5 L637.1,286.5 M633.4,276.1 L633.7,275.4 L634.3,274.6 L635.0,274.4 L636.3,274.4 L637.0,274.1 L637.1,272.8 L637.6,272.0 L637.9,271.4 L638.8,271.9 L638.6,272.6 L638.5,273.8 M638.1,290.0 L638.8,289.7 L640.0,289.3 L639.3,289.5 L638.2,289.3 L637.1,289.4 L636.3,289.0 L635.5,289.7 L636.2,289.8 L636.8,289.3 L637.6,289.3 L638.1,288.8 L638.2,287.8 M637.8,290.5 L638.7,291.4 L639.3,291.7 L638.7,292.0 L638.3,292.7 L638.7,293.2 L638.2,292.6 L638.7,292.0 L638.5,291.4 L637.3,291.6 L636.0,291.8 L635.3,291.7 L635.5,291.1" fill="none" stroke="#2b50aa" stroke-width="0.95" stroke-linejoin="round"/>
<path d="M635.5,272.7 L634.7,273.2 L634.2,274.2 L634.8,275.3 L635.5,275.1 L636.7,275.5 L636.9,276.6 L637.6,276.8 L638.4,276.6 L638.6,275.8 L638.5,275.0 L639.4,274.2 M638.0,271.5 L638.9,271.4 L640.0,270.9 L639.3,271.0 L638.9,272.2 L639.0,273.4 L639.4,274.2 L639.1,275.4 L638.5,275.7 L638.8,276.9 L638.9,277.9 M637.8,292.7 L638.0,291.8 L638.7,291.0 L639.8,290.3 L638.8,289.7 L637.8,289.5 L636.7,289.7 L636.1,289.3 L635.0,289.0 L635.6,288.6 L636.3,287.6 M639.9,277.4 L639.9,276.2 L639.4,277.4 L639.5,278.5 L639.1,279.5 L638.9,280.6 L637.7,280.6 L637.3,280.0 L636.2,279.8 L635.0,279.7" fill="none" stroke="#e0242a" stroke-width="0.85" stroke-linejoin="round"/>
<path d="M644.5,241.8 C644.9,244.0 646.2,250.6 647.1,255.0 C648.0,259.4 649.1,263.7 649.7,268.1 C650.4,272.5 650.8,279.1 651.0,281.3" fill="none" stroke="#2b50aa" stroke-width="2.20" stroke-dasharray="1.3 0.6" stroke-linejoin="round"/>
<path d="M648.8,255.2 L648.0,255.9 L648.1,256.8 L648.5,257.4 L649.1,257.6 L649.3,258.5 L649.4,259.6 L649.1,260.3 L648.1,260.3 L647.9,259.5 L647.6,259.0 L647.9,258.0 L648.7,257.7 M651.1,279.7 L650.9,278.7 L650.2,278.3 L650.5,277.2 L651.2,277.1 L652.2,276.5 L652.2,275.5 L652.1,274.8 L651.8,275.8 L651.1,275.7 L651.2,274.9 L651.1,274.2 L650.1,274.1 M644.4,249.2 L645.3,248.3 L645.6,247.3 L645.6,246.6 L645.6,245.7 L645.2,244.5 L645.4,243.8 L644.8,243.5 L644.2,244.0 L644.7,245.0 L645.4,245.5 L646.3,245.7 M648.5,253.2 L648.1,253.8 L648.1,254.6 L648.6,255.5 L648.5,256.5 L649.1,256.7 L648.0,256.2 L647.0,256.8 L646.1,256.2 L645.5,255.6 L645.2,254.9 L646.5,254.8 M645.9,245.7 L645.0,245.7 L644.2,245.6 L643.5,246.4 L644.0,245.9 L643.8,245.3 L643.8,244.4 L643.3,243.7 L643.4,244.3 L643.9,245.1 L644.8,245.0 L645.3,244.1 L644.9,243.5 M644.0,244.5 L644.5,244.3 L645.4,243.3 L646.6,243.4 L645.8,243.2 L644.5,243.2 L643.7,244.0 L643.8,245.0 L644.0,245.6 L645.2,245.3 L645.8,245.5 L646.6,245.2 M650.1,274.6 L649.7,275.9 L648.6,276.4 L649.1,276.8 L648.7,275.9 L649.3,276.4 L650.3,277.2 L650.0,278.3 L649.2,278.5 L649.3,279.1 L649.9,278.4 L650.8,277.7" fill="none" stroke="#2b50aa" stroke-width="0.85" stroke-linejoin="round"/>
<path d="M645.8,251.6 L646.4,250.6 L647.0,249.5 L647.9,249.5 L648.2,250.2 L647.7,250.6 L647.5,251.8 L648.3,251.9 L648.3,252.6 L648.7,253.8 L648.9,255.0 L648.1,255.9 M643.2,245.2 L644.3,244.6 L645.6,244.5 L646.7,244.0 L646.0,243.6 L645.4,242.7 L644.4,242.3 L645.2,242.8 L645.7,243.7 L646.4,243.9 L645.5,244.6 M650.1,273.5 L649.3,274.0 L648.8,274.8 L649.6,275.0 L650.7,275.1 L651.3,275.0 L651.8,275.4 L651.9,276.1 L651.2,276.3 L650.2,275.9 L649.1,276.5 L650.0,277.2 M648.8,266.7 L647.9,266.6 L648.8,266.4 L650.0,266.3 L650.6,266.1 L651.1,265.2 L650.8,266.3 L649.8,266.8 L649.3,266.4 L649.0,265.4 L647.8,265.4 L647.3,266.3 M650.8,278.8 L650.4,278.0 L649.8,277.6 L650.2,276.6 L650.9,276.3 L651.8,276.5 L652.1,275.4 L651.3,275.0 L650.6,275.1 L650.0,274.3 L650.1,273.1 L649.1,272.4 M646.6,244.8 L646.7,245.6 L645.6,245.9 L644.9,246.2 L644.3,245.2 L644.6,244.3 L644.7,243.6 L644.6,242.4 L645.0,243.2 L646.1,243.0 L645.6,243.7 L644.9,243.7 M646.5,261.4 L647.5,261.7 L648.2,262.0 L648.8,261.4 L649.6,261.3 L650.2,260.7 L649.6,260.5 L648.7,261.2 L648.1,261.9 L647.5,262.8 L647.8,261.7 L648.7,261.0" fill="none" stroke="#e0242a" stroke-width="0.85" stroke-linejoin="round"/>
<path d="M644.5,241.8 L651.0,240.5" fill="none" stroke="#2b50aa" stroke-width="1.93" stroke-dasharray="1.3 0.6" stroke-linejoin="round"/>
<path d="M647.0,242.6 L646.3,242.7 L645.5,242.4 L645.7,241.7 L646.3,241.7 L647.3,241.5 L647.8,242.6 L647.8,241.9 L648.9,241.3 L649.3,241.9 L650.5,241.7 L650.4,240.5 M650.1,240.1 L650.5,238.9 L650.8,240.0 L650.2,239.2 L649.6,239.9 L650.0,240.8 L649.1,241.7 L648.8,242.5 L649.2,241.8 L649.2,240.7 L650.2,240.4" fill="none" stroke="#2b50aa" stroke-width="0.85" stroke-linejoin="round"/>
<path d="M647.7,240.8 L648.9,240.6 L649.9,239.9 L649.5,240.5 L648.5,240.1 L647.8,241.0 L647.0,241.4 L647.3,242.4 L646.1,243.0 L645.7,242.1 L644.7,241.9" fill="none" stroke="#e0242a" stroke-width="0.85" stroke-linejoin="round"/>
<path d="M635.3,276.0 C635.7,277.8 636.6,283.9 637.9,286.5 C639.2,289.1 641.0,291.8 643.2,291.8 C645.4,291.8 649.0,288.2 651.0,286.5 C653.0,284.8 654.3,282.2 655.0,281.3" fill="none" stroke="#2b50aa" stroke-width="1.93" stroke-dasharray="1.3 0.6" stroke-linejoin="round"/>
<path d="M646.2,291.1 L647.2,290.3 L647.5,289.3 L648.3,289.0 L649.4,289.2 L649.9,288.2 L649.6,287.5 L648.8,287.2 L649.0,286.3 L649.6,286.0 L649.9,285.5 L649.4,286.5 M638.0,286.6 L638.6,287.3 L639.9,287.4 L641.0,288.1 L641.7,288.3 L640.8,288.0 L640.3,287.4 L639.2,287.1 L638.0,286.9 L636.9,287.0 L637.9,286.7 M649.0,288.1 L647.9,288.7 L647.1,289.7 L646.7,290.3 L646.5,289.3 L646.3,288.7 L645.3,289.0 L645.8,289.9 L645.3,290.2 L644.5,289.6 L645.5,289.8 L645.8,290.8 M654.4,284.4 L653.5,283.9 L653.1,283.1 L652.1,283.6 L651.5,284.7 L652.3,285.4 L653.1,286.3 L652.0,286.1 L651.1,286.0 L650.5,286.7 L649.7,287.6 M643.9,290.6 L644.3,291.1 L645.0,291.4 L645.6,290.5 L646.3,290.0 L647.0,290.6 L647.9,290.4 L648.5,290.1 L649.2,289.2 L649.8,288.9 L650.7,288.2 L650.5,287.2 L650.8,286.5" fill="none" stroke="#2b50aa" stroke-width="0.85" stroke-linejoin="round"/>
<path d="M651.1,286.8 L650.1,286.3 L649.6,285.5 L649.3,286.2 L649.6,286.9 L650.3,287.9 L651.4,287.6 L652.2,287.6 L651.2,287.9 L650.1,287.7 L649.1,287.7 L648.4,286.8 M638.9,283.8 L638.2,283.3 L637.0,283.1 L636.5,282.0 L635.9,281.8 L635.4,282.6 L636.6,282.9 L637.2,283.2 L637.6,282.8 L637.4,281.7 L637.2,280.7 L636.9,279.7 M647.1,288.2 L646.6,288.6 L646.0,288.0 L646.3,288.5 L647.1,289.0 L648.0,289.5 L648.0,290.3 L647.0,289.7 L646.0,289.0 L645.5,289.5 L644.9,289.3 L645.1,290.3 L645.1,291.3 M637.7,279.6 L636.8,279.5 L636.0,280.4 L635.2,279.9 L635.8,279.0 L636.1,277.8 L636.7,277.2 L636.6,278.1 L636.2,279.3 L635.7,280.4 L634.8,280.1 M641.3,288.1 L640.5,287.5 L639.6,287.6 L638.9,287.2 L638.7,286.2 L638.3,285.4 L638.9,284.8 L638.6,284.1 L638.1,283.1 L637.3,282.5 L637.5,281.4 L637.7,280.7" fill="none" stroke="#e0242a" stroke-width="0.85" stroke-linejoin="round"/>
<path d="M632.6,185.2 C633.9,186.3 638.9,189.3 640.5,191.8 C642.1,194.3 641.8,196.5 642.0,200.0 C642.2,203.5 641.8,210.7 641.8,212.8" fill="none" stroke="#2b50aa" stroke-width="2.20" stroke-dasharray="1.3 0.6" stroke-linejoin="round"/>
<path d="M641.8,191.1 L641.1,190.4 L640.3,190.7 L639.1,191.1 L638.3,190.4 L637.0,190.4 L636.7,189.5 L637.3,188.6 L638.4,188.6 L639.1,188.9 L638.8,190.2 M640.6,212.7 L640.4,211.7 L641.4,211.5 L641.9,212.2 L642.9,212.5 L642.1,211.9 L640.9,212.3 L641.2,211.6 L640.5,210.7 L640.5,210.0 L641.4,209.3 M639.3,191.2 L638.5,191.2 L637.3,191.1 L636.8,190.8 L637.1,190.1 L636.5,189.3 L635.7,189.5 L635.7,188.6 L635.2,187.8 L635.2,186.9 L635.2,186.1 L635.0,185.5 L634.7,184.6 M639.3,191.1 L638.6,190.1 L637.9,189.8 L636.6,189.8 L635.6,189.1 L636.0,188.3 L636.6,188.1 L637.2,188.7 L638.2,188.9 L639.2,189.2 L640.0,189.0 L640.4,189.5 M634.8,184.4 L634.6,185.5 L634.0,186.1 L633.1,185.5 L632.4,186.2 L632.6,185.6 L633.4,186.0 L634.1,186.7 L635.1,187.3 L636.1,187.9 L637.0,187.2 L637.3,188.4 M643.4,205.5 L642.6,205.9 L642.1,206.3 L642.4,207.1 L643.3,207.1 L643.4,208.2 L642.8,208.0 L642.4,207.5 L642.6,206.7 L641.8,206.1 L641.3,204.9 L640.7,204.7 L640.7,203.9" fill="none" stroke="#2b50aa" stroke-width="0.85" stroke-linejoin="round"/>
<path d="M641.3,209.9 L642.0,210.4 L641.4,211.5 L640.3,211.5 L639.9,210.7 L640.2,209.4 L640.9,208.4 L641.6,208.7 L642.4,207.9 L643.2,208.6 L643.2,209.7 M640.9,211.9 L639.9,211.9 L640.7,212.1 L641.9,212.0 L643.1,212.5 L643.8,211.8 L643.2,211.4 L642.3,211.9 L641.5,211.2 L641.3,210.2 L641.6,209.4 M639.5,194.4 L639.5,195.3 L640.4,195.8 L640.8,195.2 L641.2,194.2 L641.2,193.2 L641.4,192.5 L640.7,192.0 L640.9,191.2 L641.7,191.2 L642.3,191.7 L641.4,191.1 L642.1,192.1 M642.3,202.9 L643.1,203.2 L643.3,204.0 L643.7,203.2 L643.8,202.2 L643.6,201.3 L642.7,201.0 L642.9,200.0 L642.8,199.2 L642.1,199.1 L641.3,198.7 L640.5,198.3 L640.7,197.3 M639.4,189.2 L638.2,189.3 L637.5,188.9 L636.6,189.3 L636.9,190.3 L636.3,190.5 L635.4,190.0 L635.5,189.0 L636.2,188.3 L635.8,187.2 L635.9,186.2 L636.5,186.5 M642.0,196.5 L641.1,197.0 L640.4,196.1 L640.9,195.4 L641.9,195.2 L642.3,194.6 L641.8,195.1 L640.9,195.6 L640.0,194.7 L639.5,195.0 L640.3,196.0 L641.0,196.8" fill="none" stroke="#e0242a" stroke-width="0.85" stroke-linejoin="round"/>
<path d="M652.4,205.0 C653.0,204.6 655.4,201.0 656.3,202.3 C657.2,203.6 657.8,209.7 657.6,212.8 C657.4,215.9 655.2,217.6 655.0,220.7 C654.8,223.8 655.8,229.1 656.3,231.3 C656.8,233.5 657.7,233.6 658.0,234.0" fill="none" stroke="#e0242a" stroke-width="1.60" stroke-dasharray="1.3 0.6" stroke-linejoin="round"/>
<path d="M657.8,233.2 L656.7,233.4 L657.1,232.5 L657.7,232.4 L658.4,231.8 L657.7,231.9 L657.3,233.0 L657.3,234.3 L656.7,234.1 L657.9,234.0 L657.3,233.3 L657.9,232.5 M655.6,226.0 L655.0,226.8 L655.7,227.8 L655.2,228.9 L655.6,230.0 L656.0,230.5 L655.5,231.4 L655.7,232.3 L656.8,232.8 L658.0,232.6 L657.7,233.2 M654.6,203.9 L654.1,204.5 L653.9,205.2 L654.1,204.7 L653.6,204.2 L653.0,203.5 L653.7,202.9 L652.8,203.5 L653.1,204.5 L653.3,205.5 L653.5,204.6 L653.2,203.7 L652.6,204.5 M656.8,213.1 L655.8,213.5 L656.8,214.1 L656.4,215.3 L656.9,216.1 L656.2,217.1 L655.5,216.8 L656.0,216.3 L656.8,215.6 L657.6,215.0 L658.0,214.5 L657.3,213.8 M658.4,213.8 L658.3,214.5 L657.3,214.6 L657.1,213.7 L657.2,212.7 L656.1,212.5 L656.9,211.8 L657.6,212.0 L658.2,211.1 L658.8,211.0 L657.9,210.8 L656.8,211.3 M656.0,210.7 L656.4,211.9 L657.0,211.9 L657.7,212.3 L658.0,213.4 L657.9,214.0 L657.3,214.5 L656.7,215.0 L656.5,215.6 L656.2,216.4 L655.3,216.1 L655.8,216.5 L656.8,216.6 M655.2,227.1 L655.9,227.4 L657.0,227.9 L657.5,228.8 L656.9,229.1 L656.7,229.8 L656.0,230.7 L655.3,230.6 L656.5,230.0 L657.7,230.5 L657.5,231.4 L656.9,232.1" fill="none" stroke="#e0242a" stroke-width="0.85" stroke-linejoin="round"/>
<path d="M661.6,207.8 C662.2,208.0 664.8,208.2 665.4,209.1 C666.0,210.0 665.9,212.5 665.4,213.0 C664.9,213.5 662.7,212.4 662.2,212.3" fill="none" stroke="#e0242a" stroke-width="1.10" stroke-dasharray="1.3 0.6" stroke-linejoin="round"/>
<path d="M662.5,212.4 L662.8,213.2 L663.9,212.9 L663.2,213.4 L662.5,212.8 L662.8,212.2 L663.2,211.7 L662.6,211.7 L663.3,211.7 L663.6,212.9 L663.4,213.5 L663.8,212.8 L665.0,212.4 M663.0,208.6 L664.1,208.1 L664.8,208.5 L665.4,208.7 L665.8,209.9 L665.0,209.6 L664.4,209.0 L664.8,209.9 L665.4,209.0 L665.0,208.5 L664.6,207.9 L664.7,208.8" fill="none" stroke="#e0242a" stroke-width="0.85" stroke-linejoin="round"/>
<path d="M673.4,214.2 C673.2,216.2 671.9,222.3 672.1,226.0 C672.3,229.7 674.0,233.4 674.7,236.5 C675.4,239.6 675.9,243.1 676.1,244.4" fill="none" stroke="#e0242a" stroke-width="1.00" stroke-dasharray="1.3 0.6" stroke-linejoin="round"/>
<path d="M673.4,216.5 L672.9,216.9 L672.5,217.9 L673.0,219.0 L673.3,220.0 L672.6,219.8 L673.3,220.3 L673.0,221.6 L672.4,222.0 L672.9,223.2 L672.0,223.7 L671.7,224.6 M671.8,221.6 L672.2,222.0 L672.6,222.7 L672.7,223.7 L671.6,224.4 L671.2,225.3 L672.3,225.3 L672.9,226.3 L673.3,227.2 L672.3,227.6 L671.8,228.0 L672.7,227.4 M675.3,238.4 L675.2,239.4 L674.7,240.2 L675.2,240.7 L676.1,240.5 L675.4,240.3 L674.9,240.8 L675.9,241.5 L675.4,242.4 L676.6,242.6 L676.2,243.6 L675.5,244.2 M672.4,229.1 L671.8,228.6 L672.0,227.8 L673.2,227.5 L672.4,227.5 L671.7,227.5 L671.4,226.8 L672.3,226.2 L673.1,225.6 L672.5,224.5 L672.0,223.9 L672.9,223.9" fill="none" stroke="#e0242a" stroke-width="0.85" stroke-linejoin="round"/>
<path d="M659.5,234.5 C660.2,235.2 663.5,237.2 664.0,239.0 C664.5,240.8 662.3,243.0 662.5,245.0 C662.7,247.0 664.6,250.0 665.0,251.0" fill="none" stroke="#e0242a" stroke-width="1.60" stroke-dasharray="1.3 0.6" stroke-linejoin="round"/>
<path d="M662.9,249.8 L662.6,248.7 L662.5,247.7 L663.3,247.3 L664.4,247.1 L664.8,247.7 L664.3,248.8 L664.9,249.3 L665.5,249.9 L665.3,250.5 L664.8,249.7 L664.0,249.3 M662.3,236.0 L661.8,237.0 L660.7,236.9 L659.9,236.0 L659.5,235.4 L660.2,234.7 L661.1,235.0 L662.0,235.5 L661.9,236.5 L662.5,236.9 L663.0,238.1 M663.8,241.0 L662.7,241.4 L663.9,240.8 L664.6,240.1 L664.0,239.3 L664.4,238.6 L663.7,237.9 L663.7,237.1 L663.2,236.6 L662.6,235.7 L661.7,234.9 L660.8,234.0 M660.3,234.8 L659.4,235.1 L658.9,235.6 L659.4,235.3 L660.1,235.4 L660.5,234.2 L659.8,234.6 L660.7,234.4 L660.8,235.2 L660.3,235.7 L660.4,236.8 L661.3,236.4 L661.7,236.8" fill="none" stroke="#e0242a" stroke-width="0.85" stroke-linejoin="round"/>
<path d="M661.6,257.6 C662.2,258.2 664.0,261.9 665.5,261.5 C667.0,261.1 669.9,256.1 670.8,255.0" fill="none" stroke="#e0242a" stroke-width="1.20" stroke-dasharray="1.3 0.6" stroke-linejoin="round"/>
<path d="M669.6,257.7 L668.9,258.7 L668.7,259.3 L667.7,259.9 L667.0,259.6 L667.1,258.4 L667.8,258.4 L668.3,258.8 L667.2,259.0 L666.4,259.9 L665.5,260.1 L664.5,259.9 M666.5,259.7 L666.0,260.5 L666.6,261.3 L666.9,260.1 L667.8,260.1 L666.6,259.7 L667.8,259.4 L666.8,259.9 L666.1,259.8 L666.8,259.6 L667.3,258.7" fill="none" stroke="#e0242a" stroke-width="0.85" stroke-linejoin="round"/>
<path d="M651.0,240.5 C651.9,241.2 655.5,242.5 656.3,244.4 C657.0,246.3 655.9,249.1 655.5,252.0 C655.1,254.9 654.2,260.3 654.0,262.0" fill="none" stroke="#e0242a" stroke-width="1.10" stroke-dasharray="1.3 0.6" stroke-linejoin="round"/>
<path d="M655.4,256.4 L654.8,256.7 L654.4,257.3 L654.8,258.4 L654.2,259.6 L653.4,259.9 L654.2,259.8 L654.5,259.3 L653.7,258.7 L654.0,257.9 L653.9,257.3 L655.1,257.6 L655.5,256.4 M656.0,253.7 L655.8,253.1 L654.9,252.1 L654.5,251.6 L654.8,252.4 L655.4,252.2 L656.5,251.9 L656.6,251.1 L656.4,250.0 L655.6,249.7 L655.5,248.9 L655.8,248.3 L656.1,247.7 M654.2,243.6 L654.4,243.0 L654.6,242.4 L654.4,243.3 L655.4,243.0 L654.6,243.9 L655.5,243.0 L655.3,243.8 L655.4,244.5 L656.3,244.5 L656.5,243.8 L656.7,244.6 L657.2,244.1" fill="none" stroke="#e0242a" stroke-width="0.85" stroke-linejoin="round"/>
<text x="603.8499999999999" y="172.0" font-size="7.7" font-weight="bold" text-anchor="middle" textLength="128.7" lengthAdjust="spacingAndGlyphs" fill="#231f20">t-SNE Projection for Ridge Regression</text>
<rect x="523.7" y="175.5" width="160.69999999999993" height="125.89999999999998" fill="none" stroke="#7a7a7a" stroke-width="1.2"/>
<text x="521.3000000000001" y="177.2" font-size="4.6" font-weight="bold" text-anchor="end" fill="#333">150</text>
<line x1="522.5" y1="175.5" x2="523.7" y2="175.5" stroke="#888" stroke-width="0.6"/>
<text x="521.3000000000001" y="198.1833333333333" font-size="4.6" font-weight="bold" text-anchor="end" fill="#333">100</text>
<line x1="522.5" y1="196.48333333333332" x2="523.7" y2="196.48333333333332" stroke="#888" stroke-width="0.6"/>
<text x="521.3000000000001" y="219.16666666666666" font-size="4.6" font-weight="bold" text-anchor="end" fill="#333">50</text>
<line x1="522.5" y1="217.46666666666667" x2="523.7" y2="217.46666666666667" stroke="#888" stroke-width="0.6"/>
<text x="521.3000000000001" y="240.14999999999998" font-size="4.6" font-weight="bold" text-anchor="end" fill="#333">0</text>
<line x1="522.5" y1="238.45" x2="523.7" y2="238.45" stroke="#888" stroke-width="0.6"/>
<text x="521.3000000000001" y="261.1333333333333" font-size="4.6" font-weight="bold" text-anchor="end" fill="#333">-50</text>
<line x1="522.5" y1="259.43333333333334" x2="523.7" y2="259.43333333333334" stroke="#888" stroke-width="0.6"/>
<text x="521.3000000000001" y="282.1166666666666" font-size="4.6" font-weight="bold" text-anchor="end" fill="#333">-100</text>
<line x1="522.5" y1="280.41666666666663" x2="523.7" y2="280.41666666666663" stroke="#888" stroke-width="0.6"/>
<text x="521.3000000000001" y="303.09999999999997" font-size="4.6" font-weight="bold" text-anchor="end" fill="#333">-150</text>
<line x1="522.5" y1="301.4" x2="523.7" y2="301.4" stroke="#888" stroke-width="0.6"/>
<text x="545.4" y="309.09999999999997" font-size="4.6" font-weight="bold" text-anchor="middle" fill="#333">-100</text>
<line x1="549.2" y1="301.4" x2="549.2" y2="302.59999999999997" stroke="#888" stroke-width="0.6"/>
<text x="575.2" y="309.09999999999997" font-size="4.6" font-weight="bold" text-anchor="middle" fill="#333">-50</text>
<line x1="576.4" y1="301.4" x2="576.4" y2="302.59999999999997" stroke="#888" stroke-width="0.6"/>
<text x="606.5" y="309.09999999999997" font-size="4.6" font-weight="bold" text-anchor="middle" fill="#333">0</text>
<line x1="604.7" y1="301.4" x2="604.7" y2="302.59999999999997" stroke="#888" stroke-width="0.6"/>
<text x="635.7" y="309.09999999999997" font-size="4.6" font-weight="bold" text-anchor="middle" fill="#333">50</text>
<line x1="631.8" y1="301.4" x2="631.8" y2="302.59999999999997" stroke="#888" stroke-width="0.6"/>
<text x="664.4" y="309.09999999999997" font-size="4.6" font-weight="bold" text-anchor="middle" fill="#333">100</text>
<line x1="660.1" y1="301.4" x2="660.1" y2="302.59999999999997" stroke="#888" stroke-width="0.6"/>
<text x="606.55" y="314.9" font-size="5.6" font-weight="bold" text-anchor="middle" textLength="49.5" lengthAdjust="spacingAndGlyphs" fill="#231f20">t-SNE Dimension 2</text>
<text transform="translate(509.6,238.75) rotate(-90)" font-size="5.6" font-weight="bold" text-anchor="middle" textLength="50.2" lengthAdjust="spacingAndGlyphs" fill="#231f20">t-SNE Dimension 1</text>
<rect x="655.8" y="177.2" width="27.5" height="14.4" fill="#fff" stroke="#cfcfcf" stroke-width="0.7"/>
<circle cx="661.5" cy="181.3" r="1.2" fill="#1f4fb4"/>
<circle cx="661.5" cy="188.1" r="1.2" fill="#e8232a"/>
<text x="664.8" y="183.0" font-size="4.4" font-weight="bold" text-anchor="start" textLength="14.0" lengthAdjust="spacingAndGlyphs" fill="#333">Lable 0</text>
<text x="664.8" y="189.8" font-size="4.4" font-weight="bold" text-anchor="start" textLength="14.0" lengthAdjust="spacingAndGlyphs" fill="#333">Lable 1</text>
<path d="M401.0,337.1 C400.4,337.3 398.3,337.6 397.4,338.4 C396.5,339.1 395.5,340.6 395.5,341.6 C395.5,342.7 396.5,344.1 397.4,344.7 C398.3,345.3 400.4,345.3 401.0,345.4 M401.0,337.1 L406.1,337.4 M409.3,337.7 C410.5,338.0 413.9,339.0 416.3,339.6 C418.7,340.2 422.6,341.3 423.9,341.6 M377.1,353.7 C375.8,354.0 371.8,355.0 369.4,355.6 C367.0,356.2 364.9,357.3 363.0,357.5 C361.1,357.7 359.0,357.4 357.9,356.8 C356.8,356.2 356.2,354.9 356.4,353.7 C356.6,352.5 357.7,350.9 359.2,349.8 C360.7,348.7 363.1,347.9 365.6,347.3 C368.2,346.7 371.3,346.1 374.5,346.0 C377.7,345.9 381.7,346.2 384.7,346.6 C387.7,347.0 389.6,348.0 392.3,348.6 C395.0,349.2 398.7,349.8 401.0,350.5 C403.3,351.2 404.0,352.4 406.1,353.0 C408.2,353.6 411.1,354.1 413.7,354.3 C416.2,354.5 419.5,354.6 421.4,354.3 C423.3,354.0 424.8,353.2 425.2,352.4 C425.6,351.5 425.2,350.0 423.9,349.2 C422.6,348.4 420.2,347.8 417.6,347.3 C415.1,346.8 411.4,346.4 408.6,346.0 C405.8,345.6 402.3,344.9 401.0,344.7 M401.0,358.8 C399.6,358.3 394.8,356.2 392.3,355.6 C389.8,355.0 387.4,354.6 386.0,354.9 C384.6,355.2 384.1,356.4 384.1,357.5 C384.1,358.6 385.3,360.0 386.0,361.3 C386.7,362.6 388.4,363.8 388.5,365.1 C388.6,366.4 386.6,367.8 386.6,368.9 C386.6,370.0 387.1,371.1 388.5,371.5 C389.9,371.9 393.1,371.9 394.9,371.5 C396.7,371.1 398.3,369.8 399.3,368.9 C400.3,368.0 400.7,366.8 401.0,366.4 M389.0,365.5 L395.0,365.0 M384.7,366.4 C384.3,366.0 383.8,364.6 382.1,363.8 C380.4,363.0 376.6,361.8 374.5,361.3 C372.4,360.8 370.7,360.4 369.4,360.7 C368.1,361.0 367.1,362.2 366.9,363.2 C366.7,364.1 367.1,365.5 368.1,366.4 C369.2,367.2 371.2,367.7 373.2,368.3 C375.2,368.9 379.0,369.9 380.2,370.2 M430.9,347.3 C431.4,347.8 432.7,349.6 434.1,350.5 C435.5,351.4 437.3,351.8 439.2,352.4 C441.1,353.0 443.5,353.6 445.6,354.3 C447.7,355.0 450.9,356.4 452.0,356.8 M401.0,358.8 C402.3,358.9 406.5,359.0 408.6,359.4 C410.7,359.8 412.0,360.6 413.7,361.3 C415.4,362.0 416.7,363.1 418.8,363.8 C420.9,364.6 423.5,365.4 426.5,365.8 C429.5,366.2 433.5,366.0 436.7,366.4 C439.9,366.8 443.4,368.2 445.6,368.3 C447.8,368.4 449.4,367.8 450.0,367.0 C450.6,366.2 450.3,364.8 449.4,363.8 C448.4,362.9 446.9,362.0 444.3,361.3 C441.8,360.6 437.1,359.8 434.1,359.4 C431.1,359.0 429.1,358.9 426.5,358.8 C423.9,358.7 420.1,358.8 418.8,358.8 M401.0,363.8 C402.1,364.0 405.5,364.5 407.4,365.1 C409.3,365.8 411.4,366.9 412.5,367.7 C413.6,368.5 413.9,369.3 413.7,370.2 C413.5,371.1 412.5,372.4 411.2,372.8 C409.9,373.2 407.8,373.0 406.1,372.8 C404.4,372.6 401.9,371.7 401.0,371.5 M417.6,368.9 C418.2,368.7 421.0,367.5 421.4,367.7 C421.8,367.9 420.3,369.8 420.1,370.2 M401.0,376.0 C399.6,376.1 395.0,376.6 392.3,376.6 C389.6,376.6 387.2,376.3 384.7,376.0 C382.2,375.7 379.7,375.2 377.1,374.7 C374.6,374.2 371.8,373.6 369.4,372.8 C367.0,372.1 364.9,371.2 363.0,370.2 C361.1,369.2 359.6,367.9 357.9,367.0 C356.2,366.1 354.5,365.1 352.8,364.9 C351.1,364.7 349.0,365.1 347.8,365.8 C346.6,366.5 345.8,367.8 345.8,369.0 C345.8,370.2 346.4,371.9 347.8,372.8 C349.2,373.8 351.8,374.1 354.1,374.7 C356.4,375.3 359.2,376.0 361.8,376.6 C364.4,377.2 366.8,378.1 369.4,378.5 C371.9,378.9 375.8,379.0 377.1,379.1 M392.3,379.1 C393.8,379.0 398.3,378.9 401.0,378.5 C403.7,378.1 406.1,377.4 408.6,376.6 C411.2,375.9 413.3,374.6 416.3,374.0 C419.3,373.4 423.1,372.8 426.5,372.8 C429.9,372.8 433.9,373.4 436.7,374.0 C439.4,374.6 441.7,375.8 443.0,376.6 C444.3,377.5 444.7,378.4 444.3,379.1 C443.9,379.8 442.4,380.9 440.5,381.0 C438.6,381.1 435.1,380.3 432.8,379.8 C430.5,379.3 428.8,378.2 426.5,377.9 C424.2,377.6 420.9,377.7 418.8,377.9 C416.7,378.1 415.4,378.7 413.7,379.1 C412.0,379.5 410.7,380.0 408.6,380.4 C406.5,380.8 402.3,381.1 401.0,381.2 M347.8,384.9 C346.7,385.2 343.5,386.2 341.4,386.8 C339.3,387.4 336.9,388.7 335.0,388.7 C333.1,388.7 330.8,387.9 329.9,386.8 C328.9,385.7 328.7,383.7 329.3,382.3 C329.9,380.9 331.9,379.4 333.7,378.5 C335.5,377.6 338.0,377.3 340.1,377.2 C342.2,377.1 344.4,377.6 346.5,377.9 C348.6,378.2 350.7,378.7 352.8,379.1 C354.9,379.5 358.1,380.2 359.2,380.4 M354.1,385.5 C355.8,385.3 360.9,384.6 364.3,384.2 C367.7,383.8 371.1,383.4 374.5,383.0 C377.9,382.6 381.3,382.0 384.7,381.7 C388.1,381.4 392.2,380.9 394.9,381.0 C397.6,381.1 398.3,382.0 401.0,382.5 C403.7,383.0 408.0,383.5 411.2,384.2 C414.4,384.9 417.1,386.6 420.1,386.8 C423.1,387.0 426.2,385.7 429.0,385.5 C431.8,385.3 435.0,385.1 436.7,385.5 C438.4,385.9 439.2,387.1 439.2,388.0 C439.2,388.9 438.8,390.3 436.7,390.6 C434.6,390.9 428.2,390.1 426.5,390.0 M346.5,392.0 C347.8,391.7 351.4,390.2 354.1,390.0 C356.9,389.8 361.5,390.5 363.0,390.6 M366.9,392.0 C368.2,391.4 371.1,389.4 374.5,388.7 C377.9,388.0 382.8,388.1 387.2,388.0 C391.6,387.9 398.7,388.0 401.0,388.0 M390.4,391.3 C390.1,391.7 389.9,393.2 388.5,393.8 C387.1,394.4 384.4,394.5 382.1,395.1 C379.8,395.7 377.2,396.8 374.5,397.6 C371.8,398.5 368.2,399.6 365.6,400.2 C363.1,400.8 361.3,401.7 359.2,401.5 C357.1,401.3 354.7,400.0 352.8,398.9 C350.9,397.8 348.9,396.4 347.8,395.1 C346.8,393.8 345.4,392.2 346.5,391.3 C347.6,390.4 352.0,389.8 354.1,390.0 C356.2,390.2 357.7,391.6 359.2,392.5 C360.7,393.4 361.7,395.1 363.0,395.1 C364.3,395.1 366.2,392.9 366.9,392.5 M356.0,413.6 C355.5,414.1 354.4,415.8 352.8,416.8 C351.2,417.9 348.6,419.6 346.5,419.9 C344.4,420.2 341.5,419.6 340.1,418.7 C338.7,417.8 338.0,415.4 338.2,414.2 C338.4,413.0 339.8,412.3 341.4,411.7 C343.0,411.1 346.0,410.9 347.8,410.4 C349.6,409.9 351.6,409.5 352.2,408.5 C352.8,407.5 352.6,405.5 351.6,404.6 C350.7,403.8 348.8,403.4 346.5,403.4 C344.2,403.4 340.2,404.6 337.6,404.6 C335.1,404.6 332.5,404.2 331.2,403.4 C329.9,402.6 329.5,400.7 329.9,399.6 C330.3,398.5 331.8,397.3 333.7,397.0 C335.6,396.7 340.1,397.5 341.4,397.6 M368.8,405.3 C370.0,404.9 373.2,403.6 375.8,402.7 C378.4,401.8 381.9,401.0 384.7,400.2 C387.4,399.4 389.6,398.2 392.3,397.6 C395.0,397.0 399.6,396.6 401.0,396.4 M401.0,392.5 C402.3,392.3 406.1,391.4 408.6,391.3 C411.2,391.2 414.6,391.5 416.3,391.9 C418.0,392.3 418.8,393.2 418.8,393.8 C418.8,394.4 418.0,395.4 416.3,395.7 C414.6,396.0 411.2,395.8 408.6,395.7 C406.1,395.6 402.3,395.2 401.0,395.1 M426.5,390.0 C427.8,390.2 432.0,391.2 434.1,391.3 C436.2,391.4 438.4,390.7 439.2,390.6 M423.9,395.7 C425.0,395.8 428.0,396.4 430.3,396.4 C432.6,396.4 436.6,395.8 437.9,395.7 M369.4,408.5 C368.3,408.5 364.5,408.2 363.0,408.5 C361.5,408.8 360.7,409.7 360.5,410.4 C360.3,411.1 360.7,412.3 361.8,412.9 C362.9,413.5 364.8,413.8 366.9,414.2 C369.0,414.6 372.0,415.1 374.5,415.5 C377.0,415.9 379.6,416.5 382.1,416.8 C384.7,417.1 388.2,416.9 389.8,417.4 C391.4,417.9 392.1,419.2 391.7,419.9 C391.3,420.6 389.2,421.6 387.2,421.8 C385.2,422.0 382.1,421.5 379.6,421.2 C377.1,420.9 374.3,420.2 372.0,419.9 C369.7,419.6 366.9,419.0 365.6,419.3 C364.3,419.6 364.1,420.7 364.3,421.8 C364.5,422.9 365.2,424.9 366.9,425.7 C368.6,426.5 371.5,426.7 374.5,426.9 C377.5,427.1 381.7,427.1 384.7,426.9 C387.7,426.7 389.6,426.2 392.3,425.7 C395.0,425.2 399.6,424.1 401.0,423.8 M387.2,411.7 C385.9,411.6 381.4,411.4 379.6,411.0 C377.8,410.6 376.6,409.8 376.4,409.1 C376.2,408.4 376.9,406.6 378.3,406.6 C379.7,406.6 382.4,408.2 384.7,409.1 C387.0,410.0 389.6,411.4 392.3,411.7 C395.0,412.0 398.3,411.2 401.0,411.0 C403.7,410.8 406.3,410.6 408.6,410.4 C410.9,410.2 412.4,409.9 415.0,409.7 C417.6,409.5 421.1,409.4 423.9,409.1 C426.7,408.8 429.9,408.4 431.6,407.8 C433.3,407.2 433.9,406.2 434.1,405.3 C434.3,404.4 434.1,403.2 432.8,402.7 C431.5,402.2 429.2,402.3 426.5,402.1 C423.8,401.9 419.3,401.8 416.3,401.5 C413.3,401.2 411.2,400.6 408.6,400.2 C406.1,399.8 402.3,399.1 401.0,398.9 M401.0,407.8 C400.2,407.6 397.4,407.5 396.2,406.6 C395.0,405.8 393.4,403.7 393.6,402.7 C393.8,401.7 396.2,401.0 397.4,400.8 C398.6,400.6 400.4,401.4 401.0,401.5 M401.0,402.7 C402.3,402.9 406.9,403.4 408.6,404.0 C410.3,404.6 411.2,405.9 411.2,406.6 C411.2,407.4 410.3,408.3 408.6,408.5 C406.9,408.7 402.3,407.9 401.0,407.8 M401.0,414.2 C402.7,414.1 407.8,413.8 411.2,413.6 C414.6,413.4 418.0,413.3 421.4,412.9 C424.8,412.5 429.0,411.2 431.6,411.0 C434.2,410.8 436.2,411.2 437.3,411.7 C438.4,412.2 438.6,413.3 437.9,414.2 C437.1,415.1 435.1,416.1 432.8,416.8 C430.5,417.6 427.1,418.2 423.9,418.7 C420.7,419.2 416.7,419.6 413.7,419.9 C410.7,420.2 408.2,420.5 406.1,420.6 C404.0,420.7 401.9,420.6 401.0,420.6 M401.0,424.4 C402.3,424.5 406.7,424.6 408.6,425.0 C410.5,425.4 412.1,426.1 412.5,426.9 C412.9,427.6 412.3,429.0 411.2,429.5 C410.1,430.0 407.8,429.9 406.1,430.1 C404.4,430.3 401.9,430.7 401.0,430.8 M370.0,433.3 C368.8,432.7 365.2,430.7 363.0,429.5 C360.8,428.3 358.4,426.8 356.7,426.3 C355.0,425.8 353.6,425.8 352.8,426.3 C352.0,426.8 351.2,428.1 351.6,429.5 C352.0,430.9 353.7,433.1 355.4,434.6 C357.1,436.1 359.7,437.3 361.8,438.4 C363.9,439.5 366.0,440.2 368.1,441.0 C370.2,441.8 373.4,442.6 374.5,442.9 M401.0,429.5 C399.6,429.7 395.0,430.4 392.3,430.8 C389.6,431.2 386.8,431.6 384.7,432.0 C382.6,432.4 380.7,432.7 379.6,433.3 C378.5,433.9 377.9,435.0 378.3,435.9 C378.7,436.8 380.2,437.9 382.1,438.4 C384.0,438.9 386.7,439.0 389.8,439.0 C392.9,439.0 399.1,438.5 401.0,438.4 M386.0,443.5 C387.1,443.6 389.8,444.1 392.3,444.1 C394.8,444.1 399.6,443.6 401.0,443.5 M412.5,438.4 C413.1,437.5 415.0,435.2 416.3,433.3 C417.6,431.4 418.6,428.1 420.1,426.9 C421.6,425.7 423.9,425.9 425.2,426.3 C426.5,426.7 426.9,428.6 427.8,429.5 C428.7,430.4 429.2,431.8 430.3,432.0 C431.4,432.2 433.0,432.3 434.1,430.8 C435.2,429.3 435.0,425.0 436.7,423.1 C438.4,421.2 442.8,420.6 444.3,419.3 C445.8,418.0 444.8,416.4 445.6,415.5 C446.5,414.6 447.5,413.7 449.4,413.6 C451.3,413.5 454.8,414.2 457.1,414.8 C459.4,415.4 462.4,416.3 463.4,417.4 C464.3,418.5 464.3,420.0 462.8,421.2 C461.3,422.4 456.9,423.4 454.5,424.4 C452.1,425.3 449.8,426.0 448.1,426.9 C446.4,427.8 445.4,428.2 444.3,429.5 C443.2,430.8 442.9,433.1 441.8,434.6 C440.7,436.1 439.6,437.4 437.9,438.4 C436.2,439.3 433.6,440.2 431.6,440.3 C429.6,440.4 427.9,438.9 425.9,439.2 C423.9,439.5 422.2,441.1 419.8,442.3 C417.4,443.5 414.7,445.0 411.6,446.4 C408.5,447.8 404.7,449.5 401.3,450.4 C397.9,451.2 394.5,451.7 391.1,451.5 C387.7,451.3 382.6,449.8 380.9,449.4 M401.0,437.1 C401.9,437.3 405.5,437.5 406.1,438.4 C406.7,439.2 405.7,441.3 404.8,442.2 C403.9,443.1 401.6,443.3 401.0,443.5 M401.3,432.0 C399.3,431.8 392.5,430.8 389.1,431.0 C385.7,431.2 382.6,432.2 380.9,433.1 C379.2,434.0 378.6,435.1 378.9,436.1 C379.2,437.1 380.5,438.7 382.9,439.2 C385.3,439.7 389.8,439.5 393.2,439.2 C396.6,438.9 401.2,437.2 403.4,437.2 C405.6,437.2 406.5,438.3 406.5,439.2 C406.5,440.1 405.3,441.4 403.4,442.3 C401.5,443.2 398.1,444.1 395.2,444.3 C392.3,444.5 387.5,443.5 386.0,443.3" fill="none" stroke="#2b50aa" stroke-width="1.3" stroke-dasharray="2.4 0.4" stroke-linecap="butt" stroke-linejoin="round"/>
<path d="M399.2,345.6 l-0.2,0.8 M402.1,337.7 l0.0,0.9 M372.2,354.4 l-0.6,-0.7 M356.9,353.9 l1.3,0.8 M388.4,347.1 l0.2,-0.9 M391.6,347.9 l0.9,-1.0 M415.5,353.8 l0.7,-1.7 M425.1,350.7 l0.6,-0.7 M409.8,346.7 l-0.8,1.5 M387.3,366.5 l-0.7,-1.2 M398.8,368.6 l-0.3,-1.6 M393.9,365.6 l0.4,0.8 M379.7,362.5 l0.1,-0.9 M374.7,361.9 l-0.0,0.9 M375.6,369.5 l-0.7,0.8 M432.8,348.5 l0.7,-0.6 M433.7,349.4 l1.4,-0.9 M423.9,365.6 l-0.5,0.9 M434.9,360.1 l-0.7,1.4 M387.3,376.7 l-0.7,1.1 M357.7,376.1 l-0.5,0.7 M396.9,379.3 l-0.3,1.0 M432.2,379.1 l0.9,-1.2 M329.9,383.2 l0.8,-0.3 M336.8,377.4 l-1.1,-1.4 M342.5,378.0 l-0.0,0.9 M359.3,384.3 l-0.7,-1.0 M371.6,383.8 l0.3,1.6 M390.2,381.8 l0.3,1.0 M409.2,384.4 l-0.3,1.5 M419.6,387.2 l-0.8,1.0 M433.8,389.9 l-0.4,-1.5 M426.9,390.5 l0.3,1.4 M383.1,388.7 l0.5,1.2 M387.8,388.5 l0.6,1.0 M390.2,388.5 l-0.0,1.4 M372.8,398.6 l0.0,1.4 M349.5,391.3 l-0.2,0.9 M364.3,393.6 l-0.7,-1.1 M354.5,414.4 l-0.8,-0.4 M348.3,410.7 l0.9,1.2 M352.7,408.2 l1.5,0.1 M337.8,404.1 l0.7,-1.6 M336.0,404.8 l-0.2,1.8 M389.9,398.9 l0.7,1.1 M405.4,391.3 l0.3,-0.9 M405.8,396.0 l-0.6,0.9 M360.9,409.5 l-0.7,-1.4 M364.0,414.0 l-0.1,1.3 M371.0,419.3 l-0.2,-1.0 M377.8,426.4 l0.0,-0.9 M384.5,412.0 l-0.1,1.7 M378.1,410.7 l-1.3,0.9 M380.9,407.1 l1.2,-0.9 M397.5,411.8 l-0.2,1.7 M412.0,409.5 l-0.3,-1.3 M420.2,409.9 l-0.2,1.7 M428.0,402.7 l0.2,1.2 M418.0,401.1 l-0.4,-1.4 M408.8,414.2 l-0.7,1.6 M430.8,411.7 l0.4,1.1 M435.2,411.9 l0.6,1.7 M425.0,418.0 l-0.9,-1.4 M417.8,419.9 l1.0,1.2 M416.1,420.1 l-0.2,1.0 M412.0,429.1 l0.8,1.2 M410.5,429.1 l0.7,-1.6 M360.3,437.0 l0.0,-1.0 M362.8,439.3 l-1.3,1.2 M368.2,441.5 l-0.3,1.5 M414.9,434.3 l-0.7,-1.5 M417.1,432.9 l0.4,0.9 M435.0,426.5 l-1.0,-0.2 M450.3,413.2 l-0.1,-1.0 M459.2,416.2 l-0.7,1.1 M461.8,416.2 l0.2,-1.2 M439.7,436.0 l-1.3,-1.0 M429.9,440.5 l0.5,1.6 M412.9,446.3 l1.3,1.2 M401.3,449.9 l-0.4,-1.7 M390.1,431.6 l-0.4,0.7 M387.6,431.9 l0.7,1.3 M387.1,439.7 l-0.3,1.0 M398.7,438.6 l0.2,0.9 M405.1,438.9 l-1.2,0.9 M401.9,442.2 l-1.1,-1.4" fill="none" stroke="#2b50aa" stroke-width="0.8" stroke-linecap="round"/>
<path d="M450.0,394.0 C451.0,393.9 454.0,393.5 456.0,393.5 C458.0,393.5 461.0,393.9 462.0,394.0 M455.0,398.0 C455.7,398.3 457.7,399.9 459.0,400.0 C460.3,400.1 461.8,398.3 463.0,398.5 C464.2,398.7 465.5,400.6 466.0,401.0" fill="none" stroke="#e0242a" stroke-width="1.3" stroke-dasharray="2.4 0.4" stroke-linecap="butt" stroke-linejoin="round"/>
<path d="M460.6,394.4 l-0.1,0.9 M455.6,398.9 l-0.3,0.8" fill="none" stroke="#e0242a" stroke-width="0.8" stroke-linecap="round"/>
<path d="M450.4,401.9 L449.2,402.3 L448.4,402.5 L447.4,402.7 L447.4,403.6 L446.8,404.5 L447.7,405.2 L447.2,404.0 L447.6,403.0 L448.1,402.1 L449.2,402.0 M466.6,403.6 L466.0,402.5 L465.1,402.9 L464.6,402.6 L463.8,402.5 L462.7,403.0 L462.1,403.2 L461.8,403.9 L461.3,404.3 L461.5,405.0 L462.5,405.0 L463.7,404.8 L464.4,405.1 M451.7,400.4 L452.2,401.3 L451.6,402.0 L451.6,403.2 L452.1,403.9 L453.0,404.1 L453.3,403.3 L454.5,402.9 L454.4,402.1 L455.2,401.2 L454.8,400.5 L454.2,399.4 M453.1,405.4 L453.0,406.2 L453.5,406.9 L454.6,407.2 L455.8,407.6 L456.2,408.5 L456.5,407.9 L457.3,407.4 L458.0,406.6 L458.0,405.6 L457.7,404.9 L458.2,404.1 M459.6,407.4 L458.9,407.0 L458.8,405.9 L458.8,405.0 L458.3,404.0 L458.6,403.3 L458.4,402.5 L459.1,402.0 L459.6,401.7 L460.7,402.2 L461.3,403.3 L461.9,403.7 M467.5,403.6 L467.7,402.9 L467.2,402.1 L466.9,401.0 L467.5,399.9 L467.5,398.9 L468.7,398.6 L469.9,398.5 L470.6,398.4 L471.6,399.1 L471.8,400.1 M459.3,381.5 L458.8,381.1 L459.0,380.3 L460.0,379.7 L460.7,380.0 L461.7,379.7 L461.7,378.9 L461.3,378.4 L461.1,377.5 L461.2,378.5 L460.5,379.3 L460.9,380.1 L461.5,380.6 M465.7,396.7 L465.2,397.5 L465.8,398.0 L465.4,398.6 L464.7,399.1 L463.8,399.1 L463.3,399.7 L462.5,399.7 L461.4,400.2 L461.1,400.7 L460.2,401.0 L459.0,400.7 L459.0,400.0 M456.4,386.5 L456.8,385.8 L457.7,386.3 L458.9,386.7 L459.6,386.3 L459.6,385.6 L459.2,384.8 L458.2,385.0 L457.4,384.4 L457.2,383.7 L458.1,383.1 L459.0,384.0 M463.0,403.5 L463.7,404.1 L464.9,404.6 L465.7,404.5 L466.5,404.1 L466.3,402.9 L465.1,402.5 L464.7,401.3 L465.3,400.6 L466.4,400.1 L467.5,400.5 M468.0,398.9 L467.6,397.7 L468.4,397.3 L468.9,398.2 L469.8,398.6 L470.9,399.0 L471.8,398.8 L471.9,397.9 L472.5,397.6 L471.6,397.2 L471.4,396.6 L470.6,396.5 M465.1,405.0 L465.2,404.4 L464.4,403.9 L463.9,403.5 L462.8,404.1 L462.3,404.8 L462.5,405.9 L462.6,406.7 L463.3,406.9 L464.0,406.9 L464.2,406.3 L464.8,406.1 L464.9,405.5 L465.5,405.2 M460.7,400.6 L461.3,400.8 L462.1,401.2 L462.3,402.1 L462.6,402.8 L463.4,403.0 L463.7,402.1 L462.9,401.8 L461.8,401.5 L461.6,400.3 L461.7,399.1 L462.6,398.4 M464.4,391.8 L463.5,391.6 L463.0,392.5 L463.5,392.9 L463.8,393.8 L464.9,393.9 L465.5,395.0 L465.1,395.6 L464.0,395.1 L463.0,395.5 L463.0,396.6 L462.3,397.3 M448.2,398.7 L449.1,399.4 L449.0,400.5 L449.7,400.8 L450.5,401.0 L450.9,400.6 L451.7,400.3 L452.1,399.8 L453.2,400.0 L454.4,399.8 L454.3,399.0 L455.2,398.2 M458.0,379.1 L458.5,380.0 L458.5,380.8 L459.1,381.8 L460.0,381.5 L459.9,380.3 L460.8,379.9 L460.5,379.2 L460.1,378.4 L459.3,377.5 L458.7,378.1 L459.3,379.2 M455.4,400.2 L454.6,400.3 L453.8,399.6 L453.3,398.5 L453.1,397.8 L453.4,396.8 L454.0,396.8 L454.5,397.2 L454.6,398.0 L455.1,398.4 L456.1,398.5 L456.5,399.4 L457.5,399.5" fill="none" stroke="#e0242a" stroke-width="0.85" stroke-linejoin="round"/>
<path d="M449.7,386.6 C449.9,385.5 449.6,381.6 451.0,379.7 C452.4,377.8 455.6,376.0 457.9,375.5 C460.2,375.0 462.9,375.8 464.8,376.9 C466.7,378.0 468.5,380.6 469.0,382.4 C469.5,384.2 467.2,386.5 467.6,387.9 C468.1,389.3 470.6,389.1 471.7,390.7 C472.8,392.3 474.5,395.3 474.5,397.6 C474.5,399.9 473.6,402.7 471.7,404.5 C469.8,406.3 466.1,407.7 463.4,408.6 C460.6,409.5 457.9,410.2 455.2,410.0 C452.4,409.8 449.0,408.6 446.9,407.2 C444.8,405.8 443.3,403.8 442.8,401.7 C442.3,399.6 443.0,396.4 444.1,394.8 C445.2,393.2 448.8,393.5 449.7,392.1 C450.6,390.7 449.7,387.5 449.7,386.6" fill="none" stroke="#e0242a" stroke-width="1.58" stroke-dasharray="1.3 0.5" stroke-linejoin="round"/>
<path d="M474.6,399.8 L474.8,398.8 L473.6,398.5 L473.5,399.7 L474.5,400.3 L473.6,400.7 L472.6,400.0 L473.1,400.8 L472.9,401.9 L473.2,402.7 L472.8,403.3 M450.2,388.2 L450.6,387.2 L449.9,387.0 L449.0,387.3 L449.4,387.8 L450.0,387.9 L450.7,387.3 L450.4,386.2 L450.6,385.4 L451.1,385.0 L450.3,384.5 L449.3,384.0 L450.4,384.6 M443.7,403.0 L444.8,402.7 L444.7,403.8 L445.1,404.7 L446.3,405.0 L445.2,405.5 L446.1,404.6 L446.7,405.1 L446.2,406.2 L446.5,406.8 L446.0,407.7 M467.1,379.3 L466.4,378.2 L465.9,377.1 L465.3,376.7 L464.7,376.0 L463.8,376.2 L463.7,376.9 L463.0,377.1 L464.0,376.5 L465.0,376.7 L465.5,375.8 L465.2,377.0 M450.5,391.6 L450.1,390.4 L449.4,390.0 L448.7,389.3 L449.7,388.8 L450.4,388.8 L449.7,388.9 L448.9,389.7 L449.7,389.0 L450.6,389.8 L450.2,390.7 M465.2,377.1 L465.9,378.3 L465.5,379.0 L466.5,379.8 L467.6,380.0 L467.2,380.9 L467.9,380.9 L468.1,381.7 L468.5,381.1 L468.4,381.8 L468.8,382.2 L468.0,383.1 M456.0,411.1 L455.0,410.7 L454.9,409.9 L455.1,409.2 L454.6,408.6 L453.7,408.9 L452.6,408.2 L452.3,408.9 L453.1,409.7 L453.2,410.5 L453.6,409.7 L453.7,408.6 M463.8,408.9 L463.2,408.5 L463.4,407.5 L463.8,408.1 L464.5,408.3 L465.2,407.8 L464.7,406.7 L464.1,407.8 L463.3,407.9 L462.3,408.6 L461.7,409.5 L462.2,408.8 M451.4,381.1 L451.1,380.2 L452.0,379.8 L451.3,380.0 L450.5,380.0 L450.3,379.0 L450.3,380.1 L451.4,380.4 L452.5,379.9 L452.0,378.7 L451.8,378.1 L452.5,378.3 M467.0,387.2 L467.7,386.3 L468.2,385.8 L469.1,385.2 L468.8,384.4 L467.7,384.5 L468.5,384.9 L468.7,385.5 L468.5,384.8 L468.2,384.0 L469.1,384.1 L468.9,385.1 L467.9,385.1 M445.2,405.5 L445.3,406.1 L446.2,406.6 L447.1,407.2 L447.1,408.2 L447.5,408.7 L448.0,408.0 L447.8,406.9 L447.1,407.9 L446.4,407.9 L447.1,406.9 L446.9,405.8" fill="none" stroke="#e0242a" stroke-width="0.85" stroke-linejoin="round"/>
<path d="M453.0,392.0 C453.8,391.7 456.3,390.1 458.0,390.0 C459.7,389.9 461.4,391.9 463.0,391.5 C464.6,391.1 466.8,388.5 467.6,387.9" fill="none" stroke="#e0242a" stroke-width="1.15" stroke-dasharray="1.3 0.5" stroke-linejoin="round"/>
<path d="M457.8,389.2 L456.9,390.1 L456.5,391.0 L455.4,391.6 L456.3,390.9 L457.0,390.6 L457.6,391.0 L458.2,390.5 L457.8,389.8 L458.3,390.9 L457.6,391.0 L456.7,390.1 M467.1,387.3 L466.6,388.4 L467.1,389.3 L466.0,389.7 L465.2,390.7 L465.6,390.2 L466.1,389.2 L466.7,388.2 L467.5,388.0 L466.8,388.3 L467.4,388.5 L466.8,389.6" fill="none" stroke="#e0242a" stroke-width="0.85" stroke-linejoin="round"/>
<text x="401.6" y="327.6" font-size="7.7" font-weight="bold" text-anchor="middle" textLength="99.2" lengthAdjust="spacingAndGlyphs" fill="#231f20">t-SNE Projection for XGBoost</text>
<rect x="321.4" y="331.5" width="160.10000000000002" height="126.60000000000002" fill="none" stroke="#7a7a7a" stroke-width="1.2"/>
<text x="319.0" y="333.2" font-size="4.6" font-weight="bold" text-anchor="end" fill="#333">150</text>
<line x1="320.2" y1="331.5" x2="321.4" y2="331.5" stroke="#888" stroke-width="0.6"/>
<text x="319.0" y="354.3" font-size="4.6" font-weight="bold" text-anchor="end" fill="#333">100</text>
<line x1="320.2" y1="352.6" x2="321.4" y2="352.6" stroke="#888" stroke-width="0.6"/>
<text x="319.0" y="375.4" font-size="4.6" font-weight="bold" text-anchor="end" fill="#333">50</text>
<line x1="320.2" y1="373.7" x2="321.4" y2="373.7" stroke="#888" stroke-width="0.6"/>
<text x="319.0" y="396.5" font-size="4.6" font-weight="bold" text-anchor="end" fill="#333">0</text>
<line x1="320.2" y1="394.8" x2="321.4" y2="394.8" stroke="#888" stroke-width="0.6"/>
<text x="319.0" y="417.6" font-size="4.6" font-weight="bold" text-anchor="end" fill="#333">-50</text>
<line x1="320.2" y1="415.90000000000003" x2="321.4" y2="415.90000000000003" stroke="#888" stroke-width="0.6"/>
<text x="319.0" y="438.7" font-size="4.6" font-weight="bold" text-anchor="end" fill="#333">-100</text>
<line x1="320.2" y1="437.0" x2="321.4" y2="437.0" stroke="#888" stroke-width="0.6"/>
<text x="319.0" y="459.8" font-size="4.6" font-weight="bold" text-anchor="end" fill="#333">-150</text>
<line x1="320.2" y1="458.1" x2="321.4" y2="458.1" stroke="#888" stroke-width="0.6"/>
<text x="342.9" y="464.8" font-size="4.6" font-weight="bold" text-anchor="middle" fill="#333">-100</text>
<line x1="342.3" y1="458.1" x2="342.3" y2="459.3" stroke="#888" stroke-width="0.6"/>
<text x="372.5" y="464.8" font-size="4.6" font-weight="bold" text-anchor="middle" fill="#333">-50</text>
<line x1="372.3" y1="458.1" x2="372.3" y2="459.3" stroke="#888" stroke-width="0.6"/>
<text x="403.5" y="464.8" font-size="4.6" font-weight="bold" text-anchor="middle" fill="#333">0</text>
<line x1="401.8" y1="458.1" x2="401.8" y2="459.3" stroke="#888" stroke-width="0.6"/>
<text x="432.9" y="464.8" font-size="4.6" font-weight="bold" text-anchor="middle" fill="#333">50</text>
<line x1="431.5" y1="458.1" x2="431.5" y2="459.3" stroke="#888" stroke-width="0.6"/>
<text x="461.7" y="464.8" font-size="4.6" font-weight="bold" text-anchor="middle" fill="#333">100</text>
<line x1="461.0" y1="458.1" x2="461.0" y2="459.3" stroke="#888" stroke-width="0.6"/>
<text x="404.45" y="470.5" font-size="5.6" font-weight="bold" text-anchor="middle" textLength="50.5" lengthAdjust="spacingAndGlyphs" fill="#231f20">t-SNE Dimension 2</text>
<text transform="translate(307.29999999999995,395.1) rotate(-90)" font-size="5.6" font-weight="bold" text-anchor="middle" textLength="50.2" lengthAdjust="spacingAndGlyphs" fill="#231f20">t-SNE Dimension 1</text>
<rect x="452.9" y="333.2" width="27.5" height="14.4" fill="#fff" stroke="#cfcfcf" stroke-width="0.7"/>
<circle cx="458.6" cy="337.3" r="1.2" fill="#1f4fb4"/>
<circle cx="458.6" cy="344.1" r="1.2" fill="#e8232a"/>
<text x="461.9" y="339.0" font-size="4.4" font-weight="bold" text-anchor="start" textLength="14.0" lengthAdjust="spacingAndGlyphs" fill="#333">Lable 0</text>
<text x="461.9" y="345.8" font-size="4.4" font-weight="bold" text-anchor="start" textLength="14.0" lengthAdjust="spacingAndGlyphs" fill="#333">Lable 1</text>
</svg>
</body></html>
